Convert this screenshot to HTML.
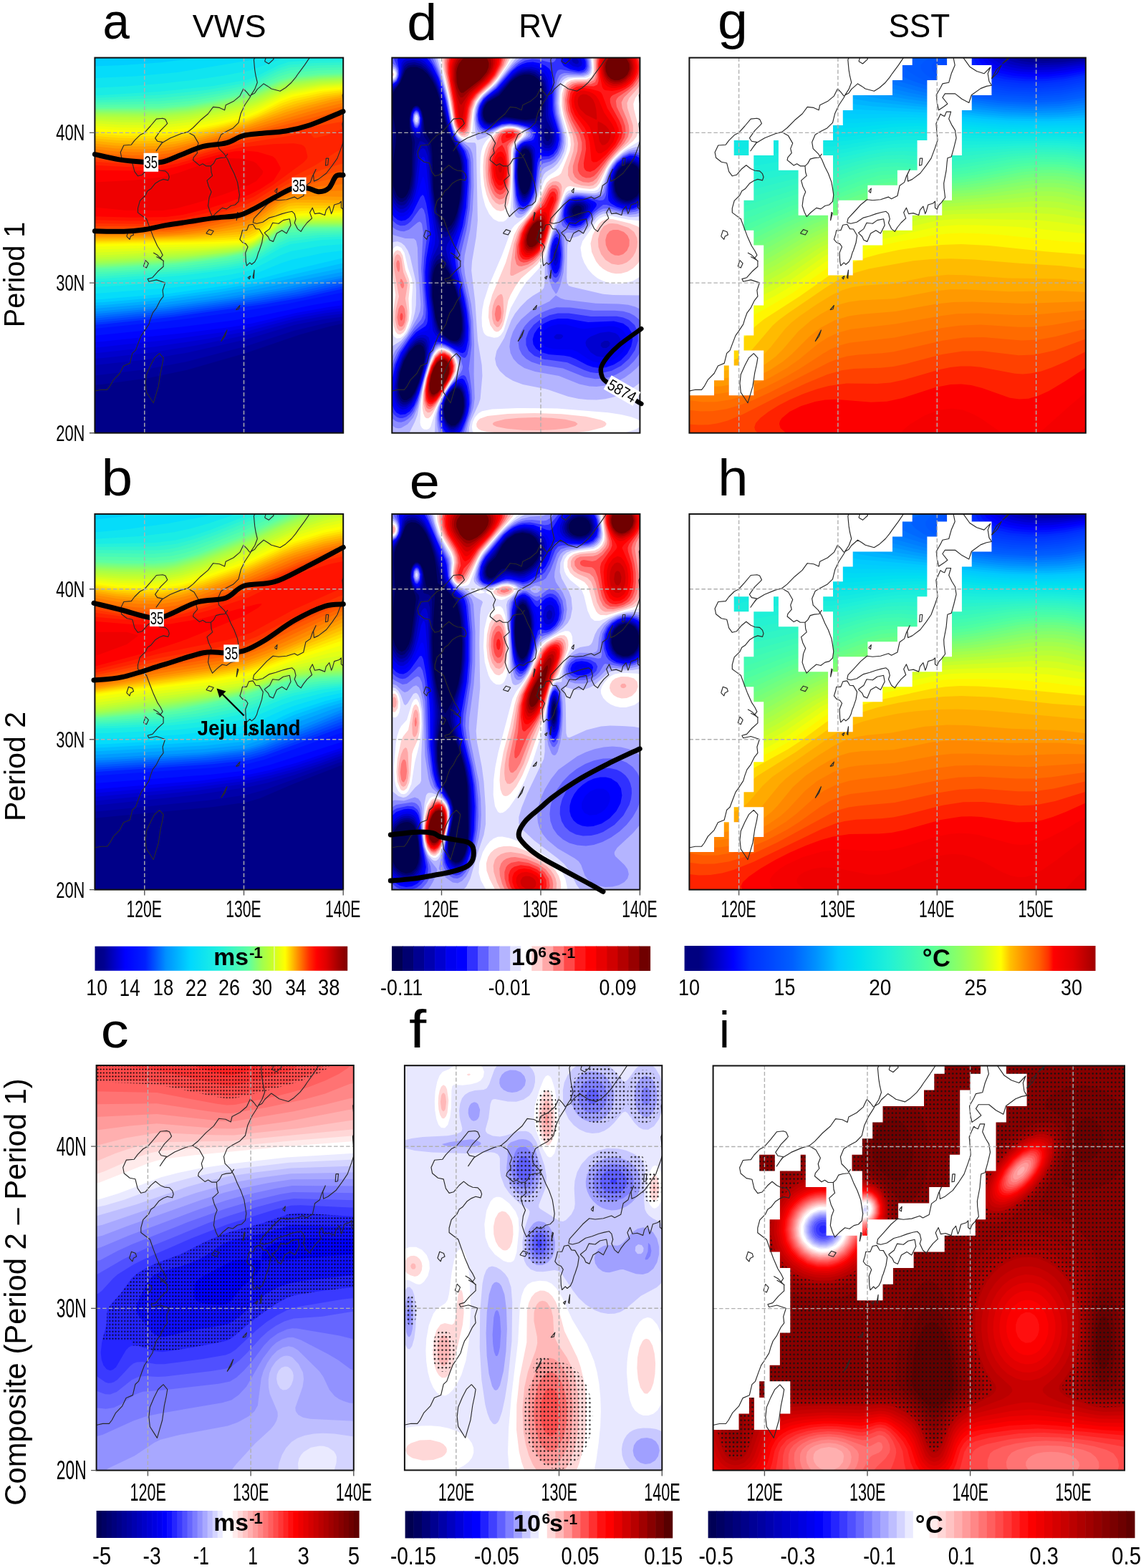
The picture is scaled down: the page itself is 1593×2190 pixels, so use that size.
<!DOCTYPE html>
<html><head><meta charset="utf-8"><title>VWS RV SST composite</title>
<style>html,body{margin:0;padding:0;background:#fff;}svg{display:block;}</style></head>
<body>
<svg xmlns="http://www.w3.org/2000/svg" width="1593" height="2190" viewBox="0 0 1593 2190" font-family="'Liberation Sans', Arial, sans-serif">
<defs><pattern id="dotc" width="4.19" height="4.95" patternUnits="userSpaceOnUse" x="0.3" y="1.1"><circle cx="2.1" cy="2.5" r="1.05" fill="#000"/></pattern><pattern id="dotf" width="5.28" height="6.13" patternUnits="userSpaceOnUse" x="2.4" y="0.8"><circle cx="2.64" cy="3.06" r="1.2" fill="#111"/></pattern><clipPath id="clipa"><rect x="132.4" y="80.6" width="346.8" height="524.1"/></clipPath><clipPath id="clipd"><rect x="547.3" y="80.6" width="346.1" height="524.1"/></clipPath><clipPath id="clipg"><rect x="962.4" y="80.6" width="553.4" height="524.1"/></clipPath><clipPath id="clipb"><rect x="132.4" y="717.9" width="346.8" height="524.7"/></clipPath><clipPath id="clipe"><rect x="547.3" y="717.9" width="346.1" height="524.7"/></clipPath><clipPath id="cliph"><rect x="962.4" y="717.9" width="553.4" height="524.7"/></clipPath><clipPath id="clipc"><rect x="134.6" y="1488.0" width="359.2" height="565.6"/></clipPath><clipPath id="clipf"><rect x="564.9" y="1488.2" width="359.4" height="565.2"/></clipPath><clipPath id="clipi"><rect x="995.6" y="1488.5" width="574.4" height="565.1"/></clipPath></defs>
<rect width="1593" height="2190" fill="#fff"/>
<g clip-path="url(#clipa)">
<rect x="132.4" y="80.6" width="346.8" height="524.1" fill="#fff"/>
<rect x="130.0" y="78.0" width="353.0" height="530.0" fill="#000088"/><path fill="#00009a" fill-rule="evenodd" d="M142 537L130 537.9L130 78L482 78L482 451.4L459.8 456L419 467.3L343.7 493L260.1 517L207.5 528L142 537Z"/><path fill="#0000ab" fill-rule="evenodd" d="M137 524.1L130 524.4L130 78L482 78L482 446.5L454 451.4L411 461.7L343 483.8L260 505.3L203 515.9L137 524.1Z"/><path fill="#0000bc" fill-rule="evenodd" d="M132 510L130 510.1L130 78L482 78L482 442L451.4 446L410.8 454L342 474.6L262 492.6L200 502.7L132 510Z"/><path fill="#0000cd" fill-rule="evenodd" d="M144 500L130 501L130 78L482 78L482 437.8L452 441.4L410 449.2L345 467.7L275 482.3L215 491.9L144 500Z"/><path fill="#0000de" fill-rule="evenodd" d="M136 493L130 493.3L130 78L482 78L482 433.8L453 437.4L411 445.1L346 462.5L290 473.3L216 484.3L136 493Z"/><path fill="#0000ef" fill-rule="evenodd" d="M139 485.1L130 485.6L130 78L482 78L482 429.7L454 433.4L412.1 441L349 457L309 464.3L231 475.1L139 485.1Z"/><path fill="#0004ff" fill-rule="evenodd" d="M133 478L130 478.1L130 78L482 78L482 425.8L458.2 429L413.7 437L353 451.5L323 456.7L262 464.6L133 478Z"/><path fill="#0012ff" fill-rule="evenodd" d="M130 469L130 78L482 78L482 418.3L436.6 426L355 442.8L326 447.6L251 456.8L130 469Z"/><path fill="#001fff" fill-rule="evenodd" d="M131 459L130 459L130 78L482 78L482 407.9L403 423.9L331 435.8L228 449.3L131 459Z"/><path fill="#0035ff" fill-rule="evenodd" d="M143 453.1L130 454L130 78L482 78L482 402.5L421.1 416L368 425L243 442.4L143 453.1Z"/><path fill="#0046ff" fill-rule="evenodd" d="M143 450L130 450.9L130 78L482 78L482 399.4L421.4 413L372 421.5L243 439.5L143 450Z"/><path fill="#0057ff" fill-rule="evenodd" d="M141 447.1L130 447.8L130 78L482 78L482 396.2L417 410.7L363 419.9L242 436.7L141 447.1Z"/><path fill="#0068ff" fill-rule="evenodd" d="M140 444L130 444.6L130 78L482 78L482 393.1L413 408.3L350 418.9L239 434.1L140 444Z"/><path fill="#0079ff" fill-rule="evenodd" d="M139 441L130 441.5L130 78L482 78L482 390.1L408 406.1L335 418.2L235 431.7L139 441Z"/><path fill="#008bff" fill-rule="evenodd" d="M138 438L130 438.4L130 78L482 78L482 387.3L401 404.3L326 416.7L230 429.4L138 438Z"/><path fill="#009bff" fill-rule="evenodd" d="M137 435L130 435.3L130 78L482 78L482 384.2L386 403.7L314 415.5L229 426.6L137 435Z"/><path fill="#00acff" fill-rule="evenodd" d="M131 431L130 431L130 78L482 78L482 379.1L360 403.5L298 413.5L219 423.7L131 431Z"/><path fill="#00bdff" fill-rule="evenodd" d="M147 426L130 426.9L130 78L482 78L482 373.6L353 400.3L304 408.6L229 418.7L147 426Z"/><path fill="#00ceff" fill-rule="evenodd" d="M146 422L130 422.8L130 82.1L170 80.3L188.8 78L482 78L482 366.7L356 395.4L313 403.2L233 414.4L146 422Z"/><path fill="#05dcfa" fill-rule="evenodd" d="M141 418.1L130 418.5L130 92.5L172 91L225 87.2L265.2 82L281.4 78L482 78L482 359.6L411 376.5L356.5 391L320.9 398L236.4 410L141 418.1Z"/><path fill="#10e4f0" fill-rule="evenodd" d="M134 410L130 410.1L130 109L189 106.4L248 101L344 85.1L361.5 81L368.1 78L482 78L482 349.6L452 353.2L409 362.3L394 367.1L352 384.3L320 391.2L282.1 397L240 401.8L134 410Z"/><path fill="#1aece5" fill-rule="evenodd" d="M133 401L130 401.1L130 122.8L173 120.7L228 116.4L269 111.9L310 105.9L349 98.4L404 78L482 78L482 340.9L448 343.5L406 351.1L391 356.8L352 376.4L342 379.6L322 383.4L288 388.4L248 392.7L184 398L133 401Z"/><path fill="#26f1da" fill-rule="evenodd" d="M134 393L130 393.1L130 133.7L221.5 128L297.9 120L347 111.1L359.4 106L388 91.6L403 86.5L435 84.3L482 83.4L482 333.6L448 335.2L406 341.1L391 347.1L351 369.7L342 372.7L323 376.3L254 384.8L183 390.4L134 393Z"/><path fill="#32f4ce" fill-rule="evenodd" d="M147 389L130 389.6L130 137.2L224 132.6L288 125.8L346 115.2L359 110.1L389 95.2L404 90.4L439 87.9L482 86.9L482 330.2L445 331.8L405 337L390 343.2L352 365.6L342 369.1L325 372.5L293 377.3L257 381.2L147 389Z"/><path fill="#3ef7c2" fill-rule="evenodd" d="M142 386L130 386.4L130 140.2L222 137.3L274.2 132L311 126L345 118.9L358 114L389 99.1L404 94.3L441 91.4L482 90.4L482 327.2L442 328.6L404 333L389 339.6L351 362.6L341 366.1L322 369.8L290 374.5L252 378.6L142 386Z"/><path fill="#49fab7" fill-rule="evenodd" d="M137 383L130 383.2L130 143.3L222 141.5L268 137L304 131L345 122.2L358 117.4L389 103L404 98.3L442 95L482 93.9L482 324.4L440 325.5L404 328.9L389 335.5L361 353.7L350 359.7L340 363L317 367.4L284 372.1L245 376.1L137 383Z"/><path fill="#55fdab" fill-rule="evenodd" d="M158 379L130 380L130 146.3L222 145.2L264 141.3L300 135.3L344 125.9L358 120.9L389 106.9L404 102.3L443 98.6L482 97.4L482 321.8L436 322.7L403.9 325L389 331.4L361 350.2L350 356.3L341 359.4L319 363.8L254 372.3L158 379Z"/><path fill="#5fffa1" fill-rule="evenodd" d="M154 376L130 376.7L130 149.4L222 148.8L262 145.3L297 139.4L344 129.3L358 124.5L389 110.9L404 106.3L444 102.2L482 100.9L482 319.4L420.2 320L403 321.4L388.2 328L361 346.7L349 353.4L340 356.4L315 361.3L249 369.7L154 376Z"/><path fill="#6cff91" fill-rule="evenodd" d="M152 374L130 374.6L130 151.4L222 151.2L262 147.7L298 141.6L344 131.6L358 126.8L389.9 113L404 108.7L445 104.4L482 103L482 317.8L413 318.1L403 319.2L388 325.9L361 344.7L349 351.4L340 354.5L315 359.3L283 364L246 367.9L152 374Z"/><path fill="#77ff84" fill-rule="evenodd" d="M141 373L130 373.2L130 152.8L222 152.7L261 149.4L296 143.5L345 132.8L358 128.3L390 114.5L405 110.1L446 105.7L482 104.3L482 316.7L413 316.9L403 317.9L389 324.1L361 343.5L349 350.3L339 353.6L313 358.5L281 363L241.7 367L141 373Z"/><path fill="#81ff76" fill-rule="evenodd" d="M156 371L130 371.8L130 154.2L222 154.4L261 151.1L298 144.7L345 134.5L359 129.5L390 116.1L405 111.6L446 107L482 105.7L482 315.6L413 315.7L403 316.8L388.8 323L361 342.4L350 348.8L340 352.2L318 356.4L251 364.8L156 371Z"/><path fill="#8cff69" fill-rule="evenodd" d="M142 370L130 370.3L130 155.7L222 156.1L262 152.7L297 146.7L344 136.5L358 131.6L390 117.7L405 113.1L446 108.4L482 107L482 314.5L413 314.6L403 315.6L388.7 322L361 341.4L350 347.8L340 351.2L317 355.4L284 360.1L246 363.8L142 370Z"/><path fill="#97ff5c" fill-rule="evenodd" d="M154 368L130 368.7L130 157.3L221 157.9L262 154.4L298 148.2L345 137.9L358 133.3L390 119.3L405 114.7L447 109.7L482 108.2L482 313.3L413 313.5L403 314.6L388.6 321L361 340.4L351 346.3L342 349.7L322 353.5L256 361.5L154 368Z"/><path fill="#a2ff4e" fill-rule="evenodd" d="M138 367L130 367.2L130 158.8L221 159.7L262 156.2L298 150L345 139.7L359 134.7L390 121L405 116.3L447 111L482 109.5L482 312.1L413 312.4L403 313.5L388.6 320L362 338.8L351 345.3L341 348.9L321 352.5L251 360.4L138 367Z"/><path fill="#aeff42" fill-rule="evenodd" d="M135 365L130 365.1L130 160.9L220 162.1L263 158.4L299 152.2L345 142L359 137L390 123.2L405 118.4L447 112.8L482 111.1L482 310.5L413 311L403 312.2L389 318.5L362 337.6L351 344.1L342 347.4L325 350.4L293 354.7L255 358.2L135 365Z"/><path fill="#baff36" fill-rule="evenodd" d="M151 362L130 362.7L130 163.3L220 164.8L263 161.1L300 154.7L345 144.7L359 139.7L391 125.3L406 120.6L448 114.6L482 112.9L482 308.7L414 309.4L403 310.6L389 317L353 341.7L344 345.4L334 347.4L268 355L151 362Z"/><path fill="#c6ff2b" fill-rule="evenodd" d="M134 360L130 360.1L130 165.8L171 167.4L219 167.6L241 166.5L265 163.6L300 157.5L345 147.5L359 142.4L391 127.9L406 123L449 116.4L482 114.6L482 306.9L415 307.8L403 309.1L389 315.6L355 339.3L346 343.4L337 345.4L269 352.6L134 360Z"/><path fill="#d4ff21" fill-rule="evenodd" d="M154 356L130 356.8L130 168.7L170 170.7L218 170.9L241 169.7L265 166.8L301 160.3L345 150.5L359 145.3L392 130L407 125.1L450 118.2L482 116.3L482 305.1L417 306.1L403 307.6L389 314.2L355 338.1L347 341.8L339 343.7L281 349.3L154 356Z"/><path fill="#e2ff16" fill-rule="evenodd" d="M155 352L130 352.8L130 172.1L170 174.4L217 174.8L239 173.6L264 170.6L301 163.8L345 153.7L359 148.3L392 132.6L407 127.5L450 120L482 118L482 303.3L427 304.2L404 305.8L389 312.8L356 336.2L348 340.1L340 342.1L287 346.3L155 352Z"/><path fill="#efff0c" fill-rule="evenodd" d="M152 348L130 348.6L130 175.5L169 178.2L215 178.7L238 177.6L264 174.3L301 167.3L345 157L359 151.6L392.5 135L407 129.9L449.8 122L482 119.8L482 301.5L423 302.6L403 304.4L389 311.2L355.7 335L348 338.6L341 340.4L294 343.4L152 348Z"/><path fill="#fcff02" fill-rule="evenodd" d="M153 344L130 344.6L130 179.1L170 182.1L213 182.7L237 181.6L264 178.2L303 170.6L345 160.6L360 154.5L392.2 138L408 132.3L451 124L482 121.8L482 299.3L427 300.3L403 302.4L389 309.2L356.1 333L348 336.9L342 338.4L300 340.6L153 344Z"/><path fill="#fff100" fill-rule="evenodd" d="M150 341L130 341.4L130 182.7L168 185.9L211 186.6L236 185.5L264 181.7L304 173.7L346 163.4L361 157.2L392.8 141L409 135.1L448.1 127L482 124L482 296.7L432 297.5L404 299.5L389 306.7L355.7 331L349 334.3L342 336.1L298 338L150 341Z"/><path fill="#ffe000" fill-rule="evenodd" d="M151 339L130 339.3L130 186L167 189.2L205 189.9L231 189L259 185.4L299 177.3L345 166.1L360 160.2L393.3 144L409 138.4L451.8 129L482 125.9L482 293.9L427 294.6L404 296.2L389 303.6L356.2 328L349 331.6L342 333.4L277 336.5L151 339Z"/><path fill="#ffce00" fill-rule="evenodd" d="M161 337L130 337.4L130 189.5L165 192.6L201 193.4L228 192.7L255 189.1L295 180.8L345 168.4L360 162.9L395 146.9L411 141.6L452 132.1L482 128.2L482 290.6L414 291L403 292.3L389 299.4L356 324.4L348 328.4L341 330.2L268 334.8L161 337Z"/><path fill="#ffbd00" fill-rule="evenodd" d="M178 335L130 335.4L130 193L164 196.1L198 197L226 196.3L252 192.8L290 184.7L345 170.8L397 149.9L415 144.2L454 134.8L482 130.6L482 287.1L413 287L403 288.1L389 295.2L355.1 321L347 325L340 326.7L266 332.9L178 335Z"/><path fill="#ffac00" fill-rule="evenodd" d="M202 333L130 333.5L130 196.6L162 199.7L194 200.7L224 200L248 196.9L282 189.4L346 172.9L399 152.9L422.1 146L458.5 137L482 133L482 283.7L414 282.8L403 284L388 291.6L355 316.9L347 320.9L340 322.9L272 330.5L202 333Z"/><path fill="#ff9b00" fill-rule="evenodd" d="M224 331L130 331.5L130 200.2L161 203.5L190 204.5L221 204L244 201.1L273 194.6L346 175.3L401 156L428.2 148L463.4 139L482 135.6L482 280.1L438 278.8L405 279.4L391 285.5L358 310.6L343 318.1L284.5 327L224 331Z"/><path fill="#ff8a00" fill-rule="evenodd" d="M229 329L130 329.4L130 204L160 207.3L188 208.5L220 208L241 205.3L266 199.5L347 177.8L417.7 155L461.6 143L482 138.8L482 275.1L442 274L406 275.5L399 277.7L391 281.9L358 306.2L343 313.8L286 324.1L258 327.2L229 329Z"/><path fill="#ff7900" fill-rule="evenodd" d="M224 327L130 327.1L130 207.8L159 211.3L186 212.6L218 212.3L238 209.8L353 179.3L441.2 153L482 143.1L482 266.1L448 266.9L407 271.9L392 278.3L358 301.8L342 309.4L310 316.5L279.1 322L251 325.4L224 327Z"/><path fill="#ff6800" fill-rule="evenodd" d="M237 324L130 324.8L130 211.7L159 215.4L185 216.9L217 216.6L236 214.3L256 209.6L310 193.7L361 180.6L448 156L482 147.7L482 256.7L447 260L405 269.3L390 276.5L356 298.6L340 305.3L283.6 318L237 324Z"/><path fill="#ff5700" fill-rule="evenodd" d="M227 322L130 322.2L130 215.5L158 219.2L184 220.8L216 220.7L234 218.8L254.3 214L320 194.3L482 152.7L482 247.3L469 248.8L449 252.8L406 265.4L391 272.7L357 293.6L340 300.6L276.6 316L251.2 320L227 322Z"/><path fill="#ff4600" fill-rule="evenodd" d="M231 319L130 319.3L130 218.9L158 222.5L183.7 224L217 224L235 222L256.2 217L325 196.2L482 160.1L482 237.8L472 239.2L451 244.7L409 259.3L393 267.3L359 288L342 295.5L279.6 312L254 316.6L231 319Z"/><path fill="#ff3400" fill-rule="evenodd" d="M229 316L130 315.9L130 222.1L157 225.2L181 226.5L216 226.6L233 225L255.9 220L303 205.4L329 198.6L429 178.5L482 169.2L482 228.1L473 229.7L451 236.5L410 252.8L395 260.8L360 282.9L342.5 291L308 301.3L278 308.8L252 313.6L229 316Z"/><path fill="#ff2300" fill-rule="evenodd" d="M235 312.1L213 313L130 312.1L130 225.6L179 229.2L214 229.3L230 228.1L254 223.3L304 208.3L331 201.8L429 185.5L433 186.4L438 192.3L441 192.6L457 188.7L477 180.3L482 179.2L482 205.9L476 207.9L439.8 231L404 249.4L356 280.1L340 287.2L293 301.3L262 308.3L235 312.1Z"/><path fill="#ff1200" fill-rule="evenodd" d="M229 308L181 308.4L130 307.2L130 230.6L176 233.1L223 232.5L248 228.4L307 211.6L339 205.4L382 201.3L410 200.3L421 202L424.3 204L426.6 207L429.5 219L428.3 222L423.7 227L381 258.4L354 275.1L329 284.9L286 298L256 304.7L229 308Z"/><path fill="#fe0000" fill-rule="evenodd" d="M232 303.1L184 303.7L130 302.1L130 237.8L191 238.4L227 236.9L248 232.5L309 214.9L327 211.6L342 210.4L359.3 212L381 218.5L385 222.1L391.6 234L391.5 237L382 252L363.4 264L347.8 272L317.3 283L284.5 293L255 299.9L232 303.1Z"/><path fill="#ef0000" fill-rule="evenodd" d="M227 294L174 293.8L130 289.3L130 254.7L186 251.7L226 247.4L249 241.6L294.8 225L317 220.9L335 221.5L354 225.8L358 228.2L367.3 239L366.4 243L357.9 253L348 258.3L311 271.9L272.9 284L247 290.9L227 294Z"/>
<path d="M262.0 184.4L252.8 186.7L237.8 192.8L225.6 200.1L221.2 206.4L218.1 210.8L221.9 205.3L227.1 198.6L219.7 197.2L216.6 192.8L224.1 182.3L231.7 174.7L233.7 172.4L230.9 166.6L227.1 165.3L218.4 166.1L210.1 176.0L201.5 185.6L195.5 188.6L187.9 196.1L183.3 202.2L172.8 203.0L168.2 212.7L169.7 220.2L177.3 226.3L184.8 227.8L187.9 239.7L192.5 245.8L198.4 244.3L205.9 235.7L212.0 230.7L218.4 235.7L224.1 238.2L230.9 238.9L234.8 242.7L236.3 247.3L234.8 251.9L228.1 250.4L222.6 252.5L216.6 256.3L210.5 263.8L205.9 266.8L203.0 272.8L195.4 280.4L192.5 290.9L192.5 296.9L198.4 301.4L204.5 305.8L209.0 317.9L213.6 329.9L219.7 343.5L224.1 350.2L227.1 356.3L224.0 360.5L228.1 364.7L228.1 372.2L220.2 379.3L212.9 387.7L206.1 389.6L207.9 393.2L218.4 390.9L230.6 394.9L227.1 405.5L228.1 413.9L223.7 419.6L218.4 430.1L213.1 437.2L210.1 445.4L207.9 452.9L200.8 463.6L197.2 468.6L193.7 477.4L189.3 489.4L184.8 493.4L181.4 507.4L172.5 511.0L167.2 521.5L158.5 530.3L153.2 539.7L149.6 544.3L140.9 544.3L132.0 546.2M262.0 184.4L271.0 189.6L277.1 200.1L274.0 207.6L275.6 213.7L270.3 219.8L269.5 223.6L274.0 227.3L278.6 231.1L283.0 228.8L287.6 231.8L294.4 231.8L295.1 240.8L296.6 245.4L289.0 252.1L291.4 260.5L295.1 268.0L292.1 275.6L290.5 287.5L293.6 296.5L296.6 302.6L302.7 296.5L310.2 290.4L316.3 291.9L322.3 287.5L328.4 286.0L333.0 281.4L334.4 272.4L333.0 263.4L331.5 254.4L326.9 242.2L322.3 233.2L317.9 222.7L313.3 215.2L305.7 207.6L304.1 198.6L308.7 188.1L316.3 183.5L325.4 178.9L333.0 171.4L336.3 158.2L341.7 146.8L348.8 136.2L350.5 132.8L355.7 129.9L359.3 124.6L368.1 116.9L373.8 120.4L378.8 124.0L391.1 127.3L398.7 122.5L406.9 115.2L412.8 108.1L416.4 102.8L425.1 91.1L432.2 80.6L440.4 68.0M369.6 85.8L375.2 89.0L382.1 82.7L379.3 74.3L372.4 76.4L369.6 85.8M353.2 311.0L358.5 312.3L366.8 310.2L376.1 304.1L384.9 301.8L393.6 298.6L401.5 296.5L407.8 295.3L411.2 298.6L413.0 305.8L411.2 311.2L415.4 319.6L420.1 323.4L423.7 317.5L428.8 311.0L435.5 304.9L432.5 296.9L436.2 290.2L439.4 298.6L445.9 297.6L453.5 300.5L455.3 293.4L459.8 288.1L462.6 298.6L464.1 295.3L466.7 286.0L473.7 284.0L476.4 281.2L476.4 290.2L479.2 292.3L481.7 286.5L485.3 282.9L490.6 276.0L488.9 263.0L488.6 255.9L492.1 238.2L493.1 227.3L493.9 220.8L499.2 219.0L502.6 206.6L506.1 192.8L504.4 182.1L500.0 174.9L495.7 166.1L498.6 156.1L492.4 156.1L489.6 162.4L486.8 161.3L484.1 159.2L481.6 164.5L477.8 172.8L479.9 195.9L476.4 206.4L470.9 221.1L463.9 231.1L455.6 242.0L444.5 250.4L438.4 253.1L437.6 244.1L441.1 236.4L436.2 246.2L433.4 254.6L426.9 259.2L423.7 273.5L415.4 277.7L411.1 275.1L400.1 278.7L389.0 279.8L381.1 278.7L372.4 286.0L362.7 296.5L354.6 305.1L353.2 311.0M353.2 313.3L347.4 314.3L344.4 321.7L338.4 321.7L337.3 326.9L334.9 334.3L338.4 338.5L343.3 340.6L346.0 344.7L342.7 353.1L343.3 365.7L344.4 371.2L348.8 366.8L351.4 369.3L355.7 365.7L358.5 360.5L360.6 353.1L362.0 350.0L365.6 339.3L367.3 328.8L362.0 320.0L357.1 319.6L353.2 313.3M369.1 325.2L376.5 319.6L380.7 311.2L389.0 312.3L395.4 307.6L404.3 305.8L406.0 314.6L400.1 325.9L393.6 321.7L386.3 325.9L381.4 337.4L376.5 335.3L374.3 330.5L369.1 325.2M505.6 70.1L502.1 80.6L504.2 91.1L499.2 102.8L495.7 115.2L486.8 116.9L484.1 122.5L478.1 132.8L479.2 143.5L481.6 153.8L488.9 148.7L493.9 145.0L486.8 136.2L490.3 130.9L497.2 130.9L504.4 130.9L513.9 138.3L523.9 143.5L527.3 132.8L540.2 123.6L548.6 120.4L555.5 119.2L552.0 113.5L550.4 102.8L553.8 94.0L545.0 102.8L534.7 99.5L525.0 93.2L516.8 81.9L509.7 72.2L505.6 70.1M214.2 353.1L219.8 356.3L227.1 363.6M218.4 358.4L224.0 361.5L228.8 364.7M262.0 184.4L269.5 178.5L280.0 167.8L290.5 159.0L297.6 149.4L306.5 150.4L313.6 153.8L315.2 146.8L325.9 141.6L334.9 134.1L339.9 124.0L344.6 128.8L348.8 134.1M349.5 134.1L355.7 124.6L359.3 115.2L357.1 105.8L355.7 97.6L354.4 83.5L358.5 74.3M294.4 231.8L298.2 228.4L301.6 222.1L307.2 220.6L314.1 220.0L317.9 214.8M455.2 221.1L458.7 221.1L457.7 230.5L454.5 231.1L455.2 221.1M383.5 267.2L387.0 263.0L386.3 269.3L383.5 267.2M330.1 308.1L332.9 297.6L331.5 296.5L330.1 308.1M287.8 325.9L291.9 320.6L298.2 322.7L294.7 328.0L287.8 325.9M353.0 387.7L355.0 377.2L354.4 388.8L353.0 387.7M346.0 387.7L349.5 385.6L348.1 389.8L346.0 387.7M329.4 432.8L334.9 426.5L333.5 431.7L329.4 432.8M308.6 476.8L316.9 461.1L314.1 469.5L308.6 476.8M222.6 493.6L228.1 499.9L226.7 508.3L224.0 520.8L221.2 539.7L214.2 562.8L210.1 556.5L204.5 548.1L203.1 535.5L204.5 522.9L210.1 510.4L215.6 499.9L222.6 493.6M176.8 330.1L179.6 321.7L185.1 323.8L186.5 328.0L182.3 330.1L181.0 334.3L176.8 330.1M200.4 372.0L203.1 363.6L207.3 367.8L204.5 374.1L200.4 372.0M555.5 109.9L562.4 97.4L569.4 91.1L563.8 101.6L555.5 109.9M570.8 89.0L579.1 80.6L584.6 76.4L576.3 84.8L570.8 89.0" stroke="#2a2a2a" stroke-width="1.15" fill="none" stroke-linejoin="round"/>
<path d="M201.8 80.6V604.7M340.5 80.6V604.7M132.4 395.1H479.2M132.4 185.4H479.2" stroke="#b0b0b0" stroke-width="1.4" stroke-dasharray="5.5 3" fill="none"/>
</g>
<rect x="132.4" y="80.6" width="346.8" height="524.1" fill="none" stroke="#111" stroke-width="2"/>
<path d="M132.4 215.6C138.1 216.8 155.1 221.1 166.3 222.9C177.5 224.7 189.6 225.6 199.6 226.2C209.6 226.8 217.3 227.9 226.2 226.2C235.1 224.5 243.4 219.8 252.8 216.2C262.2 212.6 272.3 207.4 282.8 204.6C293.3 201.8 306.6 202.1 316.0 199.6C325.4 197.1 331.0 191.8 339.3 189.6C347.6 187.4 356.0 187.4 366.0 186.3C376.0 185.2 388.1 184.9 399.2 183.0C410.3 181.1 419.2 179.2 432.5 174.7C445.8 170.1 471.2 158.9 479.0 155.7" stroke="#000" stroke-width="7.0" fill="none" stroke-linecap="round" stroke-linejoin="round"/><path d="M132.4 322.7C139.2 322.8 161.8 323.6 173.0 323.3C184.2 323.0 189.6 322.5 199.6 321.0C209.6 319.5 221.8 316.3 232.9 314.4C244.0 312.5 255.0 311.1 266.1 309.4C277.2 307.7 288.3 305.8 299.4 304.4C310.5 303.0 323.8 302.9 332.7 301.0C341.6 299.1 344.3 296.8 352.6 292.7C360.9 288.6 373.2 281.1 382.6 276.1C392.0 271.1 401.4 265.0 409.2 262.8C416.9 260.6 423.0 262.0 429.1 262.8C435.2 263.6 440.8 267.8 445.8 267.8C450.8 267.8 455.2 266.4 459.1 262.8C463.0 259.2 465.7 249.2 469.0 246.2C472.3 243.1 477.3 244.8 479.0 244.5" stroke="#000" stroke-width="7.0" fill="none" stroke-linecap="round" stroke-linejoin="round"/><g transform="translate(210.8,226.8) rotate(0)"><rect x="-10.2" y="-13.1" width="20.5" height="26.1" fill="#fff"/><text x="0" y="8.5" font-size="23.5" text-anchor="middle" textLength="18.5" lengthAdjust="spacingAndGlyphs">35</text></g><g transform="translate(417.5,259.5) rotate(0)"><rect x="-10.0" y="-11.7" width="20.0" height="23.3" fill="#fff"/><text x="0" y="8.5" font-size="23.5" text-anchor="middle" textLength="18.5" lengthAdjust="spacingAndGlyphs">35</text></g>
<g clip-path="url(#clipd)">
<rect x="547.3" y="80.6" width="346.1" height="524.1" fill="#fff"/>
<rect x="545.0" y="78.0" width="352.0" height="530.0" fill="#000050"/><path fill="#000070" fill-rule="evenodd" d="M896 607L545 607L545 78L896 78L896 247L893.1 238L888.7 232L883 228.7L876 228.5L869 232L863 238.8L859.3 247L857.9 257L859.4 267L863 274L868 278.2L875 280.2L882 279L889 274L893.5 267L896 258.5L896 607ZM625.4 318L630 314.5L634.4 307L638 297L641.2 283L643.3 266L644.2 248L643.8 233L642 221L638.6 211L624.4 182L612.9 136L609 124.4L604.1 114L597 103.4L590 97L582 93.4L573 93.5L569 95.2L566 98.2L559.1 115L549.1 129L546.7 136L546.9 152L552.1 181L553 191L552.4 201L547.4 235L547.5 248L549.1 260L554 272.5L557 275.8L560 277.1L563 276.7L566.4 274L569.1 270L571.8 263L574.8 244L575.6 199L571.7 177L571.6 165L573.2 157L575.9 151L579 147.9L583 147.6L586 150L589.1 156L591.2 165L593.2 184L600 195.3L602.3 203L603.5 215L605.1 263L607.2 280L610.2 295L613.5 306L617 313.4L621 317.6L625.4 318ZM687.4 171L700 164.4L705 163L734 167.2L746 165.6L752 162.6L754.9 158L757 151L758.8 133L756.7 120L754.5 115L751 110.3L745.3 106L739 103.9L732 103.9L725 106L719 109.4L713 114.6L697 133.5L681 142.8L677.6 147L675.4 152L674.5 157L675 162.6L676.8 167L679.6 170L683 171.3L687.4 171ZM733.4 271L737 267.3L739.8 260L741.7 250L742.5 237L742 224L740.4 215L737.8 210L734 207.8L731 208.5L729.1 210L726 215.8L724.2 225L723.4 238L724 251.6L726 262.6L729 269.2L731 270.9L733.4 271ZM805.9 301L810.1 298L812.4 293L811.4 289L808 287.2L805 287.3L802 288.6L799.8 291L798.8 294L799 297.2L800.7 300L803 301.2L805.9 301ZM637.1 476L640 474.4L642.3 471L644.7 460L644.4 444L641.5 425L635.2 402L627 381.5L620 370.2L617 367.8L614 367.2L610 369.6L607 374.8L604.9 382L603.7 391L603.9 414L608.1 443L612.6 458L618.2 467L628 474.4L633 476.1L637.1 476ZM567.8 559L574 554.7L579 547.3L585 532.5L590 515L592.5 502L593 491.8L591 484.5L587 481.3L583 481.4L579 483.5L571 491.9L563.7 505L558.6 520L556.2 536L557.1 549L561 557.1L564 559L567.8 559ZM635.4 594L639.9 590L643.4 584L646.2 576L647.6 567L647.2 557L645.2 549L642 543.7L638 541.9L632 544.5L626 551.8L621.5 562L619.7 572L620.8 582L624.5 590L630 594.5L635.4 594Z"/><path fill="#000090" fill-rule="evenodd" d="M896 607L545 607L545 154.5L549.3 180L550.1 191L545.7 231L545.7 251L549.3 269L552 275.2L556 280.3L559 282L562 282.1L567 278.9L572 270.2L575.3 258L576.9 245L577.5 217L579.3 199L578.5 194L573.2 179L572.2 167L574.6 155L577 150.8L580 148.6L582 148.4L584.8 150L588.4 156L590.6 167L591.1 188L592.2 191L598 199L600.1 205L601.8 218L603.5 261L606.6 286L613.1 312L617 320L621 323.8L625 323.8L630 319.7L634.2 313L638.1 303L643.5 277L645.5 246L644.7 229L642.2 217L626.4 184L613.5 133L608.8 120L603 108.6L595 98.1L587 92.2L578 89.9L570 91.4L565 95.8L558.1 115L555 119.7L547.3 128L545 133L545 78L896 78L896 240.6L891.9 233L886.1 228L880 226.4L873 227.9L866 232.9L861 239.8L857.6 249L856.6 258L857.8 267L861 274.4L866 279.3L873 281.9L880 281.6L887 278.2L892 272.9L896 264.9L896 607ZM688.6 172L700 166.3L706 164.8L733 168.8L753 168.6L756 167.5L757.7 163L760 148L760.8 130L758.2 117L755.7 112L752 107.4L746 103.3L739 101.3L732 101.5L725 103.8L719 107.3L713 112.3L696 131.9L680 142.1L676.3 147L674.3 152L673.4 158L674.1 164L676.4 169L679.9 172L684 172.9L688.6 172ZM765.9 197L768.3 193L768.1 187L766 182L762 178.9L760.8 180L760.1 183L760.3 192L763 197L765.9 197ZM732.8 274L737 270.4L740.2 263L742.5 251L743.4 237L743 223L741.7 214L738.5 208L734 205.9L729 208L725.5 214L723.6 223L722.7 237L723.2 252L725.2 264L729 272.3L732.8 274ZM805.8 304L811.6 300L815.4 293L814.9 288L810 284.9L805 284.8L801 286.3L798.2 289L796.5 293L796.5 298L798.6 302L802 304.1L805.8 304ZM638.7 478L641.7 476L643.5 473L646.1 461L645.6 444L642.2 423L635.2 398L626 375.1L619 363.9L616 361.8L613 361.8L609 365L606 370.5L603.6 379L602.2 390L602.8 415L607.6 447L611.7 460L618 469L629 476.5L635 478.3L638.7 478ZM567.1 562L571 560.1L574 557.3L579.4 549L585 535L591 514.1L594 499L594.4 489L592.5 482L591 479.9L588 478.2L584 478.3L580 480.2L571 489.4L562.7 504L557.3 520L554.7 537L555.7 551L557.3 556L560 560L563 561.9L567.1 562ZM635.6 596L640 592.1L644.2 585L647.3 576L648.6 567L648.3 557L646.2 548L643 542.3L639 540.2L633 542.4L626 550.5L621.1 561L618.9 572L620 583L624 591.8L627 595L630 596.6L635.6 596Z"/><path fill="#0000b0" fill-rule="evenodd" d="M896 607L545 607L545 261.2L548.8 275L554 283.7L557 286.1L560 287.1L564 286.4L567 284.3L572.9 275L577.1 261L579 246L580.4 217L583 204.3L586 197.2L589 197.4L593 199.8L597 205.5L599.2 214L602.4 267L607.7 301L615 325L618 329.9L622 331.6L627 328.8L632 322.7L636 315L639.8 304L644.9 278L646.8 246L646 229L643.6 217L627.5 184L614.9 133L609.6 118L603.5 106L596 95.9L588 89.6L579 86.8L570 88L566.5 90L564 93L559.7 109L556.5 116L553 120.4L545 127.4L545 78L896 78L896 236.3L891.7 230L886 225.9L879 224.7L872 226.7L865.1 232L860.1 239L856.6 248L855.3 258L856.4 268L859.1 275L863.6 280L870 283.2L878 283.9L885 281.7L891 277L896 269.3L896 607ZM766 203L768.8 201L770.7 198L771.9 190L770 181.3L763.8 169L762.3 164L761.8 157L762.9 131L762 122L760.1 115L755 106.4L747 100.6L738 98.6L728 100.3L722 103.1L716 107.5L696 129.6L683 138L678 142.6L674.6 148L672.7 154L672.3 161L673.7 167L677.1 172L683 174.3L689 173.2L701 167.5L707 166.5L749 172.4L752.8 175L755 179L757.2 195L759 199.9L762 202.7L766 203ZM585 193.2L581 191L577 185.6L574.3 179L573.1 172L573.1 164L574.6 157L577.1 152L581 149.5L584 150.5L586.7 154L589.8 166L589 181.9L587 189.9L585 193.2ZM545 218L545 169.1L547.5 192L545 218ZM734.6 276L739 269.9L742.1 260L743.9 247L744.4 230L743.8 217L742.1 210L739 205.8L734 204.1L731 204.8L728.1 207L724.7 213L722.6 224L721.9 241L723 257.4L725.9 270L730 276.2L732 276.9L734.6 276ZM807.3 306L811 303.7L814.3 300L817.2 295L818.6 290L817.8 287L815.9 285L812 283.2L808 282.6L803 283.2L798.1 286L795.4 290L794.2 295L795 300.6L798 304.8L802 306.7L807.3 306ZM640.7 480L643.1 478L645.3 474L647.5 462L646.9 444L643.6 424L636.6 398L627 372.1L620 357.9L617 354.8L614 354.3L609 358.3L605.3 365L602.6 374L600.9 386L601.4 413L606.4 449L610.6 462L616.6 470L623.2 475L631 479L637 480.6L640.7 480ZM566.8 565L570 563.5L574 559.9L580 550.3L586 534.4L592 513L595.3 497L595.9 486L594 478.8L592 476.5L589 475L585 475.1L580 477.5L571 486.8L562.1 502L556 520L553.2 539L554.4 554L556.2 559L559 563L563 565.2L566.8 565ZM633.4 599L639 595.6L643.5 589L647.5 579L649.5 569L649.5 558L647.6 548L644.2 541L640 538.4L634 540.4L626.9 548L621.1 559L618.1 571L618.4 581L622 591.2L627 597.3L630 598.9L633.4 599Z"/><path fill="#0000d0" fill-rule="evenodd" d="M896 607L545 607L545 271.2L550 283.8L556 290.6L559 291.9L563 291.8L567 289.6L570.3 286L575.4 276L579.3 262L584.1 216L587 209L590 207L592 207.5L594 209.5L597 218.3L602.2 280L612.9 336L612.2 343L605 357.7L602.2 366L599.3 385L600.1 414L605.8 455L609 464L615.1 471L628 479.3L639 483.1L643 481.9L646.4 477L648.4 469L649 458L647.6 439L643.6 418L637.5 396L624.7 358L622.7 348L624.3 341L633 327.3L637.8 317L641.6 305L644.4 292L647.1 271L648.2 250L647.8 232L645.7 219L642.3 210L633 193.9L628.5 184L615 128.8L608.5 112L601 98.7L594 90.6L586 85.3L577 83.4L568 85.2L564.2 88L562.3 91L559.3 107L556.1 115L552 119.8L545 124.1L545 78L896 78L896 232.6L891 226.7L884 223.2L877 223.3L870 226.2L863.4 232L858.2 240L855.1 249L854 259L854.9 269L857.4 276L861.5 281L868 284.6L876 285.9L884 284.3L890.6 280L896 273.2L896 607ZM807.2 89L808.2 86L806 82.2L802 80.3L799 81.4L798.3 84L800 87.3L804 89.5L807.2 89ZM766.8 207L770 204.8L772.5 201L774 196L774.4 190L772.9 182L766.4 166L765 160L764.9 128L762.2 113L757 104L749 98.3L739 95.9L729 97.5L723 100.3L716 105.3L695.4 128L682 137.2L677.1 142L673.4 148L671.6 154L671.2 161L672.3 167L676 173.1L682 175.8L687 175.2L700 169.4L707 168L716 168.8L746 174.2L750 177L752.4 181L754.7 198L756.6 203L761 206.9L766.8 207ZM583 187.2L580 186.2L577 182.5L574.8 177L573.7 170L573.9 163L575.3 157L578 152.2L581 150.6L584 151.7L586.4 155L588.2 160L589.2 167L587.6 181L585.8 185L583 187.2ZM734.4 279L739 273.2L742.7 262L744.8 248L745.5 229L745.3 216L743.9 209L740 204L735 202.4L729 204.4L724.3 211L722.2 221L721.2 238L722.1 257L724.8 271L729 278.5L732 279.8L734.4 279ZM805 309L809 307.6L813.5 304L817.9 298L820.9 292L821.5 289L820.7 286L815.1 282L808 280.7L802 281.6L797 284.6L793.5 290L792.3 297L794.3 304L799 308.2L805 309ZM776.2 364L777.8 360L778.2 355L777.5 349L776 346.7L774 349.5L773.2 356L774 362.4L775 364.2L776.2 364ZM566.8 568L574 562.7L580 553.1L586 536.9L593 512L596.8 495L597.7 483L596 475.8L594 473.3L591 471.7L587 471.5L582 473.3L577 477.2L572 482.9L561.5 500L554.8 519L551.6 539L551.6 548L552.8 556L555 562.2L558 566.2L562 568.3L566.8 568ZM846.7 486L850.9 483L851.8 479L849 476.1L844 476L839.4 479L838.6 483L841.7 486L846.7 486ZM634.8 601L640 597L644.4 590L648.7 579L650.6 569L650.7 558L648.8 547L645.7 540L641 536.5L638 536.8L634 539L626 548.1L620 560L617.2 572L617.8 583L622 594.1L628 600.4L631 601.5L634.8 601Z"/><path fill="#0000f0" fill-rule="evenodd" d="M896 607L545 607L545 279.5L550.1 290L553 293.5L557 296.4L560 297.2L564 296.7L568 294.2L571 290.9L576.1 282L580.4 269L583.4 254L586.6 226L588 221.3L590 218.9L592 219.5L593 221.1L595 229L599.4 274L607.8 329L607 341L599.2 368L597.4 387L598.5 413L604.4 462L607.8 468L614.4 473L632 482.8L641 485.8L645 484.3L648 479.4L649.9 471L650.5 460L649.5 443L646.3 424L641.4 404L630.2 367L627.8 353L629.3 343L637.4 325L641.6 313L646.7 289L648.9 269L649.8 248L649.2 231L647.3 219L643.8 210L634 193.7L629.5 184L626.2 173L620 142.3L615 124.6L608 107.1L600.2 94L593 86.1L585 81.3L576 79.8L566.5 82L563 84.4L560.7 88L558.9 105L556.2 113L552 118.3L545 121.7L545 78L793.6 78L792.5 83L795 88.7L800 92.4L807 94L811.6 92L812.8 88L811 82.3L807.2 78L896 78L896 229.1L890.7 224L884 221.3L877 221.5L869 225.2L862 231.8L856.9 240L853.6 250L852.5 260L853.3 270L855.3 277L859.2 282L866 286L875 287.9L883 286.8L890 283.1L896 276.7L896 607ZM766 211L770 209L773.9 204L776 198L776.6 192L775 181.2L767.4 158L766.9 126L764.6 111L760 102.2L752 96.1L742 93.2L731 94.3L724 97.4L716 103.1L695 126.3L681 136.5L676.5 141L672.7 147L670.7 153L670 160L671 167.3L675 174.4L681 177.2L687 176.5L701 170.5L708 169.4L721 170.8L744 175.9L748.2 179L750.8 184L751.6 201L752.8 205L759 210.2L766 211ZM583 184L580 183.5L577.1 180L575.2 175L574.3 169L574.5 163L576 157L578 153.5L581 151.7L584 152.9L586 155.8L588.4 166L587.2 178L585 182.5L583 184ZM734.2 282L737 279.4L740 274.5L744.1 261L746.1 244L747.3 214L746.8 208L745.2 205L741.2 202L736 200.7L729 202.8L724 209L721.7 218L720.5 235L721.2 257L724 272.7L728.2 281L731 282.7L734.2 282ZM806.2 311L811 308.8L815 305.1L824 291L824.6 288L823.7 285L818 280.9L810 279.1L802 279.8L796 283.1L792.1 289L790.7 298L793 305.8L795.9 309L799 310.7L806.2 311ZM776.4 371L779 365.7L780.1 354L779 344.3L778 341.7L776 340.2L774 342.2L772.6 346L771.3 358L773 368.6L775 371.3L776.4 371ZM841.9 499L849 497.7L855 495L860 491L864.4 485L866.4 479L866 473L863 468L859 465.2L850 463.2L838 464.7L824.7 470L820.5 473L818.1 476L817.5 479L818.3 483L824.5 492L833 497.5L841.9 499ZM783.6 473L786.3 470L785.4 468L783 466.7L777 466.7L773.5 470L773.9 472L776 473.5L780 473.9L783.6 473ZM567.1 571L574 565.7L580 555.9L586 539.5L594.1 511L598.7 491L600 478L598.4 471L594 468L589 467.6L583 469.6L578 473.4L573 478.9L561.3 497L553.5 518L549.9 541L550 551L551.3 559L554 566L557.5 570L562 571.9L567.1 571ZM633.6 604L639 600.9L644 593.7L649.2 581L651.7 570L652 558L650.1 546L646.8 538L645 535.9L642 534.4L639 534.7L635 536.9L626 546.9L619.7 559L616.3 572L616.8 584L620.7 595L627 602.5L630 603.9L633.6 604Z"/><path fill="#0000ff" fill-rule="evenodd" d="M548 119L545 119.6L545 78L565.8 78L561 81.1L558.5 85L558.3 103L556.3 111L553 116L548 119ZM896 607L633.4 607L639 604L644 597L650.2 582L653.1 569L653.3 556L650.7 542L647 534.2L645 532.5L642 531.9L638 533.3L634 536.3L626 545.8L619.4 558L615.6 571L615.3 582L618.5 594L624 603L627 605.6L630.7 607L545 607L545 287.2L550 296.1L556 301.5L559 302.5L563 302.5L569 299.2L574.1 293L579.1 283L590 247.3L591 247.1L592 248.8L594 257.2L602 307L604 325L603.5 337L597.5 364L595.7 383L596.1 402L599.8 441L600 454.1L599 458.8L597.3 461L584 465.6L575 473.6L562.7 491L555.6 506L549.8 527L547.9 546L549.5 562L551.8 568L555 572.5L561 575.5L567 574.4L573 570L579 561.2L586 542.2L602.6 480L605 474.6L608 473.5L612 474.4L638 487.6L644 488.9L647 487.3L649 484L651.9 470L651.8 452L649.2 431L644.4 409L633.7 371L631.5 356L632.9 345L644 313L648.4 290L651.3 254L651.3 237L650.1 224L646.6 212L634.7 193L629.7 182L619.3 135L610 107.6L605 97.6L599 88.5L593 82.2L586.5 78L788.4 78L788.1 84L791 90L798 94.7L807 96.9L813 95.4L815.6 91L815 84.8L811.2 78L896 78L896 225.7L889 220.5L882 219.1L874 220.7L866.9 225L860.3 232L855.1 241L851.9 252L851 263L851.6 273L853.2 279L857.7 284L865 287.9L874 289.9L882 289.3L889.7 286L896 280.2L896 607ZM733.9 285L737 282.4L739.9 278L744.2 266L746.6 252L748.9 222L750.7 215L752 213.4L754 213L765 214.8L771 212L776.1 205L778.6 194L777.3 182L771.3 164L769.5 156L768.9 121L766.6 106L763.4 100L758 95.2L750 91.4L742 90L735 90.5L728 92.8L721 96.8L714 102.6L694.3 125L681 135L675.9 140L670.7 149L668.8 159L669.3 166L671 171.4L674 175.8L678 178.3L685 178.4L702 171.5L712 170.8L724 172.5L740 176.4L744.9 179L747.9 183L749.2 191L747 198.6L744 199.6L735 199L729 201.3L723.8 207L720.9 217L719.8 245L722 269.6L724 277.3L727 283.2L730 285.5L733.9 285ZM583 181.5L580 181.2L578 179.1L576 174.6L575 169L576.3 158L578 154.8L581 152.8L583 153.4L585.3 156L587.7 165L586.7 176L585 179.7L583 181.5ZM807.1 313L812 310.5L815.8 307L827 291L828.2 288L827.9 285L823.4 281L814 277.9L804 277.6L797 280.1L791.8 286L789.9 291L789 297L789.4 302L791.2 307L794 310.4L798 312.8L803 313.7L807.1 313ZM777.3 376L780.4 368L781.7 354L780.2 341L779 337.5L777 335.4L774 337.4L772 342.2L770.4 350L769.8 359L772.1 373L775 376.9L777.3 376ZM846.9 506L855.3 503L863 498L869.6 491L873.9 483L875.4 475L874.2 468L870.4 462L864 457.8L857 455.8L849 455.4L815 459.2L808 458.2L790 453.3L779 452.9L771 454.7L764.3 458L759 462.5L755.5 468L754.4 473L755.3 478L758.3 482L763 485L773 487.4L799 488.6L806 491.3L820.3 501L828 504.9L837 506.8L846.9 506Z"/><path fill="#3030ff" fill-rule="evenodd" d="M549 117.3L545 117.7L545 78L558 78L555.8 81L555 84L557.4 99L556.8 107L554 113.4L549 117.3ZM896 607L639.7 607L644.5 600L649.5 588L653.5 575L654.9 565L654.5 552L652 539L648.4 531L646 529.1L644 528.7L640 530.1L636 533.1L627 543.2L620.1 555L615.4 568L614 579L615.3 589L619 599.3L624.3 607L545 607L545 295L550 302.7L555 307L560 308.6L566 307.5L571 303.9L575.7 298L587 275.1L590 272.1L592 274L595 283.8L598.8 305L600.4 321L600 334L595.2 361L593.6 380L594.1 401L597.4 437L597.1 448L596 452.5L594 455.6L581 463.9L572 474.3L559.5 493L552.6 509L547.4 530L545.7 550L547.8 566L550 571.6L553.1 576L559 579.3L566 578.5L572 574.5L578 566.6L584.6 550L602 488.6L606.5 479L610 477.2L616 478.2L627 483.2L642 492.3L646 493.2L649 491.4L650.8 488L653.5 475L653.8 456L651.4 434L647.4 414L636.9 374L634.9 359L636.1 348L645.6 317L650.6 290L653.2 254L652 224L648.1 211L636 193.3L630.3 181L621 136.9L612 108.4L603 89.9L593.4 78L783.6 78L783.3 86L786.9 92L796.4 97L808 99.3L814.2 98L816.5 96L817.8 93L817.7 86L814.2 78L896 78L896 222.3L888 217.7L880 217.2L871 220.5L862 227.9L855.7 237L851.4 248L849.6 258L849 275L849.6 280L852.8 284L861 288.7L870 291.5L877 292.2L884 291.2L890 288.6L896 283.8L896 607ZM733.7 288L737 285.2L740 281L744.8 269L747.5 255L750 228.2L752 221L755 218.4L766 218.2L772.1 215L778 206.6L780.6 195L779.5 183L773.4 163L771.6 154L771.2 112L769.8 101L766.9 96L761 91.5L753 88.2L744 86.5L736 87.2L729 89.5L722 93.6L715 99.3L694 123.3L680 134.3L674.5 140L669.6 149L667.6 159L668.1 167L669.9 173L673 177.5L677 180L684 180.1L701 173L712 171.9L724 173.6L737 177.1L742.6 180L745.8 184L746.8 190L745 194.7L742 196.4L732 198.3L727 201.3L722.1 208L720 217L719.1 248L721.4 273L723.6 281L726.1 286L730 288.8L733.7 288ZM583 179.3L580 179.1L578.1 177L575.7 169L576.7 159L579 155L581 154L583 154.6L585 157.1L587 165L586.2 174L583 179.3ZM803.5 316L811 313.7L818.3 307L832.5 288L833 285L830.7 282L820 277.5L808 275.7L799 277.1L793 281.5L790 286.4L788 293L787.4 300L788.3 306L790.4 310L794 313.4L799 315.6L803.5 316ZM776.6 382L779 379.2L781.2 373L783.1 355L781.2 337L779.1 332L777 330.8L774 333.3L771 340.6L769.1 350L768.5 359L769.2 369L771 376.8L774 381.8L776.6 382ZM846.4 513L857 509.3L867 502.9L875.6 494L881.1 484L883.3 474L882.1 465L877.3 457L870 451.8L857 448.6L821 450.1L792 445L779 444.9L769 447.2L759 452L751 458.6L745.9 466L743.7 474L744.6 481L748.4 487L755.7 492L766.3 495L788 496.7L796 498.2L804 501.4L819.9 510L828 512.8L837 514L846.4 513Z"/><path fill="#6060ff" fill-rule="evenodd" d="M548 116.1L545 115.8L545 78L551.3 78L550.2 83L555.6 95L556.5 104L553.8 112L551 114.9L548 116.1ZM896 607L643.2 607L647 599.1L653.7 580L656.8 563L656.4 550L653.9 536L650.7 527L649 524.8L647 523.9L644 524.7L640 527.7L629 539.4L620.9 552L615.4 565L613 576L613.2 586L616.2 598L620.6 607L545 607L545 567.9L547.1 574L550 578.9L554 582.5L558 584L562 584L567 582.2L572 578.5L576 573.8L582.6 560L599.6 500L603.8 488L607 482.4L612 479.7L621 481.7L632.3 488L645 498.5L648 499.9L650.2 499L652.5 495L655.4 481L656 461L654.2 439L650.4 418L640.1 376L638.4 361L639.9 349L649.4 313L653.1 289L655.4 253L654.3 224L650.6 211L637 192.9L632 183L628.6 171L622.9 140L616.6 117L608 94.7L598.3 78L778 78L775 84.9L772 87.2L767 86.9L751 83L743 82.5L733 84.5L724 89.3L712 99.9L692.3 123L675 137.6L670 145L667.2 153L666.3 162L667.4 171L670.6 178L675 181.6L679 182.4L683 182L701 174.2L712 173L723 174.5L734.8 178L740.5 181L743.5 185L744 189.4L742 193L730 197.8L723.7 203L720.9 208L719.3 215L718.3 245L719.8 271L721.5 280L723.9 287L727 291L730 292.1L734 290.7L738 286.9L744.4 275L747.6 263L751.2 234L753.5 226L756 223.5L767 221.7L773 218.3L778.1 212L781.6 203L782.7 195L782.1 186L774.9 160L773.3 147L774.2 114L775.8 104L778 99L780 97.4L783 97.1L806 101.3L812 101.2L815.8 100L818.9 97L820.2 92L819.5 85L816.8 78L896 78L896 218.6L888 215.1L879 215.3L870 219.2L861 227L855.4 235L851.2 244L848.6 254L846 272.7L844 277.5L842 279.6L837 279.9L812 274.2L804 274.1L798 275.5L793 279L789.1 285L786.5 293L785.6 302L786.7 309L790.1 314L797 317.9L804 318.5L810 316.8L815 313.6L829 296.6L842 286L847 286L865 292.6L876 294.5L887 292.8L896 287.5L896 607ZM583 177.2L581 177.6L579 176.2L576.3 168L577.1 160L579 156.4L581 155.3L584 157.1L586.2 164L585.8 172L583 177.2ZM545 530.9L545 303.5L549 309L554 313.3L559 315.2L565 314.9L569 313L573.7 309L586 291.8L589 290L591.7 293L593.9 300L596.4 320L596 331.7L592.3 359L591.2 377L591.7 397L594.7 432L594.1 444L591 451L578 462.9L557.7 492L550.3 509L545 530.9ZM776 388L779 385.5L781.7 379L783.6 370L784.6 358L784.3 346L782.8 335L781 329L778 326.1L776 326.9L774 329.4L771 336.2L768.4 347L767.2 359L767.6 370L769.7 380L773 386.7L776 388ZM840 521L854 517.7L867 511L878.3 501L886.6 489L890.8 476L890.6 464L886.1 454L878 446.8L870 443.4L861 441.7L825 442.1L794 437.5L779 437.4L767 440.3L754.9 446L745 453.8L737.9 463L734.3 473L734.5 482L738.1 490L746.1 497L759 501.7L792 506.3L816 517.1L824 519.8L832 521.1L840 521Z"/><path fill="#8c8cff" fill-rule="evenodd" d="M896 607L646.6 607L657.2 574L659.2 560L658.5 545L654.5 515L658.4 482L657.7 449L653.8 422L644 379L642.5 365L643.6 353L651.5 320L655.7 293L657.9 260L657.4 227L655.9 217L653.2 210L639 193.9L632.2 181L629.2 170L624.2 141L619 120.7L611 96.8L602.5 78L740.5 78L730 81.9L720 89.3L710 99.6L692.3 121L675 136L667.9 147L665 160L665.3 169L667 176L670 181.2L674 184.1L678 184.8L682 184.1L700 175.8L711 174.1L721 175.2L730.9 178L737 181L740.6 185L741.1 188L739.7 191L728 197.6L722.3 203L719.7 208L718.3 215L717.5 249L719.1 276L720.8 285L723 291L726 294.7L729 295.6L733 294.3L737 290.8L741.3 285L745.3 277L748.8 265L752.9 238L755 231.3L758 228.3L768 225.6L774 221.8L779.5 215L783.3 206L784.8 197L784.4 188L776.7 158L775.3 144L776.6 118L778.2 111L781 105.6L784 103.2L788 102L810 103.4L818 101.5L821 98L822.1 93L821.6 86L819.2 78L896 78L896 214.7L888 212.2L879 213.2L870 217.4L861 225L855.7 232L850.9 241L847.7 251L844 269L840 274.4L833 275.6L806 272.1L799 273.1L794 275.6L790 280.1L786.5 288L784.4 297L783.6 307L784.4 314L786.7 317L796 320.9L804 321.5L810 319.8L815 316.7L831 298.1L836 294.3L842 291.4L850 290.9L868 295.8L878 297.1L888 295.5L896 291.5L896 451.5L892 446L886 440.9L879 437.3L870 434.8L858 433.7L829 433.7L796 429.4L777 429.3L768 431.7L756 436.7L747 441.9L739.4 448L732.9 455L727.8 463L724.8 471L723.7 479L724.8 487L728.7 495L734.5 501L742 505.6L755 509.7L786 514.4L816 526.6L831 529.3L841 528.8L850 526.9L860 523.2L869 518.3L877.4 512L885 504.5L891.4 496L896 487.3L896 607ZM765 78.1L757.2 78L765.8 78L765 78.1ZM550 114.1L545 114L545 88.4L549 89.2L552 91.7L555.3 99L554.8 108L553 111.5L550 114.1ZM583 175.1L581 175.6L579 174L577.1 168L578 160L581 156.7L584 158.8L585.5 164L585.1 171L583 175.1ZM545 517.9L545 313.3L549 317.9L553 320.7L559 322.8L564 323.2L571 320.8L583 310.8L586 309.6L588 310.9L589.1 313L590.8 324L588.1 375L591.5 427L590.9 439L588 446.2L579 456.9L554.7 492L549.6 503L545 517.9ZM776 395L779.5 392L782.5 385L784.8 375L786.1 362L786.1 347L784.5 331L782.5 322L780 320.1L777 321.6L775 324L771 332.3L767.4 346L765.7 360L766.1 373L768.2 384L772 392.7L774 394.6L776 395ZM617 607L545 607L545 580L548 584.5L552 588L556 589.6L560 589.7L565 588.3L570 585.1L574.1 581L578.3 575L583 563.3L593.7 522L602.3 495L608 484.4L611 482.3L614 481.7L619 482.5L625 485L636.2 493L643.6 503L646.1 512L645.4 516L642.9 521L629 538.2L622 548.9L613.6 568L611.7 577L611.6 586L613.6 597L617 607Z"/><path fill="#b4b4ff" fill-rule="evenodd" d="M896 607L650.1 607L653.5 592L661.1 569L662.8 556L661.6 523L662.1 480L660.6 448L657.8 425L649.3 384L647.7 369L648.7 357L656.3 321L659.8 294L661.4 260L660.7 223L659.3 214L656.9 208L654.3 205L641 194.4L636.4 188L633.1 181L630.3 171L626.1 145L621.7 126L615 102.9L606.2 78L728.8 78L715 91.1L692 119.4L677 132.3L671.8 138L667.9 144L665.5 150L663.5 164L664.2 173L666 180.4L669 185.5L673 187.7L681 186.8L699 177.4L709 175.2L718 175.7L727 177.9L733.7 181L737.6 185L737.8 188L736.7 190L726 197.6L720.9 203L718.5 208L717.3 215L716.6 253L717.9 280L719.4 289L721.3 295L724 298.5L727 299.5L731 298.4L736 294.6L741 288.4L745.3 281L749.7 269L754.8 243L757 237L760 233.9L770 229.6L776 224.9L781.7 217L785.5 208L787.1 199L786.8 189L778.9 158L777.4 144L778.6 122L780.4 115L783 109.9L786 107L791 105L813 105.2L820 102.9L822.9 99L823.9 94L823.4 86L821.4 78L896 78L896 210.1L888 209L879 210.8L870 215.4L861 223L855.4 230L850.7 238L846.8 248L842.1 266L838 271.1L830 272.6L811 270.4L802 270.3L796 271.8L791 275.7L788 280.5L785.1 288L779.9 311L773 323.6L769 334.8L765.2 352L763.7 369L764.6 381L767.3 393L771 403.1L776 410.6L778 408.4L782 399.3L786.5 381L788.4 360L787.8 331L789.3 326L792 324.9L804 325.2L812 322.3L819 316.7L832 300.7L837 297.2L842 295.1L851 294.4L870 298.9L879 299.9L888 299L896 296.1L896 433.1L887 428.5L877 425.8L864 424.5L832 423.7L789 418.5L783 416.8L776 412.6L767 421L750 429L741 434.3L727.6 446L721 454.4L716 463.7L712.6 474L711.3 484L712.7 493L716.6 501L723 508.1L732 514L747 519.1L780.3 525L809 536.4L823 539.5L833 539.9L843 538.8L852 536.6L862 532.8L872 527.5L881 521.1L889 514L896 506.1L896 607ZM548 113.1L545 112L545 104L545 93.3L548 92.4L551 93.7L552.9 96L554.7 103L552.8 110L551 112L548 113.1ZM582 173.5L580 173L579 171.6L577.9 167L578.6 161L581 158.3L583.4 160L584.8 165L584 171L582 173.5ZM545 504.5L545 325.6L550 328.5L566 333.1L578 333.3L581 336.3L582.9 346L583.8 375L587.3 425L586.6 434L583.7 442L568 470L551.6 490L545 504.5ZM613 607L545 607L545 592.2L552 597.5L556 598.2L560 597.7L569 592.6L577 583.2L583 569.5L592.7 528L602 498.5L608.1 487L612 484.1L616 483.6L626 487L635.1 494L640.5 502L642.6 512L641.8 517L639.7 522L621.8 548L616.6 558L612.3 569L610.4 577L609.8 585L610.6 595L613 607Z"/><path fill="#e0e0ff" fill-rule="evenodd" d="M896 607L654.6 607L655 597L657 588.5L668.3 564L670.6 557L673.4 525L672.7 510L667 476L663.3 421L658.2 378L659 365L664.8 331L666.9 308L664.9 205L664.3 201L663 199.3L652 198.9L644 195.1L639 190L634.9 183L631.2 171L624 130.7L609.7 78L722.7 78L693 116.2L675 132.6L669.5 139L666.1 145L663.6 152L662 167L664.3 190L665.2 194L667 195.8L678 191.6L698 179.1L706 176.6L715 176.4L723.7 178L730.6 181L734.6 185L734.7 188L733.5 190L723.8 198L719.4 203L717.5 207L716.4 213L715.7 259L716.4 289L718.9 301L721 303.6L724 304.5L728 303.4L733 300L742.5 289L749.7 275L756.3 251L759 244.1L762 240.5L773 233.6L778 228.8L783.3 221L787.7 211L789.7 201L789.5 191L781.2 158L779.6 144L780.7 125L782.4 118L785 113L788 109.9L793 107.7L815 107L822 104.3L824.3 101L825.6 95L825.3 87L823.7 78L896 78L896 204.3L887 205.4L877 209.1L868 214.7L860 221.9L854.3 229L849.6 237L840.3 263L836.3 268L833 269.4L828 269.9L800 268L794 269.9L790 273.7L785 284L778.8 306L771 324.9L765.8 343L760.8 371L760.4 396L759.3 402L756 406L744 412.9L736 419L727 428L719 438L714 446.7L704 471.9L693.4 490L691.1 501L692.9 510L697.7 518L706 525.8L716 531.8L730 536.9L764.7 544L793 553.7L808 557.1L820 558.3L833 558.4L845 557.2L856 554.8L866 551.4L876 546.5L886 540.3L896 532.6L896 607ZM550 111L547 111.1L545 109.6L545 97L548 95.2L551.6 97L553.6 102L553 107.2L550 111ZM582 171L580 170.3L578.9 167L579.1 163L581 160.3L583 161.8L583.7 165L583.3 169L582 171ZM896 412.5L856 411.9L842 410.8L798 400.6L794 398.9L791.8 395L791.2 388L792.1 342L794 334.4L796.1 333L807 329.9L814 325.8L821 319.2L832.7 304L837 300.8L842 298.6L852 297.8L880 303.2L888 303.1L896 301.6L896 412.5ZM545 485.4L545 340.2L550 337.8L555 337.2L560 338.9L564.8 343L569.4 350L572.5 358L580.3 392L581.1 405L580.8 426L579.4 436L576.8 446L572.7 457L568.1 466L560 475.8L545 485.4ZM607 607L570.2 607L579 589.6L582.7 580L591.8 534L601.5 502L605.1 494L609 488.3L613 485.7L617 485.3L626 488.4L634.1 495L639.3 504L640.4 513L637.5 523L620.6 549L611.3 569L607.8 583L607 607Z"/><path fill="#ffffff" fill-rule="evenodd" d="M651 195.1L646 194L641 190.4L637 184.9L634 178L631.5 168L626.7 138L613 78L718 78L693.9 113L687.6 120L672.9 133L666.1 142L663 149L661.1 157L659.2 187L656 192.9L651 195.1ZM695 471.1L690 471.7L680 469.2L677 467.1L675 463.7L673 455.4L672.5 444L673.4 432L675.8 420L682.6 399L701 355.9L714.3 320L718.3 315L733 302.9L742.3 292L750.6 278L758 256.9L761 250.8L765 246.1L775.5 239L779.5 235L785 226.1L789.9 215L792.7 204L792.7 193L790.7 183L783.7 159L781.8 145L782.5 129L785.6 118L789.3 113L795 110L801 109.1L817 108.8L821 107.7L824 105.6L826.2 102L827.2 96L825.8 78L896 78L896 195.1L872 209.4L858 221.9L848.9 235L838.9 259L834.3 265L830 266.7L825 267.1L798 264.9L793 266.6L790 269.5L785 279.9L771 320.9L761 356.6L757 367.9L752 375.6L734.7 394L726 407L713 430.2L703.1 462L699 468.3L695 471.1ZM550 109.1L547 108.9L545 105.3L545.3 101L548 98L550.8 99L552.2 102L552.1 106L550 109.1ZM581 167.3L581 163.8L582.1 166L581 167.3ZM703 309.4L696 309.6L689 305.9L683 299L677.6 288L673.8 274L671.4 258L670.3 238L670.8 220L672.1 211L674.3 204L677.8 198L684.1 191L692.2 184L699 179.9L706 177.7L715 177.4L722 178.7L727.7 181L731.3 184L732.2 187L730 191L719.2 201L715.8 208L714.2 270L712.7 290L711.1 299L709.1 304L706.9 307L703 309.4ZM870 396.1L860 396.6L851 395.4L842 392.6L834 388.4L827 382.8L821 376L815.7 367L812.3 358L810.5 346L813.2 337L833 308.9L837.2 305L843 302.2L853 301.5L877 306.7L896 308.8L896 385L884 392.3L870 396.1ZM559 472L554 472.7L550 470L547 464L545 454.9L545 430.6L547.1 412L545 390.8L545 355.1L549 346.9L552 344.3L555 343.5L560.3 346L564.6 353L569.4 374L574.8 389L576.2 399L574.8 419L574.8 437L573.1 448L570.6 456L567 463.6L563 468.9L559 472ZM596 600.1L592 599.7L589 597.5L587.2 594L586.5 590L588 561L591.6 538L598.4 513L605.8 495L609 490.4L612 488L616 486.8L620 487.2L629 491.8L635.4 499L638.6 508L638.2 517L634.6 526L621.1 547L612.7 563L607.3 576L601.1 596L599 598.7L596 600.1ZM858 607L662.6 607L659.6 602L658.8 596L660 589.5L663 583.1L668 577.2L673 574.2L687 571.5L723 569.9L778 570.5L849 576.2L867 578.9L881 582.2L890.9 586L896 590.5L896 593.5L895.1 595L888 599.5L875 603.7L858 607Z"/><path fill="#ffd0d0" fill-rule="evenodd" d="M649 192L644 190.7L640 187.2L636.7 182L634 175L628.2 140L618 94L616.1 78L714 78L706.7 92L694 110.6L686.6 119L671.2 133L664.6 142L660 155L656.8 184L653.3 190L649 192ZM696 463.1L693 463.4L690 462L684.4 454L681.9 443L682.6 429L687.1 412L706 367.1L717.7 328L724.1 316L740 297.4L749.7 284L763.3 255L769 249.7L780 244.9L783.3 242L795.5 211L796.9 202L796.2 193L786.6 161L784.3 148L784.5 132L787.8 120L791.7 115L797 112.2L803 111.1L819 110.7L825.1 108L827.7 104L828.7 99L828 78L896 78L896 124.2L887 137L884.3 145L885 152L891.1 176L890.9 184L888.6 191L883.9 197L865 212.5L854.2 224L846.3 236L837 255.9L833 261.1L829 263.2L824 263.9L814 263.1L796 260L793 260.4L790 262.7L787 269.2L772 313.5L762 347.8L758 358.2L750 369.3L727.3 389L719.5 400L712.8 412L709.5 420L705.1 445L702.7 454L700 459.5L696 463.1ZM549 106.4L547.9 106L547.2 104L547.9 102L549 101.5L550.4 104L549 106.4ZM699 295.1L693 293.6L688 289.3L683.3 282L679.3 272L676.4 260L674.7 246L674.4 231L675.5 218L677.7 209L681.1 201L686.7 192L692.2 186L697.7 182L704 179.4L711 178.4L718 178.9L726.5 182L728.7 184L729.7 187L727.7 191L717.5 201L714.8 206L713.9 213L713.4 256L711.4 277L709.8 284L707 290.1L703 293.9L699 295.1ZM867 382.1L860 382.3L854 381.3L848 379.1L842 375.6L836.8 371L832.1 365L826.1 352L824.5 340L827.5 328L836 312.8L840 309L845 306.6L850 305.8L856 306.2L879.3 312L890 316L896 321L896 359.4L890.7 368L884 374.8L876 379.5L867 382.1ZM559 467.3L555 466.5L552 462.7L549.6 455L548.6 446L549 435L552.3 412L547.3 377L546.9 366L549.7 354L552 350.7L555 349.2L559 351L562.3 357L566 376.9L571 390.1L572.4 398L570.4 417L571.6 437L570.6 448L566 460.7L563 464.7L559 467.3ZM598 584.3L595 584L592.9 582L591 577.6L589.7 570L590 553L593.4 533L599.4 512L606 496.6L612 489.8L616 488.4L620 488.6L628 492.5L634.5 500L637.3 509L636.7 518L633.5 526L618.7 550L604 577.8L601 582.1L598 584.3ZM760 607L717 606.4L680 603.1L672 601.3L668 599.3L665.5 596L665.1 592L666.8 588L670 584.7L680.7 581L709 578.1L746 577L784 578.2L818 581.7L839 586.4L844.6 589L846.8 592L845 595L841.4 597L822.1 602L794 605.4L760 607Z"/><path fill="#ffa8a8" fill-rule="evenodd" d="M649 189L645 188.9L641 186.2L637 180.2L634.4 173L629.5 141L620.4 97L619.2 78L710.4 78L704.4 92L694 108.2L686 117.7L669.4 133L662.9 142L658.7 154L655.1 181L652.8 186L649 189ZM822 260L812 258.9L802 255.4L796.1 251L793 245L793.2 234L800.5 211L801.6 201L799.8 190L790.5 165L787.2 152L786.5 137L789 124L792.8 118L798 114.6L805 113.2L821 112.7L827 109.8L829.3 106L830.3 101L830.2 78L896 78L896 114.9L890.5 123L878.3 137L875.4 144L876.1 151L883.7 175L884 183L882.4 190L877.3 198L860 214.8L851.3 225L833 255.3L828 258.9L822 260ZM702 285L697 285.8L692 283.3L687 277.4L683 269L680.1 259L678.3 247L677.7 234L678.5 222L682.4 207L688.7 194L692.8 188L697.2 184L703 181L709 179.7L716 179.7L724 182.2L726.2 184L727.4 187L725.6 191L715.4 201L713 206L712.8 243L711.1 265L708 277.7L705 282.7L702 285ZM716 385L713.1 385L712.2 383L713.2 367L717.4 341L723.4 323L729.4 313L752.7 283L761.6 264L765 258.7L768 255.7L772 253.6L776 253L779.9 254L783 256.8L784.5 261L783.6 273L780 286L772 308.5L763 340.5L758.6 352L753 360.9L744 369.5L735 375.3L716 385ZM863 370L854 368.4L845.3 363L839.2 355L835.5 345L834.9 334L837.6 324L842.8 316L850 312.3L855 311.9L862 312.8L877.4 318L885.3 324L889.3 332L890 338L889.4 345L887.2 352L883.9 358L880 362.6L875 366.5L869 369.1L863 370ZM560 462.1L557 461.7L554.2 458L551.6 446L552.3 434L557 414L550.4 377L549.7 368L551.4 359L553 356.3L555 355.1L558 356.4L560.3 361L563.1 380L567.8 392L568.9 398L565.8 417L568.8 435L568.5 446L565.1 457L563 460.1L560 462.1ZM697 456.1L695 456.9L693 456.4L689.3 452L687.3 445L686.8 436L688.2 427L691 419.1L695 413.2L699 410.7L701 411.6L702.4 416L703.3 435L701.2 449L697 456.1ZM600 576.1L597 576.2L594 573.6L591.2 564L591.3 549L595 529L600.8 510L607 496.9L613 490.9L617 489.8L621 490.2L628 494L633.6 501L636 509L635.5 518L631.4 528L608 567.4L604 573L600 576.1ZM754 601L730 600.7L708 598.8L693.7 596L689.1 594L687.7 592L689.2 590L692 588.7L705 585.6L724 583.7L747 583L770 583.7L789 585.7L802.9 589L806.6 592L803.4 595L792 598L775.4 600L754 601Z"/><path fill="#ff7878" fill-rule="evenodd" d="M648 186.3L644 186.1L640.2 183L637 177.5L635 171.3L630.8 142L622.5 100L621.5 88L622.2 78L706.9 78L702.6 91L693.1 107L685 116.7L668.4 132L661.7 141L657.3 153L653.5 179L651 184L648 186.3ZM822 255L814 254.2L807 251.1L802.6 247L799.9 241L799.8 232L806.1 211L807 200L804.7 190L794 166.3L790.2 154L788.9 139L791.2 126L795 120L800 116.7L807 115.3L823 114.9L829 111.9L830.7 109L831.8 104L832.5 78L894.7 78L896 81.2L896 106L895.3 108L888.8 119L871.2 136L867.6 143L868.7 151L875.4 167L877.8 175L878.5 183L876.9 191L871.3 200L848.8 225L833 248.9L828 253.2L822 255ZM701 278L697 278.4L692 275.5L688 270.2L684.8 263L682.4 254L680.9 243L681.5 222L685 209.2L695.5 188L700 184L704.2 182L710 180.8L716 181L723 183.6L724.9 186L725 188L722.6 192L713 201L711 205L710.5 210L711.7 237L710.3 258L707 271.2L704 275.9L701 278ZM728 372L724 371.4L721.1 369L718.8 360L720.3 341L725.4 324L733.7 310L755.5 283L765.6 263L771 258.6L776 258.4L779 260.4L781 264L781.8 269L781.1 276L778.1 287L771.4 305L764.7 331L760 345.1L754.5 355L747 363.1L737 369.6L728 372ZM864 357.1L858 356.5L853 353.8L848.7 349L845.8 342L845.3 335L847.2 328L851 323.1L856 320.9L863.1 321L871 324.1L876.2 329L878.7 335L878.5 343L875.4 350L870.1 355L864 357.1ZM557 380.3L555 377.9L553.4 372L553.4 367L555 363.3L557 364.2L558.1 368L558.2 376L557 380.3ZM563 402.4L561 402.6L559.2 399L558.5 394L559 389.4L561 390.1L563.7 395L564.2 399L563 402.4ZM561 456.2L558 455.9L556 453L554.4 443L556.5 431L559 426.7L561 425.9L563 427.4L565 431.6L566.3 441L565 450.2L563 454.4L561 456.2ZM696 449.3L694 449.2L692.3 447L690.8 439L692.3 430L694 427.1L696 426L698 427.4L699 429.7L699.9 437L699 444.4L696 449.3ZM601 571.3L598 571.3L595.3 569L592.4 560L592.5 546L595.9 528L601.5 510L608 497.2L614 492L621 491.6L628 495.5L632.8 502L635 510L634.2 519L629.4 530L611 560.5L606 567.5L601 571.3Z"/><path fill="#ff4848" fill-rule="evenodd" d="M648 183.2L645 183.9L641 181.5L638 176.8L635.6 169L632.1 143L624.3 101L623.7 88L625.1 78L703.6 78L700.3 91L691.9 106L683.6 116L666.4 132L659.9 141L655.8 152L652.3 176L650.1 181L648 183.2ZM824 248.3L818 248.4L813 246.5L809.1 243L806.8 238L806.8 230L812.3 209L812.4 199L809.3 188L798 167.4L793.3 155L791.5 140L793.5 128L797.3 122L803 118.6L810 117.4L825 117.5L831 114.8L833.5 108L833.6 86L834.7 78L891.3 78L894 85L895.1 93L894.3 101L891.5 109L883.7 120L877 125.8L863.7 135L861.1 138L859.9 141L860.9 149L869.7 167L872.8 176L873.6 184L872 192L866.7 201L848.4 222L834 241.1L829 245.9L824 248.3ZM698 272L694 270.3L691 267.2L685.7 255L683.2 238L684.5 221L687.2 212L693 201L696 192L698.3 188L701.7 185L706 183L716 182.4L721 184.5L722.6 188L720.2 192L710.6 200L708.3 204L710.5 232L709.1 254L707.3 262L705 267.4L702 270.8L698 272ZM736 366.1L731 366.8L727 365.6L724.4 363L722.8 359L721.9 352L722.3 344L726.3 327L730.4 318L736.2 309L757.8 284L767 266.1L771 263L775 263L777.4 265L779 268.7L778.8 278L770.5 302L765 326L761 339.1L756.9 348L751 356.1L744 362.2L736 366.1ZM561 447.5L560 447.7L559 446.7L558.4 444L558.6 440L560 437.1L561.7 438L562.5 441L562.2 445L561 447.5ZM603 567.2L600 567.9L597 566.4L593.8 559L593.4 546L596.2 529L601.9 511L608 498.9L614 493.4L617 492.6L621 492.9L627 496.2L632 503L633.9 511L633.2 519L628.6 530L614 554.1L608 562.8L603 567.2Z"/><path fill="#ff1818" fill-rule="evenodd" d="M645 181L642 179.8L639.7 177L636 165.3L633.5 144L626 102L625.8 89L628.1 78L700.4 78L700 84L698.4 90L690.7 105L682.5 115L664.2 132L657.9 141L654.3 151L650.5 175L648 179.6L645 181ZM824 240L818.9 239L816.7 237L815.2 234L814.9 228L818.2 208L817.4 196L813.7 185L801.5 166L796.9 156L794.4 142L796.1 130L799.9 124L805 121L812 119.9L829 120.6L834 118.3L835.7 113L835.1 89L837.1 78L888.3 78L891.5 86L892.4 94L891 103L887.3 111L883 116.7L878 121.2L870 126.3L855.4 133L853.1 135L851.7 138L851.9 143L853.9 149L864.5 168L867.7 176L869 185L867.4 193L860 205L836 232.1L830 237.5L824 240ZM703 200.1L701 199.7L699.6 194L700.4 190L702.7 187L706 185L711 183.8L716 184.3L719.1 186L719.6 189L717.3 192L703 200.1ZM701 265.1L699 265.8L696 265.2L693 262.7L690.6 259L687 248.2L685.7 235L686.8 223L689.7 214L695 206.4L701 202.2L704 207.3L707 215.9L709 235L707 254.3L704.6 261L701 265.1ZM738 362.2L734 362.8L730 361.9L727 359.1L725.2 355L724.6 342L728.4 326L733.3 316L740.9 305L747 298L759.9 286L768 270L771 267.6L774 267.8L776.6 272L776.5 279L769.3 299L764.7 323L760.6 337L756.3 346L751 353.3L745 358.6L738 362.2ZM604 564.1L601 564.8L598 563.5L596 560.5L594.7 556L594.4 544L597.1 528L602 512.4L608 500.6L614 494.9L617 493.9L621 494.2L627 497.7L631 503.4L632.9 511L632.2 519L628.3 529L617 548L609 559.7L604 564.1Z"/><path fill="#ff0000" fill-rule="evenodd" d="M646 177.4L644 177.7L641.4 176L638 168.6L634.7 143L628.9 113L627.6 93L628.7 85L631.2 78L697.1 78L697.3 84L696.1 90L689.3 104L681.3 114L662.8 131L656.3 140L652.7 150L649.6 171L648 175.2L646 177.4ZM855 127L844.6 126L842.1 124L840.7 121L838 108L836.6 94L837.2 85L839.4 78L885.4 78L888.7 85L890 93L889.1 101L885.7 109L880.1 116L873 121.4L864 125.3L855 127ZM833 226.2L828 226.6L825.6 224L823.3 199L820.5 187L815.9 178L803 160.6L798.5 149L797.6 140L799 132L803 126.1L809 123.2L815 122.9L823.3 124L835.1 127L839 129.1L841 132.4L847.9 151L860 170.7L863.7 180L864.4 186L863.7 191L859.1 201L846 216L838 223.1L833 226.2ZM711 192.4L708 192.8L706 192L705.9 189L710 186.6L714.5 187L715.4 188L714.8 190L711 192.4ZM700 259.1L696 258.7L692 253.7L689.5 246L688.3 236L688.9 227L691 219L695 213L699 211.4L702 213L705 218.5L707.2 233L706.9 242L705.3 251L703 256.3L700 259.1ZM738 359.2L734 359.3L731 358L728.5 355L727.1 351L726.8 339L730.4 325L735.4 315L742 305.7L750 297.5L762.6 289L768.8 276L770 274.6L772 274.2L773.3 277L773 280.9L767.5 294L764.4 319L759.7 336L755.2 345L750 351.7L744 356.7L738 359.2ZM603 562.1L600 561.7L598 559.9L595.4 552L595.6 540L598.5 525L603.3 511L609 500.8L615 495.9L621 495.5L626.7 499L630.5 505L632 512L631.1 520L626.5 531L615 549.9L608 558.9L603 562.1Z"/><path fill="#e80000" fill-rule="evenodd" d="M645 173.5L642 172.7L639.1 166L636.4 144L630 111L629.6 93L633 80.5L634.4 78L693.7 78L694.5 83L693.9 89L691.6 96L687.9 103L680 113L660.3 131L654 140L650.6 150L648 168.3L645 173.5ZM859 123L853 122.7L848 120.8L844.8 118L841.9 113L839.3 104L838.2 94L838.8 86L841 79.5L841.9 78L882.6 78L886.3 85L887.7 92L887.2 99L884.8 106L880 112.8L874 117.8L867 121.3L859 123ZM839 214.3L835 214.1L832 210.5L826.9 187L823.5 178L819.2 172L808 159.8L803 150.4L801.4 142L802.2 135L805 130L809.9 127L815 126.4L822 127.7L828 130.4L832.3 134L836.2 140L843.4 157L854.5 173L858 180L859.2 189L856.3 198L848 208.4L839 214.3ZM699 252.2L696 251.2L694 248.4L692 242.4L691.3 236L693 223.9L695 220.2L698 218.2L701 219.4L703 222.6L705 234L703.2 247L701 251L699 252.2ZM740 356L736 356.4L733 355.3L729.4 350L728.5 340L731.2 327L736.9 315L745 304.3L753 297.9L758 296L761 296.1L763 297.9L763.7 300L764.2 309L762.9 321L760 332L756.6 340L752 347L746 352.9L740 356ZM605 559.2L602 559.7L600 558.8L598 556.2L596.6 552L596.3 541L598.9 526L603.6 512L609 502.3L615 497.2L621 496.9L626.1 500L629.8 506L631 513L630.2 520L626.3 530L618 544L611 554L605 559.2Z"/><path fill="#d00000" fill-rule="evenodd" d="M644 167.5L642 166.3L640.8 163L638.5 145L631.6 111L631.4 95L632.8 88L635 82.4L637.9 78L690.2 78L691.5 83L691.5 88L688 99L679.6 111L660.4 128L653.8 136L649.1 146L646 164L644 167.5ZM860 120L855 119.7L850 117.8L846 114.4L843.3 110L840.9 103L839.9 95L840.2 88L842 82L844.5 78L879.8 78L883.6 84L885.3 90L885.4 97L883.3 104L879.5 110L874 115.1L867 118.6L860 120ZM832 167L818 160.3L810 152.6L807.3 147L806.5 141L807.6 136L810.1 133L814 131.5L819 132.1L824 134.7L827.9 139L830.6 145L832.4 153L833.4 165L833 166.9L832 167ZM845 202.1L842 202.8L840 202.2L836.8 197L834.7 183L834.3 172L835 169.6L840 171.7L846 176L850 180.7L851.9 185L852.4 190L851.1 195L848.6 199L845 202.1ZM699 241.2L697 240.3L695.8 236L696 232L698 228.5L700 229.7L701 234L700.4 239L699 241.2ZM741 353.2L735 352.9L731.2 348L730.2 339L732.3 328L737.1 317L744 307.4L751 301.4L755 299.7L758 299.7L761 302L762.6 309L762 319L759.5 330L756.2 338L752 344.6L747 349.8L741 353.2ZM605 557.2L602 557.3L600 555.9L597.3 549L597.3 538L599.8 525L604 512.9L609.7 503L615 498.6L621 498.3L626 501.6L629.1 507L630.1 514L629.1 521L625 531L617 544.4L610 553.6L605 557.2Z"/><path fill="#b40000" fill-rule="evenodd" d="M644 146.6L642 145.1L638 133.9L633.2 111L633.5 95L635 88.8L637.7 83L641.7 78L686.3 78L688.4 83L688.7 89L687.3 95L684 102.1L676 112L655.5 130L644 146.6ZM863 117.1L857 117.2L851 115L847 111.5L843.9 106L841.8 98L841.7 90L843.7 83L847.3 78L876.9 78L882 85.7L883.3 91L883.4 96L880 105.7L873 113.1L868 115.8L863 117.1ZM743 350.1L737 350.5L734.7 349L733 346.2L731.9 338L733.7 328L738 318L745 308.3L751 303.6L754 302.6L757 302.9L759.9 306L761 311L760.8 319L758.9 328L756 335.6L752.2 342L748 346.7L743 350.1ZM605 555.2L600.9 554L598.2 547L598.3 536L601 523.1L605 512.3L610 504.1L615 500L621 499.6L625.7 503L628.3 508L629.2 515L628 522L623.7 532L616 544.6L610 552.1L605 555.2Z"/><path fill="#980000" fill-rule="evenodd" d="M646 136L643 136.2L640 131.8L637 122.7L635.2 113L635.3 97L637 90.5L639.7 85L646.3 78L681.8 78L684.9 83L685.9 89L684.8 95L681.6 102L674.2 111L657 125L646 136ZM866 114L859 114.8L853 113.2L848 109L845.2 104L843.3 96L843.7 89L846 83L850.5 78L873.6 78L877 81.2L879.9 86L881.4 95L879.1 103L873.5 110L866 114ZM742 348L737 347.3L734.2 343L733.6 336L735.1 328L738.9 319L744 311.5L750 306.4L755 305.5L758 307.8L759.5 313L759.4 320L757.7 328L754.9 335L751 341.2L747 345.3L742 348ZM606 553.1L604 553.2L601.7 552L599.1 546L599 536.4L601.1 525L605 514.1L610 505.5L615 501.4L620 500.8L624 503L627.2 508L628.3 515L627.2 522L623.5 531L617 541.9L611 549.6L606 553.1Z"/><path fill="#700000" fill-rule="evenodd" d="M647 129.4L644 129.7L642 128L639.2 122L637.6 115L637.1 101L638.2 95L640.6 89L646 82.2L652.5 78L675.8 78L680.3 82L682.6 88L682.2 94L679.4 101L671 110.9L647 129.4ZM864 112.1L858 112.2L853 110.3L848.6 106L845.9 100L845.1 93L846.3 87L849.3 82L854.6 78L869.5 78L875 82.2L878.6 89L879 97L876.1 104L871 109.1L864 112.1ZM743 345.2L739 345.1L736 341.3L735.3 335L736.5 328L739.8 320L744.6 313L750 308.8L754 308.3L756.9 311L758 315L756.6 327L751 338.7L747 343L743 345.2ZM606 551.2L604 551.1L602 549.6L599.9 544L599.9 535L602.1 524L605.8 514L610 507L615 502.8L620 502.2L624 504.7L626.4 509L627.4 515L626.4 522L622.8 531L616 542.1L611 548.2L606 551.2Z"/>
<path d="M676.6 184.4L667.5 186.7L652.5 192.8L640.3 200.1L635.9 206.4L632.9 210.8L636.6 205.3L641.9 198.6L634.4 197.2L631.3 192.8L638.8 182.3L646.4 174.7L648.4 172.4L645.6 166.6L641.9 165.3L633.1 166.1L624.8 176.0L616.2 185.6L610.3 188.6L602.7 196.1L598.1 202.2L587.6 203.0L583.0 212.7L584.5 220.2L592.2 226.3L599.6 227.8L602.7 239.7L607.2 245.8L613.2 244.3L620.7 235.7L626.8 230.7L633.1 235.7L638.8 238.2L645.6 238.9L649.5 242.7L651.0 247.3L649.5 251.9L642.8 250.4L637.3 252.5L631.3 256.3L625.2 263.8L620.7 266.8L617.8 272.8L610.2 280.4L607.2 290.9L607.2 296.9L613.2 301.4L619.3 305.8L623.7 317.9L628.3 329.9L634.4 343.5L638.8 350.2L641.9 356.3L638.7 360.5L642.8 364.7L642.8 372.2L634.9 379.3L627.6 387.7L620.8 389.6L622.6 393.2L633.1 390.9L645.3 394.9L641.9 405.5L642.8 413.9L638.4 419.6L633.1 430.1L627.9 437.2L624.8 445.4L622.6 452.9L615.6 463.6L612.0 468.6L608.5 477.4L604.1 489.4L599.6 493.4L596.2 507.4L587.3 511.0L582.0 521.5L573.3 530.3L568.1 539.7L564.5 544.3L555.7 544.3L546.9 546.2M676.6 184.4L685.6 189.6L691.7 200.1L688.6 207.6L690.2 213.7L684.9 219.8L684.1 223.6L688.6 227.3L693.2 231.1L697.6 228.8L702.2 231.8L709.0 231.8L709.7 240.8L711.2 245.4L703.6 252.1L706.0 260.5L709.7 268.0L706.6 275.6L705.1 287.5L708.2 296.5L711.2 302.6L717.3 296.5L724.8 290.4L730.9 291.9L736.8 287.5L742.9 286.0L747.5 281.4L748.9 272.4L747.5 263.4L746.0 254.4L741.4 242.2L736.8 233.2L732.4 222.7L727.8 215.2L720.2 207.6L718.7 198.6L723.3 188.1L730.9 183.5L739.9 178.9L747.5 171.4L750.8 158.2L756.2 146.8L763.3 136.2L764.9 132.8L770.2 129.9L773.8 124.6L782.5 116.9L788.2 120.4L793.2 124.0L805.5 127.3L813.1 122.5L821.3 115.2L827.1 108.1L830.7 102.8L839.4 91.1L846.5 80.6L854.6 68.0M784.0 85.8L789.6 89.0L796.5 82.7L793.7 74.3L786.8 76.4L784.0 85.8M767.7 311.0L773.0 312.3L781.3 310.2L790.5 304.1L799.3 301.8L808.0 298.6L815.9 296.5L822.1 295.3L825.6 298.6L827.4 305.8L825.6 311.2L829.7 319.6L834.4 323.4L838.0 317.5L843.1 311.0L849.8 304.9L846.7 296.9L850.5 290.2L853.7 298.6L860.2 297.6L867.8 300.5L869.6 293.4L874.0 288.1L876.8 298.6L878.3 295.3L880.9 286.0L887.9 284.0L890.6 281.2L890.6 290.2L893.4 292.3L895.9 286.5L899.5 282.9L904.8 276.0L903.1 263.0L902.8 255.9L906.3 238.2L907.2 227.3L908.1 220.8L913.3 219.0L916.8 206.6L920.3 192.8L918.6 182.1L914.2 174.9L909.9 166.1L912.8 156.1L906.6 156.1L903.8 162.4L901.0 161.3L898.2 159.2L895.8 164.5L892.0 172.8L894.1 195.9L890.6 206.4L885.1 221.1L878.2 231.1L869.9 242.0L858.8 250.4L852.7 253.1L851.9 244.1L855.3 236.4L850.5 246.2L847.7 254.6L841.2 259.2L838.0 273.5L829.7 277.7L825.4 275.1L814.5 278.7L803.4 279.8L795.5 278.7L786.8 286.0L777.1 296.5L769.1 305.1L767.7 311.0M767.7 313.3L761.9 314.3L758.8 321.7L752.9 321.7L751.8 326.9L749.4 334.3L752.9 338.5L757.7 340.6L760.5 344.7L757.2 353.1L757.7 365.7L758.8 371.2L763.3 366.8L765.9 369.3L770.2 365.7L773.0 360.5L775.0 353.1L776.4 350.0L780.0 339.3L781.7 328.8L776.4 320.0L771.6 319.6L767.7 313.3M783.5 325.2L791.0 319.6L795.1 311.2L803.4 312.3L809.8 307.6L818.6 305.8L820.3 314.6L814.5 325.9L808.0 321.7L800.6 325.9L795.8 337.4L791.0 335.3L788.7 330.5L783.5 325.2M919.7 70.1L916.2 80.6L918.3 91.1L913.3 102.8L909.9 115.2L901.0 116.9L898.2 122.5L892.3 132.8L893.4 143.5L895.8 153.8L903.1 148.7L908.1 145.0L901.0 136.2L904.5 130.9L911.4 130.9L918.6 130.9L928.0 138.3L938.0 143.5L941.4 132.8L954.3 123.6L962.6 120.4L969.5 119.2L966.1 113.5L964.4 102.8L967.9 94.0L959.0 102.8L948.8 99.5L939.1 93.2L930.9 81.9L923.9 72.2L919.7 70.1M629.0 353.1L634.5 356.3L641.9 363.6M633.1 358.4L638.7 361.5L643.5 364.7M676.6 184.4L684.1 178.5L694.6 167.8L705.1 159.0L712.2 149.4L721.0 150.4L728.1 153.8L729.8 146.8L740.4 141.6L749.4 134.1L754.4 124.0L759.1 128.8L763.3 134.1M764.0 134.1L770.2 124.6L773.8 115.2L771.6 105.8L770.2 97.6L768.8 83.5L773.0 74.3M709.0 231.8L712.7 228.4L716.2 222.1L721.7 220.6L728.7 220.0L732.4 214.8M869.4 221.1L872.9 221.1L871.9 230.5L868.8 231.1L869.4 221.1M797.9 267.2L801.3 263.0L800.6 269.3L797.9 267.2M744.6 308.1L747.3 297.6L746.0 296.5L744.6 308.1M702.4 325.9L706.5 320.6L712.7 322.7L709.3 328.0L702.4 325.9M767.4 387.7L769.5 377.2L768.8 388.8L767.4 387.7M760.5 387.7L764.0 385.6L762.6 389.8L760.5 387.7M743.9 432.8L749.4 426.5L748.0 431.7L743.9 432.8M723.1 476.8L731.4 461.1L728.7 469.5L723.1 476.8M637.3 493.6L642.8 499.9L641.4 508.3L638.7 520.8L635.9 539.7L629.0 562.8L624.8 556.5L619.3 548.1L617.9 535.5L619.3 522.9L624.8 510.4L630.4 499.9L637.3 493.6M591.6 330.1L594.4 321.7L599.9 323.8L601.3 328.0L597.1 330.1L595.8 334.3L591.6 330.1M615.1 372.0L617.9 363.6L622.1 367.8L619.3 374.1L615.1 372.0M969.5 109.9L976.5 97.4L983.4 91.1L977.8 101.6L969.5 109.9M984.8 89.0L993.1 80.6L998.6 76.4L990.3 84.8L984.8 89.0" stroke="#2a2a2a" stroke-width="1.15" fill="none" stroke-linejoin="round"/>
<path d="M616.5 80.6V604.7M755.0 80.6V604.7M547.3 395.1H893.4M547.3 185.4H893.4" stroke="#b0b0b0" stroke-width="1.4" stroke-dasharray="5.5 3" fill="none"/>
</g>
<rect x="547.3" y="80.6" width="346.1" height="524.1" fill="none" stroke="#111" stroke-width="2"/>
<path d="M895.4 459.2C890.3 462.9 872.6 475.2 864.8 481.6C857.0 488.0 853.1 492.2 848.8 497.5C844.5 502.8 840.5 508.5 839.2 513.5C837.9 518.5 839.7 524.2 841.1 527.6C842.5 531.0 846.4 532.9 847.5 534.0" stroke="#000" stroke-width="6.4" fill="none" stroke-linecap="round"/><path d="M889 560.2L895.4 564" stroke="#000" stroke-width="6.4" stroke-linecap="round"/><g transform="translate(868.6,545.6) rotate(30)"><rect x="-23.5" y="-11.0" width="47.0" height="22.0" fill="#fff"/><text x="0" y="7.9" font-size="22" text-anchor="middle" textLength="42" lengthAdjust="spacingAndGlyphs">5874</text></g>
<g clip-path="url(#clipg)">
<rect x="962.4" y="80.6" width="553.4" height="524.1" fill="#fff"/>
<rect x="960.0" y="78.0" width="559.0" height="530.0" fill="#000080"/><path fill="#000080" fill-rule="evenodd" d="M1518 607L960 607L960 78L1518 78L1518 607Z"/><path fill="#000080" fill-rule="evenodd" d="M1518 607L960 607L960 78L1518 78L1518 607Z"/><path fill="#000089" fill-rule="evenodd" d="M1518 607L960 607L960 78L1446.6 78L1446.6 80L1450 80.7L1465 81.4L1484 80.3L1485.8 80L1485.8 78L1518 78L1518 607Z"/><path fill="#00009a" fill-rule="evenodd" d="M1518 607L960 607L960 78L1424.2 78L1424.2 80L1425.8 81L1432 82.4L1446 84.1L1461 84.7L1501 82L1512 80L1512 78L1518 78L1518 607Z"/><path fill="#0000ac" fill-rule="evenodd" d="M1518 607L960 607L960 78L1410.9 78L1410.9 80L1411.8 81L1425 85L1439 87.1L1456 88L1481 86.9L1518 82.6L1518 607Z"/><path fill="#0000be" fill-rule="evenodd" d="M1518 607L960 607L960 78L1400.5 78L1400.5 80L1402 81.4L1417 87.2L1433 90.1L1452 91.3L1479 90.1L1518 85.1L1518 607Z"/><path fill="#0000cf" fill-rule="evenodd" d="M1518 607L960 607L960 78L1391.9 78L1392.3 81L1395.1 83L1410 89.5L1427 93L1448 94.6L1478 93.3L1518 87.7L1518 607Z"/><path fill="#0000e1" fill-rule="evenodd" d="M1518 607L960 607L960 78L1384.3 78L1384.6 81L1387 83.3L1398.6 90L1413 94.3L1431 97L1449 97.9L1469 97.1L1518 90.3L1518 607Z"/><path fill="#0000f3" fill-rule="evenodd" d="M1518 607L960 607L960 78L1377.5 78L1377.7 81L1381.1 85L1392 92L1407 96.9L1425.7 100L1446 101.1L1467 100.4L1488 98L1518 93L1518 607Z"/><path fill="#0004ff" fill-rule="evenodd" d="M1518 607L960 607L960 78L1371.2 78L1371.4 81L1374.7 86L1379.1 90L1385 93.6L1400 99.1L1420 102.8L1442 104.3L1465 103.7L1487 101.2L1518 95.7L1518 607Z"/><path fill="#0011ff" fill-rule="evenodd" d="M1518 607L960 607L960 78L1365.3 78L1365.8 82L1369 87.6L1373.4 92L1379 95.6L1394 101.5L1415 105.7L1438 107.4L1463 106.9L1486 104.3L1518 98.4L1518 607Z"/><path fill="#001fff" fill-rule="evenodd" d="M1518 607L960 607L960 78L1359.7 78L1360.2 83L1362.4 88L1366.6 93L1372.1 97L1388 103.8L1409 108.3L1434 110.5L1461 110.1L1486 107.4L1518 101.3L1518 607Z"/><path fill="#002cff" fill-rule="evenodd" d="M1518 607L960 607L960 78L1354.2 78L1354.5 84L1356.2 89L1359.9 94L1365 98.2L1372 102.1L1381 105.7L1403 110.8L1430 113.5L1459 113.3L1485 110.6L1518 104.1L1518 607Z"/><path fill="#0034ff" fill-rule="evenodd" d="M1518 607L960 607L960 78L1348.7 78L1348.6 85L1349.9 90L1353.2 95L1358 99.4L1365 103.6L1374 107.5L1397 113.2L1426 116.4L1457 116.5L1485 113.6L1518 107.1L1518 607Z"/><path fill="#0039ff" fill-rule="evenodd" d="M1518 607L960 607L960 78L1343.1 78L1342.5 86L1343.4 91L1346.3 96L1351.4 101L1359 105.7L1368 109.5L1392 115.8L1423 119.4L1455 119.6L1484 116.8L1518 110L1518 607Z"/><path fill="#003fff" fill-rule="evenodd" d="M1518 607L960 607L960 78L1337.5 78L1336 87L1336.6 92L1339.1 97L1343.9 102L1351 106.7L1360.3 111L1385.5 118L1418 122.2L1453 122.7L1484 119.9L1518 113.1L1518 607Z"/><path fill="#0044ff" fill-rule="evenodd" d="M1518 607L960 607L960 78L1331.5 78L1329.2 87L1329.1 92L1331.5 98L1336 103L1343.3 108L1353 112.6L1379 120.1L1413 124.9L1450 125.8L1483 123.1L1518 116.1L1518 607Z"/><path fill="#004aff" fill-rule="evenodd" d="M1518 607L960 607L960 78L1325.3 78L1325 81L1321.6 88L1321.1 93L1322.7 98L1327 103.4L1334.8 109L1345.1 114L1358 118.5L1373 122.3L1409 127.6L1448 128.8L1482 126.3L1518 119.3L1518 607Z"/><path fill="#004fff" fill-rule="evenodd" d="M1518 607L960 607L960 78L1318.3 78L1318 81L1313.7 87L1312 93L1313.5 99L1317.5 104L1325.8 110L1335.9 115L1349.8 120L1366 124.3L1384 127.7L1404 130.2L1445 131.9L1481 129.5L1518 122.5L1518 607Z"/><path fill="#0055ff" fill-rule="evenodd" d="M1518 607L960 607L960 78L1310.2 78L1309.7 81L1303.5 87L1300.9 92L1301.2 97L1305.1 103L1314.3 110L1326.3 116L1341 121.3L1359 126.2L1378.5 130L1399 132.7L1442 134.8L1480 132.6L1518 125.7L1518 607Z"/><path fill="#005aff" fill-rule="evenodd" d="M1518 607L960 607L960 78L1299 78L1298.3 81L1290 86L1285.7 91L1285.6 96L1289.9 102L1299.5 109L1313.6 116L1331 122.4L1351.5 128L1372 132.1L1393 135.1L1438 137.7L1479 135.8L1518 129L1518 607Z"/><path fill="#005fff" fill-rule="evenodd" d="M1518 607L960 607L960 78L1274.5 78L1274.5 80L1261 83.6L1257.7 86L1257.9 89L1259.8 92L1268.7 100L1283.6 109L1301.8 117L1324 124.6L1348 130.8L1391 137.9L1437 140.6L1479 138.8L1518 132.3L1518 607Z"/><path fill="#0069ff" fill-rule="evenodd" d="M1518 607L960 607L960 78L1203 78L1203 80L1204.1 81L1220 87.5L1257.6 106L1276.8 114L1317.6 127L1357 135.9L1399 141.6L1443 143.5L1482 141.6L1518 135.7L1518 607Z"/><path fill="#0073ff" fill-rule="evenodd" d="M1518 607L960 607L960 78L1175.3 78L1175.3 80L1176.5 81L1197 88.4L1235.7 106L1259.5 115L1304.8 128L1353 138.5L1396 144.3L1441 146.4L1481 144.8L1518 139.1L1518 607Z"/><path fill="#007dff" fill-rule="evenodd" d="M1518 607L960 607L960 78L1148.1 78L1148.1 80L1149.5 81L1180.6 91L1224.8 110L1245 117.3L1285.5 128L1348 140.9L1393 147L1438 149.3L1480 147.9L1518 142.6L1518 607Z"/><path fill="#0087ff" fill-rule="evenodd" d="M1518 607L960 607L960 78L1122.4 78L1122.4 80L1123.6 81L1170 95.7L1214.5 114L1234.9 121L1271 129.7L1340 142.8L1387 149.3L1434 152.1L1478 151.1L1518 146.1L1518 607Z"/><path fill="#0091ff" fill-rule="evenodd" d="M1518 607L960 607L960 78L1100.8 78L1101.6 81L1114 86.1L1162 101.6L1205 118.4L1227 125.4L1266 133.7L1368 150.1L1408 153.9L1448 155.1L1484 153.7L1518 149.6L1518 607Z"/><path fill="#009dff" fill-rule="evenodd" d="M1518 607L960 607L960 78L1082.5 78L1083.2 81L1107 92.2L1213 128.4L1248 135.6L1360 152.1L1401 156.4L1443 158L1482 156.9L1518 153.2L1518 607Z"/><path fill="#00a8ff" fill-rule="evenodd" d="M1518 607L960 607L960 78L1065.7 78L1066.4 81L1078.6 88L1094 95.6L1109 101.6L1193 130.2L1213 135.2L1236 139.1L1366 156L1404 159.5L1435 160.7L1465 160.7L1491 159.4L1518 156.8L1518 607Z"/><path fill="#00b4ff" fill-rule="evenodd" d="M1518 607L960 607L960 78L1049.1 78L1049.8 81L1066.7 91L1083 99.6L1099 106.5L1178.3 134L1195 138.4L1213 141.7L1301 150.6L1372 159.7L1403 162.4L1463 163.7L1490 162.7L1518 160.4L1518 607Z"/><path fill="#00c0ff" fill-rule="evenodd" d="M1518 607L960 607L960 78L1031.6 78L1032.3 81L1055 94.4L1072 103.6L1088 110.9L1167 139L1181.1 143L1196 145.9L1219 148.4L1295 153.7L1370 162.6L1405 165.4L1463 166.6L1518 164L1518 607Z"/><path fill="#00cafe" fill-rule="evenodd" d="M1518 607L960 607L960 78L1011.1 78L1011.9 81L1056 105.5L1075.9 115L1158 144.8L1183 151.2L1207 153.6L1293 157.2L1373 166L1408 168.5L1463 169.5L1518 167.6L1518 607Z"/><path fill="#00cffb" fill-rule="evenodd" d="M1518 607L960 607L960 78L973.1 78L973.1 80L996 86.2L1013 93.7L1050 113.5L1068 121.5L1153.7 152L1175 157.5L1198 159.5L1255 159.4L1290 160.7L1376 169.4L1412 171.7L1463 172.5L1518 171.2L1518 607Z"/><path fill="#00d5f7" fill-rule="evenodd" d="M1518 607L960 607L960 102.4L970 99.3L976 98.4L984 98.8L993 100.7L1005 105.1L1036.9 120L1057 128L1109 144.4L1152 160L1173 164.8L1194 165.8L1246 163.9L1278 164L1309 165.7L1371 172.1L1404 174.3L1454 175.4L1518 174.7L1518 607Z"/><path fill="#00daf4" fill-rule="evenodd" d="M1518 607L960 607L960 133L963 132.6L973 126.9L981 124.2L989 123.5L999 124.5L1097 149.5L1152 168.2L1173 172L1191 172.2L1244 168.5L1280 167.9L1310 169.4L1370 175.3L1401 177.3L1444 178.3L1518 178.3L1518 607Z"/><path fill="#00dff0" fill-rule="evenodd" d="M1518 607L960 607L960 163.6L969.3 162L1004 151.5L1017 149.8L1033 149.6L1060 151.8L1087 156.3L1106 161.3L1146 174.6L1169 178.7L1190 178.4L1247 172.8L1280 171.9L1310 173.1L1396 180.2L1518 181.9L1518 607Z"/><path fill="#05e2ec" fill-rule="evenodd" d="M1518 607L960 607L960 185.4L981 182L1028.5 167L1043 164.7L1058 163.9L1075 164.7L1092 167.2L1106 170.6L1143 181.9L1166 185.3L1187 184.6L1245 177.4L1280 176L1310 177L1391 183.3L1518 185.4L1518 607Z"/><path fill="#0ae5e8" fill-rule="evenodd" d="M1518 607L960 607L960 201.5L971 199.9L990 195.5L1042 179.6L1056 177L1069 176L1094 177.8L1139 189L1162 191.8L1184 190.7L1244 182.1L1279 180.3L1309 181.1L1385 186.5L1481 187.5L1518 188.9L1518 607Z"/><path fill="#0fe8e4" fill-rule="evenodd" d="M1518 607L960 607L960 214.9L996.3 207L1051 191.7L1076 188.2L1095 189L1135 196.4L1158 198.3L1181 196.7L1241 187.1L1277 184.8L1307 185.4L1378 189.8L1476 190.5L1518 192.4L1518 607Z"/><path fill="#15eae0" fill-rule="evenodd" d="M1518 607L960 607L960 226.9L1053 205.3L1073 201.7L1094 200.7L1137 204.6L1161 204.6L1181 202.3L1233 192.9L1261 190.1L1297 189.8L1377 193.6L1476 193.5L1518 195.9L1518 607Z"/><path fill="#1aeddc" fill-rule="evenodd" d="M1518 607L960 607L960 237.8L1076 214.8L1097 212.7L1138 212.4L1161 210.8L1179 208.1L1228 198.5L1254 195.5L1287 194.8L1367 197.6L1468 196.4L1493 197.2L1518 199.4L1518 607Z"/><path fill="#1ff0d8" fill-rule="evenodd" d="M1518 607L960 607L960 248.2L1088 225.5L1164 216.5L1221 204.5L1247 200.9L1275 200L1351 202.2L1463 199.3L1491 200.2L1518 202.8L1518 607Z"/><path fill="#25f2d2" fill-rule="evenodd" d="M1518 607L960 607L960 258.1L988 254.8L1035 246.6L1158 223.7L1216 210.4L1242 206.4L1268 205.4L1312 207.6L1334 207.8L1424 203.2L1459 202.4L1490 203.3L1518 206.3L1518 607Z"/><path fill="#2bf3cb" fill-rule="evenodd" d="M1518 607L960 607L960 268L988 266.3L1021 260.8L1152 231.4L1211 216.5L1238 211.8L1263 210.9L1307 213.8L1326 214L1416 207.1L1457 205.5L1489 206.5L1518 209.9L1518 607Z"/><path fill="#31f5c5" fill-rule="evenodd" d="M1518 607L960 607L960 277.9L988 277.8L1016 273.3L1112 248.9L1205 223L1235 217.2L1260 216.3L1304 220L1323 220.2L1411 211.1L1455 208.7L1488 209.6L1518 213.4L1518 607Z"/><path fill="#36f7be" fill-rule="evenodd" d="M1518 607L960 607L960 288.1L987 289.2L1014 284.9L1130 251.4L1200 229.6L1218 225.1L1233 222.5L1257 221.6L1302 225.9L1322 226.1L1343 224.1L1410 214.9L1455 212L1488 212.9L1518 217L1518 607Z"/><path fill="#3cf9b7" fill-rule="evenodd" d="M1518 607L960 607L960 298.9L975 300.4L986 300.3L999 298.8L1013 295.8L1144 254L1198 235.7L1215 231L1231 228L1254 226.9L1301 231.4L1322 231.5L1345 229L1410 218.7L1454 215.3L1487 216.1L1518 220.7L1518 607Z"/><path fill="#42fbb1" fill-rule="evenodd" d="M1518 607L960 607L960 310.1L974 311.4L986 311.1L999 309.3L1014 305.7L1082.2 281L1149 259.1L1197 241.8L1214 236.7L1229 233.6L1252 232.2L1300 236.6L1323 236.4L1347 233.6L1413 222.2L1454 218.7L1487 219.5L1518 224.4L1518 607Z"/><path fill="#47fcaa" fill-rule="evenodd" d="M1518 607L960 607L960 321.4L974 322.1L986 321.3L1000 319L1014.9 315L1034 308.3L1096 283.6L1154 263.9L1203 245.7L1229 239L1251 237.6L1299 241.3L1324 240.9L1350 237.7L1415 225.8L1454 222.2L1487 222.9L1518 228.2L1518 607Z"/><path fill="#4dfea3" fill-rule="evenodd" d="M1518 607L960 607L960 332.3L974 332.3L987 330.9L1001 328.1L1016 323.8L1036 316.3L1101 288.8L1160 268.2L1205 251.2L1229 244.7L1250 242.9L1301 245.8L1327 244.9L1355 241.3L1418 229.3L1454 225.7L1487 226.5L1518 232.1L1518 607Z"/><path fill="#55ff9b" fill-rule="evenodd" d="M1518 607L960 607L960 342.5L973 341.9L987 339.9L1017 332.1L1039 323.5L1084 302.8L1107 293.3L1164.3 273L1207 256.7L1230 250.3L1251 248.2L1302 250L1330 248.7L1359 244.8L1421 232.9L1454 229.4L1471 229.2L1487 230.2L1518 236.2L1518 607Z"/><path fill="#5eff92" fill-rule="evenodd" d="M1518 607L960 607L960 352L989 348L1020 339.3L1043 329.9L1089 307.8L1112 297.9L1210 262L1232 255.8L1253 253.4L1305 253.9L1334 252.2L1364 248L1423 236.7L1454 233.3L1471 233L1487 234.1L1500 236.1L1518 240.4L1518 607Z"/><path fill="#68ff88" fill-rule="evenodd" d="M1518 607L960 607L960 361L992 355.3L1023 346L1046 336.5L1095 312L1119 301.5L1213 267.3L1235 261L1256 258.5L1309 257.7L1339 255.5L1368 251.4L1426 240.4L1454 237.3L1471 237L1487 238.1L1500 240.3L1518 244.8L1518 607Z"/><path fill="#71ff7f" fill-rule="evenodd" d="M1518 607L960 607L960 369.7L994 362.5L1026 352.5L1050.7 342L1100 316.5L1125 305.2L1215 272.9L1238 266.3L1261 263.2L1314 261.3L1345 258.7L1373 254.6L1428 244.4L1454 241.5L1471 241.2L1486 242.3L1499 244.5L1518 249.4L1518 607Z"/><path fill="#7aff76" fill-rule="evenodd" d="M1518 607L960 607L960 378.1L997 369.2L1029 358.8L1055 347.5L1105 320.7L1130.5 309L1218 278.1L1241 271.4L1266 267.7L1321 264.6L1352 261.7L1378 258L1429 248.8L1454 246L1471 245.7L1486 246.8L1499 249.1L1518 254.2L1518 607Z"/><path fill="#84ff6c" fill-rule="evenodd" d="M1518 607L960 607L960 386.3L963 386.1L1001 375.4L1032 364.9L1060 352.4L1110 324.8L1136 312.6L1160 303.5L1221 283.1L1245.5 276L1274 271.6L1360 264.7L1430 253.4L1454 250.7L1471 250.5L1486 251.7L1499 254.1L1518 259.3L1518 607Z"/><path fill="#8dff63" fill-rule="evenodd" d="M1518 607L960 607L960 394.4L963 394.2L1011 379.5L1044.6 367L1070 354.7L1120.3 326L1148 313.5L1226 287.4L1251 280.3L1282 275.3L1368 267.8L1431 258.2L1454 255.8L1471 255.6L1486 257L1498 259.3L1518 264.7L1518 607Z"/><path fill="#98ff58" fill-rule="evenodd" d="M1518 607L960 607L960 402.5L963 402.3L1016 385L1049 372.4L1075 359.4L1125 330L1152 317.5L1183 306.6L1256 284.5L1287.9 279L1370 271.9L1432 263.3L1453 261.3L1470 261.2L1485 262.5L1498 265L1518 270.5L1518 607Z"/><path fill="#a3ff4d" fill-rule="evenodd" d="M1518 607L960 607L960 410.6L963 410.4L1021 390.6L1054 377.5L1081 363.6L1128 334.9L1156 321.5L1187 310.7L1262 288.4L1280 284.7L1300 282L1374 276L1432 269L1453 267.2L1469 267.2L1484 268.6L1518 276.6L1518 607Z"/><path fill="#adff43" fill-rule="evenodd" d="M1518 607L960 607L960 418.8L963 418.6L1026 396.2L1059 382.7L1086 368.4L1132.5 339L1160 325.6L1191 314.8L1268 292.4L1288 288.3L1310 285.3L1378 280.5L1451 273.7L1468 273.8L1483 275.2L1518 283.2L1518 607Z"/><path fill="#b8ff38" fill-rule="evenodd" d="M1518 607L960 607L960 427.4L963 427.2L1030 402.4L1063 388.5L1091 373.3L1137.4 343L1163.6 330L1195 319.1L1274 296.5L1295.8 292L1319 289.1L1448 280.8L1465 281L1481 282.5L1518 290.2L1518 607Z"/><path fill="#c5ff2c" fill-rule="evenodd" d="M1518 607L960 607L960 436.3L963 436.1L1034 408.8L1068 394.1L1095 379.1L1142.7 347L1167 334.7L1198 323.8L1279 301.1L1302 296.4L1326 293.7L1442 288.6L1477 290.3L1518 297.9L1518 607Z"/><path fill="#d4ff20" fill-rule="evenodd" d="M1518 607L960 607L960 445.9L963 445.7L1036 416.4L1073 399.9L1100 384.4L1146.9 352L1170 339.8L1202 328.5L1281.1 307L1305 302L1330 299.2L1429 297.1L1471 298.9L1518 306.4L1518 607Z"/><path fill="#e4ff14" fill-rule="evenodd" d="M1518 607L960 607L960 456.5L965 455.7L986 447.3L1050 419.5L1078 406.1L1104 390.9L1151.9 357L1174.2 345L1207 333.5L1278 315L1299.7 310L1317 307.3L1336 305.8L1360 305.4L1448 307.4L1475 309.9L1518 315.8L1518 607Z"/><path fill="#f4ff08" fill-rule="evenodd" d="M1518 607L960 607L960 468.1L974 465.2L992 458.4L1082 413.3L1106 399.1L1151 366.7L1172.3 354L1195 344.5L1223.8 336L1300 318.4L1319 315.6L1338 314.3L1368 314.4L1423 317.1L1518 326.6L1518 607Z"/><path fill="#fff600" fill-rule="evenodd" d="M1518 607L960 607L960 480.4L972 479.7L985 477.6L996 474.5L1006 470.2L1046.1 444L1106 409.4L1154 375L1169 365.4L1194 353.8L1225.6 344L1257.3 337L1300 329.1L1321 326.5L1341 325.5L1365 325.9L1396.9 328L1484 337.1L1518 339.5L1518 607Z"/><path fill="#ffd600" fill-rule="evenodd" d="M1518 607L960 607L960 492.6L980 493.8L995 493.2L1008 490.8L1020 486.1L1032 478L1054.3 456L1066.4 446L1117 413.4L1164.5 380L1178 372.3L1192 366L1208.8 360L1226.8 355L1255 349.1L1283 345L1315 342L1342 341.1L1381 342.9L1459 351.2L1518 355.8L1518 607Z"/><path fill="#ffbb00" fill-rule="evenodd" d="M1518 607L960 607L960 504.1L984 507.1L1002 507.1L1020 504.2L1036 498.1L1050.3 488L1078.3 455L1087.3 447L1100.9 437L1153 401.5L1170 391L1190 382L1213 375.4L1275 364.3L1300 362.1L1328 361.3L1360 362.4L1423 367.8L1481 371.3L1518 375.4L1518 607Z"/><path fill="#ffaa00" fill-rule="evenodd" d="M1518 607L960 607L960 514.9L985 518.7L1006 518.7L1028 514.8L1048 507.1L1059 500.6L1068.4 493L1076 484.7L1096.3 459L1105 450.5L1115.6 442L1140.4 425L1162 411.8L1176 405.2L1190 401L1206 398.7L1245 396.6L1295 386.4L1323 383.8L1346 384.3L1407 388.4L1480 389.6L1518 393.6L1518 607Z"/><path fill="#ff9900" fill-rule="evenodd" d="M1518 607L960 607L960 525.3L985 529.3L1007 529.3L1030 525.2L1053 516.9L1069.5 508L1083 498L1093 488L1114.3 463L1132 447.7L1146 438.5L1161 430.3L1173 425.1L1185 421.7L1201 419.6L1248 417.3L1303 406.8L1327 404.3L1349 404.3L1408 407.2L1482 406.3L1518 408.2L1518 607Z"/><path fill="#ff8800" fill-rule="evenodd" d="M1518 607L960 607L960 535.8L985 539.7L1007 539.5L1030 535.4L1054 527.2L1074.6 517L1093.1 505L1105 495L1130 469.9L1145 458.2L1165 447.6L1185 441.4L1202 438.9L1250 435L1307 424.6L1331 421.9L1357 421.5L1429 423.9L1518 420.9L1518 607Z"/><path fill="#ff7a00" fill-rule="evenodd" d="M1518 607L960 607L960 546.7L982 550.1L1003 550.1L1026 546.4L1049 539.2L1074.1 528L1098.7 514L1115.7 502L1142 480.3L1155 471.7L1170 464.7L1187 460L1250 452.6L1311 441.5L1336 438.3L1365 437.5L1417 439.9L1440 440L1518 433.1L1518 607Z"/><path fill="#ff6b00" fill-rule="evenodd" d="M1518 607L960 607L960 558.6L981 561.5L1000 561.3L1021 557.9L1043 551.4L1067 541.6L1095.9 527L1116.6 515L1148 494.5L1160 487.6L1172 482.5L1186 478.7L1249 471.5L1314 458.3L1339 454.7L1369 453.5L1421 456.8L1444 456.7L1469 454L1518 445.4L1518 607Z"/><path fill="#ff5900" fill-rule="evenodd" d="M1518 607L960 607L960 572.4L978 574.6L995 574.3L1013 571.6L1032 566.3L1051 559.1L1074 548.6L1158 505.8L1171 500.7L1183 497.5L1198 495.4L1232 493.3L1248 491.3L1316 475.8L1345 471.5L1373 471L1426 475.4L1450 474.4L1474 470.1L1518 458.6L1518 607Z"/><path fill="#ff4100" fill-rule="evenodd" d="M1518 607L960 607L960 592.2L975 593.6L989 593.2L1002 591.3L1016 587.4L1038 578.2L1093.6 550L1125 535.4L1155 523.1L1175 517.2L1192 514.9L1229 513.8L1247 511.9L1265 508.2L1315 494.9L1344 490.4L1372 490.3L1422 496.2L1445 495.4L1472 489.5L1515 473.8L1518 473.5L1518 607Z"/><path fill="#ff2200" fill-rule="evenodd" d="M1518 607L1058.2 607L1058.2 605L1054.4 601L1053.2 597L1055.1 591L1061.3 584L1072.9 575L1087.4 566L1103 558L1121.7 550L1141 543.2L1157 538.9L1182 535.4L1224 535.9L1243 534.4L1263 530.2L1312.3 516L1327 513.1L1341 511.6L1355 511.5L1369 512.7L1417 521.8L1428 522.4L1439 521.6L1453 518.7L1468 513.6L1489 504.5L1515 491.4L1518 490.9L1518 607Z"/><path fill="#fd0000" fill-rule="evenodd" d="M1518 607L1097.6 607L1097.6 605L1089.6 598L1087.9 592L1089 588L1091.6 584L1102.4 575L1118.6 567L1138 561L1152 558.6L1167 557.7L1216 561.7L1238 560.8L1260 556L1306 541.1L1327 537.1L1342 536.5L1356 538.1L1371.3 542L1410 555.7L1423 557.6L1436 556.7L1449 553.1L1464 546.2L1487 532.6L1515 514.3L1518 513.6L1518 607Z"/><path fill="#f50000" fill-rule="evenodd" d="M1518 607L1450.7 607L1450.7 605L1493.2 567L1515 548.8L1518 548L1518 607ZM1398 607L1258.1 607L1258.1 605L1261.6 600L1269.7 593L1291.3 580L1311 572.7L1329 570.5L1345 572.8L1360.1 579L1372 586.1L1397.7 604L1398.7 605L1398.7 607L1398 607Z"/><path fill="#ee0000" fill-rule="evenodd" d="M1518 607L1503.8 607L1503.8 605L1515 594.5L1518 593.6L1518 607Z"/><path fill="#fff" d="M948.6 78.6H1273.7V91.1H948.6ZM1322.1 78.6H1356.7V91.1H1322.1ZM948.6 91.1H1259.9V112.0H948.6ZM1308.3 91.1H1384.4V112.0H1308.3ZM948.6 112.0H1246.0V133.0H948.6ZM1294.4 112.0H1384.4V133.0H1294.4ZM948.6 133.0H1190.7V154.0H948.6ZM1294.4 133.0H1356.7V154.0H1294.4ZM948.6 154.0H1176.8V174.9H948.6ZM1294.4 154.0H1342.9V174.9H1294.4ZM948.6 174.9H1163.0V195.9H948.6ZM1294.4 174.9H1342.9V195.9H1294.4ZM948.6 195.9H1024.7V216.9H948.6ZM1045.4 195.9H1080.0V216.9H1045.4ZM1086.9 195.9H1149.2V216.9H1086.9ZM1280.6 195.9H1342.9V216.9H1280.6ZM948.6 216.9H1052.3V237.8H948.6ZM1086.9 216.9H1163.0V237.8H1086.9ZM1280.6 216.9H1329.0V237.8H1280.6ZM948.6 237.8H1052.3V258.8H948.6ZM1114.6 237.8H1163.0V258.8H1114.6ZM1252.9 237.8H1329.0V258.8H1252.9ZM948.6 258.8H1052.3V279.8H948.6ZM1114.6 258.8H1163.0V279.8H1114.6ZM1211.4 258.8H1329.0V279.8H1211.4ZM948.6 279.8H1038.5V300.7H948.6ZM1114.6 279.8H1163.0V300.7H1114.6ZM1169.9 279.8H1315.2V300.7H1169.9ZM948.6 300.7H1038.5V321.7H948.6ZM1156.1 300.7H1273.7V321.7H1156.1ZM948.6 321.7H1052.3V342.6H948.6ZM1156.1 321.7H1232.2V342.6H1156.1ZM948.6 342.6H1066.2V363.6H948.6ZM1156.1 342.6H1204.5V363.6H1156.1ZM948.6 363.6H1066.2V384.6H948.6ZM1156.1 363.6H1190.7V384.6H1156.1ZM948.6 384.6H1066.2V405.5H948.6ZM948.6 405.5H1066.2V426.5H948.6ZM948.6 426.5H1052.3V447.5H948.6ZM948.6 447.5H1052.3V468.4H948.6ZM948.6 468.4H1038.5V489.4H948.6ZM948.6 489.4H1024.7V510.4H948.6ZM1031.6 489.4H1066.2V510.4H1031.6ZM948.6 510.4H1010.8V531.3H948.6ZM1017.7 510.4H1066.2V531.3H1017.7ZM948.6 531.3H997.0V552.3H948.6ZM1017.7 531.3H1052.3V552.3H1017.7Z"/>
<path d="M1091.6 184.4L1082.5 186.7L1067.5 192.8L1055.4 200.1L1050.9 206.4L1047.9 210.8L1051.6 205.3L1056.9 198.6L1049.4 197.2L1046.4 192.8L1053.8 182.3L1061.5 174.7L1063.4 172.4L1060.6 166.6L1056.9 165.3L1048.2 166.1L1039.9 176.0L1031.3 185.6L1025.3 188.6L1017.7 196.1L1013.2 202.2L1002.7 203.0L998.1 212.7L999.6 220.2L1007.2 226.3L1014.7 227.8L1017.7 239.7L1022.3 245.8L1028.3 244.3L1035.7 235.7L1041.8 230.7L1048.2 235.7L1053.8 238.2L1060.6 238.9L1064.5 242.7L1066.0 247.3L1064.5 251.9L1057.9 250.4L1052.3 252.5L1046.4 256.3L1040.3 263.8L1035.7 266.8L1032.8 272.8L1025.2 280.4L1022.3 290.9L1022.3 296.9L1028.3 301.4L1034.3 305.8L1038.8 317.9L1043.3 329.9L1049.4 343.5L1053.8 350.2L1056.9 356.3L1053.7 360.5L1057.9 364.7L1057.9 372.2L1050.0 379.3L1042.6 387.7L1035.9 389.6L1037.7 393.2L1048.2 390.9L1060.4 394.9L1056.9 405.5L1057.9 413.9L1053.4 419.6L1048.2 430.1L1042.9 437.2L1039.9 445.4L1037.7 452.9L1030.6 463.6L1027.0 468.6L1023.6 477.4L1019.1 489.4L1014.7 493.4L1011.2 507.4L1002.4 511.0L997.1 521.5L988.4 530.3L983.2 539.7L979.6 544.3L970.8 544.3L962.0 546.2M1091.6 184.4L1100.6 189.6L1106.7 200.1L1103.7 207.6L1105.2 213.7L1099.9 219.8L1099.1 223.6L1103.7 227.3L1108.2 231.1L1112.6 228.8L1117.2 231.8L1124.0 231.8L1124.7 240.8L1126.2 245.4L1118.6 252.1L1120.9 260.5L1124.7 268.0L1121.6 275.6L1120.1 287.5L1123.2 296.5L1126.2 302.6L1132.3 296.5L1139.8 290.4L1145.9 291.9L1151.8 287.5L1157.9 286.0L1162.5 281.4L1163.8 272.4L1162.5 263.4L1160.9 254.4L1156.4 242.2L1151.8 233.2L1147.4 222.7L1142.8 215.2L1135.2 207.6L1133.7 198.6L1138.2 188.1L1145.9 183.5L1154.8 178.9L1162.5 171.4L1165.8 158.2L1171.2 146.8L1178.2 136.2L1179.9 132.8L1185.1 129.9L1188.7 124.6L1197.5 116.9L1203.1 120.4L1208.1 124.0L1220.4 127.3L1228.0 122.5L1236.2 115.2L1242.0 108.1L1245.6 102.8L1254.3 91.1L1261.4 80.6L1269.5 68.0M1199.0 85.8L1204.5 89.0L1211.4 82.7L1208.7 74.3L1201.7 76.4L1199.0 85.8M1182.7 311.0L1187.9 312.3L1196.2 310.2L1205.5 304.1L1214.2 301.8L1222.9 298.6L1230.8 296.5L1237.0 295.3L1240.5 298.6L1242.3 305.8L1240.5 311.2L1244.6 319.6L1249.3 323.4L1252.9 317.5L1258.1 311.0L1264.7 304.9L1261.7 296.9L1265.4 290.2L1268.6 298.6L1275.1 297.6L1282.7 300.5L1284.5 293.4L1288.9 288.1L1291.7 298.6L1293.2 295.3L1295.8 286.0L1302.7 284.0L1305.5 281.2L1305.5 290.2L1308.3 292.3L1310.8 286.5L1314.4 282.9L1319.6 276.0L1318.0 263.0L1317.7 255.9L1321.1 238.2L1322.1 227.3L1322.9 220.8L1328.2 219.0L1331.7 206.6L1335.1 192.8L1333.5 182.1L1329.0 174.9L1324.7 166.1L1327.6 156.1L1321.4 156.1L1318.7 162.4L1315.9 161.3L1313.1 159.2L1310.6 164.5L1306.9 172.8L1309.0 195.9L1305.5 206.4L1300.0 221.1L1293.1 231.1L1284.8 242.0L1273.7 250.4L1267.6 253.1L1266.8 244.1L1270.2 236.4L1265.4 246.2L1262.6 254.6L1256.1 259.2L1252.9 273.5L1244.6 277.7L1240.3 275.1L1229.4 278.7L1218.3 279.8L1210.5 278.7L1201.7 286.0L1192.1 296.5L1184.0 305.1L1182.7 311.0M1182.7 313.3L1176.8 314.3L1173.8 321.7L1167.8 321.7L1166.7 326.9L1164.4 334.3L1167.8 338.5L1172.7 340.6L1175.5 344.7L1172.1 353.1L1172.7 365.7L1173.8 371.2L1178.2 366.8L1180.9 369.3L1185.1 365.7L1187.9 360.5L1190.0 353.1L1191.4 350.0L1195.0 339.3L1196.6 328.8L1191.4 320.0L1186.5 319.6L1182.7 313.3M1198.4 325.2L1205.9 319.6L1210.0 311.2L1218.3 312.3L1224.7 307.6L1233.6 305.8L1235.2 314.6L1229.4 325.9L1222.9 321.7L1215.6 325.9L1210.7 337.4L1205.9 335.3L1203.7 330.5L1198.4 325.2M1334.6 70.1L1331.1 80.6L1333.2 91.1L1328.2 102.8L1324.7 115.2L1315.9 116.9L1313.1 122.5L1307.2 132.8L1308.3 143.5L1310.6 153.8L1318.0 148.7L1322.9 145.0L1315.9 136.2L1319.3 130.9L1326.3 130.9L1333.5 130.9L1342.9 138.3L1352.8 143.5L1356.3 132.8L1369.1 123.6L1377.4 120.4L1384.4 119.2L1380.9 113.5L1379.2 102.8L1382.7 94.0L1373.9 102.8L1363.6 99.5L1353.9 93.2L1345.8 81.9L1338.7 72.2L1334.6 70.1M1044.0 353.1L1049.6 356.3L1056.9 363.6M1048.2 358.4L1053.7 361.5L1058.6 364.7M1091.6 184.4L1099.1 178.5L1109.6 167.8L1120.1 159.0L1127.2 149.4L1136.0 150.4L1143.1 153.8L1144.7 146.8L1155.4 141.6L1164.4 134.1L1169.4 124.0L1174.1 128.8L1178.2 134.1M1178.9 134.1L1185.1 124.6L1188.7 115.2L1186.5 105.8L1185.1 97.6L1183.8 83.5L1187.9 74.3M1124.0 231.8L1127.7 228.4L1131.2 222.1L1136.7 220.6L1143.6 220.0L1147.4 214.8M1284.3 221.1L1287.8 221.1L1286.8 230.5L1283.6 231.1L1284.3 221.1M1212.8 267.2L1216.3 263.0L1215.6 269.3L1212.8 267.2M1159.5 308.1L1162.3 297.6L1160.9 296.5L1159.5 308.1M1117.4 325.9L1121.5 320.6L1127.7 322.7L1124.3 328.0L1117.4 325.9M1182.4 387.7L1184.5 377.2L1183.8 388.8L1182.4 387.7M1175.5 387.7L1178.9 385.6L1177.5 389.8L1175.5 387.7M1158.9 432.8L1164.4 426.5L1163.0 431.7L1158.9 432.8M1138.1 476.8L1146.4 461.1L1143.6 469.5L1138.1 476.8M1052.3 493.6L1057.9 499.9L1056.5 508.3L1053.7 520.8L1050.9 539.7L1044.0 562.8L1039.9 556.5L1034.3 548.1L1033.0 535.5L1034.3 522.9L1039.9 510.4L1045.4 499.9L1052.3 493.6M1006.7 330.1L1009.4 321.7L1015.0 323.8L1016.4 328.0L1012.2 330.1L1010.8 334.3L1006.7 330.1M1030.2 372.0L1033.0 363.6L1037.1 367.8L1034.3 374.1L1030.2 372.0M1384.4 109.9L1391.3 97.4L1398.2 91.1L1392.7 101.6L1384.4 109.9M1399.6 89.0L1407.9 80.6L1413.4 76.4L1405.1 84.8L1399.6 89.0" stroke="#2a2a2a" stroke-width="1.15" fill="none" stroke-linejoin="round"/>
<path d="M1031.6 80.6V604.7M1169.9 80.6V604.7M1308.3 80.6V604.7M1446.6 80.6V604.7M962.4 395.1H1515.8M962.4 185.4H1515.8" stroke="#b0b0b0" stroke-width="1.4" stroke-dasharray="5.5 3" fill="none"/>
</g>
<rect x="962.4" y="80.6" width="553.4" height="524.1" fill="none" stroke="#111" stroke-width="2"/>
<g clip-path="url(#clipb)">
<rect x="132.4" y="717.9" width="346.8" height="524.7" fill="#fff"/>
<rect x="130.0" y="715.0" width="353.0" height="531.0" fill="#000088"/><path fill="#00009a" fill-rule="evenodd" d="M139 1142.1L130 1142.7L130 715L482 715L482 1068L475 1069.6L408 1095.6L363 1114.9L344 1120.6L298.2 1127L139 1142.1Z"/><path fill="#0000ab" fill-rule="evenodd" d="M140 1133L130 1133.7L130 715L482 715L482 1063.1L476 1064.3L372 1102.4L345 1110.1L291 1117.8L140 1133Z"/><path fill="#0000bc" fill-rule="evenodd" d="M142 1124L130 1124.9L130 715L482 715L482 1058.4L477 1059.3L411 1082.4L373 1093.4L346 1099.6L278 1109.6L142 1124Z"/><path fill="#0000cd" fill-rule="evenodd" d="M139 1118L130 1118.5L130 715L482 715L482 1054.4L477 1055.3L443 1067.8L413 1077.3L375 1087.7L345 1094.2L273 1104.4L139 1118Z"/><path fill="#0000de" fill-rule="evenodd" d="M132 1113L130 1113.1L130 715L482 715L482 1050.8L477 1051.7L443 1064L413 1073.4L374 1083.9L345 1090.2L272 1099.9L132 1113Z"/><path fill="#0000ef" fill-rule="evenodd" d="M141 1107L130 1107.6L130 715L482 715L482 1047.2L477 1048.1L413 1069.5L374 1080.1L346 1086L279 1094.7L141 1107Z"/><path fill="#0004ff" fill-rule="evenodd" d="M137 1102.1L130 1102.4L130 715L482 715L482 1043.7L477 1044.5L413 1065.7L373 1076.6L346 1082.3L278 1090.5L137 1102.1Z"/><path fill="#0012ff" fill-rule="evenodd" d="M146 1093L130 1094L130 715L482 715L482 1035.7L476 1036.8L377 1068.3L346 1075.9L293 1081.9L146 1093Z"/><path fill="#001fff" fill-rule="evenodd" d="M140 1083L130 1083.6L130 715L482 715L482 1022.6L475 1024.1L369 1060.9L345.8 1067L298 1072.2L140 1083Z"/><path fill="#0035ff" fill-rule="evenodd" d="M136 1078L130 1078.2L130 715L482 715L482 1015.5L475 1017L368.1 1056L346 1062L297 1067.3L136 1078Z"/><path fill="#0046ff" fill-rule="evenodd" d="M134 1075L130 1075.1L130 715L482 715L482 1011.3L475 1012.9L369 1052.3L345 1058.9L292 1064.6L134 1075Z"/><path fill="#0057ff" fill-rule="evenodd" d="M149 1071L130 1071.9L130 715L482 715L482 1007.1L476 1008.3L370 1048.5L346 1055.3L290 1061.7L149 1071Z"/><path fill="#0068ff" fill-rule="evenodd" d="M147 1068L130 1068.8L130 715L482 715L482 1002.8L476 1004.1L369 1045.4L345 1052.2L283 1059.2L147 1068Z"/><path fill="#0079ff" fill-rule="evenodd" d="M145 1065L130 1065.6L130 715L482 715L482 998.5L475 1000.2L369 1042.4L345 1049.5L282 1056.5L145 1065Z"/><path fill="#008bff" fill-rule="evenodd" d="M143 1062L130 1062.5L130 715L482 715L482 994.3L474.9 996L367 1040.4L345 1047L283 1053.8L143 1062Z"/><path fill="#009bff" fill-rule="evenodd" d="M136 1059L130 1059.2L130 715L482 715L482 990.3L474.8 992L408 1018.7L364 1038.5L345 1044.4L283 1050.9L136 1059Z"/><path fill="#00acff" fill-rule="evenodd" d="M138 1054L130 1054.2L130 715L482 715L482 985.5L465.9 990L412 1010.1L364 1033.6L344 1040.2L285 1046.2L138 1054Z"/><path fill="#00bdff" fill-rule="evenodd" d="M141 1049L130 1049.4L130 715L482 715L482 981.1L475.8 982L455.9 988L410.9 1004L397.7 1010L362.7 1029L344 1035.5L287 1041.3L141 1049Z"/><path fill="#00ceff" fill-rule="evenodd" d="M146 1044L130 1044.6L130 715L482 715L482 976.7L475 977.7L453 984L410 998.8L396.3 1005L362 1023.3L343 1029.9L281 1036.5L146 1044Z"/><path fill="#05dcfa" fill-rule="evenodd" d="M153 1039L130 1039.7L130 726L192.7 719L213.1 715L482 715L482 972.4L454.4 979L411 993.3L397 999.2L361 1017.6L342 1023.8L311 1028.2L274 1031.9L153 1039Z"/><path fill="#10e4f0" fill-rule="evenodd" d="M135 1032L130 1032L130 743.8L175 739.6L235.5 731L287 721.1L299.1 718L305.5 715L482 715L482 966.9L453.3 973L412.7 985L396.7 991L358 1008.5L336 1014.7L294 1021.4L249 1026.3L187 1030.2L135 1032Z"/><path fill="#1aece5" fill-rule="evenodd" d="M149 1024L130 1024.2L130 752.8L195 749L243 743.2L267 737.9L293 730.5L326 719.2L333.3 715L482 715L482 962.7L453 967.5L412 978L396 983.5L353 1001.8L323 1008.7L283 1015.2L244 1019.6L149 1024Z"/><path fill="#26f1da" fill-rule="evenodd" d="M161 1017L130 1017.5L130 759.7L217 758L245 754.5L267 749L293.8 740L343 720.7L350 717.1L352 715L482 715L482 958.9L450 963L409.1 972L393.8 977L350 994.9L309 1003.6L273 1009.4L240 1013.1L161 1017Z"/><path fill="#32f4ce" fill-rule="evenodd" d="M160 1014L130 1014.6L130 763.9L218 763.3L247 759.5L271 753.1L300 742.7L347 723.8L358.5 718L361.6 715L482 715L482 956.6L450 960L409 968.1L393.1 973L348 990.6L298 1001.1L236 1009.7L160 1014Z"/><path fill="#3ef7c2" fill-rule="evenodd" d="M134 1012L130 1012L130 768L218 768.4L233 767.2L248 764.5L274 757.2L307 744.8L352 726.3L366.2 719L370.8 715L482 715L482 954.2L450 957L408 964.5L392 969.2L345 986.7L278 1000.3L221 1007.5L134 1012Z"/><path fill="#49fab7" fill-rule="evenodd" d="M149 1009L130 1009.5L130 772.4L215 773.6L238 771.6L265 765.1L297 753.7L353 730.7L375.7 719L380.4 715L482 715L482 951.8L449 954.2L406 961.1L390 965.7L345 982L273 997L222 1003.9L149 1009Z"/><path fill="#55fdab" fill-rule="evenodd" d="M155 1006L130 1007L130 777.1L215 778.7L240 776.4L257 772.5L277 766.2L344 739.5L378.4 723L387.5 718L390.6 715L482 715L482 949.2L448 951.3L405 957.4L389 961.9L344 977.5L265 994.3L220 1000.7L155 1006Z"/><path fill="#5fffa1" fill-rule="evenodd" d="M140 1004L130 1004.3L130 782L215 783.8L241 781.3L258 777.3L277 771.1L346 743.6L395 720L402 715L482 715L482 946.4L447 948.2L404 953.8L388 958L342 973.3L291 985L251 992.7L200 999.3L140 1004Z"/><path fill="#6cff91" fill-rule="evenodd" d="M143 1002.1L130 1002.6L130 785L169 786.7L215 787L242 784.3L277 774.2L347 746.3L404.4 719L410 715L482 715L482 944.4L446 946.2L403 951.6L387 955.8L342 970.6L288 983L246.2 991L201.2 997L143 1002.1Z"/><path fill="#77ff84" fill-rule="evenodd" d="M140 1001L130 1001.4L130 786.9L169 788.6L216 789L243 786L278 775.8L347 748.4L409.4 719L415.2 715L482 715L482 943L448 944.6L404 950L388.3 954L341 969.4L289 981.2L248.1 989L196.4 996L140 1001Z"/><path fill="#81ff76" fill-rule="evenodd" d="M135 1000L130 1000.2L130 788.9L169 790.5L216 790.9L230 790.1L244 787.8L279 777.4L348 750L416.7 718L420.6 715L482 715L482 941.3L447 943.1L404 948.6L388 952.7L342 967.8L293 978.7L249.2 987L190.3 995L135 1000Z"/><path fill="#8cff69" fill-rule="evenodd" d="M143 998L130 998.8L130 790.8L169 792.5L216 792.9L230 792L245 789.5L279 779.5L348 752.2L422.2 718L426.2 715L482 715L482 939.5L449 941.2L407 946.6L389.3 951L345 965.7L287 978.3L222 989.2L143 998Z"/><path fill="#97ff5c" fill-rule="evenodd" d="M137 997.1L130 997.4L130 792.7L169 794.4L217 794.8L232 793.7L247 791.1L280 781.2L348 754.4L400 729.9L428.1 718L432.2 715L482 715L482 937.5L449 939.4L405 945.6L389 949.8L344 964.8L271 979.5L205 989.4L137 997.1Z"/><path fill="#a2ff4e" fill-rule="evenodd" d="M142 995L130 996L130 794.6L169 796.4L217 796.8L232 795.7L248 792.9L281 782.9L347 757L401 731.6L434.3 718L438.6 715L482 715L482 935.5L449 937.6L406 944L390 948.2L345 963.4L289 974.7L214 986.2L142 995Z"/><path fill="#aeff42" fill-rule="evenodd" d="M141 993L130 994L130 797.1L169 799L217 799.4L232 798.4L249 795.3L281 785.6L346 760.3L400 734.9L443.3 718L448 715L482 715L482 932.9L449 935.3L406 942.2L390 946.6L347 961.4L305 970L243 979.5L141 993Z"/><path fill="#baff36" fill-rule="evenodd" d="M137 991.1L130 991.6L130 799.8L169 802L217 802.5L233 801.3L251 797.9L282 788.4L345 764L403 736.9L455.3 718L460.6 715L482 715L482 929.9L450 932.5L407 939.8L391 944.3L349.3 959L316.1 966L137 991.1Z"/><path fill="#c6ff2b" fill-rule="evenodd" d="M131 989L130 989L130 802.5L169 805.1L217 805.6L234 804.3L253 800.6L283 791.3L345 767.4L411 737.2L470.3 718L477 715L482 715L482 926.6L450 929.5L407 937.3L392 941.7L349.4 957L320.9 963L131 989Z"/><path fill="#d4ff21" fill-rule="evenodd" d="M138 985.1L130 985.9L130 805.1L169 808.1L216 808.7L234 807.4L253 803.8L283 794.6L346 770.6L410.5 741L453 727.1L482 720.5L482 921.6L450 925.5L407 934.4L354.1 953L333.6 958L302.7 963L223 972.7L138 985.1Z"/><path fill="#e2ff16" fill-rule="evenodd" d="M132 982.1L130 982.1L130 807.6L168 811L214 811.9L232 810.8L252 807.3L283.3 798L345 774.9L394 751.7L411 744.7L453 731.4L482 725L482 914.7L453 919.6L410 929.9L356 948.9L336 953.9L304 959.1L223 968.8L132 982.1Z"/><path fill="#efff0c" fill-rule="evenodd" d="M139 977L130 978L130 810.1L167 814L208 815L230 814.2L253 810.3L284 801.3L345 778.9L394 755.6L411 748.7L452 735.9L482 729.4L482 907.7L458 912.8L412 925.3L360 943.8L340 949.2L304 955.2L222 965L139 977Z"/><path fill="#fcff02" fill-rule="evenodd" d="M135 973.1L130 973.5L130 812.7L164 816.8L201 818.2L228 817.7L253 813.7L285 804.6L345 782.9L394 759.6L410.2 753L452 740.1L482 733.9L482 900.7L474 902.2L424 917.5L362 939.2L341 945L301 951.7L223.1 961L135 973.1Z"/><path fill="#fff100" fill-rule="evenodd" d="M132 970L130 970.1L130 815.3L163 819.7L198 821.3L227 821L252 817.2L284 808.3L345 786.5L394.7 763L410 756.9L452 744L482 738L482 894.3L475 895.7L409 918.3L363 935.3L342 941.2L298 948.6L132 970Z"/><path fill="#ffe000" fill-rule="evenodd" d="M133 968L130 968.2L130 817.5L164 822.2L197 823.9L227 823.6L252 819.8L285 810.5L345 789.2L394 766.2L411 759.5L452 747.1L482 741L482 889.4L475 890.9L365 931.8L342 938.6L299 946L133 968Z"/><path fill="#ffce00" fill-rule="evenodd" d="M136 966L130 966.5L130 819.9L164 824.8L197 826.6L226 826.4L252 822.5L284 813.6L345 792L394 769.2L411 762.5L452 750.2L482 744.1L482 884.4L475 886L367.6 928L343 935.6L300 943.4L136 966Z"/><path fill="#ffbd00" fill-rule="evenodd" d="M138 964.1L130 964.9L130 822.3L163 827.3L195 829.4L225 829.3L251 825.6L283 816.7L345 794.7L394 772.3L411 765.6L452 753.3L482 747.2L482 879.3L476 880.7L370.3 924L344 932.6L301 940.7L223 951.2L138 964.1Z"/><path fill="#ffac00" fill-rule="evenodd" d="M135 963L130 963.4L130 824.8L164 830.1L195 832.2L225 832.2L250 828.6L283 819.5L345 797.5L394 775.3L411 768.7L452 756.4L482 750.3L482 874.2L476 875.6L373 919.9L344 929.8L302 938L222 949.2L135 963Z"/><path fill="#ff9b00" fill-rule="evenodd" d="M137 961L130 961.8L130 827.4L163 832.8L195 835.2L225 835.1L250 831.6L283 822.4L345 800.4L395 778L410.7 772L452 759.6L482 753.4L482 868.9L476 870.5L434.9 890L377.3 915L344 926.8L304 935L224 946.6L137 961Z"/><path fill="#ff8a00" fill-rule="evenodd" d="M136 959.1L130 959.7L130 830.5L164 836.3L194 838.7L224 838.8L249 835.3L281 826.5L345 803.6L393.7 782L412 775L454 762.3L482 756.4L482 863.7L476 865.3L433.7 886L377.7 911L345.2 923L302.8 932L221 944.3L136 959.1Z"/><path fill="#ff7900" fill-rule="evenodd" d="M137 956.1L130 956.9L130 834.3L163 840.6L193 843.5L223 843.8L248 840.3L280 831.2L345 807.4L411.7 779L454 765.7L482 759.3L482 858.4L476 860L372 908.5L344 918.9L304 927.7L222 940.5L137 956.1Z"/><path fill="#ff6800" fill-rule="evenodd" d="M134 953.1L130 953.4L130 838.4L163 845.4L192 848.6L222 849.1L247 845.7L268 840L294 830.9L351 809.1L413 782.6L456 768.6L482 762.3L482 853.1L475 855L367 905.6L343 914.5L305 923L222 936.3L134 953.1Z"/><path fill="#ff5700" fill-rule="evenodd" d="M137 949.1L130 950L130 842.5L163.5 850L190 853.3L221 854.1L245 850.9L267 845L289.6 837L351 813.2L416 785.5L458 771.4L482 765.4L482 847.8L475 849.7L410 879.4L364 901.8L343 909.8L306 918.3L222 932.2L137 949.1Z"/><path fill="#ff4600" fill-rule="evenodd" d="M135 946.1L130 946.6L130 846.7L165 853.9L194 856.9L224 857.1L249 853.4L280.8 844L346 819.3L397 796.4L417 788.6L459 774.4L482 768.7L482 842.3L470 846.3L407 875L363 897.3L342 905.4L307 913.7L221 928.2L135 946.1Z"/><path fill="#ff3400" fill-rule="evenodd" d="M134 943.1L130 943.4L130 850.9L164 856.9L196 859.4L226 859.4L252 855.4L284.3 846L345 823.8L398 799.2L419 791L458 778.1L482 772.2L482 836.6L475 838.4L434 856.9L404 870.9L363 892.4L342 900.7L303 909.9L217 924.7L134 943.1Z"/><path fill="#ff2300" fill-rule="evenodd" d="M136 939.1L130 940L130 855.5L167 860.4L204 862.1L230 861.5L256 857.3L288 848.3L345 828.3L397.6 803L420.3 794L457 782L482 776.2L482 830.4L473 833L411 861.3L359 888.9L342 895.6L317.5 902L221 919.3L136 939.1Z"/><path fill="#ff1200" fill-rule="evenodd" d="M134 935.1L130 935.5L130 861.4L172 865.2L216 866L238 864.6L262 860.4L295 851.5L347 834.4L401 808L424.6 799L459.6 788L482 783.2L482 821L477 821.8L468 825.4L410 851.4L350 884L316.7 894L224 912.6L134 935.1Z"/><path fill="#fe0000" fill-rule="evenodd" d="M135 930.1L130 930.7L130 867.5L186 872.3L218 872.6L238 871.4L281.5 864L358.1 844L365.2 843L364.8 845L360.1 849L342 859.8L260.1 893L209.6 910L135 930.1Z"/><path fill="#ef0000" fill-rule="evenodd" d="M133 916.2L130 916.6L130 882.8L177 882.8L192 886.9L192.8 888L177 899.9L133 916.2Z"/>
<path d="M262.0 821.8L252.8 824.1L237.8 830.2L225.6 837.5L221.2 843.8L218.1 848.2L221.9 842.8L227.1 836.1L219.7 834.6L216.6 830.2L224.1 819.7L231.7 812.1L233.7 809.8L230.9 804.0L227.1 802.7L218.4 803.5L210.1 813.4L201.5 823.0L195.5 826.0L187.9 833.5L183.3 839.6L172.8 840.5L168.2 850.1L169.7 857.7L177.3 863.8L184.8 865.2L187.9 877.2L192.5 883.3L198.4 881.8L205.9 873.2L212.0 868.2L218.4 873.2L224.1 875.7L230.9 876.4L234.8 880.1L236.3 884.8L234.8 889.4L228.1 887.9L222.6 890.0L216.6 893.8L210.5 901.3L205.9 904.3L203.0 910.4L195.4 917.9L192.5 928.4L192.5 934.5L198.4 938.9L204.5 943.3L209.0 955.5L213.6 967.4L219.7 981.1L224.1 987.8L227.1 993.9L224.0 998.1L228.1 1002.3L228.1 1009.8L220.2 1017.0L212.9 1025.4L206.1 1027.3L207.9 1030.8L218.4 1028.5L230.6 1032.5L227.1 1043.2L228.1 1051.6L223.7 1057.3L218.4 1067.8L213.1 1074.9L210.1 1083.1L207.9 1090.6L200.8 1101.4L197.2 1106.4L193.7 1115.2L189.3 1127.2L184.8 1131.2L181.4 1145.2L172.5 1148.8L167.2 1159.3L158.5 1168.1L153.2 1177.5L149.6 1182.2L140.9 1182.2L132.0 1184.0M262.0 821.8L271.0 827.0L277.1 837.5L274.0 845.1L275.6 851.2L270.3 857.3L269.5 861.0L274.0 864.8L278.6 868.6L283.0 866.3L287.6 869.2L294.4 869.2L295.1 878.2L296.6 882.9L289.0 889.6L291.4 898.0L295.1 905.5L292.1 913.1L290.5 925.1L293.6 934.1L296.6 940.2L302.7 934.1L310.2 928.0L316.3 929.5L322.3 925.1L328.4 923.6L333.0 919.0L334.4 909.9L333.0 900.9L331.5 891.9L326.9 879.7L322.3 870.7L317.9 860.2L313.3 852.6L305.7 845.1L304.1 836.1L308.7 825.6L316.3 821.0L325.4 816.3L333.0 808.8L336.3 795.6L341.7 784.2L348.8 773.5L350.5 770.2L355.7 767.2L359.3 762.0L368.1 754.2L373.8 757.8L378.8 761.3L391.1 764.7L398.7 759.9L406.9 752.5L412.8 745.4L416.4 740.1L425.1 728.4L432.2 717.9L440.4 705.3M369.6 723.1L375.2 726.3L382.1 720.0L379.3 711.6L372.4 713.7L369.6 723.1M353.2 948.6L358.5 949.8L366.8 947.7L376.1 941.6L384.9 939.3L393.6 936.2L401.5 934.1L407.8 932.8L411.2 936.2L413.0 943.3L411.2 948.8L415.4 957.2L420.1 960.9L423.7 955.1L428.8 948.6L435.5 942.5L432.5 934.5L436.2 927.8L439.4 936.2L445.9 935.1L453.5 938.1L455.3 930.9L459.8 925.7L462.6 936.2L464.1 932.8L466.7 923.6L473.7 921.5L476.4 918.8L476.4 927.8L479.2 929.9L481.7 924.0L485.3 920.4L490.6 913.5L488.9 900.5L488.6 893.4L492.1 875.7L493.1 864.8L493.9 858.3L499.2 856.4L502.6 844.0L506.1 830.2L504.4 819.5L500.0 812.3L495.7 803.5L498.6 793.5L492.4 793.5L489.6 799.8L486.8 798.7L484.1 796.6L481.6 801.9L477.8 810.2L479.9 833.3L476.4 843.8L470.9 858.5L463.9 868.6L455.6 879.5L444.5 887.9L438.4 890.6L437.6 881.6L441.1 873.8L436.2 883.7L433.4 892.1L426.9 896.7L423.7 911.0L415.4 915.2L411.1 912.7L400.1 916.2L389.0 917.3L381.1 916.2L372.4 923.6L362.7 934.1L354.6 942.7L353.2 948.6M353.2 950.9L347.4 951.9L344.4 959.3L338.4 959.3L337.3 964.5L334.9 971.9L338.4 976.1L343.3 978.2L346.0 982.3L342.7 990.7L343.3 1003.3L344.4 1008.8L348.8 1004.4L351.4 1006.9L355.7 1003.3L358.5 998.1L360.6 990.7L362.0 987.6L365.6 976.9L367.3 966.4L362.0 957.6L357.1 957.2L353.2 950.9M369.1 962.8L376.5 957.2L380.7 948.8L389.0 949.8L395.4 945.2L404.3 943.3L406.0 952.1L400.1 963.5L393.6 959.3L386.3 963.5L381.4 975.0L376.5 972.9L374.3 968.1L369.1 962.8M505.6 707.4L502.1 717.9L504.2 728.4L499.2 740.1L495.7 752.5L486.8 754.2L484.1 759.9L478.1 770.2L479.2 780.9L481.6 791.1L488.9 786.1L493.9 782.3L486.8 773.5L490.3 768.3L497.2 768.3L504.4 768.3L513.9 775.6L523.9 780.9L527.3 770.2L540.2 760.9L548.6 757.8L555.5 756.5L552.0 750.9L550.4 740.1L553.8 731.3L545.0 740.1L534.7 736.8L525.0 730.5L516.8 719.2L509.7 709.5L505.6 707.4M214.2 990.7L219.8 993.9L227.1 1001.2M218.4 996.0L224.0 999.1L228.8 1002.3M262.0 821.8L269.5 815.9L280.0 805.2L290.5 796.4L297.6 786.7L306.5 787.8L313.6 791.1L315.2 784.2L325.9 779.0L334.9 771.4L339.9 761.3L344.6 766.2L348.8 771.4M349.5 771.4L355.7 762.0L359.3 752.5L357.1 743.1L355.7 734.9L354.4 720.8L358.5 711.6M294.4 869.2L298.2 865.9L301.6 859.6L307.2 858.1L314.1 857.5L317.9 852.2M455.2 858.5L458.7 858.5L457.7 868.0L454.5 868.6L455.2 858.5M383.5 904.7L387.0 900.5L386.3 906.8L383.5 904.7M330.1 945.6L332.9 935.1L331.5 934.1L330.1 945.6M287.8 963.5L291.9 958.2L298.2 960.3L294.7 965.6L287.8 963.5M353.0 1025.4L355.0 1014.9L354.4 1026.4L353.0 1025.4M346.0 1025.4L349.5 1023.3L348.1 1027.5L346.0 1025.4M329.4 1070.5L334.9 1064.2L333.5 1069.4L329.4 1070.5M308.6 1114.6L316.9 1098.8L314.1 1107.2L308.6 1114.6M222.6 1131.4L228.1 1137.7L226.7 1146.1L224.0 1158.6L221.2 1177.5L214.2 1200.6L210.1 1194.3L204.5 1185.9L203.1 1173.3L204.5 1160.7L210.1 1148.2L215.6 1137.7L222.6 1131.4M176.8 967.7L179.6 959.3L185.1 961.4L186.5 965.6L182.3 967.7L181.0 971.9L176.8 967.7M200.4 1009.6L203.1 1001.2L207.3 1005.4L204.5 1011.7L200.4 1009.6M555.5 747.3L562.4 734.7L569.4 728.4L563.8 738.9L555.5 747.3M570.8 726.3L579.1 717.9L584.6 713.7L576.3 722.1L570.8 726.3" stroke="#2a2a2a" stroke-width="1.15" fill="none" stroke-linejoin="round"/>
<path d="M201.8 717.9V1242.6M340.5 717.9V1242.6M132.4 1032.7H479.2M132.4 822.8H479.2" stroke="#b0b0b0" stroke-width="1.4" stroke-dasharray="5.5 3" fill="none"/>
</g>
<rect x="132.4" y="717.9" width="346.8" height="524.7" fill="none" stroke="#111" stroke-width="2"/>
<path d="M131.0 842.4C137.5 844.0 157.2 848.7 170.0 852.0C182.8 855.3 197.6 860.7 207.6 862.2C217.6 863.7 218.7 864.3 230.0 860.8C241.3 857.3 261.3 845.2 275.5 841.0C289.7 836.8 304.1 839.1 315.0 835.3C325.9 831.5 329.3 822.1 340.6 818.3C351.9 814.5 368.9 817.0 383.0 812.7C397.1 808.5 409.4 800.8 425.5 792.8C441.6 784.8 470.3 769.2 479.3 764.5" stroke="#000" stroke-width="7.0" fill="none" stroke-linecap="round" stroke-linejoin="round"/><path d="M131.0 950.0C137.6 949.3 154.7 949.2 170.8 945.7C186.9 942.2 208.5 934.4 227.4 928.7C246.3 923.0 269.4 914.5 284.0 911.7C298.6 908.9 305.6 912.2 315.0 911.7C324.4 911.2 331.6 911.7 340.6 908.9C349.6 906.1 357.1 901.8 368.9 894.7C380.7 887.6 397.1 874.4 411.3 866.4C425.5 858.4 442.5 850.4 453.8 846.6C465.1 842.8 475.1 844.3 479.3 843.8" stroke="#000" stroke-width="7.0" fill="none" stroke-linecap="round" stroke-linejoin="round"/><g transform="translate(218.9,863.0) rotate(0)"><rect x="-9.9" y="-12.1" width="19.8" height="24.1" fill="#fff"/><text x="0" y="8.5" font-size="23.5" text-anchor="middle" textLength="18.5" lengthAdjust="spacingAndGlyphs">35</text></g><g transform="translate(322.9,912.5) rotate(0)"><rect x="-10.6" y="-12.1" width="21.2" height="24.1" fill="#fff"/><text x="0" y="8.5" font-size="23.5" text-anchor="middle" textLength="18.5" lengthAdjust="spacingAndGlyphs">35</text></g><path d="M340.6 999.5L306 965" stroke="#000" stroke-width="2.4"/><path d="M302.5 961.5L315.5 965.5L306.5 974.5Z" fill="#000"/><text x="275.5" y="1026.6" font-size="29" font-weight="bold" textLength="144" lengthAdjust="spacingAndGlyphs">Jeju Island</text>
<g clip-path="url(#clipe)">
<rect x="547.3" y="717.9" width="346.1" height="524.7" fill="#fff"/>
<rect x="545.0" y="715.0" width="352.0" height="531.0" fill="#000050"/><path fill="#000070" fill-rule="evenodd" d="M896 1245L545 1245L545 1191.7L548 1202.9L553 1211.7L560 1217.8L567 1219.9L574 1218.5L580.4 1213L584 1205L585.1 1194L583.9 1176L581.3 1161L578 1153.3L573 1148.9L569 1147.9L564 1148.4L559 1150.6L555 1153.8L548.8 1163L545 1176.1L545 715L896 715L896 1245ZM811.7 749L818 747.3L822 744.1L824.2 740L824.5 734L822.1 728L818 724.1L813 722.2L807 722.2L801 724.5L796.9 728L794.1 733L793.8 738L795.8 743L800 746.7L806 748.8L811.7 749ZM622.1 996L630 982.3L635.7 969L639.8 955L642.7 939L644.6 919L645.1 898L644 877L641.4 858L638.3 845L634 836L625 826.1L611 814L608.4 789L606.2 777L601.1 760L595 745.8L590 737.8L585 732.6L580 729.7L574 729.2L569 731.5L566 735.3L560 751L552.8 765L550.8 772L550.1 787L551.6 823L547.1 867L547.2 879L548.4 890L551.6 901L556 908L561 910.2L566 907.7L570.7 900L574 889L580.7 838L580.1 832L573.4 815L572.4 808L572.7 800L574.1 794L576.4 789L580 785.6L583 785.4L587 788.3L590.4 795L595 819.6L598 821.4L605 821.7L606.9 825L607 837L603.5 890L604.7 925L607.2 946L611.3 966L618 988.6L621 995.9L622.1 996ZM686.9 807L691 804.7L698 796.5L701 794.5L706 794.1L720 797.1L727 797.5L735 795.1L743 789.5L750 781L753.4 771L752.8 761L747.8 752L744 748.6L739 745.8L729 744L719 746.1L709 752.4L701.6 761L692 778L683 786.8L679.9 792L678.5 798L679.6 804L683 807L686.9 807ZM730.5 920L735 915L738.2 906L740.6 893L741.4 878L740.5 865L738 853.8L734 845.5L730 843L726 845.1L722 853.5L719.6 866L718.8 881L719.7 897L722.2 910L726 918.3L728 920L730.5 920ZM877.9 916L884.8 912L889.4 906L892.1 898L892.3 889L889.7 881L885.1 875L879 871.7L872 871.2L864 874.2L858 880.1L854.3 889L854 898L857 907L862 913L870 916.5L877.9 916ZM774 1006L775.7 1000L776.1 991L775 984.3L774 982.6L773 982.7L771 987.7L770.4 997L772 1005.7L773 1006.6L774 1006ZM640.9 1204L645 1200.1L648.8 1193L651.5 1184L653.2 1173L653.8 1157L652.3 1096L648.8 1074L642.8 1052L631 1021.4L623 1002.7L621 1000.5L615 1014.2L611.8 1028L610.5 1045L611.3 1063L613.4 1078L616.7 1091L620.6 1100L630.5 1118L633.4 1129L633 1141L626.2 1175L625.8 1184L626.5 1191L628.9 1198L632 1202.5L636 1204.8L640.9 1204Z"/><path fill="#000090" fill-rule="evenodd" d="M896 1245L545 1245L545 1200.1L549.3 1210L555 1217.2L562 1221.6L569 1222.6L576 1220.4L582 1214.5L585.2 1207L586.3 1197L585 1178.1L582.5 1161L579.4 1152L575 1147.2L571 1145.5L567 1145.2L562 1146.3L558 1148.3L550.4 1156L545 1167.7L545 715L896 715L896 1245ZM811.6 751L818 749.5L823.2 746L826.1 741L826.6 734L824 727L820 722.7L814 720L807 719.9L800 722.3L794.4 727L791.2 733L791 739L793.1 744L797.5 748L804 750.5L811.6 751ZM640.9 1206L645 1202.4L649 1195.3L651.7 1187L653.8 1176L654.9 1158L654.2 1105L652.4 1087L648.6 1068L643.1 1049L631.2 1015L628.8 1001L630.3 991L640.4 960L644.8 934L646.4 898L643.8 863L640.8 847L637.4 838L621.7 819L615.7 809L606.4 771L601.6 757L596 744.3L591 735.9L585 729.4L580 726.6L574 726L569 727.9L566 731.2L559.5 750L551.5 764L549.2 771L548.3 785L549.4 822L545.3 865L546 888L549 901.3L553.8 911L559 914.9L562 915.1L565 913.8L570.5 907L575 895L577.5 882L580.8 854L585.4 835L584.6 831L579 825L576 819.8L573.1 807L573.5 799L575.6 792L579 787.4L583 786.5L585.4 788L587.7 791L590.5 799L591.6 809L590.9 827L592 828.6L598 830.3L600.5 832L602.2 835L603.2 840L601.9 894L602.8 920L605.8 947L614.2 995L613.9 1003L609.4 1034L609.9 1062L612.2 1078L615.5 1091L619.4 1100L629.5 1118L632.7 1131L632.1 1142L625.8 1174L625.5 1190L627.6 1198L631 1203.7L636 1206.8L640.9 1206ZM686.7 809L691.1 807L699 799.4L703 797.1L708 796.9L722 799.7L729 799.6L737 796.4L745 790.5L752.4 781L755.7 771L754.9 760L749.9 751L741 744.5L730 742.2L719 744.5L708 751.5L700.6 760L691 775.5L681.3 786L678.1 792L676.8 799L678 805L682 808.8L686.7 809ZM731.8 922L736 915.9L739.4 905L741.8 890L742.4 875L741.4 863L738.4 851L734.4 843L730 840.4L727 841.4L725 843.4L721 853L718.6 867L718.1 884L719.6 902L722.6 915L727 922.2L729 923L731.8 922ZM876.3 918L883.5 915L889.3 909L892.9 901L893.8 891L891.8 882L887.2 875L881 870.9L873 869.7L865 872.1L857.9 878L853.7 886L852.5 896L854.9 906L860 913.3L868 917.7L876.3 918ZM773.7 1011L776 1006L777.2 994L776.3 983L774 978.5L772 979.9L771 982.4L769.3 996L770.7 1008L772 1010.7L773.7 1011Z"/><path fill="#0000b0" fill-rule="evenodd" d="M896 1245L545 1245L545 1206L550 1215L556 1221.2L563 1224.8L571 1225.2L578 1222.2L583.7 1216L586.8 1208L587.6 1199L583.2 1159L580.8 1151L577 1145.6L573 1143.2L569 1142.4L564 1142.9L559 1144.8L551 1151.5L545 1161.8L545 894.5L549 908.4L555 917.6L558 919.5L561 920.1L565 918.8L568 916.3L573 908.4L576.9 897L582.8 859L585 850L589 841.7L593 838.8L596 839.1L598 840.9L600.3 849L600.2 897L601.3 921L603.8 945L610.8 991L610.8 1002L607.6 1037L608.9 1064L611.4 1080L614.6 1092L618.6 1101L628 1117L631.4 1127L631.7 1140L625.5 1172L624.4 1188L625.7 1196L628 1201.9L632 1206.9L636 1208.9L641 1208.1L646 1203.4L649.9 1196L653 1186L655.8 1165L656.1 1123L655.1 1099L651.6 1076L646.4 1055L634.5 1018L632.2 1005L633.4 992L640.3 968L643.7 953L647.3 922L647.8 901L647.1 881L645.1 861L642.1 845L637.7 835L625.7 821L620.3 812L606.9 767L600.8 751L595 738.8L590 731.1L585 726L580 723.2L575 722.5L569 724.2L565 728.4L559 749L549.7 764L547.8 769L546.5 783L547.3 823L545 847.2L545 715L896 715L896 1245ZM816.7 752L824 748.1L827.8 742L828.4 734L825.7 726L821 720.7L814 717.7L806 717.7L798 720.7L792 725.9L788.7 732L787.9 738L789.7 744L794.5 749L801 751.9L809 752.9L816.7 752ZM688.8 810L701 801L705 799.5L710 799.5L725 802.4L732 801.5L740 797.2L747.7 791L755 781L758.2 769L756.9 758L751.4 749L746.5 745L741 742.2L735 740.7L729 740.5L723 741.5L717 743.7L706 751.6L699.6 759L690 773.6L680.1 785L676.3 793L675.4 801L677.1 807L682 810.6L688.8 810ZM586 824L583 824.8L579 822.1L576 817L574.1 810L573.8 802L575.1 795L578 789.5L581 787.6L584 788.2L586.7 791L588.9 796L590.2 802L589.7 816L588 821.3L586 824ZM731.4 925L736 918.9L740 907L742.7 891L743.5 874L742.3 861L738.9 848L735 840.8L733 839L730 838L727 838.9L725 840.6L720.9 849L718.1 864L717.3 882L718.6 901L721.7 916L726 924.3L729 925.8L731.4 925ZM878.8 919L886.1 915L891.7 908L894.8 899L895.1 889L892.5 880L887.3 873L880 869L872 868.5L863 871.8L855.6 879L851.8 888L851.4 899L854.7 909L861 916.2L870 919.7L878.8 919ZM774.1 1015L777 1007.3L778.2 993L777 980.5L775.9 977L774 975.1L772 976.6L770 981.9L768.4 997L770 1010.9L772 1015L774.1 1015Z"/><path fill="#0000d0" fill-rule="evenodd" d="M896 1245L545 1245L545 1211.2L550.1 1219L557 1225.1L564 1228L572 1228L579 1224.8L584.6 1219L588.1 1211L589 1202L584 1157.1L581.8 1149L578 1143.1L574 1140.5L570 1139.6L565 1139.8L560 1141.3L551.8 1147L545 1156.6L545 904.2L550 916.7L556 923.5L559 924.8L563 924.7L569 920.7L573.5 914L577.6 904L581.3 889L586 860.4L589 852.4L592 849.4L594 849.4L595.4 851L597.4 858L599.5 921L607.8 988L608.1 1001L606 1037L607.5 1064L610.3 1081L613.6 1093L617.3 1101L627 1117L630.5 1127L630.9 1141L624.7 1174L623.6 1189L624.8 1197L627 1203L631 1208.5L635 1210.9L640 1210.8L645.1 1207L649.5 1200L653.4 1189L656.8 1166L657.6 1126L656.7 1102L653.5 1079L648.6 1058L637.4 1021L635 1006L636 993L645.4 953L648.8 922L649.3 901L648.6 880L646.6 860L643.7 844L639.9 835L628.4 822L623.4 814L620.4 806L615.1 785L601.2 748L592.5 731L588 725.2L584 721.7L579 719.4L574 719L569 720.4L565 723.6L562.6 729L558.5 748L555 754.6L547.2 765L545 773.8L545 715L896 715L896 885.5L892.6 877L887 870.7L880 867.4L871 867.2L862 870.8L855.3 877L851.1 885L849.6 895L851.2 905L855.3 913L862 918.8L870 921.4L879 920.7L886.2 917L892.4 910L896 900.8L896 1245ZM816 754L824 750.6L829 744.3L830.3 736L827.8 726L823 719.6L816 715.9L808 715.2L799 717.6L792 722.2L787 729L784.8 737L786.2 744L790.2 749L797.5 753L807 754.7L816 754ZM687 812L692.1 810L702 803.3L706 802L712 802.2L725 805L732 804.3L740 800L748.9 793L756.6 783L759.1 777L760.7 770L760.9 764L759.9 758L757.8 753L754 748L749 743.8L743 740.7L737 739L730 738.6L718 741.6L712 745L705.8 750L680 782.5L675.2 792L673.9 801L675.8 808L681 811.9L687 812ZM585 821.2L582 821.8L579 819.8L576 814.3L574.6 808L574.5 801L575.8 795L578 790.8L581 788.7L584 789.4L586.3 792L589.4 802L588.7 814L587 818.8L585 821.2ZM545 824.7L545 803.5L545 824.7ZM731 928L736 921.9L740.5 909L743.7 891L744.8 873L743.4 859L739.7 846L735 838L730 835.9L727 836.6L724.1 839L720.2 847L717.4 862L716.5 881L717.9 902L721 918L723 923.2L726 927.4L728 928.5L731 928ZM768.4 865L770.4 862L771.1 857L770 853.6L767 851.9L763.7 855L762.7 861L765 865.6L768.4 865ZM774 1019L776 1016L777.6 1010L779.1 993L777.6 978L776 973.6L774 972.1L772 973.7L769.6 980L767.6 998L768.1 1007L769.8 1015L772 1019L774 1019Z"/><path fill="#0000f0" fill-rule="evenodd" d="M896 1245L545 1245L545 1216.1L550.2 1223L557 1228.5L564 1231.2L571 1231.4L578 1229L584 1224.1L588 1218L590.4 1210L590.4 1200L585 1156.6L583 1147.5L580 1141.6L577 1138.8L573 1137L568 1136.5L562 1137.5L553 1142.2L545 1151.7L545 912.4L550 922.7L556 928.8L559 930L563 929.9L569 926.3L574.4 919L579.3 908L583.5 894L588 873.2L591 866.6L593 868.3L594 872.9L597.7 923L605.1 985L605.5 1000L604.3 1038L606.2 1065L609.1 1082L612.6 1094L616.4 1102L626.1 1117L629.9 1128L630.2 1142L623.8 1176L622.8 1191L623.8 1198L626.3 1205L630 1210.1L635 1213.3L640 1213.2L645.6 1209L650 1202L653.7 1192L657.9 1168L659.2 1127L658.3 1104L655.3 1081L650.6 1060L640 1023L637.6 1008L638.6 994L647.6 951L650.5 920L650.2 879L648.3 859L645.5 843L641.5 834L630.2 822L625.1 814L622.3 806L618 785.9L602.4 747L593 727.9L585 718.6L580 715.9L574 715.1L568 716.8L564 719.9L561.4 725L559.8 740L557.7 748L554 754.4L545 764.7L545 715L798.9 715L791 719.8L785.5 726L782 734L781.8 742L784.7 748L790 752.3L798 755.3L808 756.5L816 755.8L823 753.5L828 749.5L831 744L831.8 736L830 727L826 719.7L820.1 715L896 715L896 880L891.8 873L885 867.6L877 865.5L868 866.6L860 870.5L853.6 877L849.6 885L848 895L849.4 905L853.1 913L859 919.1L867 922.6L876 923L884 920.5L891 914.8L896 906.4L896 1245ZM688.2 813L706 804.5L712 804.5L726 807.8L732 807.3L740 803.1L751 794.5L755.8 789L759.4 783L762.1 776L763.5 769L763.8 762L762.7 756L760.4 751L757.2 747L752 742.6L745.2 739L739 737.1L732 736.5L725 737.4L718 739.9L711 744L705 749L679 781.4L673.6 793L672.6 803L675 809.6L677.6 812L681 813.4L688.2 813ZM584 819.2L581 819.2L578.5 817L576.5 813L575.2 807L576.2 796L578 792.2L581 789.9L584 790.7L586 793L588.6 802L587.8 813L586 817.2L584 819.2ZM730.7 931L736 924.9L740.8 912L744.7 892L746.5 871L745.3 859L740.4 843L736 836.3L733 834.4L730 833.9L727 834.6L723.7 837L719.4 845L716.6 860L715.7 879L717.1 903L720.3 920L725 929.7L728 931.5L730.7 931ZM766.9 872L770 870.2L772.7 867L775.3 858L773.5 849L771 845.7L768 844.5L764 845.7L761.1 849L758.9 854L757.9 860L758.6 866L760.6 870L763.4 872L766.9 872ZM773.9 1023L776 1020.3L778 1014L780 994L778.3 976L776.4 971L774 969.4L771 972.8L769 978.7L766.8 999L767.4 1009L769 1017.3L771 1021.9L773.9 1023Z"/><path fill="#0000ff" fill-rule="evenodd" d="M545 760.7L545 715L563.8 715L561 718.3L559.6 722L559.2 738L557 747.5L553 754L545 760.7ZM896 1245L545 1245L545 1221L551 1227.9L558 1232.7L565 1234.9L572 1234.8L579 1232.2L585.4 1227L590 1220L592.3 1212L592.2 1203L588.4 1179L585.3 1151L583.6 1144L581 1138.7L578 1135.7L574 1133.8L569 1133.2L563 1134L553 1138.3L545 1146.8L545 920.1L550 929L555 933.8L560 935.6L566 934.2L571 930.2L575.6 924L587 899.6L589 897.1L591 898.8L593 907L602 978L603 996L602.6 1042L606.2 1075L608.8 1087L611.8 1096L625.6 1118L629.5 1130L629.5 1143L623.1 1177L621.9 1193L623 1200.5L625.5 1207L629 1212.1L633 1215.2L638 1216.2L642 1214.9L646 1211.5L650.2 1205L656.3 1187L659.8 1163L660.9 1124L658.8 1094L653.7 1066L642.2 1023L640.2 1009L641.1 995L649.5 952L652.1 923L652.3 885L648.8 849L647.1 841L644.5 835L631.1 821L626.6 814L623.9 806L621.5 790L618.7 781L597 730.9L591.3 721L585.9 715L793.2 715L786 720.8L780.9 728L777.6 737L777.6 745L780.6 750L788 754.7L797 757.3L807 758.2L816 757.5L823 755.5L828.3 752L832 746.4L833.4 739L832.2 729L829 720.8L824.3 715L896 715L896 875.8L890.4 869L883.1 865L875 864L866 865.8L858 870.3L851.7 877L847.5 886L846.3 895L847.5 905L851.3 914L856.7 920L864 923.7L874 925L883 923L890.6 918L896 910.8L896 1245ZM689.1 814L702 807.9L707 806.6L713 806.9L727 810.4L733 810L740 806.5L751.4 798L760.5 787L765.6 774L767.5 758L766.6 753L763.7 748L758.2 743L750 738.2L743 735.6L735 734.4L727 735.1L720 737.3L713 741L706 746.4L698.7 754L679 779.1L675 785.6L672.3 793L671.2 804L674 810.9L677 813.4L681 814.8L689.1 814ZM583 817.4L580 816.7L578 814.2L575.7 805L577.3 795L579.4 792L582 791L584 792L586.1 795L587.9 804L586.6 813L585 816L583 817.4ZM730.5 934L736 927.8L741.4 914L745.3 896L749.9 866L748.5 859L741.1 840L736.2 834L731 832L727 832.8L724 834.6L720.9 838L718.9 842L715.9 857L714.8 875L716 901L719.2 921L724 932.2L727 934.5L730.5 934ZM767.1 876L771.7 873L775 868.9L777.5 863L778.4 857L777.7 850L775.3 844L772 840.3L768 838.9L763 840.4L758.7 845L754.5 854L752.5 863L753.7 868L758 874.3L762 876.5L767.1 876ZM814.2 939L818 937.6L820.9 935L821.3 932L819 929.3L815 927.6L810 927.3L806 928.3L802.6 931L801.8 934L804 937.4L808 939L814.2 939ZM774.1 1027L776.4 1024L778.6 1017L780.8 996L779.5 976L777.8 970L775 966.8L772 968.6L769 975.6L767 986L766.1 998L766.5 1010L768.3 1020L771 1026.1L773 1027.3L774.1 1027ZM832.5 1138L839 1135.1L844.2 1131L848.9 1125L851.3 1119L851.8 1113L850.3 1108L847 1104L842 1101.5L833 1101.4L824 1105.2L816.7 1112L812.2 1121L812.1 1129L816 1135.5L823 1138.7L832.5 1138Z"/><path fill="#3030ff" fill-rule="evenodd" d="M546 757.4L545 757.9L545 715L558.5 715L557 720L558.4 736L557.1 745L553 752.5L546 757.4ZM896 1245L545 1245L545 1226.2L551.7 1233L559 1237.2L567 1239L575 1238L582.9 1234L589 1227.9L593.3 1220L594.9 1211L589.1 1179L585.8 1146L584 1139.1L582 1135.2L579 1132.1L575 1130.2L570 1129.7L564 1130.3L553.2 1134L545 1141.6L545 927.9L549 934.3L553 938.4L558 941.1L563 941.4L568 939.2L572.7 935L586 916.6L588 915.9L589 916.6L591 920.8L595 941.9L599.3 977L600.3 995L600.7 1042L604.6 1076L607.5 1089L610.4 1097L625 1118.7L627.6 1125L629.1 1132L628.5 1146L621.5 1184L621.2 1199L622.6 1205L625.4 1211L629 1215.5L633 1218.3L638 1219.2L643 1217.3L647 1213.5L651.1 1207L657.5 1188L661.6 1161L662.9 1126L660.8 1096L656.3 1070L644.9 1025L643 1010L643.9 996L651.6 953L654.2 923L654.2 884L650.8 847L648.9 839L646.5 834L632.7 821L627.5 813L625.1 805L623.4 789L621.5 782L597.4 727L590.5 715L788.1 715L780.9 722L771 738.5L768 740.7L763 740.1L745 733.2L732 732.2L725 733.5L718 736.3L711 740.6L704 746.5L678 778.1L674.4 784L671.5 791L669.7 801L670.8 809L672.8 812L676 814.5L683 816.2L689.7 815L706 808.7L713 809L730 813.2L735.7 812L743 808L754.1 800L761.8 791L766.7 781L772.8 761L776 757L780 756.5L796 759.4L809 759.8L820 758.4L827.7 755L833 748.6L834.9 739L832.6 725L827.5 715L896 715L896 872L890 866.2L882 862.9L873 862.6L863 865.5L854.8 871L849.1 878L845.7 886L844.4 896L845.6 906L849 915L854 920.9L861 924.9L871 926.9L881 925.8L889 922L896 914.8L896 1245ZM583 815.4L581 815.4L579 813.7L576.5 806L577.3 797L579 793.8L581 792.4L583 792.6L585 794.7L587.1 802L586.2 811L583 815.4ZM730.5 937L735.2 932L740 922L751 880.7L754 878.8L762 880.5L768 878.9L775 873.3L779.3 866L781.2 857L780.2 847L776.6 839L771 834.4L767 834L762 835.8L758 839.2L752 846.8L750 847.9L747 845.5L739.2 834L733 830.3L729 830.3L724 832.7L720 836.7L717.6 841L715.2 852L714 870L714.4 891L716.3 912L718.8 925L722 933.4L726 937.6L730.5 937ZM815.3 943L822 940.8L826.7 937L828.2 932L826 927.8L820 924.4L812 923.2L804 924.5L799 927.9L796.5 934L797 937L799 939.8L806 942.9L815.3 943ZM774.7 1031L777.2 1027L779.7 1018L781.8 994L780 972.7L778 966.8L775 964.2L773 965.1L771 967.8L768.4 975L766.1 987L765.2 1001L765.9 1014L768 1024.4L771 1030.6L773 1031.7L774.7 1031ZM828.2 1154L840 1150.2L851.1 1143L860.4 1133L866.3 1122L868.4 1111L866.9 1101L861.9 1093L853 1087.2L846 1085.5L838 1085.6L829 1087.6L821 1091.1L813.6 1096L807 1102.1L801.7 1109L797.7 1117L795.5 1125L795.3 1133L797.1 1140L800.8 1146L806 1150.4L813 1153.5L820 1154.6L828.2 1154Z"/><path fill="#6060ff" fill-rule="evenodd" d="M547 755.1L545 755.6L545 715L553.8 715L553.8 720L557.3 733L557.1 742L555.5 747L553.1 751L547 755.1ZM896 1245L545 1245L545 1232L554 1239.6L563 1243.1L573 1243.2L582 1239.7L588 1235L593.6 1228L596.7 1221L597.8 1214L597 1207L590.4 1182L586.6 1142L585 1135L583 1130.9L577 1126.3L569 1125.8L554 1129L550 1131.3L545 1135.8L545 936.3L549 941.6L553 945L558 947.6L562 948.3L566 947.4L570 945L584 931.2L587 931.2L590 936.6L593 950.2L596.2 975L598.5 1043L603.3 1080L608.7 1098L624 1118.7L626.8 1125L628.3 1131L628.1 1145L620.8 1183L619.6 1198L620.5 1205L623.2 1212L627 1217.4L632 1221.4L637 1222.8L642 1221.5L647 1217.4L651.8 1210L655.9 1200L659.5 1187L663.9 1159L665.2 1128L663.3 1099L658.6 1071L648 1027.5L646 1012L646.9 997L654.3 952L656.5 923L656.6 883L653.3 846L651.7 839L648.8 833L645.1 829L634 820.5L628.8 813L626.3 805L625.1 788L623.4 781L611 755.5L594.3 715L782.8 715L770 729.8L766 732.8L760 733.4L740 729.4L729 730.2L722 732.5L715 736.1L702 746.7L677 777.1L672.9 784L669.9 792L668.1 803L669.3 810L674 815.1L682 817.5L688 816.7L701 811.7L707 810.4L715 811.2L730 815.8L737 814.5L753.2 806L760.9 799L767.5 788L775 768.5L779 763.5L785 761.7L816 761L823 759.4L829 756.5L834.4 750L836.3 741L834.6 727L830.2 715L896 715L896 868.3L889 863.2L881 860.9L871 861.4L861 864.9L853.4 870L847.4 877L843.5 886L842.1 896L843.2 907L846.4 917L850.2 922L857 926L868 928.7L879 928.4L888.5 925L896 918.8L896 1245ZM583 813.4L581 813.5L579 811.6L577.1 805L578 797.4L581 793.7L584 795L586.3 802L585.7 809L583 813.4ZM728.9 941L734 936.6L739.4 927L743.2 916L749 893.5L752 886.8L755 884.7L764 883.4L771 880L777.5 874L782.1 866L784.1 855L782.8 844L778.7 835L776 832L772 829.6L768 828.9L764 829.9L750 839.4L747 838.3L737 829.7L733 828.1L730 828.1L726 829.6L721.4 833L717.9 837L715.9 841L713.7 853L712.9 870L713.6 893L715.6 915L717.9 928L721 936.7L725 941L728.9 941ZM818.3 946L827 942.4L832.5 937L834.3 931L831.9 926L824 921.6L813 919.7L804 920.8L797.3 925L794.4 929L793 934L793.6 939L796 942.5L800 945L805 946.4L812 946.8L818.3 946ZM775 1036L778 1031L780.6 1021L782.4 1007L782.9 993L782.4 980L780.8 970L778 963.3L775 961.7L771 965.6L767.6 975L765.2 989L764.4 1004L765.2 1018L767.9 1030L771 1035.8L773 1036.9L775 1036ZM825.3 1167L834 1165L842 1161.9L857.9 1152L870.3 1139L878.6 1124L881 1116L882 1108L881.7 1101L880 1094L877.1 1088L873 1082.8L867 1078L861 1075L851 1072.7L840 1072.8L828 1075.5L817 1080.3L806.9 1087L797.3 1096L789.8 1106L784.9 1116L782 1127L781.7 1137L784.1 1147L788.8 1155L795.2 1161L804 1165.4L814 1167.4L825.3 1167Z"/><path fill="#8c8cff" fill-rule="evenodd" d="M548 753.2L545 753.5L545 715L548.2 715L549.1 719L555 728.9L556.6 736L556.3 742L554.7 747L552 750.7L548 753.2ZM896 1245L583.5 1245L590.1 1240L596 1233L600.2 1225L601.9 1217L601 1210L594 1192.6L590.8 1180L589.2 1166L588 1139L586.4 1130L584.6 1126L582 1123L579 1121.3L575 1120.6L553 1124L545 1128.9L545 945.5L550.6 950L562 956.1L568 955L579 946.4L583 944.6L586 946.2L589 952.9L593.5 980L595.9 1045L598.3 1066L601.5 1084L606.4 1099L623 1118.7L626 1125L627.8 1133L627.1 1149L618.4 1193L618.2 1207L620.2 1213L623.8 1219L628 1223.4L633 1226.5L639 1227L645 1224L650 1218.3L654.8 1209L659.7 1194L664.3 1174L666.7 1158L667.9 1140L667.5 1116L664.8 1091L660.5 1068L651.8 1031L649.6 1014L650.3 1000L657.3 953L659.4 924L659.5 883L656.5 845L654.3 837L650.6 831L647 827.6L635 819.7L629.6 812L627.4 804L627 788L625.6 781L610.4 750L597.6 715L776.7 715L768 723.7L763 726.7L758 727.5L743 726L734 726.5L724 729.3L714 734.8L705 741.9L696.4 751L677 774.8L671.1 785L667.5 796L666.3 806L668.2 812L673 816.4L678 818.4L684 818.7L702 812.8L709 812L717 813.4L732 819.2L758 810.4L762 807.7L768.3 797L777.8 773L783 767.1L791 764.6L821 761.9L828 759.5L832.7 756L836.4 750L837.8 741L836.2 728L832.6 715L896 715L896 864.4L888 860.2L877 859L865 861.5L855 866.5L846.1 875L841.1 885L839.4 895L840.2 914L839 919.1L835 919.7L815 916.1L808 916.3L803 917.6L798 920.5L793.8 925L790.9 931L790.1 937L792 943.7L797 948L806 950.3L816 950.1L825 947.7L832 943.7L836.8 939L843 928.4L845 927.1L865 930.7L876 931.1L887 928.6L896 923L896 1098.4L893.9 1088L889.7 1079L883.2 1071L874.8 1065L865 1061L854 1059.2L842 1059.5L829 1062.3L817 1067.1L805 1074L794.8 1082L785.2 1092L777.5 1103L772.1 1114L768.5 1126L767.4 1137L768.5 1147L772.1 1157L778 1165.6L786 1172.6L795 1177.4L806 1180.6L818 1181.4L829 1179.9L841 1175.9L853 1169.7L865 1161.2L874.8 1152L883.5 1141L889.7 1130L893.8 1119L896 1107.2L896 1245ZM583 811.3L580 810.8L578 805.9L578.4 799L581 795.2L584 796.9L585.3 801L585.2 807L583 811.3ZM727.6 945L733 940.8L739 930.9L743.2 920L749.2 899L752.5 892L756 889L767 884.9L774.7 880L781.3 873L785.4 865L787.4 852L785.3 839L780 829.2L776 825.4L772 823.1L768 822.5L765 823.3L753 832.2L749 833.5L745 832.2L735 825.7L730 825.4L719.3 833L713.8 841L712.2 851L711.8 870L715.2 922L717.2 933L720 940.9L723.8 945L727.6 945ZM774.6 1043L778.2 1038L781.3 1027L783.4 1013L784.2 997L783.8 981L782.4 970L779.7 962L778 959.8L776 959L772 961.7L767.7 972L764.6 988L763.4 1005L764.2 1021L766.8 1034L770.6 1042L773 1043.5L774.6 1043ZM552 1245L545 1245L545 1239L552.8 1245L552 1245Z"/><path fill="#b4b4ff" fill-rule="evenodd" d="M896 1245L595.1 1245L600.8 1238L604.9 1231L608.8 1222L610.4 1215L609.7 1213L598 1198.2L592.3 1183L589.7 1164L589.3 1129L587.4 1120L584 1115.4L579 1113.4L564 1118.5L551 1117.4L545 1119.7L545 954.3L553 957L562 965.2L565 966.9L569 965.8L577 958.8L581 957.3L584.8 960L587.4 966L590.1 978L591.7 993L593.3 1055L598.4 1088L600.8 1096L603.5 1101L618 1114L622.7 1120L625.9 1127L627.3 1134L627.4 1142L625.9 1153L612.7 1213L614.8 1217L622.8 1226L632 1232.6L639 1233.4L645 1230.6L650.9 1224L655.5 1215L661.5 1197L668.7 1169L670.9 1155L671.8 1138L671.1 1116L668.6 1092L656.4 1033L654.6 1017L655.2 1003L661.4 957L663.3 929L663.5 882L661 844L658.8 837L652.9 829L648 825.1L637 819.7L633.3 816L630.8 812L628.5 803L628.7 787L627.4 780L611 747.2L600.7 715L767.9 715L763 718.5L758 720.4L740 721.8L729 724.4L719 729.3L709 736.5L697 748.3L675 775.2L669.2 786L664.9 801L664.3 808L665.4 812L669 816L676 819.6L685 820L701 814.5L709 813.5L719 815.9L726.4 821L726.8 823L725.7 825L716.1 834L712.2 839L710.6 844L710.2 851L711.3 887L714.7 932L718.4 946L721 949.3L724 950.1L727 949.2L731 946L738 935.9L742.7 925L750 902.2L753.1 896L757 892.4L770 885.7L779.4 879L785.6 872L789.6 864L791.6 851L790 838L785.9 828L775.9 813L774 806L774.4 799L776.9 788L779.4 780L782.5 774L786 770.4L791 767.9L824 763.2L830 760.8L834.6 757L838.1 751L839.2 743L838.1 731L834.7 715L896 715L896 860.2L886 857.2L874 857.6L862 860.9L850.9 867L843.5 874L838.7 882L836.1 891L834.6 906L833 910L828 912L809 911.8L800 915.1L795 919.5L791 925.4L788.4 932L787.5 939L789 946.2L794 951.7L803 954.6L815 954.7L824 952.7L831 949.4L837 944.9L846 935.9L850 933.5L855 932.8L871 933.7L880 933.3L889 931.2L896 927.8L896 1056.7L888 1050.9L878 1046.3L867 1043.5L855 1042.5L843 1043.4L830 1046.2L818 1050.4L806 1056.3L779.6 1075L769.3 1088L760.8 1102L755.3 1114L751.5 1127L750.1 1140L751 1149L753.4 1157L757.7 1165L764.2 1173L778.6 1185L802.7 1199L807.9 1203L811.3 1208L816.6 1223L823.1 1231L833 1236.5L845 1238.9L855 1238.6L864 1236.3L871.7 1232L876.1 1227L877.9 1221L876.2 1214L871.9 1208L859.2 1196L857.8 1193L857.9 1190L861.7 1184L884 1163.3L896 1148.9L896 1245ZM549 751.3L545 751.6L545 723.3L549 724.5L552 727L554.4 731L555.7 736L555.7 741L554.2 746L552 749.3L549 751.3ZM582 809.5L579.8 808L578.7 803L580 798L582 797L584 799.6L584.5 803L584 807.1L582 809.5ZM750 828.1L746 828.2L742.1 826L739.9 823L740.7 821L747 818.1L753.5 819L755 821L754.9 823L753 826L750 828.1ZM774.4 1055L776.1 1054L778.5 1050L782.2 1037L784.8 1020L786 1000L785.7 981L783.8 967L781 959L779 956.8L777 956.1L774 957.3L772 959.5L767.2 971L763.7 989L762.2 1008L762.8 1025L765.5 1041L770 1052.2L772 1054.4L774.4 1055Z"/><path fill="#e0e0ff" fill-rule="evenodd" d="M811 1245L644.6 1245L651 1238.6L656.6 1227L667 1191.1L675.5 1166L678.1 1151L677.9 1127L675.5 1092L672.7 1071L666 1036.5L664.7 1021L670.3 960L669.2 899L670.1 859L671.3 849L674.1 841L672.5 839L663 833.5L652 823.5L638 818.6L632.1 812L629.6 803L630.4 786L629.2 779L612 745.2L607.2 731L603.7 715L741.9 715L729 720.4L718 727.2L707 736.1L695.6 748L677 770.2L671.6 778L665.6 792L661.5 808L661.7 812L664 815.5L670 819.4L676 821.8L684 821.9L700 816.1L708 814.9L717.5 817L721 819L723.3 822L723.2 824L721.3 827L708.7 839L707 845L710.4 890L713.1 945L715.3 954L717 956.2L720 957L724 955.6L728 952.5L737 940.6L742.9 928L751 904.6L754.9 898L759 894.4L776.6 884L786.1 877L792.7 870L796.5 863L799 850L797.6 835L794.3 826L784.2 808L781.6 799L782.3 786L786.4 776L791 771.8L797.6 769L828 764.2L833 761.6L836.7 758L839.8 752L840.7 745L836.7 715L896 715L896 855.3L885 854.5L872 856.1L860 859.8L849.6 865L841.5 871L834.4 879L830.6 886L827 896.7L825 900.1L822 902L810 903.9L804 906.7L797 913L791 921.3L785.9 934L784.3 952L783 952.8L777 953L773 956L769 963.2L765.5 975L760.7 1009L760.6 1050L759.2 1060L736 1108.5L728 1128.5L724.4 1141L724.4 1150L728.7 1158L745.9 1174L778.8 1199L787.9 1207L794.9 1216L805 1235.8L811.8 1245L811 1245ZM548 750.1L545 749.6L545 727.7L547 727.2L550 728L552.2 730L554 733.2L555 738L554.6 742L553 746.4L551 748.7L548 750.1ZM582 806.5L580.8 806L580 803L580.8 800L582 799.7L583.2 803L582 806.5ZM795 1030.2L792 1029.5L790.4 1024L789.8 986L788 959.2L802 963.3L810 963.5L817 962.4L823 960.4L830 956.7L848 941L853 938L860 936.6L883 936.1L896 933.6L896 1017L885 1015.1L869 1013.9L852 1013.6L839 1014.5L819 1019.5L795 1030.2ZM563 1114.1L556.2 1112L545 1102.8L545 961.4L548 960.3L552 961.1L556.3 965L559.6 971L564 983.4L566 985.1L569 982.5L577 969.3L580 967.7L582 968.2L584 970.4L586.4 976L589.3 992L590.1 1013L588.1 1056L588 1090.6L586.4 1094L580 1099.4L571 1110L567 1113L563 1114.1ZM609 1202.3L606 1202.2L603 1200.6L597 1193.2L593.1 1183L591 1171L590.4 1149L592.6 1122L595 1110.5L597 1108L599 1107.3L603 1107.6L609 1109.6L618 1115.7L623.9 1124L626.7 1134L625.8 1151L619 1181.2L614 1196.8L612 1200.1L609 1202.3ZM896 1245L889.3 1245L896 1239.8L896 1245ZM626 1245L614.5 1245L619 1242.8L626 1245Z"/><path fill="#ffffff" fill-rule="evenodd" d="M650 818.2L644 818.8L639 817.4L635 814.2L632.4 810L630.8 802L632.1 786L631.2 779L628.5 772L618 754.1L613 743L608.8 729L606.7 715L727.8 715L702 739L674.5 771L667.5 783L655.4 815L653.4 817L650 818.2ZM837 867L830 867.1L825 863L820.4 853L815.3 832L812.5 825L808.4 820L796 810L790.5 803L788.2 798L787 792L787.1 786L788.5 781L792 775.7L798 771.8L806 769.6L828 766.8L833.9 764L838.2 760L841.3 754L842.3 747L838.6 715L896 715L896 849.1L865 856.1L837 867ZM549 748.3L545 747.5L545 730.9L548 729.9L552 732.2L554 738L553 744.3L551 747.1L549 748.3ZM704 837L700 837.9L696 837.3L678.4 828L678.2 827L695.6 819L703 816.7L712 816.8L719 820L720.7 823L718.9 827L712 832.8L704 837ZM675 828.2L670 828.9L665.9 828L662 825L661.5 822L666.2 822L677.2 827L675 828.2ZM698 956.3L693 955.9L689 953.5L685 948.9L681.9 943L676.8 925L674.9 903L676.2 879L680.4 861L683.5 855L686.8 851L692 847.5L696 846.4L699 847.1L702 850.3L705.4 860L708.5 882L710 910L709.6 930L707.5 944L704 952L701 955L698 956.3ZM702 1135L698 1135.5L695.2 1134L691 1126L688.7 1110L689.2 1089L691.5 1071L695.6 1051L715.4 976L720.6 966L732 951.2L738 941.6L743.4 930L751.5 908L756 900.4L763 894.5L781 884.3L789 881.2L794 881.4L796.9 884L798.9 889L799.4 896L798.4 902L786.8 926L781 945.1L772 955.1L767.8 964L763.5 981L755.7 1026L744.3 1062L733.3 1089L722 1111.4L711 1127.6L706 1132.6L702 1135ZM874 988L866 988L859 986.5L852.9 984L847 980L842.3 975L839.3 969L838.8 964L840.3 959L844 953L849.2 947L853 943.9L858 941.5L865 940.3L875 940.1L889 940.7L896 942.1L896 977.4L886 984.6L874 988ZM552 1002.3L548 1001.4L545 997.9L545 967.5L549 964.5L552 965.2L555.4 969L557.5 974L558.7 981L558.7 988L557.4 995L555 1000.1L552 1002.3ZM564 1109.3L560 1108.7L556 1104.8L552.8 1098L550.9 1090L549.9 1071L552.6 1039L554.5 1028L557.4 1019L560.2 1014L568 1005.6L575.2 982L578 977.3L581 976.1L583 977.7L585 981.8L587.5 994L588.2 1011L586.9 1030L584.6 1043L579 1065.2L574.3 1095L569.8 1105L567 1107.9L564 1109.3ZM608 1198.3L605 1198.1L602 1196.6L599 1193.5L596 1188.4L592.4 1176L591 1161L592 1141L595.3 1124L600 1115L603 1112.9L606 1112.2L614 1114.4L620.4 1120L624.7 1128L626.3 1138L624.6 1155L618 1181.9L613 1194.2L611 1196.6L608 1198.3ZM791 1245L679.9 1245L671.5 1230L668.4 1219L669.3 1205L674 1190.3L679 1181.5L684 1175.3L689 1171.2L695 1168.8L701 1168.6L711 1170.4L731 1177.5L761 1195.3L771.4 1203L779 1210.2L785.4 1219L789.4 1228L791.8 1239L791.8 1245L791 1245Z"/><path fill="#ffd0d0" fill-rule="evenodd" d="M646 816.1L642 816.4L638 814.9L635 812L633 808.1L632 801L633.9 786L633 778.1L630.3 771L619.5 753L614.6 742L610.8 728L609.6 715L720.6 715L715.4 722L672.7 771L667.8 779L654.3 808L650.8 813L646 816.1ZM847 859.2L838.4 859L835 857L832.4 854L828.3 845L821 819L816 813.1L802 805.5L796 800L792.2 792L792.4 783L795.1 778L801 773.7L809 771.5L830 769L836 765.9L840.7 761L843.4 755L844 749L840.4 715L896 715L896 839.5L892 844.2L885.3 848L847 859.2ZM550 746.1L547 746.5L545 745L545 734.3L548 732.3L551 733.6L552.9 738L552.3 743L550 746.1ZM706 833.1L700 833.5L694.3 832L689.5 829L688.6 826L692.9 822L702 818.3L710 818L716 820.3L718 823L716.4 827L712 830.6L706 833.1ZM697 943.2L693 942.6L690 940.5L684.5 932L680.7 919L679.1 903L679.9 886L683.4 871L688.9 861L692 858.4L695 857.4L698 857.9L700 859.4L704 867.2L707 882.7L708.4 903L708 920L706 932L702 940.1L697 943.2ZM706 1112L703 1111.2L701 1109L698.5 1102L697.5 1090L698.4 1075L702.6 1051L712 1015.2L718.4 984L721.3 974L725.4 965L740.3 940L752 910.9L756.6 903L763 897L774 890.4L782 887.2L788 887.3L791.2 890L793.2 895L793.6 901L792.4 908L779.5 942L772 952.8L767.7 962L756.6 1009L737.7 1063L729.3 1083L721 1098.2L713 1108.3L709 1111.2L706 1112ZM875 975.1L868 975.6L862 974.1L856.7 971L852.5 966L851 961L851.7 956L854.6 951L859 947.4L867 945L877 945.2L885 947.5L889.6 952L890.7 959L888.1 966L882.2 972L875 975.1ZM552 994.3L550 994.7L548 993.6L545 987.7L545 974.7L547 970.3L550 968.5L552 969.2L554 971.7L556.2 980L555.3 989L552 994.3ZM564 1104.3L561 1103.9L558.9 1102L554.8 1092L553.5 1078L554.8 1060L560 1035L563 1028.3L570 1019.4L576 990L578 985.3L581 983.5L584 987.7L586 997.6L586.5 1010L585.5 1023L583 1034.1L577.1 1047L575.3 1053L573.2 1082L571.4 1093L568.1 1101L564 1104.3ZM608 1195.2L605 1195.3L601 1193.2L596 1185.8L592.7 1174L591.7 1158L593.2 1140L596.9 1126L602 1117.8L605 1115.7L609 1114.9L616 1117.3L621.4 1123L624.8 1131L625.8 1141L623.7 1157L618 1179.4L613 1191L608 1195.2ZM782 1245L692.4 1245L683.7 1228L679.4 1216L678.8 1206L681.3 1197L685 1191.1L690 1186.5L696 1183.4L703 1181.9L712 1181.8L721 1183.3L741 1190.7L762.2 1203L770 1209.5L775.7 1216L779.9 1223L782.6 1231L783.3 1239L782 1245Z"/><path fill="#ffa8a8" fill-rule="evenodd" d="M644 814L641 814.2L638 812.9L634 807L633.4 800L635.8 785L635 778L632 770L621 751.8L616.2 741L613 728L612.7 715L715.1 715L712.2 721L707.1 728L671 770.7L651.5 807L648 811.6L644 814ZM856 854.1L845 854.6L841.2 853L838 850L833.4 841L828 819.3L825 812L820 807.1L807 801.6L801 797.4L797.1 791L796.9 784L799.6 779L804 775.8L811 773.8L831 772L837 769L842.7 763L845.4 757L846 751L842.3 726L842.1 715L896 715L896 751.1L892.7 759L891.5 766L896 803.4L895.5 819L893.4 831L889.7 839L883.2 845L874.2 849L856 854.1ZM549 744.4L546.9 744L545.4 741L545.9 737L548 735L550.5 736L551.6 739L551 742.5L549 744.4ZM708 830.1L703 830.8L697.9 830L694.3 828L693.6 825L696.8 822L701.7 820L707 819.4L711 820L714.3 822L714.9 825L712.2 828L708 830.1ZM697 934.3L692 932.8L687 925.7L683.8 915L682.4 901L683.4 887L686.3 876L691 868.2L696 866L700 868.3L703.6 876L705.9 888L706.8 902L706.3 915L704.4 925L701 931.7L697 934.3ZM712 1095L708 1094.4L705.1 1089L704.1 1080L704.7 1068L707.5 1051L716 1017L721.2 986L724.6 973L728.5 964L742 939.3L752.4 914L757 905.7L763 899.4L771 894.1L778 891.2L784 891L787.9 894L789.8 899L789.9 906L787.7 915L778.3 940L768 959L757 1000.8L744.3 1030L731 1067.3L721 1086.4L716 1092.4L712 1095ZM871 961.2L868 960.7L866.4 959L866.4 957L868.3 955L872 954.8L874.4 957L874 959.4L871 961.2ZM551 988.7L548.1 987L546.8 982L547.5 976L550 973.1L552.5 975L553.8 980L553.1 986L551 988.7ZM579 1029.4L577 1028.5L575.8 1025L575.3 1011L577.4 996L579 992.1L581 991L583 994L584 998.1L584.6 1011L583 1022.5L581 1027.5L579 1029.4ZM563 1099L560 1097L557.5 1091L556.3 1083L556.2 1074L557.4 1064L560 1053.6L563 1046.7L566 1043.9L568 1045.2L569.5 1051L570.7 1079L569.9 1087L568 1094L566 1097.5L563 1099ZM609 1192.2L606 1193L603 1192.3L600 1190L597 1185.6L593.5 1174L592.3 1159L593.8 1143L597.6 1129L603 1120.2L606 1118L610 1117.1L616 1119L621 1124L624.3 1132L625.2 1141L623.5 1156L618.4 1176L614 1186.8L609 1192.2ZM775 1245L700.1 1245L693.8 1232L689.4 1218L688.7 1209L690.9 1201L694 1196.8L699.3 1193L706 1190.7L713 1190L729 1192.5L749 1200.5L763.5 1210L768.6 1215L772.9 1221L775.7 1227L777.2 1234L776.7 1242L775.9 1245L775 1245Z"/><path fill="#ff7878" fill-rule="evenodd" d="M644 811.3L641 811.9L639 811.2L637 809.5L635.3 806L635 799L637.8 786L637.3 779L633.8 769L622.8 751L617.9 740L615.1 727L615.8 715L710.3 715L708.5 721L704.4 728L690.3 746L669.5 770L649.1 806L644 811.3ZM856 851.1L848 850.5L841.8 846L837 836.3L831.7 814L828.5 806L823.1 801L811 797.4L806 794.5L802.5 790L802.1 784L804.9 780L810 777.4L828 776.7L834 775.1L840 771L845.1 765L847.5 760L848.2 754L843.7 728L843.7 715L896 715L896 743.4L888.3 758L886.4 766L891.6 802L891.3 817L889.3 829L885.8 837L879.9 843L869.3 848L856 851.1ZM704 828L699.7 827L698.7 826L699 824L705 821.6L710.6 823L710.9 825L710 826.1L704 828ZM698 926.2L694 926.2L690 921.9L687 914L685.5 903L685.9 892L688 882.7L692 875.5L696 873.6L699 875.2L702 880.5L704 888.9L704.9 899L704.7 909L703.4 917L701 923.1L698 926.2ZM716 1079.3L713 1078.9L711 1075.2L710.2 1069L710.7 1060L719.6 1018L723.9 985L727.6 971L743.9 938L754 914.1L758 907.3L763 901.8L770 896.9L777 894.1L782 894.4L785.8 898L787.3 904L786.7 911L783.8 921L777.8 937L767.1 959L759 989.2L755 1000.8L741 1028L726 1066.7L721 1074.9L716 1079.3ZM580 1015.1L579 1012.9L578.8 1007L580 1002.2L581 1002.1L582 1009L581 1014.2L580 1015.1ZM564 1092.4L562 1092.1L560.2 1089L558.7 1079L560.1 1067L562 1062.1L564 1060.4L566 1062.1L567 1065.1L568.2 1077L567 1087.2L564 1092.4ZM608 1190.4L605 1190.8L602 1189.6L596.9 1183L593.8 1172L593.1 1157L594.9 1142L599 1129.3L605 1121.2L611 1119L617 1121.2L621.2 1126L624 1133.7L624.6 1143L622.8 1157L618 1175.2L613 1186.1L608 1190.4ZM770 1245L706.2 1245L701.2 1235L697.9 1223L697.3 1213L699.5 1206L702.7 1202L707 1199.3L713 1197.5L719 1197.1L735 1199.7L751 1206.3L762 1214.3L769.4 1224L771.3 1229L772.3 1235L771.7 1241L770 1245Z"/><path fill="#ff4848" fill-rule="evenodd" d="M642 809L640 808.9L638 807.2L636.6 803L640.1 786L638.4 775L634.5 766L623 747.1L618.9 736L617.5 725L619 715L706.1 715L704.3 723L699.2 732L687 747.8L668.1 769L646.6 805L644.1 808L642 809ZM862 847.2L852 847.2L845.5 843L842.4 838L840 832L834.4 806L831 797.1L829 794.3L826 792.2L816 791.4L812.1 790L810.1 788L809.9 785L811.7 783L815 782L827 783.9L832 782.7L842 774.6L849.2 765L850.6 761L850.9 756L845.1 730L844.5 722L845.3 715L894.6 715L896 718.6L896 736.3L892.2 745L883.5 759L881.6 765L882 771L886 788L887.7 800L887.8 814L886 826L882.9 834L878.1 840L871 844.4L862 847.2ZM698 918.1L695 918.7L692 915.9L690 911L688.7 903L688.8 895L690.3 888L693 882.9L696 881.4L698 882.4L700.3 886L702.6 898L701.8 910L700 915.5L698 918.1ZM721 1059.1L719 1058.7L718.3 1057L718.2 1050L723.2 1022L725.6 987L729.8 970L758.2 910L763 904.3L769 899.7L775 897.2L780 897.3L783 899.7L784.4 903L785 908L783.9 915L777.4 934L766.9 957L757 991.3L751.6 1003L736.3 1028L725 1054.2L721 1059.1ZM608 1188.4L605 1188.8L602 1187.7L597 1180.9L594.2 1170L593.8 1156L595.8 1142L600 1130.3L605.6 1123L609 1121.1L612 1120.8L617 1122.7L621.3 1128L623.7 1136L624 1145L621.7 1160L617 1176L613 1184L608 1188.4ZM765 1245L711.6 1245L707.2 1237L704.5 1227L704.3 1218L706.6 1211L709 1208L713.5 1205L724 1203.1L738 1205.2L751 1210.8L760.2 1218L766.1 1227L767.7 1237L765 1245Z"/><path fill="#ff1818" fill-rule="evenodd" d="M642 804.5L640.2 804L639.4 802L640 798.3L643.4 790L641.4 777L637 766L624.8 746L620.9 735L620.1 724L622.3 715L702 715L701.2 723L695.6 734L685 747.8L666.6 768L656 785L647.5 794L644.3 802L642 804.5ZM860 844.1L855 843.6L851.4 842L848.1 839L845.6 835L841.4 822L838 799L837.8 792L839.5 786L852.3 768L854.6 762L854.1 756L846.6 732L845.8 723L846.7 716L847 715L892.1 715L895.1 725L893.8 736L889.4 745L878.2 760L876.4 765L876.8 770L882 787L884 799L884.4 812L882.7 824L879.7 832L875 838L868 842.2L860 844.1ZM696 908.1L693.9 906L692.8 900L693.9 894L696 892.1L698 894.4L698.9 900L698 906.1L696 908.1ZM733 1021.2L731 1021.4L729 1018.7L726.9 1001L727.9 984L731.8 969L759 911.8L763.8 906L768.9 902L774 899.9L778 900.1L780.7 902L782.4 906L781.7 917L777.1 931L766.3 956L757 987.4L753 996.4L747 1006.1L739 1016L733 1021.2ZM606 1187L601 1185L596.5 1177L594.5 1166L594.7 1153L597.3 1140L601.6 1130L607 1124L613 1122.5L618 1125.1L621.7 1131L623.4 1139L623.1 1149L620.2 1164L616 1176.6L611 1184.6L606 1187ZM760 1245L716.9 1245L712.5 1238L710.1 1230L710 1222L712.1 1216L714.4 1213L718 1210.4L727 1208.3L739 1209.8L750 1214.5L757.8 1221L762.5 1229L763.2 1238L760 1245Z"/><path fill="#ff0000" fill-rule="evenodd" d="M650 784L648 783.3L646 780.6L639.5 766L628.8 749L624.6 740L622.9 733L622.6 727L623.4 721L625.8 715L698 715L698.6 720L697.7 725L690.7 738L682 748.9L665.6 766L655 781L650 784ZM865 839.3L857 839.5L851 835.4L846.6 827L843.8 815L842.7 799L844.2 789L849 780L860.3 767L861.6 764L860.4 760L853 747.3L849.2 738L847.2 728L847.5 719L848.6 715L889.8 715L892.1 720L893.1 726L892.7 732L890.9 738L885 747.4L870.9 761L868.4 765L878.6 789L880.6 800L881 811L879.4 822L876.4 830L871.4 836L865 839.3ZM737 1011.5L734 1011.6L732 1009.8L730.2 1005L729.2 998L729.8 983L733.7 968L760 913.2L768 905L773 902.8L776.5 903L779 904.9L780.3 908L780.6 913L779.6 919L766.1 954L757 983.8L753 992.8L748 1000.9L742 1007.9L737 1011.5ZM607 1185.2L601.9 1184L597.3 1177L595.2 1167L595.3 1154L597.6 1142L601.8 1132L607 1125.8L610 1124.3L613 1124L618 1126.7L621 1131.3L622.8 1139L622.7 1148L620.2 1162L616 1174.8L612 1181.7L607 1185.2ZM754 1245L722.4 1245L717.8 1239L715.3 1232L715.3 1225L717.7 1219L724 1214.3L732 1213L741 1214.5L750 1219L755.9 1225L758.8 1232L758.1 1240L755.8 1244L754 1245Z"/><path fill="#e80000" fill-rule="evenodd" d="M652 777.1L649 776.4L647 774.1L630.8 748L627.1 740L625.4 733L625.3 727L626.5 721L629.6 715L694.1 715L695.3 720L694.9 725L692.7 731L688.6 738L679 749.8L664.5 764L656 774.3L652 777.1ZM871 755.1L866 755.9L862 754.5L857 749.9L853 743.6L849.9 736L848.4 728L848.5 721L850.2 715L887.7 715L888.9 717L890.7 722L891.3 727L890.6 733L888.8 738L885.8 743L881 748.5L871 755.1ZM866 834L862 835L859 834.6L856 833.2L853 830.2L849 821.3L847 809L847.3 797L849.9 788L855.9 780L862 776.8L867 778.2L872 784.2L875.6 793L877.3 804L877.1 814L875 823.3L871.3 830L866 834ZM740 1005.1L737 1005.8L734.9 1005L733 1002.4L731.5 997L731.4 983L734.8 969L760 916.3L764 911L768 907.5L772 905.8L775 906L777 907.6L778.3 911L777.6 920L765.4 953L757 980.2L749 996L744 1002L740 1005.1ZM608 1183.2L603 1183L600 1180.2L598.3 1177L595.9 1167L595.9 1155L598 1143.5L602 1133.7L607 1127.6L610 1125.9L613 1125.5L617.7 1128L620.8 1133L622.3 1140L622.2 1148L620 1160.8L616.5 1172L612.1 1180L608 1183.2ZM748 1245L729.5 1245L726 1242.5L722.5 1238L720.4 1232L720.9 1226L723.2 1222L728 1218.7L735 1217.8L743 1219.7L749.6 1224L753.2 1229L754.4 1235L752.3 1241L748 1245Z"/><path fill="#d00000" fill-rule="evenodd" d="M653 770.4L650 770L647 767.2L634.8 750L630 741L628.2 734L628 728L629.3 722L632 717L633.6 715L689.9 715L691.9 720L692 725L690.2 731L686.3 738L675.4 751L657 767.9L653 770.4ZM869 752.2L864 751.7L860 749.5L856 745.3L852.8 740L850.4 733L849.4 726L850 720L851.9 715L885.6 715L887.9 719L889.3 724L889.5 729L886.3 739L882.6 744L878 748.2L869 752.2ZM864 828.2L859 827.7L855 823.5L852.4 817L851.1 808L851.7 799L854 792.1L858 787L862 785.4L866 786.7L870 791.7L872.3 798L873.4 806L872.9 814L871 820.9L868 825.6L864 828.2ZM741 1000.4L738 1000.9L736 999.7L733.3 993L733.2 982L736.2 969L740.9 958L761 918L767 911.1L770 909.4L773 909.3L775 910.8L776 913.4L775.3 922L757 976.7L750 991.3L745 997.5L741 1000.4ZM606 1182.1L601.4 1180L598 1173.8L596.3 1164L596.8 1153L599 1143L603 1134.1L608 1128.5L613 1127L617 1128.9L620.3 1134L621.8 1142L621.4 1151L619 1162.7L615 1173.6L611 1179.6L606 1182.1ZM742 1242L738 1242.5L734 1241.6L728.2 1237L726.9 1234L726.6 1230L729.8 1225L734 1223.4L739 1223.7L744 1225.9L747 1229L748.6 1233L748 1237L745.8 1240L742 1242Z"/><path fill="#b40000" fill-rule="evenodd" d="M655 764L651 764.2L647 761.4L639 751.7L633.7 743L631.5 737L630.7 731L631.6 725L633.8 720L638 715L685.5 715L688.4 720L689 725L687.6 731L684.6 737L679.5 744L673 750.6L661 760.3L655 764ZM871 749.1L866 749.4L862 748L858 744.9L854 739.2L851.6 733L850.7 726L851.4 720L853.6 715L883.5 715L886 718.9L887.9 728L885.4 737L879 744.9L871 749.1ZM864 817.3L862 817.8L860 816.7L858 813.2L857.2 809L858.2 801L860 798.2L862 797.2L864 797.8L865.9 800L867.5 806L866.8 813L864 817.3ZM742 996.1L739 996.4L737.1 995L735 989L735.2 979L738 968L761 921.5L766 915.2L771 913.2L773.3 916L773 923L757 972.9L750 988L746 993.1L742 996.1ZM608 1180.1L605 1180.5L603 1179.7L599.4 1175L597.3 1167L597.1 1156L599.2 1145L603 1136L608 1130.1L613 1128.5L617 1130.5L619.8 1135L621.1 1141L621.1 1149L619.2 1160L616 1169.8L612 1176.9L608 1180.1Z"/><path fill="#980000" fill-rule="evenodd" d="M656 759.1L652 759.3L648 757.2L642 751.1L637.2 744L634.6 738L633.8 733L634.1 728L636 722.6L639 718.5L643.2 715L680.4 715L684 719L685.8 724L685.2 730L682.7 736L678 742.7L671.7 749L663 755.5L656 759.1ZM869 747.1L864 746.5L860 744.2L856.9 741L854 736L852.3 730L852 724L853.2 719L855.5 715L881.4 715L884.7 720L886.2 728L883.5 737L877 744L869 747.1ZM742 992.1L738.8 991L736.8 985L737.2 977L739.9 967L761 925.9L765 920.4L767 919L769 918.8L770.3 922L769.4 928L756 971.7L749 986.1L745 990.6L742 992.1ZM606 1179L602 1177.1L599 1171.5L597.6 1163L598.1 1153L600.3 1144L604 1136.2L608 1131.7L613 1130L617 1132.1L619.6 1137L620.7 1144L620 1153L617.8 1163L614 1172.3L610 1177.4L606 1179Z"/><path fill="#700000" fill-rule="evenodd" d="M659 754.1L655 755L651 754.3L647 751.7L642 746.2L637.3 736L637 731L638.1 726L643 719.2L649.9 715L673.7 715L678.4 718L681.5 722L682.5 727L681.3 733L678 739L672.8 745L666 750.4L659 754.1ZM873 744L868 745L864 744.3L860 741.9L856 736.9L853.8 731L853.3 725L854.8 719L857.6 715L879 715L882.9 720L884.6 727L883.2 734L879 740.1L873 744ZM744 987.3L741 987.2L739.1 983L739.1 977L741 968.8L746 957.7L759 935.2L762 930.6L764.5 929L765.1 932L764 937.9L755 970L750 980.9L747 985L744 987.3ZM608 1177.1L604 1177L600.1 1172L598.4 1164L598.6 1155L600.5 1146L604 1138L608 1133.3L613 1131.5L616.2 1133L619 1137.8L620 1144L619.8 1151L618 1160.2L615 1168.7L612 1173.9L608 1177.1Z"/>
<path d="M676.6 821.8L667.5 824.1L652.5 830.2L640.3 837.5L635.9 843.8L632.9 848.2L636.6 842.8L641.9 836.1L634.4 834.6L631.3 830.2L638.8 819.7L646.4 812.1L648.4 809.8L645.6 804.0L641.9 802.7L633.1 803.5L624.8 813.4L616.2 823.0L610.3 826.0L602.7 833.5L598.1 839.6L587.6 840.5L583.0 850.1L584.5 857.7L592.2 863.8L599.6 865.2L602.7 877.2L607.2 883.3L613.2 881.8L620.7 873.2L626.8 868.2L633.1 873.2L638.8 875.7L645.6 876.4L649.5 880.1L651.0 884.8L649.5 889.4L642.8 887.9L637.3 890.0L631.3 893.8L625.2 901.3L620.7 904.3L617.8 910.4L610.2 917.9L607.2 928.4L607.2 934.5L613.2 938.9L619.3 943.3L623.7 955.5L628.3 967.4L634.4 981.1L638.8 987.8L641.9 993.9L638.7 998.1L642.8 1002.3L642.8 1009.8L634.9 1017.0L627.6 1025.4L620.8 1027.3L622.6 1030.8L633.1 1028.5L645.3 1032.5L641.9 1043.2L642.8 1051.6L638.4 1057.3L633.1 1067.8L627.9 1074.9L624.8 1083.1L622.6 1090.6L615.6 1101.4L612.0 1106.4L608.5 1115.2L604.1 1127.2L599.6 1131.2L596.2 1145.2L587.3 1148.8L582.0 1159.3L573.3 1168.1L568.1 1177.5L564.5 1182.2L555.7 1182.2L546.9 1184.0M676.6 821.8L685.6 827.0L691.7 837.5L688.6 845.1L690.2 851.2L684.9 857.3L684.1 861.0L688.6 864.8L693.2 868.6L697.6 866.3L702.2 869.2L709.0 869.2L709.7 878.2L711.2 882.9L703.6 889.6L706.0 898.0L709.7 905.5L706.6 913.1L705.1 925.1L708.2 934.1L711.2 940.2L717.3 934.1L724.8 928.0L730.9 929.5L736.8 925.1L742.9 923.6L747.5 919.0L748.9 909.9L747.5 900.9L746.0 891.9L741.4 879.7L736.8 870.7L732.4 860.2L727.8 852.6L720.2 845.1L718.7 836.1L723.3 825.6L730.9 821.0L739.9 816.3L747.5 808.8L750.8 795.6L756.2 784.2L763.3 773.5L764.9 770.2L770.2 767.2L773.8 762.0L782.5 754.2L788.2 757.8L793.2 761.3L805.5 764.7L813.1 759.9L821.3 752.5L827.1 745.4L830.7 740.1L839.4 728.4L846.5 717.9L854.6 705.3M784.0 723.1L789.6 726.3L796.5 720.0L793.7 711.6L786.8 713.7L784.0 723.1M767.7 948.6L773.0 949.8L781.3 947.7L790.5 941.6L799.3 939.3L808.0 936.2L815.9 934.1L822.1 932.8L825.6 936.2L827.4 943.3L825.6 948.8L829.7 957.2L834.4 960.9L838.0 955.1L843.1 948.6L849.8 942.5L846.7 934.5L850.5 927.8L853.7 936.2L860.2 935.1L867.8 938.1L869.6 930.9L874.0 925.7L876.8 936.2L878.3 932.8L880.9 923.6L887.9 921.5L890.6 918.8L890.6 927.8L893.4 929.9L895.9 924.0L899.5 920.4L904.8 913.5L903.1 900.5L902.8 893.4L906.3 875.7L907.2 864.8L908.1 858.3L913.3 856.4L916.8 844.0L920.3 830.2L918.6 819.5L914.2 812.3L909.9 803.5L912.8 793.5L906.6 793.5L903.8 799.8L901.0 798.7L898.2 796.6L895.8 801.9L892.0 810.2L894.1 833.3L890.6 843.8L885.1 858.5L878.2 868.6L869.9 879.5L858.8 887.9L852.7 890.6L851.9 881.6L855.3 873.8L850.5 883.7L847.7 892.1L841.2 896.7L838.0 911.0L829.7 915.2L825.4 912.7L814.5 916.2L803.4 917.3L795.5 916.2L786.8 923.6L777.1 934.1L769.1 942.7L767.7 948.6M767.7 950.9L761.9 951.9L758.8 959.3L752.9 959.3L751.8 964.5L749.4 971.9L752.9 976.1L757.7 978.2L760.5 982.3L757.2 990.7L757.7 1003.3L758.8 1008.8L763.3 1004.4L765.9 1006.9L770.2 1003.3L773.0 998.1L775.0 990.7L776.4 987.6L780.0 976.9L781.7 966.4L776.4 957.6L771.6 957.2L767.7 950.9M783.5 962.8L791.0 957.2L795.1 948.8L803.4 949.8L809.8 945.2L818.6 943.3L820.3 952.1L814.5 963.5L808.0 959.3L800.6 963.5L795.8 975.0L791.0 972.9L788.7 968.1L783.5 962.8M919.7 707.4L916.2 717.9L918.3 728.4L913.3 740.1L909.9 752.5L901.0 754.2L898.2 759.9L892.3 770.2L893.4 780.9L895.8 791.1L903.1 786.1L908.1 782.3L901.0 773.5L904.5 768.3L911.4 768.3L918.6 768.3L928.0 775.6L938.0 780.9L941.4 770.2L954.3 760.9L962.6 757.8L969.5 756.5L966.1 750.9L964.4 740.1L967.9 731.3L959.0 740.1L948.8 736.8L939.1 730.5L930.9 719.2L923.9 709.5L919.7 707.4M629.0 990.7L634.5 993.9L641.9 1001.2M633.1 996.0L638.7 999.1L643.5 1002.3M676.6 821.8L684.1 815.9L694.6 805.2L705.1 796.4L712.2 786.7L721.0 787.8L728.1 791.1L729.8 784.2L740.4 779.0L749.4 771.4L754.4 761.3L759.1 766.2L763.3 771.4M764.0 771.4L770.2 762.0L773.8 752.5L771.6 743.1L770.2 734.9L768.8 720.8L773.0 711.6M709.0 869.2L712.7 865.9L716.2 859.6L721.7 858.1L728.7 857.5L732.4 852.2M869.4 858.5L872.9 858.5L871.9 868.0L868.8 868.6L869.4 858.5M797.9 904.7L801.3 900.5L800.6 906.8L797.9 904.7M744.6 945.6L747.3 935.1L746.0 934.1L744.6 945.6M702.4 963.5L706.5 958.2L712.7 960.3L709.3 965.6L702.4 963.5M767.4 1025.4L769.5 1014.9L768.8 1026.4L767.4 1025.4M760.5 1025.4L764.0 1023.3L762.6 1027.5L760.5 1025.4M743.9 1070.5L749.4 1064.2L748.0 1069.4L743.9 1070.5M723.1 1114.6L731.4 1098.8L728.7 1107.2L723.1 1114.6M637.3 1131.4L642.8 1137.7L641.4 1146.1L638.7 1158.6L635.9 1177.5L629.0 1200.6L624.8 1194.3L619.3 1185.9L617.9 1173.3L619.3 1160.7L624.8 1148.2L630.4 1137.7L637.3 1131.4M591.6 967.7L594.4 959.3L599.9 961.4L601.3 965.6L597.1 967.7L595.8 971.9L591.6 967.7M615.1 1009.6L617.9 1001.2L622.1 1005.4L619.3 1011.7L615.1 1009.6M969.5 747.3L976.5 734.7L983.4 728.4L977.8 738.9L969.5 747.3M984.8 726.3L993.1 717.9L998.6 713.7L990.3 722.1L984.8 726.3" stroke="#2a2a2a" stroke-width="1.15" fill="none" stroke-linejoin="round"/>
<path d="M616.5 717.9V1242.6M755.0 717.9V1242.6M547.3 1032.7H893.4M547.3 822.8H893.4" stroke="#b0b0b0" stroke-width="1.4" stroke-dasharray="5.5 3" fill="none"/>
</g>
<rect x="547.3" y="717.9" width="346.1" height="524.7" fill="none" stroke="#111" stroke-width="2"/>
<path d="M545.3 1166.0C551.3 1165.4 571.4 1162.6 581.2 1162.2C591.0 1161.8 598.7 1162.4 604.2 1163.5C609.7 1164.6 609.7 1167.1 614.4 1168.6C619.1 1170.1 625.9 1171.1 632.3 1172.4C638.7 1173.7 648.1 1174.4 652.8 1176.3C657.5 1178.2 659.1 1180.1 660.4 1183.9C661.7 1187.7 661.7 1195.0 660.4 1199.3C659.1 1203.6 657.5 1206.5 652.8 1209.5C648.1 1212.5 640.0 1215.1 632.3 1217.2C624.6 1219.3 616.1 1220.6 606.7 1222.3C597.3 1224.0 586.2 1226.1 576.0 1227.4C565.8 1228.7 550.4 1229.6 545.3 1230.0" stroke="#000" stroke-width="7" fill="none" stroke-linecap="round" stroke-linejoin="round"/><path d="M893.2 1045.8C886.0 1049.2 863.4 1059.5 849.7 1066.3C836.1 1073.1 824.1 1079.1 811.3 1086.8C798.5 1094.5 782.4 1105.5 773.0 1112.3C763.6 1119.1 761.5 1122.2 755.1 1127.7C748.7 1133.2 739.7 1139.6 734.6 1145.6C729.5 1151.6 725.2 1158.4 724.4 1163.5C723.5 1168.6 725.2 1171.2 729.5 1176.3C733.8 1181.4 740.6 1187.8 750.0 1194.2C759.4 1200.6 773.4 1207.8 785.8 1214.6C798.1 1221.4 814.7 1230.0 824.1 1235.1C833.5 1240.2 839.0 1243.6 842.0 1245.3" stroke="#000" stroke-width="7" fill="none" stroke-linecap="round" stroke-linejoin="round"/>
<g clip-path="url(#cliph)">
<rect x="962.4" y="717.9" width="553.4" height="524.7" fill="#fff"/>
<rect x="960.0" y="715.0" width="559.0" height="531.0" fill="#000080"/><path fill="#000080" fill-rule="evenodd" d="M1518 1245L960 1245L960 715L1518 715L1518 1245Z"/><path fill="#000080" fill-rule="evenodd" d="M1518 1245L960 1245L960 715L1518 715L1518 1245Z"/><path fill="#000089" fill-rule="evenodd" d="M1518 1245L960 1245L960 715L1518 715L1518 1245Z"/><path fill="#00009a" fill-rule="evenodd" d="M1518 1245L960 1245L960 715L1518 715L1518 1245Z"/><path fill="#0000ac" fill-rule="evenodd" d="M1518 1245L960 1245L960 715L1431.2 715L1431.7 718L1434 718.4L1447 720.1L1462 720.7L1502.6 718L1503.5 715L1518 715L1518 1245Z"/><path fill="#0000be" fill-rule="evenodd" d="M1518 1245L960 1245L960 715L1415.7 715L1416 718L1426.7 721L1441 723.2L1457 724L1481 723L1518 718.9L1518 1245Z"/><path fill="#0000cf" fill-rule="evenodd" d="M1518 1245L960 1245L960 715L1404.4 715L1404.6 718L1419 723.3L1435 726.2L1453 727.3L1480 726.1L1518 721.4L1518 1245Z"/><path fill="#0000e1" fill-rule="evenodd" d="M1518 1245L960 1245L960 715L1395.2 715L1395.3 718L1398 719.8L1413 725.9L1430 729.2L1450 730.6L1479 729.3L1518 723.9L1518 1245Z"/><path fill="#0000f3" fill-rule="evenodd" d="M1518 1245L960 1245L960 715L1387.2 715L1387.3 718L1389.5 720L1401 726.4L1415 730.5L1433 733.1L1451 733.9L1470 733.1L1518 726.5L1518 1245Z"/><path fill="#0004ff" fill-rule="evenodd" d="M1518 1245L960 1245L960 715L1380.1 715L1380.2 718L1382.8 721L1394 728.2L1408.5 733L1427 736.1L1447 737.1L1468 736.4L1488 734.2L1518 729.2L1518 1245Z"/><path fill="#0011ff" fill-rule="evenodd" d="M1518 1245L960 1245L960 715L1373.7 715L1373.7 718L1377 722.7L1387.2 730L1402 735.4L1422 739L1443 740.4L1466 739.7L1487 737.3L1518 731.9L1518 1245Z"/><path fill="#001fff" fill-rule="evenodd" d="M1518 1245L960 1245L960 715L1367.7 715L1368 718.8L1371 724L1375 728L1381 731.9L1396 737.8L1416 741.7L1439 743.5L1464 742.9L1487 740.3L1518 734.6L1518 1245Z"/><path fill="#002cff" fill-rule="evenodd" d="M1518 1245L960 1245L960 715L1361.9 715L1362.5 720L1364.9 725L1368.3 729L1374 733.3L1389.8 740L1411 744.5L1436 746.6L1462 746.2L1486 743.5L1518 737.4L1518 1245Z"/><path fill="#0034ff" fill-rule="evenodd" d="M1518 1245L960 1245L960 715L1356.4 715L1356.8 721L1358.8 726L1362.7 731L1367.8 735L1383 742L1405 747.1L1432 749.7L1460 749.4L1486 746.5L1518 740.3L1518 1245Z"/><path fill="#0039ff" fill-rule="evenodd" d="M1518 1245L960 1245L960 715L1350.9 715L1351 722L1352.5 727L1356 732L1361 736.4L1368 740.5L1377 744.2L1400 749.7L1428 752.6L1458 752.5L1485 749.7L1518 743.2L1518 1245Z"/><path fill="#003fff" fill-rule="evenodd" d="M1518 1245L960 1245L960 715L1345.3 715L1345 723L1346.1 728L1349.1 733L1354 737.6L1361 742L1370.3 746L1393.3 752L1423 755.5L1455 755.7L1484 752.9L1518 746.2L1518 1245Z"/><path fill="#0044ff" fill-rule="evenodd" d="M1518 1245L960 1245L960 715L1339.7 715L1338.7 724L1339.4 729L1342.1 734L1347 739L1354.9 744L1364 748L1388 754.5L1419 758.3L1453 758.9L1484 756L1518 749.2L1518 1245Z"/><path fill="#004aff" fill-rule="evenodd" d="M1518 1245L960 1245L960 715L1333.9 715L1332 724L1332.1 729L1334.6 735L1339.3 740L1346.7 745L1356 749.3L1382 756.7L1415 761.1L1451 761.9L1483 759.2L1518 752.2L1518 1245Z"/><path fill="#004fff" fill-rule="evenodd" d="M1518 1245L960 1245L960 715L1327.8 715L1327.8 718L1324.7 725L1324.4 730L1326.7 736L1331 740.8L1338.3 746L1348.8 751L1361 755.2L1376 758.9L1411 763.9L1449 765L1483 762.3L1518 755.4L1518 1245Z"/><path fill="#0055ff" fill-rule="evenodd" d="M1518 1245L960 1245L960 715L1321.2 715L1321.1 718L1317.2 724L1315.8 730L1317.4 736L1321.4 741L1329.6 747L1339.7 752L1353.9 757L1369 760.9L1406 766.5L1446 768L1482 765.5L1518 758.5L1518 1245Z"/><path fill="#005aff" fill-rule="evenodd" d="M1518 1245L960 1245L960 715L1313.6 715L1313.5 718L1308.2 724L1305.6 730L1306.3 735L1310.6 741L1318.5 747L1330.4 753L1345 758.3L1362 762.8L1381 766.5L1401 769L1443 771L1481 768.6L1518 761.8L1518 1245Z"/><path fill="#005fff" fill-rule="evenodd" d="M1518 1245L960 1245L960 715L1304.1 715L1303.9 718L1295.9 724L1292.4 729L1292.6 734L1296.7 740L1306.2 747L1319 753.4L1335 759.3L1354 764.5L1374 768.5L1395 771.4L1439 773.9L1479 771.9L1518 765L1518 1245Z"/><path fill="#0069ff" fill-rule="evenodd" d="M1518 1245L960 1245L960 715L1288.4 715L1288.1 718L1275.9 723L1272 727L1272.7 732L1277.9 738L1289.7 746L1306.9 754L1326.7 761L1348 766.7L1369.6 771L1391 774L1437 776.8L1479 775L1518 768.4L1518 1245Z"/><path fill="#0073ff" fill-rule="evenodd" d="M1518 1245L960 1245L960 715L1216.6 715L1216.9 718L1231 724.3L1265.5 743L1283.4 751L1318.9 763L1357 772L1399 777.8L1443 779.8L1482 777.7L1518 771.7L1518 1245Z"/><path fill="#007dff" fill-rule="evenodd" d="M1518 1245L960 1245L960 715L1185.9 715L1186.3 718L1204 724.6L1241.3 742L1264 751L1306.5 764L1354 774.7L1397 780.6L1441 782.7L1481 780.9L1518 775.1L1518 1245Z"/><path fill="#0087ff" fill-rule="evenodd" d="M1518 1245L960 1245L960 715L1159 715L1159.4 718L1187 727.2L1228 745.3L1248.6 753L1292.2 765L1349 777.1L1394 783.3L1439 785.5L1480 784.1L1518 778.6L1518 1245Z"/><path fill="#0091ff" fill-rule="evenodd" d="M1518 1245L960 1245L960 715L1132.3 715L1132.6 718L1173 730.7L1219 749.9L1239.4 757L1275.2 766L1343 779.3L1390 785.8L1436 788.4L1479 787.2L1518 782.1L1518 1245Z"/><path fill="#009dff" fill-rule="evenodd" d="M1518 1245L960 1245L960 715L1108.9 715L1109.2 718L1116 720.7L1165 736.5L1208.9 754L1232 761.5L1276.4 771L1371 786.7L1410 790.3L1449 791.3L1485 789.8L1518 785.6L1518 1245Z"/><path fill="#00a8ff" fill-rule="evenodd" d="M1518 1245L960 1245L960 715L1089.5 715L1089.7 718L1109.5 727L1158 742.8L1198 758L1219 764.6L1254.3 772L1363 788.7L1403 792.7L1445 794.2L1483 793L1518 789.1L1518 1245Z"/><path fill="#00b4ff" fill-rule="evenodd" d="M1518 1245L960 1245L960 715L1072.3 715L1072.5 718L1082 723.4L1097 730.7L1113 736.9L1200 766.5L1221 771.6L1247.5 776L1364.8 792L1405 795.8L1435 797L1465 796.9L1491 795.6L1518 792.7L1518 1245Z"/><path fill="#00c0ff" fill-rule="evenodd" d="M1518 1245L960 1245L960 715L1055.8 715L1056 718L1069 725.7L1086 734.7L1102 741.5L1184 769.7L1201 774.2L1221 777.8L1302 786.7L1370 795.7L1403 798.6L1433 799.8L1464 799.9L1491 798.7L1518 796.3L1518 1245Z"/><path fill="#00cafe" fill-rule="evenodd" d="M1518 1245L960 1245L960 715L1038.8 715L1039 718L1057 728.7L1075 738.6L1092 746.3L1171 774.2L1186 778.4L1202 781.4L1296 789.7L1369 798.6L1404 801.6L1463 802.8L1518 799.9L1518 1245Z"/><path fill="#00cffb" fill-rule="evenodd" d="M1518 1245L960 1245L960 715L1019.9 715L1020.1 718L1059 740.2L1080 750.3L1161 779.7L1175 783.8L1188 786.4L1211 788.8L1294 793.2L1372 802L1406 804.6L1463 805.8L1518 803.5L1518 1245Z"/><path fill="#00d5f7" fill-rule="evenodd" d="M1518 1245L960 1245L960 715L994.6 715L994.9 718L1013 725.8L1049.5 746L1069 755.2L1155 786.4L1178 792.3L1201 794.5L1257 795.1L1291 796.6L1375 805.4L1410 807.8L1463 808.7L1518 807.1L1518 1245Z"/><path fill="#00daf4" fill-rule="evenodd" d="M1518 1245L960 1245L960 730L976 727.9L993 731.2L1006 736.3L1041 753.9L1062 762.8L1113 779.7L1152.1 794L1174 799.3L1195 800.7L1251 799.4L1287 800.2L1314 802.1L1378 808.9L1417 811L1464 811.7L1518 810.7L1518 1245Z"/><path fill="#00dff0" fill-rule="evenodd" d="M1518 1245L960 1245L960 757.2L962 757.2L970 752.5L978 750L986 749.7L995 751.1L1046.3 769L1106 786.1L1149 801.4L1161 804.6L1173 806.6L1192 807.1L1244 804L1279 803.7L1309 805.2L1371 811.5L1402 813.5L1449 814.6L1518 814.3L1518 1245Z"/><path fill="#05e2ec" fill-rule="evenodd" d="M1518 1245L960 1245L960 789.8L963 789.6L981 782.5L991 779.7L1001 778.4L1013 778.4L1046 782.3L1084 789.2L1106 795L1148 809.4L1170 813.4L1191 813.3L1248 808.4L1280 807.7L1310 809L1369 814.6L1398 816.4L1518 817.9L1518 1245Z"/><path fill="#0ae5e8" fill-rule="evenodd" d="M1518 1245L960 1245L960 815L978 812.1L1008 802.2L1021 798.8L1035 796.7L1051 796.1L1071 797.3L1091 800.4L1106 804.2L1144 816.4L1167 820.1L1188 819.5L1246 813L1280 811.8L1310 812.8L1393 819.5L1518 821.4L1518 1245Z"/><path fill="#0fe8e4" fill-rule="evenodd" d="M1518 1245L960 1245L960 832.9L971 831.5L986.5 828L1038 811.9L1052 809.5L1066 808.6L1080 809.2L1094 811.1L1140 823.4L1164 826.6L1186 825.6L1244 817.7L1280 816L1310 816.9L1387 822.6L1518 824.9L1518 1245Z"/><path fill="#15eae0" fill-rule="evenodd" d="M1518 1245L960 1245L960 847.2L993.9 840L1048 824.2L1061 821.8L1074 820.7L1095 821.9L1137 830.9L1160 833.1L1183 831.6L1242 822.5L1278 820.4L1308 821L1381 825.9L1478 826.7L1518 828.4L1518 1245Z"/><path fill="#1aeddc" fill-rule="evenodd" d="M1518 1245L960 1245L960 859.7L1001 850.6L1055 836.7L1080 833.2L1099 833.7L1139 839.1L1161 839.5L1181 837.5L1240 827.5L1260 825.7L1282 825L1373 829.4L1473 829.6L1518 831.9L1518 1245Z"/><path fill="#1ff0d8" fill-rule="evenodd" d="M1518 1245L960 1245L960 871L1054 850.8L1075 847L1096 845.5L1137 846.7L1161 845.8L1180 843.2L1230 833.6L1256 830.8L1291 830.2L1372 833.4L1471 832.6L1518 835.4L1518 1245Z"/><path fill="#25f2d2" fill-rule="evenodd" d="M1518 1245L960 1245L960 881.6L1079 859.5L1100 856.9L1161 852L1224 839.5L1250 836.1L1280 835.3L1358 837.7L1465 835.6L1492 836.5L1518 838.9L1518 1245Z"/><path fill="#2bf3cb" fill-rule="evenodd" d="M1518 1245L960 1245L960 891.7L992 887L1102 867.3L1158 858.7L1218 845.5L1244 841.6L1271 840.7L1340 842.9L1460 838.6L1490 839.5L1518 842.4L1518 1245Z"/><path fill="#31f5c5" fill-rule="evenodd" d="M1518 1245L960 1245L960 901.6L989 899.1L1025 892.9L1157 865.2L1215 851.1L1240 847L1265 846.1L1308 848.7L1328 848.9L1419 843L1458 841.7L1489 842.6L1518 845.9L1518 1245Z"/><path fill="#36f7be" fill-rule="evenodd" d="M1518 1245L960 1245L960 911.4L988 910.7L1018 905.8L1108.7 884L1207 857.9L1237 852.4L1261 851.5L1305 855L1324 855.2L1413 846.9L1456 844.9L1489 845.8L1518 849.4L1518 1245Z"/><path fill="#3cf9b7" fill-rule="evenodd" d="M1518 1245L960 1245L960 921.5L987 922.2L1015 917.8L1123 888L1202 864.4L1234 857.8L1258 856.9L1303 861L1322 861.2L1343 859.4L1410 850.9L1455 848.1L1488 849L1518 853L1518 1245Z"/><path fill="#42fbb1" fill-rule="evenodd" d="M1518 1245L960 1245L960 932.1L975 933.5L987 933.4L1000 931.9L1014 928.9L1140 890L1198 871L1216 866.1L1231 863.3L1255 862.2L1301 866.7L1322 866.8L1344 864.6L1410 854.6L1454 851.4L1487 852.2L1518 856.7L1518 1245Z"/><path fill="#47fcaa" fill-rule="evenodd" d="M1518 1245L960 1245L960 943.1L974 944.5L986 944.4L999 942.7L1014 939.2L1197 876.9L1214 872L1230 868.8L1253 867.6L1300 872L1322 872L1346 869.3L1412 858.2L1454 854.8L1487 855.6L1518 860.4L1518 1245Z"/><path fill="#4dfea3" fill-rule="evenodd" d="M1518 1245L960 1245L960 954.4L974 955.4L986 954.9L999 952.9L1014 949.1L1033 942.6L1086 921.8L1153 899.1L1198 882.5L1214 877.6L1229 874.3L1251 872.9L1300 876.9L1324 876.6L1349 873.6L1414 861.9L1454 858.2L1487 859L1518 864.1L1518 1245Z"/><path fill="#55ff9b" fill-rule="evenodd" d="M1518 1245L960 1245L960 965.6L973 965.9L986 964.8L1000 962.2L1015 958.1L1035 950.8L1099 924.3L1157.6 904L1204 886.5L1229 879.9L1250 878.2L1300 881.5L1326 880.8L1354 877.2L1417 865.4L1454 861.8L1487 862.5L1518 868L1518 1245Z"/><path fill="#5eff92" fill-rule="evenodd" d="M1518 1245L960 1245L960 976.1L973 975.7L987 974L1002 970.7L1017 966.2L1038 958.2L1082 938.3L1104.7 929L1163 908.5L1206 892.1L1230 885.5L1251 883.6L1301 885.8L1328 884.8L1357 880.9L1420 868.9L1454 865.4L1471 865.2L1487 866.2L1518 872L1518 1245Z"/><path fill="#68ff88" fill-rule="evenodd" d="M1518 1245L960 1245L960 985.9L973 984.9L989 982.3L1018.9 974L1041.4 965L1087 943.4L1110 933.6L1208 897.7L1231 891.1L1252 888.9L1304 889.9L1332 888.4L1362 884.2L1423 872.5L1454 869.2L1471 868.9L1487 870L1518 876.2L1518 1245Z"/><path fill="#71ff7f" fill-rule="evenodd" d="M1518 1245L960 1245L960 995.1L991 990L1021.7 981L1044 971.8L1092.4 948L1116 937.7L1211 903L1233 896.6L1255 894L1307 893.7L1337 891.7L1366 887.6L1425 876.3L1454 873.1L1471 872.8L1487 873.9L1500 876.1L1518 880.5L1518 1245Z"/><path fill="#7aff76" fill-rule="evenodd" d="M1518 1245L960 1245L960 1003.9L993 997.3L1025 987.5L1049 977.3L1098 952.3L1122 941.5L1214 908.2L1236 901.9L1259 898.8L1311 897.4L1342 895L1371 890.8L1427 880.3L1454 877.3L1471 877L1486 878L1499 880.2L1518 885L1518 1245Z"/><path fill="#84ff6c" fill-rule="evenodd" d="M1518 1245L960 1245L960 1012.4L996 1004.1L1027.6 994L1053 983L1103 956.6L1128 945.2L1217 913.5L1240 906.8L1264 903.4L1318 900.8L1349 898L1376 894.1L1428 884.6L1454 881.7L1471 881.3L1486 882.5L1499 884.7L1518 889.8L1518 1245Z"/><path fill="#8dff63" fill-rule="evenodd" d="M1518 1245L960 1245L960 1020.6L963 1020.5L999 1010.7L1031 1000L1058 988.1L1108 960.8L1134 948.6L1156 940.3L1220 918.6L1244 911.6L1271 907.5L1326 904L1356 901.1L1430 889L1454 886.3L1471 886L1486 887.2L1499 889.6L1518 894.8L1518 1245Z"/><path fill="#98ff58" fill-rule="evenodd" d="M1518 1245L960 1245L960 1028.8L963 1028.6L1009 1014.9L1043 1002.4L1068 990.4L1118.4 962L1147 949.2L1226 922.6L1249 916.1L1279 911.3L1364 904.2L1431 893.7L1454 891.3L1470 891L1485 892.2L1498 894.6L1518 900.1L1518 1245Z"/><path fill="#a3ff4d" fill-rule="evenodd" d="M1518 1245L960 1245L960 1036.9L963 1036.7L1014 1020.5L1047 1008L1073 995.1L1123.1 966L1151 953.2L1182 942.4L1254 920.4L1284 915.2L1367 908L1432 898.7L1454 896.6L1470 896.4L1485 897.7L1498 900.2L1518 905.7L1518 1245Z"/><path fill="#adff43" fill-rule="evenodd" d="M1518 1245L960 1245L960 1045L963 1044.8L1019 1026L1052 1013.1L1079 999.3L1127 970.4L1155 957.3L1186 946.4L1260 924.3L1295 918.3L1373 911.8L1433 904.1L1453 902.3L1469 902.2L1484 903.5L1497 906L1518 911.6L1518 1245Z"/><path fill="#b8ff38" fill-rule="evenodd" d="M1518 1245L960 1245L960 1053.2L963 1053L1024 1031.6L1057 1018.3L1084 1004.1L1130.6 975L1158 961.7L1189 950.8L1266 928.2L1285 924.3L1306 921.5L1376 916.2L1452 908.6L1468 908.6L1483 909.9L1518 918L1518 1245Z"/><path fill="#c5ff2c" fill-rule="evenodd" d="M1518 1245L960 1245L960 1061.6L963 1061.4L1029 1037.3L1062 1023.6L1089 1009L1135.4 979L1162 965.9L1193 955L1272 932.2L1293 928L1316 925L1449 915.5L1466 915.5L1481.8 917L1518 924.9L1518 1245Z"/><path fill="#d4ff20" fill-rule="evenodd" d="M1518 1245L960 1245L960 1070.4L963 1070.2L1033 1043.6L1066 1029.5L1093 1014.6L1140.5 983L1165 970.6L1196 959.7L1276 937L1300 932.1L1323 929.3L1444 923L1462 923.2L1478 924.5L1518 932.3L1518 1245Z"/><path fill="#e4ff14" fill-rule="evenodd" d="M1518 1245L960 1245L960 1079.7L963 1079.5L1036 1050.7L1071 1035.2L1098 1019.9L1145 987.7L1169 975.2L1201 964L1280.8 942L1305 937L1329 934.4L1436 931.2L1474 932.9L1518 940.4L1518 1245Z"/><path fill="#f4ff08" fill-rule="evenodd" d="M1518 1245L960 1245L960 1089.9L963 1089.7L971 1086.6L1032 1061.2L1076 1041.2L1103 1025.5L1149.2 993L1173 980.2L1205 969L1280.2 949L1305 943.6L1328 940.9L1353 939.9L1409 939.9L1462 941.7L1518 949.4L1518 1245Z"/><path fill="#fff600" fill-rule="evenodd" d="M1518 1245L960 1245L960 1101.1L971 1098.6L989 1091.5L1080 1048.2L1104 1034.2L1149 1001.9L1171 988.8L1195 979L1226.3 970L1300 952.4L1318 949.6L1338 948.2L1371 948.2L1433 950.6L1463 953.2L1518 959.7L1518 1245Z"/><path fill="#ffd600" fill-rule="evenodd" d="M1518 1245L960 1245L960 1113.2L969 1112.3L982 1109.5L1002 1101.8L1039.3 1080L1100 1046.6L1118 1034.7L1153 1009L1169 999L1194 987.6L1225 978.2L1300.6 962L1320 959.3L1340 958.1L1366 958.5L1407 961L1518 971.7L1518 1245Z"/><path fill="#ffbb00" fill-rule="evenodd" d="M1518 1245L960 1245L960 1125.5L977 1125.8L991 1124.7L1003.2 1122L1014 1117.6L1025 1110.4L1056.9 1084L1112 1049.8L1167 1011.1L1179.9 1004L1193.6 998L1226 987.8L1255 981.5L1289.5 976L1317 972.9L1342 971.9L1385 973.8L1470 982.9L1518 986.4L1518 1245Z"/><path fill="#ffaa00" fill-rule="evenodd" d="M1518 1245L960 1245L960 1137.4L982 1139.8L999 1139.8L1015 1137.2L1029.1 1132L1037.3 1127L1044.5 1121L1065.2 1097L1078.2 1085L1158 1030.1L1172.9 1021L1187 1014.3L1204 1008.1L1223 1002.9L1251.7 997L1277 993.4L1306 991.1L1337 990.4L1375 992.1L1518 1005L1518 1245Z"/><path fill="#ff9900" fill-rule="evenodd" d="M1518 1245L960 1245L960 1148.4L985 1152L1005 1152L1025 1148.6L1044 1141.3L1054 1135.2L1062 1128.4L1088.4 1096L1096.5 1088L1107.7 1079L1143 1054.8L1164 1041.7L1180 1034.1L1196 1029.3L1211 1026.8L1243 1023.7L1291 1014.7L1322 1012.4L1349 1013.1L1412 1017.8L1480 1020L1518 1024.5L1518 1245Z"/><path fill="#ff8800" fill-rule="evenodd" d="M1518 1245L960 1245L960 1159L985 1163L1007 1162.9L1030 1158.8L1052 1150.5L1065.5 1143L1077.2 1134L1085.9 1125L1107.2 1099L1125.3 1083L1143 1071L1160 1061.1L1173 1055.2L1186 1051.3L1202 1049.2L1247 1047.3L1301 1036.6L1325 1034.2L1346 1034.4L1408 1037.8L1482 1037.5L1518 1040.3L1518 1245Z"/><path fill="#ff7a00" fill-rule="evenodd" d="M1518 1245L960 1245L960 1169.4L985 1173.4L1007 1173.3L1030 1169.2L1054 1160.8L1073.2 1151L1090 1139.5L1100.4 1130L1124 1104.5L1140.6 1091L1163 1078.4L1174 1074.2L1185 1071.3L1201 1069L1249 1065.8L1306 1055.3L1329 1052.8L1353 1052.5L1421 1055.1L1487 1053.1L1518 1053.6L1518 1245Z"/><path fill="#ff6b00" fill-rule="evenodd" d="M1518 1245L960 1245L960 1180.1L983 1183.7L1005 1183.6L1028 1179.7L1051 1172.3L1075 1161.2L1097 1148L1111.5 1137L1138 1113.3L1151 1104.1L1168 1095.7L1186 1090.4L1202 1087.9L1251 1083.1L1310 1072.4L1334 1069.5L1362 1068.8L1436 1071.3L1518 1065.9L1518 1245Z"/><path fill="#ff5900" fill-rule="evenodd" d="M1518 1245L960 1245L960 1191.5L982 1194.7L1002 1194.4L1023 1191L1046 1184.1L1071 1173.5L1098.4 1159L1116 1148L1145 1127.1L1158 1119.1L1172 1112.9L1187 1108.9L1250 1101.5L1313 1089.2L1338 1085.8L1368 1084.7L1420 1087.6L1443 1087.6L1467 1085.5L1518 1078.1L1518 1245Z"/><path fill="#ff4100" fill-rule="evenodd" d="M1518 1245L960 1245L960 1204.4L979 1206.8L997 1206.6L1017 1203.5L1037 1197.8L1059 1189.1L1086 1176.3L1160 1135.9L1172 1131L1185 1127.6L1199 1125.5L1249 1121L1314 1106.7L1339 1102.8L1369 1101.5L1421 1105.3L1444 1105.2L1471 1101.5L1518 1090.9L1518 1245Z"/><path fill="#ff2200" fill-rule="evenodd" d="M1518 1245L960 1245L960 1220.7L976 1222.4L992 1222L1008 1219.6L1024 1215.1L1052 1203.7L1148 1157.5L1165 1150.8L1179 1147L1195 1144.8L1230 1143.3L1247 1141.5L1265 1137.8L1316 1124.8L1345 1120.3L1373 1120.1L1424 1125.2L1447 1124.3L1473 1119.1L1518 1105.1L1518 1245Z"/><path fill="#fd0000" fill-rule="evenodd" d="M1518 1245L1036.8 1245L1036.8 1243L1034.3 1238L1037.1 1232L1045.8 1224L1061.8 1213L1082.4 1201L1102.1 1191L1125 1181.1L1146 1173.3L1163 1168.4L1186 1164.9L1227 1164.6L1245 1162.9L1264 1158.9L1313.7 1145L1342 1140.6L1356 1140.2L1370 1141L1419 1148.6L1441 1148.1L1455 1145.4L1470 1140.9L1489 1133.4L1515 1121.7L1518 1121.3L1518 1245Z"/><path fill="#f50000" fill-rule="evenodd" d="M1518 1245L1082.3 1245L1082.3 1243L1076.1 1237L1074.4 1232L1075.6 1227L1079.9 1221L1088 1214L1097.2 1208L1121 1197L1148 1189.3L1174 1186.2L1219 1188.5L1240 1187.4L1261 1182.9L1310 1167.9L1325 1165L1339 1163.8L1353 1164.2L1367 1166.2L1414 1179.1L1425 1180.1L1435 1179.5L1448 1176.6L1464 1170.3L1487 1158.5L1515 1141.9L1518 1141.4L1518 1245Z"/><path fill="#ee0000" fill-rule="evenodd" d="M1518 1245L1125.1 1245L1125.1 1243L1114.4 1235L1112.6 1232L1112.3 1229L1115.5 1223L1123 1217.8L1135 1213.5L1148 1211.6L1168 1212.6L1213 1221.4L1225 1221.8L1236 1220.7L1256 1215.4L1304 1197.2L1318 1194L1331 1192.8L1345 1194L1360 1198.2L1373 1204L1399 1218L1411 1222.9L1421 1225.1L1431 1224.9L1443 1221.4L1456 1214.5L1475 1201.3L1515 1170.8L1518 1170L1518 1245Z"/><path fill="#e70000" fill-rule="evenodd" d="M1518 1245L1486.2 1245L1486.2 1243L1503.1 1225L1515 1214.9L1518 1214L1518 1245Z"/><path fill="#fff" d="M948.6 715.9H1273.7V728.4H948.6ZM1322.1 715.9H1356.7V728.4H1322.1ZM948.6 728.4H1259.9V749.4H948.6ZM1308.3 728.4H1384.4V749.4H1308.3ZM948.6 749.4H1246.0V770.4H948.6ZM1294.4 749.4H1384.4V770.4H1294.4ZM948.6 770.4H1190.7V791.4H948.6ZM1294.4 770.4H1356.7V791.4H1294.4ZM948.6 791.4H1176.8V812.3H948.6ZM1294.4 791.4H1342.9V812.3H1294.4ZM948.6 812.3H1163.0V833.3H948.6ZM1294.4 812.3H1342.9V833.3H1294.4ZM948.6 833.3H1024.7V854.3H948.6ZM1045.4 833.3H1080.0V854.3H1045.4ZM1086.9 833.3H1149.2V854.3H1086.9ZM1280.6 833.3H1342.9V854.3H1280.6ZM948.6 854.3H1052.3V875.3H948.6ZM1086.9 854.3H1163.0V875.3H1086.9ZM1280.6 854.3H1329.0V875.3H1280.6ZM948.6 875.3H1052.3V896.3H948.6ZM1114.6 875.3H1163.0V896.3H1114.6ZM1252.9 875.3H1329.0V896.3H1252.9ZM948.6 896.3H1052.3V917.3H948.6ZM1114.6 896.3H1163.0V917.3H1114.6ZM1211.4 896.3H1329.0V917.3H1211.4ZM948.6 917.3H1038.5V938.3H948.6ZM1114.6 917.3H1163.0V938.3H1114.6ZM1169.9 917.3H1315.2V938.3H1169.9ZM948.6 938.3H1038.5V959.3H948.6ZM1156.1 938.3H1273.7V959.3H1156.1ZM948.6 959.3H1052.3V980.2H948.6ZM1156.1 959.3H1232.2V980.2H1156.1ZM948.6 980.2H1066.2V1001.2H948.6ZM1156.1 980.2H1204.5V1001.2H1156.1ZM948.6 1001.2H1066.2V1022.2H948.6ZM1156.1 1001.2H1190.7V1022.2H1156.1ZM948.6 1022.2H1066.2V1043.2H948.6ZM948.6 1043.2H1066.2V1064.2H948.6ZM948.6 1064.2H1052.3V1085.2H948.6ZM948.6 1085.2H1052.3V1106.2H948.6ZM948.6 1106.2H1038.5V1127.2H948.6ZM948.6 1127.2H1024.7V1148.2H948.6ZM1031.6 1127.2H1066.2V1148.2H1031.6ZM948.6 1148.2H1010.8V1169.1H948.6ZM1017.7 1148.2H1066.2V1169.1H1017.7ZM948.6 1169.1H997.0V1190.1H948.6ZM1017.7 1169.1H1052.3V1190.1H1017.7Z"/>
<path d="M1091.6 821.8L1082.5 824.1L1067.5 830.2L1055.4 837.5L1050.9 843.8L1047.9 848.2L1051.6 842.8L1056.9 836.1L1049.4 834.6L1046.4 830.2L1053.8 819.7L1061.5 812.1L1063.4 809.8L1060.6 804.0L1056.9 802.7L1048.2 803.5L1039.9 813.4L1031.3 823.0L1025.3 826.0L1017.7 833.5L1013.2 839.6L1002.7 840.5L998.1 850.1L999.6 857.7L1007.2 863.8L1014.7 865.2L1017.7 877.2L1022.3 883.3L1028.3 881.8L1035.7 873.2L1041.8 868.2L1048.2 873.2L1053.8 875.7L1060.6 876.4L1064.5 880.1L1066.0 884.8L1064.5 889.4L1057.9 887.9L1052.3 890.0L1046.4 893.8L1040.3 901.3L1035.7 904.3L1032.8 910.4L1025.2 917.9L1022.3 928.4L1022.3 934.5L1028.3 938.9L1034.3 943.3L1038.8 955.5L1043.3 967.4L1049.4 981.1L1053.8 987.8L1056.9 993.9L1053.7 998.1L1057.9 1002.3L1057.9 1009.8L1050.0 1017.0L1042.6 1025.4L1035.9 1027.3L1037.7 1030.8L1048.2 1028.5L1060.4 1032.5L1056.9 1043.2L1057.9 1051.6L1053.4 1057.3L1048.2 1067.8L1042.9 1074.9L1039.9 1083.1L1037.7 1090.6L1030.6 1101.4L1027.0 1106.4L1023.6 1115.2L1019.1 1127.2L1014.7 1131.2L1011.2 1145.2L1002.4 1148.8L997.1 1159.3L988.4 1168.1L983.2 1177.5L979.6 1182.2L970.8 1182.2L962.0 1184.0M1091.6 821.8L1100.6 827.0L1106.7 837.5L1103.7 845.1L1105.2 851.2L1099.9 857.3L1099.1 861.0L1103.7 864.8L1108.2 868.6L1112.6 866.3L1117.2 869.2L1124.0 869.2L1124.7 878.2L1126.2 882.9L1118.6 889.6L1120.9 898.0L1124.7 905.5L1121.6 913.1L1120.1 925.1L1123.2 934.1L1126.2 940.2L1132.3 934.1L1139.8 928.0L1145.9 929.5L1151.8 925.1L1157.9 923.6L1162.5 919.0L1163.8 909.9L1162.5 900.9L1160.9 891.9L1156.4 879.7L1151.8 870.7L1147.4 860.2L1142.8 852.6L1135.2 845.1L1133.7 836.1L1138.2 825.6L1145.9 821.0L1154.8 816.3L1162.5 808.8L1165.8 795.6L1171.2 784.2L1178.2 773.5L1179.9 770.2L1185.1 767.2L1188.7 762.0L1197.5 754.2L1203.1 757.8L1208.1 761.3L1220.4 764.7L1228.0 759.9L1236.2 752.5L1242.0 745.4L1245.6 740.1L1254.3 728.4L1261.4 717.9L1269.5 705.3M1199.0 723.1L1204.5 726.3L1211.4 720.0L1208.7 711.6L1201.7 713.7L1199.0 723.1M1182.7 948.6L1187.9 949.8L1196.2 947.7L1205.5 941.6L1214.2 939.3L1222.9 936.2L1230.8 934.1L1237.0 932.8L1240.5 936.2L1242.3 943.3L1240.5 948.8L1244.6 957.2L1249.3 960.9L1252.9 955.1L1258.1 948.6L1264.7 942.5L1261.7 934.5L1265.4 927.8L1268.6 936.2L1275.1 935.1L1282.7 938.1L1284.5 930.9L1288.9 925.7L1291.7 936.2L1293.2 932.8L1295.8 923.6L1302.7 921.5L1305.5 918.8L1305.5 927.8L1308.3 929.9L1310.8 924.0L1314.4 920.4L1319.6 913.5L1318.0 900.5L1317.7 893.4L1321.1 875.7L1322.1 864.8L1322.9 858.3L1328.2 856.4L1331.7 844.0L1335.1 830.2L1333.5 819.5L1329.0 812.3L1324.7 803.5L1327.6 793.5L1321.4 793.5L1318.7 799.8L1315.9 798.7L1313.1 796.6L1310.6 801.9L1306.9 810.2L1309.0 833.3L1305.5 843.8L1300.0 858.5L1293.1 868.6L1284.8 879.5L1273.7 887.9L1267.6 890.6L1266.8 881.6L1270.2 873.8L1265.4 883.7L1262.6 892.1L1256.1 896.7L1252.9 911.0L1244.6 915.2L1240.3 912.7L1229.4 916.2L1218.3 917.3L1210.5 916.2L1201.7 923.6L1192.1 934.1L1184.0 942.7L1182.7 948.6M1182.7 950.9L1176.8 951.9L1173.8 959.3L1167.8 959.3L1166.7 964.5L1164.4 971.9L1167.8 976.1L1172.7 978.2L1175.5 982.3L1172.1 990.7L1172.7 1003.3L1173.8 1008.8L1178.2 1004.4L1180.9 1006.9L1185.1 1003.3L1187.9 998.1L1190.0 990.7L1191.4 987.6L1195.0 976.9L1196.6 966.4L1191.4 957.6L1186.5 957.2L1182.7 950.9M1198.4 962.8L1205.9 957.2L1210.0 948.8L1218.3 949.8L1224.7 945.2L1233.6 943.3L1235.2 952.1L1229.4 963.5L1222.9 959.3L1215.6 963.5L1210.7 975.0L1205.9 972.9L1203.7 968.1L1198.4 962.8M1334.6 707.4L1331.1 717.9L1333.2 728.4L1328.2 740.1L1324.7 752.5L1315.9 754.2L1313.1 759.9L1307.2 770.2L1308.3 780.9L1310.6 791.1L1318.0 786.1L1322.9 782.3L1315.9 773.5L1319.3 768.3L1326.3 768.3L1333.5 768.3L1342.9 775.6L1352.8 780.9L1356.3 770.2L1369.1 760.9L1377.4 757.8L1384.4 756.5L1380.9 750.9L1379.2 740.1L1382.7 731.3L1373.9 740.1L1363.6 736.8L1353.9 730.5L1345.8 719.2L1338.7 709.5L1334.6 707.4M1044.0 990.7L1049.6 993.9L1056.9 1001.2M1048.2 996.0L1053.7 999.1L1058.6 1002.3M1091.6 821.8L1099.1 815.9L1109.6 805.2L1120.1 796.4L1127.2 786.7L1136.0 787.8L1143.1 791.1L1144.7 784.2L1155.4 779.0L1164.4 771.4L1169.4 761.3L1174.1 766.2L1178.2 771.4M1178.9 771.4L1185.1 762.0L1188.7 752.5L1186.5 743.1L1185.1 734.9L1183.8 720.8L1187.9 711.6M1124.0 869.2L1127.7 865.9L1131.2 859.6L1136.7 858.1L1143.6 857.5L1147.4 852.2M1284.3 858.5L1287.8 858.5L1286.8 868.0L1283.6 868.6L1284.3 858.5M1212.8 904.7L1216.3 900.5L1215.6 906.8L1212.8 904.7M1159.5 945.6L1162.3 935.1L1160.9 934.1L1159.5 945.6M1117.4 963.5L1121.5 958.2L1127.7 960.3L1124.3 965.6L1117.4 963.5M1182.4 1025.4L1184.5 1014.9L1183.8 1026.4L1182.4 1025.4M1175.5 1025.4L1178.9 1023.3L1177.5 1027.5L1175.5 1025.4M1158.9 1070.5L1164.4 1064.2L1163.0 1069.4L1158.9 1070.5M1138.1 1114.6L1146.4 1098.8L1143.6 1107.2L1138.1 1114.6M1052.3 1131.4L1057.9 1137.7L1056.5 1146.1L1053.7 1158.6L1050.9 1177.5L1044.0 1200.6L1039.9 1194.3L1034.3 1185.9L1033.0 1173.3L1034.3 1160.7L1039.9 1148.2L1045.4 1137.7L1052.3 1131.4M1006.7 967.7L1009.4 959.3L1015.0 961.4L1016.4 965.6L1012.2 967.7L1010.8 971.9L1006.7 967.7M1030.2 1009.6L1033.0 1001.2L1037.1 1005.4L1034.3 1011.7L1030.2 1009.6M1384.4 747.3L1391.3 734.7L1398.2 728.4L1392.7 738.9L1384.4 747.3M1399.6 726.3L1407.9 717.9L1413.4 713.7L1405.1 722.1L1399.6 726.3" stroke="#2a2a2a" stroke-width="1.15" fill="none" stroke-linejoin="round"/>
<path d="M1031.6 717.9V1242.6M1169.9 717.9V1242.6M1308.3 717.9V1242.6M1446.6 717.9V1242.6M962.4 1032.7H1515.8M962.4 822.8H1515.8" stroke="#b0b0b0" stroke-width="1.4" stroke-dasharray="5.5 3" fill="none"/>
</g>
<rect x="962.4" y="717.9" width="553.4" height="524.7" fill="none" stroke="#111" stroke-width="2"/>
<g clip-path="url(#clipc)">
<rect x="134.6" y="1488.0" width="359.2" height="565.6" fill="#fff"/>
<rect x="132.0" y="1486.0" width="365.0" height="571.0" fill="#000056"/><path fill="#000063" fill-rule="evenodd" d="M496 2056L132 2056L132 1486L496 1486L496 2056Z"/><path fill="#000070" fill-rule="evenodd" d="M496 2056L132 2056L132 1486L496 1486L496 2056Z"/><path fill="#00007c" fill-rule="evenodd" d="M496 2056L132 2056L132 1486L496 1486L496 2056Z"/><path fill="#000089" fill-rule="evenodd" d="M496 2056L132 2056L132 1486L496 1486L496 2056Z"/><path fill="#000096" fill-rule="evenodd" d="M496 2056L132 2056L132 1486L496 1486L496 2056Z"/><path fill="#0000a2" fill-rule="evenodd" d="M496 2056L132 2056L132 1486L496 1486L496 2056Z"/><path fill="#0000af" fill-rule="evenodd" d="M496 2056L132 2056L132 1486L496 1486L496 2056Z"/><path fill="#0000bc" fill-rule="evenodd" d="M496 2056L132 2056L132 1486L496 1486L496 2056Z"/><path fill="#0000c8" fill-rule="evenodd" d="M496 2056L132 2056L132 1486L496 1486L496 2056Z"/><path fill="#0000d5" fill-rule="evenodd" d="M496 2056L132 2056L132 1486L496 1486L496 2056Z"/><path fill="#0000e1" fill-rule="evenodd" d="M496 2056L132 2056L132 1486L496 1486L496 2056Z"/><path fill="#0000ee" fill-rule="evenodd" d="M496 2056L132 2056L132 1486L496 1486L496 2056Z"/><path fill="#0000fb" fill-rule="evenodd" d="M496 2056L132 2056L132 1486L496 1486L496 2056Z"/><path fill="#0f0fff" fill-rule="evenodd" d="M496 2056L132 2056L132 1486L496 1486L496 1730.2L418 1728.7L404 1729.9L384.5 1736L372.1 1742L366.5 1748L364.7 1757L365 1759L367 1759.4L404 1759.3L460 1754.2L496 1752L496 2056ZM314.8 1822L321.7 1818L337.7 1798L359.5 1779L363.5 1771L364 1760L335 1759.6L324 1761.3L282.3 1783L274.6 1789L272 1794L271.1 1803L271.6 1813L274.2 1817L280 1819.5L290 1821.3L307 1822.7L314.8 1822Z"/><path fill="#2525ff" fill-rule="evenodd" d="M496 2056L132 2056L132 1486L496 1486L496 1714.1L410 1710.7L402 1712.2L369 1721.9L320 1733.3L310 1738L288 1753.3L274 1760.7L255 1767.8L224.7 1776L214.6 1781L210 1785L205.7 1791L191.4 1820L189.6 1827L190.5 1832L193.2 1837L213 1861.5L221 1866.7L230 1867.1L267 1858.3L311 1851L320 1848.4L327 1844.3L336.5 1837L370 1807.9L383.8 1800L400 1793.5L420 1789.3L496 1780.6L496 2056Z"/><path fill="#3a3aff" fill-rule="evenodd" d="M496 2056L132 2056L132 1486L496 1486L496 1699.2L418 1694.3L404 1695.4L363 1709.5L323 1719.9L310.8 1724L287.2 1734L253 1751.6L219 1764L204.1 1771L192.5 1778L184.2 1785L169 1806L154.6 1822L151.2 1827L149.4 1833L148.7 1850L142.2 1875L140.7 1889L141.7 1899L144.5 1907L149 1912.6L154 1914.2L158 1912.8L162 1909.4L176 1885.4L180 1881.4L184 1879.4L193 1879.5L216 1887.2L227 1888.3L268 1882.1L312 1873.7L318 1871.7L324 1868.4L348.1 1848L364 1835.8L387 1820L402 1811.9L411 1808.9L424 1806.6L476 1799.3L496 1797.6L496 2056Z"/><path fill="#5050ff" fill-rule="evenodd" d="M133 1808.2L132 1808.3L132 1486L496 1486L496 1686.8L420 1683.3L406 1683.8L385 1689L317 1710.3L268.6 1729L208.9 1755L187 1765.7L164.1 1780L157.5 1786L142 1803.1L137 1806.7L133 1808.2ZM496 2056L132 2056L132 1920.8L135 1921.9L147 1930.6L151 1931.7L155 1931.6L159 1930.3L164 1927.1L182 1907.7L186 1904.6L191 1902.5L199 1902L218 1905.3L229 1905.3L283 1898L315 1892.6L322 1889.7L329 1884.9L357 1858.8L372 1846.6L386 1837.5L401 1829.7L417 1825L478 1814.7L496 1812.8L496 2056Z"/><path fill="#6666ff" fill-rule="evenodd" d="M135 1780.3L132 1780.8L132 1486L496 1486L496 1676.4L410 1674L394 1676.6L360 1685.5L320 1697.9L291 1708.1L203 1744L172 1758.7L135 1780.3ZM496 2056L132 2056L132 1941.7L147 1947.2L154 1947.5L163 1944.1L184 1927.2L194 1922.7L202 1921.9L220 1922.9L231 1922.4L295 1914.9L316 1911.5L324 1908L334 1900.3L345 1889.6L364.7 1868L374 1859.5L385 1851.8L397 1845.5L410 1841.5L450 1838.8L496 1831.2L496 2056Z"/><path fill="#7c7cff" fill-rule="evenodd" d="M132 1762.1L132 1486L496 1486L496 1666.4L409 1665L391 1667.9L352.8 1677L314 1688.4L262 1707.1L184 1738L164.4 1747L140 1759.9L132 1762.1ZM496 2056L132 2056L132 1965.9L148 1967.8L159 1966L169 1961.2L188 1948L199 1943.8L228 1941.5L305 1932.7L321 1929.4L330 1924.1L341 1913.8L351 1902.4L368.7 1879L377 1870.2L388 1862.2L401 1856.5L408 1855.2L415 1855.4L474 1865.6L496 1871.1L496 2056Z"/><path fill="#9292ff" fill-rule="evenodd" d="M134 1744.1L132 1744.3L132 1486L496 1486L496 1656.4L408 1656L384 1659.9L346 1668.2L316 1676.4L276 1689.8L181 1725.2L141 1742.1L134 1744.1ZM496 2056L132 2056L132 2006.8L143 2004.1L186 1984.4L204 1978.3L224 1973.9L310 1959.3L323 1955.4L333 1948.5L344 1936.7L367.2 1897L379.3 1881L386 1875.1L394 1870.5L402 1868L409 1867.8L420 1871.4L458 1891.2L472 1899.6L489 1912.1L496 1914.6L496 2056Z"/><path fill="#a8a8ff" fill-rule="evenodd" d="M133 1728.1L132 1728.1L132 1486L496 1486L496 1646.7L407 1647.3L375.6 1652L337 1659.7L314 1665.5L280 1676.2L177 1712.8L143 1725.7L133 1728.1ZM496 2056L145.8 2056L146.9 2054L150.8 2051L188 2033.3L215.4 2015L224 2010.7L250.8 2004L318 1991.6L332 1986.4L347.3 1978L355.3 1971L359.8 1963L364.7 1925L367.7 1915L372.9 1904L379.6 1894L387 1886.6L395 1881.9L403 1880.3L409 1881.4L416 1885.8L445.7 1915L451.4 1923L459.8 1941L467.4 1950L473.2 1954L480 1957.1L488 1959.4L496 1960.3L496 2056Z"/><path fill="#bebeff" fill-rule="evenodd" d="M133 1713L132 1713.1L132 1486L496 1486L496 1637.4L406 1639.2L363 1645L326 1651.4L274 1666L143 1710.8L133 1713ZM496 2056L323.3 2056L325 2051L329.7 2045L356.3 2016L378.1 1996L382.9 1990L386.2 1984L387.8 1978L387.5 1972L376.8 1947L375 1938L374.7 1927L376.1 1918L379.3 1910L384.7 1902L391 1896.4L396 1894.1L400 1893.5L404 1894L408 1895.8L416.8 1905L423 1917L424.1 1926L422.5 1937L412.3 1966L412.8 1971L416.3 1976L423 1979.7L433 1981.7L496 1984.9L496 2056Z"/><path fill="#d4d4ff" fill-rule="evenodd" d="M136 1698L132 1698.4L132 1486L496 1486L496 1628.4L406 1631.4L356 1637.5L318 1643.3L292.6 1649L263.8 1657L191 1681.9L136 1698ZM400 1941.1L395 1941.5L391 1939L387.5 1933L386.1 1926L386.6 1920L389 1914.4L393 1910.3L398 1908.5L402 1909.1L406 1912L408.6 1916L409.8 1921L409.3 1927L407 1933.7L404 1938.2L400 1941.1ZM496 2056L387.8 2056L389.5 2044L393.7 2032L399.5 2022L406.9 2014L415 2008.8L425 2005.1L438 2002.5L451 2001.7L467 2002.6L496 2006.7L496 2056Z"/><path fill="#eaeaff" fill-rule="evenodd" d="M135 1686L132 1686.2L132 1486L496 1486L496 1619.4L404 1623.8L335 1632L302.8 1637L272 1643.4L242 1651.4L222 1657.7L174 1675.5L147 1683.6L135 1686ZM465 2056L416.8 2056L416 2044L417.6 2037L420.4 2032L423.9 2028L434 2021.8L446 2019.4L452 2019.8L458 2021.4L466.1 2027L468.7 2031L470 2035L469.6 2043L466 2056L465 2056Z"/><path fill="#ffffff" fill-rule="evenodd" d="M138 1675.2L132 1675.8L132 1486L496 1486L496 1610.5L400 1616.5L321 1625.5L278 1632.1L249 1638L225 1644.2L165 1667L138 1675.2Z"/><path fill="#ffffff" fill-rule="evenodd" d="M132 1665L132 1486L496 1486L496 1601.9L398 1609L298 1619.7L254 1626.1L219 1633.7L147 1661.6L139 1664.1L132 1665Z"/><path fill="#ffebeb" fill-rule="evenodd" d="M138 1652L132 1652.8L132 1486L496 1486L496 1593.9L402 1601.1L272 1613.3L231 1618.5L219 1621L207 1624.8L138 1652Z"/><path fill="#ffd7d7" fill-rule="evenodd" d="M137 1639.1L132 1639.7L132 1486L496 1486L496 1586.1L407 1593.3L324 1601.2L259 1604.5L224 1607.4L209 1610.6L188 1617.4L145.8 1636L137 1639.1Z"/><path fill="#ffc3c3" fill-rule="evenodd" d="M137 1621.1L132 1621.9L132 1486L496 1486L496 1577L324 1593.5L219 1595.3L200 1599.1L177 1605.4L160.9 1611L137 1621.1Z"/><path fill="#ffafaf" fill-rule="evenodd" d="M138 1599.2L132 1600L132 1486L496 1486L496 1564L416 1575.9L326 1585.4L298 1585.3L227 1582.3L215 1582.7L175 1589.4L138 1599.2Z"/><path fill="#ff9b9b" fill-rule="evenodd" d="M139 1578.1L132 1578.6L132 1486L496 1486L496 1549.1L487 1550.1L401 1566.6L327 1576.6L305 1576.3L219 1569.3L181 1572.5L139 1578.1Z"/><path fill="#ff8787" fill-rule="evenodd" d="M327 1566.1L308 1565.8L219 1555.9L132 1560.2L132 1486L496 1486L496 1533.2L488 1534.3L453 1543.1L410 1552.2L327 1566.1Z"/><path fill="#ff7373" fill-rule="evenodd" d="M323 1555L312 1554.7L290.1 1552L219 1541.2L132 1542.2L132 1486L496 1486L496 1512.3L488 1514L454 1527.4L425 1535.6L371 1547.1L323 1555Z"/><path fill="#ff5f5f" fill-rule="evenodd" d="M328 1543.1L317 1543.5L303 1541.8L219 1526.1L132 1524.3L132 1486L490 1486L488.5 1489L485.3 1492L473.1 1500L454 1509.2L431.5 1518L412 1524.3L388 1530.5L328 1543.1Z"/><path fill="#ff4b4b" fill-rule="evenodd" d="M325 1531.1L317 1531.1L308 1529.8L220 1511L132 1506.3L132 1486L452.8 1486L449.8 1491L443 1495.7L414 1508.3L356.3 1524L325 1531.1Z"/><path fill="#ff3737" fill-rule="evenodd" d="M328 1516.1L320 1516.8L311 1515.7L223 1495.7L179 1489.4L173.7 1488L170.1 1486L417.2 1486L413.4 1491L402 1496.4L328 1516.1Z"/><path fill="#ff2323" fill-rule="evenodd" d="M327 1501.1L315 1501.2L292.2 1496L276.5 1491L271 1488L269.6 1486L365.7 1486L363.3 1489L355.2 1493L327 1501.1Z"/><path fill="url(#dotc)" fill-rule="evenodd" d="M230 1888L218 1887.7L194 1879.7L185 1879.2L183.9 1873L182 1872.4L142.8 1872L148.5 1851L149.4 1833L151.2 1827L169 1806L182.5 1787L192.5 1778L213 1766.6L252 1752.1L287.2 1734L308.2 1725L323 1719.9L364.6 1709L403 1695.7L418 1694.3L496 1699.2L496 1797.6L443 1803.8L406 1810.4L393 1816.4L376 1827.3L351 1845.7L326 1866.9L318 1871.7L290.7 1878L230 1888ZM327 1534.1L318 1534.5L307 1533L220 1514.8L132 1510.8L132 1486L461.7 1486L458.8 1491L451.8 1496L418 1510.7L370.7 1524L327 1534.1Z"/>
<path d="M268.8 1600.0L259.3 1602.5L243.8 1609.0L231.2 1617.0L226.6 1623.7L223.4 1628.5L227.3 1622.6L232.7 1615.4L225.0 1613.8L221.8 1609.0L229.6 1597.7L237.5 1589.6L239.5 1587.1L236.6 1580.8L232.7 1579.4L223.7 1580.3L215.1 1590.9L206.2 1601.3L200.0 1604.5L192.1 1612.7L187.3 1619.2L176.4 1620.1L171.7 1630.5L173.2 1638.7L181.2 1645.2L188.9 1646.8L192.1 1659.7L196.8 1666.3L203.0 1664.7L210.8 1655.4L217.1 1650.0L223.7 1655.4L229.6 1658.1L236.6 1658.8L240.6 1662.9L242.2 1667.9L240.6 1672.8L233.7 1671.3L228.0 1673.5L221.8 1677.6L215.5 1685.7L210.8 1688.9L207.7 1695.5L199.8 1703.6L196.8 1714.9L196.8 1721.5L203.0 1726.2L209.3 1731.0L213.9 1744.1L218.7 1757.0L225.0 1771.7L229.6 1778.9L232.7 1785.5L229.4 1790.0L233.7 1794.6L233.7 1802.7L225.5 1810.4L217.9 1819.4L210.9 1821.5L212.8 1825.3L223.7 1822.8L236.3 1827.1L232.7 1838.7L233.7 1847.7L229.1 1853.8L223.7 1865.1L218.2 1872.8L215.1 1881.7L212.8 1889.8L205.4 1901.3L201.7 1906.8L198.1 1916.3L193.5 1929.2L188.9 1933.5L185.3 1948.6L176.1 1952.5L170.7 1963.8L161.6 1973.3L156.2 1983.5L152.4 1988.4L143.4 1988.4L134.2 1990.5M268.8 1600.0L278.1 1605.6L284.5 1617.0L281.3 1625.1L282.9 1631.7L277.4 1638.2L276.6 1642.3L281.3 1646.4L286.0 1650.4L290.6 1648.0L295.4 1651.1L302.4 1651.1L303.1 1660.8L304.7 1665.8L296.8 1673.1L299.3 1682.1L303.1 1690.3L300.0 1698.4L298.4 1711.3L301.6 1721.0L304.7 1727.6L311.0 1721.0L318.8 1714.5L325.1 1716.0L331.3 1711.3L337.6 1709.7L342.4 1704.7L343.8 1695.0L342.4 1685.3L340.8 1675.6L336.0 1662.4L331.3 1652.7L326.7 1641.4L322.0 1633.2L314.1 1625.1L312.5 1615.4L317.2 1604.1L325.1 1599.1L334.5 1594.1L342.4 1586.0L345.8 1571.7L351.4 1559.5L358.7 1548.0L360.5 1544.3L365.9 1541.2L369.7 1535.5L378.7 1527.1L384.6 1531.0L389.8 1534.8L402.6 1538.5L410.5 1533.2L418.9 1525.3L425.0 1517.6L428.7 1512.0L437.8 1499.3L445.1 1488.0L453.6 1474.4M380.3 1493.7L386.0 1497.0L393.2 1490.3L390.4 1481.2L383.2 1483.5L380.3 1493.7M363.3 1736.6L368.8 1738.0L377.4 1735.7L387.0 1729.2L396.1 1726.7L405.1 1723.3L413.3 1721.0L419.8 1719.7L423.4 1723.3L425.3 1731.0L423.4 1736.9L427.7 1745.9L432.6 1750.0L436.3 1743.7L441.6 1736.6L448.5 1730.1L445.4 1721.5L449.3 1714.2L452.6 1723.3L459.3 1722.2L467.2 1725.3L469.1 1717.6L473.7 1712.0L476.6 1723.3L478.1 1719.7L480.9 1709.7L488.1 1707.5L490.9 1704.5L490.9 1714.2L493.8 1716.5L496.4 1710.2L500.1 1706.3L505.6 1698.9L503.9 1684.8L503.6 1677.1L507.2 1658.1L508.2 1646.4L509.0 1639.4L514.5 1637.3L518.1 1624.0L521.7 1609.0L519.9 1597.5L515.4 1589.8L510.9 1580.3L513.9 1569.4L507.4 1569.4L504.6 1576.2L501.7 1575.1L498.8 1572.8L496.2 1578.5L492.4 1587.5L494.5 1612.4L490.9 1623.7L485.2 1639.6L478.0 1650.4L469.4 1662.2L457.9 1671.3L451.6 1674.2L450.7 1664.5L454.3 1656.1L449.3 1666.7L446.4 1675.8L439.6 1680.8L436.3 1696.1L427.7 1700.7L423.3 1698.0L411.9 1701.8L400.4 1702.9L392.2 1701.8L383.2 1709.7L373.1 1721.0L364.8 1730.3L363.3 1736.6M363.3 1739.1L357.3 1740.3L354.1 1748.2L348.0 1748.2L346.8 1753.8L344.4 1761.8L348.0 1766.3L353.0 1768.5L355.9 1773.1L352.4 1782.1L353.0 1795.7L354.1 1801.6L358.7 1796.8L361.5 1799.5L365.9 1795.7L368.8 1790.0L371.0 1782.1L372.4 1778.7L376.1 1767.2L377.9 1755.9L372.4 1746.4L367.4 1745.9L363.3 1739.1M379.7 1752.0L387.5 1745.9L391.8 1736.9L400.4 1738.0L407.0 1733.0L416.2 1731.0L417.9 1740.5L411.9 1752.7L405.1 1748.2L397.5 1752.7L392.5 1765.1L387.5 1762.9L385.2 1757.7L379.7 1752.0M521.1 1476.7L517.5 1488.0L519.7 1499.3L514.5 1512.0L510.9 1525.3L501.7 1527.1L498.8 1533.2L492.7 1544.3L493.8 1555.9L496.2 1567.0L503.9 1561.5L509.0 1557.5L501.7 1548.0L505.3 1542.3L512.5 1542.3L519.9 1542.3L529.7 1550.2L540.1 1555.9L543.7 1544.3L557.0 1534.4L565.6 1531.0L572.8 1529.6L569.2 1523.5L567.5 1512.0L571.1 1502.5L561.9 1512.0L551.3 1508.4L541.2 1501.6L532.7 1489.4L525.4 1479.0L521.1 1476.7M219.4 1782.1L225.1 1785.5L232.7 1793.4M223.7 1787.8L229.4 1791.2L234.5 1794.6M268.8 1600.0L276.6 1593.7L287.5 1582.1L298.4 1572.6L305.7 1562.2L314.9 1563.3L322.2 1567.0L324.0 1559.5L335.0 1553.8L344.4 1545.7L349.5 1534.8L354.4 1540.0L358.7 1545.7M359.5 1545.7L365.9 1535.5L369.7 1525.3L367.4 1515.1L365.9 1506.3L364.5 1491.2L368.8 1481.2M302.4 1651.1L306.3 1647.5L309.9 1640.7L315.6 1639.1L322.8 1638.4L326.7 1632.8M468.9 1639.6L472.5 1639.6L471.5 1649.8L468.2 1650.4L468.9 1639.6M394.7 1689.4L398.3 1684.8L397.5 1691.6L394.7 1689.4M339.3 1733.5L342.2 1722.2L340.8 1721.0L339.3 1733.5M295.5 1752.7L299.8 1747.0L306.3 1749.3L302.7 1755.0L295.5 1752.7M363.1 1819.4L365.2 1808.1L364.5 1820.6L363.1 1819.4M355.9 1819.4L359.5 1817.2L358.0 1821.7L355.9 1819.4M338.6 1868.1L344.4 1861.3L342.9 1867.0L338.6 1868.1M317.1 1915.6L325.7 1898.6L322.8 1907.7L317.1 1915.6M228.0 1933.7L233.7 1940.5L232.3 1949.5L229.4 1963.1L226.6 1983.5L219.4 2008.4L215.1 2001.6L209.3 1992.5L207.9 1978.9L209.3 1965.4L215.1 1951.8L220.8 1940.5L228.0 1933.7M180.6 1757.2L183.5 1748.2L189.2 1750.4L190.6 1755.0L186.3 1757.2L184.9 1761.8L180.6 1757.2M205.0 1802.5L207.9 1793.4L212.2 1797.9L209.3 1804.7L205.0 1802.5M572.8 1519.7L580.0 1506.1L587.2 1499.3L581.4 1510.6L572.8 1519.7M588.6 1497.0L597.2 1488.0L603.0 1483.5L594.4 1492.5L588.6 1497.0" stroke="#2a2a2a" stroke-width="1.15" fill="none" stroke-linejoin="round"/>
<path d="M206.4 1488.0V2053.6M350.1 1488.0V2053.6M134.6 1827.4H493.8M134.6 1601.1H493.8" stroke="#b0b0b0" stroke-width="1.4" stroke-dasharray="5.5 3" fill="none"/>
</g>
<rect x="134.6" y="1488.0" width="359.2" height="565.6" fill="none" stroke="#111" stroke-width="2"/>
<g clip-path="url(#clipf)">
<rect x="564.9" y="1488.2" width="359.4" height="565.2" fill="#fff"/>
<rect x="562.0" y="1486.0" width="366.0" height="571.0" fill="#000050"/><path fill="#000060" fill-rule="evenodd" d="M927 2056L562 2056L562 1486L927 1486L927 2056Z"/><path fill="#000078" fill-rule="evenodd" d="M927 2056L562 2056L562 1486L927 1486L927 2056Z"/><path fill="#000090" fill-rule="evenodd" d="M927 2056L562 2056L562 1486L927 1486L927 2056Z"/><path fill="#0000a8" fill-rule="evenodd" d="M927 2056L562 2056L562 1486L927 1486L927 2056Z"/><path fill="#0000c0" fill-rule="evenodd" d="M927 2056L562 2056L562 1486L927 1486L927 2056Z"/><path fill="#0000d8" fill-rule="evenodd" d="M927 2056L562 2056L562 1486L927 1486L927 2056Z"/><path fill="#0000f0" fill-rule="evenodd" d="M927 2056L562 2056L562 1486L927 1486L927 2056Z"/><path fill="#0000ff" fill-rule="evenodd" d="M927 2056L562 2056L562 1486L927 1486L927 2056Z"/><path fill="#2020ff" fill-rule="evenodd" d="M927 2056L562 2056L562 1486L927 1486L927 2056Z"/><path fill="#4040ff" fill-rule="evenodd" d="M927 2056L562 2056L562 1486L927 1486L927 2056Z"/><path fill="#6060ff" fill-rule="evenodd" d="M927 2056L562 2056L562 1486L927 1486L927 2056ZM858.4 1654L861 1651.8L860.9 1648L858 1645.9L854 1646.4L852 1649L852.4 1652L855 1654.1L858.4 1654ZM753.7 1743L756 1741.1L757 1737L755.9 1733L753 1731.1L750 1733.6L749.3 1738L751 1742.1L753.7 1743Z"/><path fill="#8080ff" fill-rule="evenodd" d="M927 2056L562 2056L562 1486L927 1486L927 2056ZM828.8 1542L832 1540.6L834.5 1538L836.2 1534L836.4 1530L835.2 1526L833 1523L830 1521.1L827 1520.7L824 1521.5L820.8 1524L818.8 1528L818.3 1532L819.2 1536L821.9 1540L825 1541.8L828.8 1542ZM732.1 1650L736 1648.5L739.7 1644L741.7 1638L742.1 1632L741 1625.5L738.5 1620L735 1616.2L731 1614.9L727 1616.3L723.8 1620L721.3 1626L720.5 1633L721.5 1640L724 1645.3L728 1649.1L732.1 1650ZM860.9 1667L867.9 1664L873 1658.9L875.5 1652L874.7 1645L870.9 1639L865 1635L858 1633.3L850 1634.3L844 1637.6L839.4 1643L837.7 1649L838.3 1655L841.7 1661L847 1665.1L854 1667.3L860.9 1667ZM756.5 1752L760 1749L762.1 1745L763.3 1740L763.3 1734L762 1729L759 1724.1L756 1721.9L752 1721.4L748 1723.5L745 1728L743.3 1734L743.4 1741L745.3 1747L748.5 1751L752 1752.7L756.5 1752Z"/><path fill="#a0a0ff" fill-rule="evenodd" d="M927 2056L562 2056L562 1486L927 1486L927 2056ZM831.5 1555L838 1552L844 1545.4L847.2 1537L847.6 1528L845 1519.3L840 1512.5L833 1508.3L825 1507.5L817 1510.7L811 1517L807.5 1526L807.2 1535L810 1544L816 1551.4L823 1554.9L831.5 1555ZM903.3 1544L905.8 1542L907.5 1539L908.8 1530L906.6 1522L904 1519.1L902 1518.6L899 1519.8L896.7 1523L895.2 1528L895 1533L896 1538.2L898 1542L901 1544.2L903.3 1544ZM734.9 1660L741 1656.2L745.7 1649L748.1 1640L748.1 1629L745.1 1617L740 1607.1L734 1602L728 1601.2L722.3 1604L718.8 1610L714.5 1625L714.1 1637L716.7 1647L721.6 1655L728 1659.6L734.9 1660ZM858.7 1677L870 1673.8L878.8 1667L883.9 1658L885 1648L883.8 1643L881.4 1638L874 1630.3L864 1625.9L853 1625.3L842 1628.7L834.1 1635L829.4 1643L828.1 1653L831.3 1663L838 1670.8L848 1675.9L858.7 1677ZM754 1760L760 1757.9L764.5 1753L767.6 1746L768.7 1737L767.3 1728L764 1720.7L759 1715.6L753 1713.9L747.1 1716L742.7 1721L739.7 1729L738.7 1738L740 1747L743.3 1754L748 1758.5L754 1760ZM904.3 1759L908 1754.2L909.4 1747L908 1739.1L905 1735.8L904.5 1748L900.5 1758L901 1759.6L904.3 1759ZM572 1850L573.4 1844L573.6 1836L573 1830L571 1826L569 1830.6L568.5 1841L570 1849.9L571 1850.9L572 1850ZM694.2 1894L696 1890.6L698 1881.7L699.4 1860L698 1839.6L696 1832L694 1829.7L692 1831L691 1833L689.3 1840L687.6 1864L688.2 1877L689.8 1888L692 1893.8L694.2 1894Z"/><path fill="#c8c8ff" fill-rule="evenodd" d="M927 2056L562 2056L562 1486L927 1486L927 2056ZM721.7 1525L728 1521.8L732.8 1516L734.1 1509L732.2 1503L727 1497.6L720 1494.7L712 1494.5L705.1 1497L700.6 1501L697.6 1507L697.2 1513L698.9 1518L703 1522.3L708.7 1525L715 1525.9L721.7 1525ZM834.5 1566L840 1563.7L845 1560.3L852.6 1551L855.3 1545L857.2 1538L857.2 1525L853 1512.6L845 1502.6L840 1499.2L834 1496.8L823 1496.3L817 1498.1L811.8 1501L807 1505.3L802.7 1511L799.9 1517L797.9 1524L797.8 1538L799.6 1545L802.3 1551L806 1556.4L811 1561.2L816 1564.3L822 1566.4L828 1567L834.5 1566ZM904.9 1560L910 1556.3L914.3 1549L916.9 1539L917.4 1528L915.7 1518L912 1509.2L907 1503.9L901 1502.4L895 1505.3L889.5 1513L886.3 1523L885.6 1534L887.6 1545L892 1554.2L898 1559.6L901 1560.5L904.9 1560ZM664.5 1565L667 1562.9L669 1559.3L670.2 1550L667.4 1542L665 1540L662 1539.3L658 1541L655.7 1544L653.9 1549L653.7 1555L655 1560L658 1564.2L661 1565.7L664.5 1565ZM738 1670L742 1667.9L746 1664.1L751.7 1654L754.4 1641L753.5 1627L748 1607.4L742.8 1597L739 1593.6L735 1591.8L730 1591L724 1591.4L713 1595.6L710 1598L708.2 1601L708.9 1613L707.2 1631L708 1641L712.4 1654L720 1664.3L724 1667.6L729 1670.1L734 1670.8L738 1670ZM658.1 1602L668.4 1600L671.4 1598L671.3 1596L665 1592.3L657 1591.3L628.6 1595L617 1598L620.5 1600L627 1601.1L658.1 1602ZM860.7 1690L868 1688.1L875 1684.8L882 1679.6L887.1 1674L890.6 1668L893 1661L894.1 1653L893.8 1645L892.4 1639L889.4 1633L885 1627.7L879.1 1623L873 1619.8L866 1617.6L859 1616.6L851 1616.8L844 1618.3L837 1621.2L831 1625.2L825.2 1631L821.3 1637L819 1643L817.8 1650L818.1 1657L819.9 1664L823.2 1671L828 1677.4L834 1682.9L840 1686.7L847 1689.3L854 1690.4L860.7 1690ZM757.4 1767L765 1763.3L771 1756L774.5 1746L775.1 1735L772.5 1723L767 1713.2L760 1707.3L752 1705.6L748 1706.7L744.5 1709L738.6 1717L735 1729L734.6 1743L737.1 1754L742 1762.1L749 1766.7L757.4 1767ZM897.4 1780L905 1777.8L912.2 1772L917.4 1763L920.1 1752L920.1 1741L917.3 1730L912 1721.3L905 1716L898 1714.3L890 1716.2L883 1721.1L870 1735.4L866 1738.5L862 1739.7L850 1738.9L843 1740L836 1744L831.5 1750L829.8 1757L831 1764.8L835 1771.1L841 1775.5L846 1777.1L851 1777.3L866 1773.2L870 1773L888 1779.2L897.4 1780ZM895 1751.3L890 1751.2L886.7 1747L887.3 1741L891 1737.9L896 1738.9L898.6 1743L898.1 1748L895 1751.3ZM692.3 1942L695 1940.4L698 1934.9L703 1915L706.5 1887L707.9 1856L707 1828L704.4 1808L700 1796L697 1792.3L693 1790.4L690 1791.4L687 1795L682.8 1808L679.8 1832L678.6 1862L679.6 1893L682.6 1919L687 1936L690 1941L692.3 1942ZM572 1867L574 1863.8L575.9 1856L577.1 1836L575.1 1817L573 1811.4L571 1809.9L568.7 1812L566.5 1819L564.9 1841L567.2 1861L569.2 1866L571 1867.4L572 1867ZM908 2044L914.6 2040L918.9 2034L920.7 2026L919.4 2019L915.5 2013L910 2009.4L903 2007.9L895 2009.1L889 2012.8L885 2018.6L883.6 2026L885 2033L888.7 2039L894 2043L901 2044.9L908 2044Z"/><path fill="#e8e8ff" fill-rule="evenodd" d="M563 1593.1L562 1593.5L562 1486L697.3 1486L693 1489.8L690.2 1494L683 1514.3L679.5 1520L675.4 1522L663 1523.1L655 1525.2L649 1528.9L645 1534L642.2 1542L641 1551L641.7 1561L645.4 1576L644.9 1579L643.5 1581L637 1584L625 1586.2L590 1588L575 1590.1L563 1593.1ZM927 1714.2L921.2 1707L911 1701.5L906 1697.8L902.8 1694L900.4 1689L899.1 1676L900.7 1635L899.8 1628L897.8 1623L892 1616.2L884 1610.9L874 1606.8L863 1604.2L848 1603.7L835 1607.1L822 1615.1L811.8 1626L805.8 1637L802.5 1649L801.7 1660L802.8 1681L801.8 1688L797.8 1696L790.2 1704L786 1706L781 1705.2L754 1688.3L752.2 1686L752.2 1683L761.3 1660L762.8 1652L763 1643L760.3 1628L749 1594.9L742 1584.1L738 1581.1L734 1579.8L724 1580.1L706 1586L698 1587.5L688 1586.6L680.2 1583L678.1 1580L677.9 1577L682.1 1562L684.6 1542L686.4 1537L688 1535.5L691 1535L709 1538.6L721 1538.7L731 1535.8L739 1530.2L743 1524.4L745.6 1518L747 1511L747 1504L745.9 1499L743.4 1494L739.9 1490L734.2 1486L808.3 1486L799.3 1493L792.4 1502L787.8 1512L785.8 1523L786.1 1538L788.9 1552L793.9 1563L801 1571.6L809 1577.6L818 1581.5L827 1583.1L836 1582.3L844 1579.2L851 1574.5L857.7 1568L869 1554.1L873 1552.5L876 1554.5L886 1568.4L892 1574.5L898 1577.6L905 1577.7L913 1573.1L920.1 1563L924.8 1549L926.7 1533L925.5 1517L921.5 1503L915 1492L911 1488.2L907 1486L927 1486L927 1714.2ZM874 1510L872 1510.5L869 1508.9L856.5 1494L846.4 1486L896.8 1486L892 1488.7L888 1492.3L877 1507.2L874 1510ZM884 2056L562 2056L562 1856.4L563.7 1869L566 1878.2L569 1883.7L572 1884.5L575.3 1880L578.4 1869L580.3 1854L580.8 1838L580.2 1822L578.4 1809L576 1801.9L572 1797.6L568.7 1798L565.7 1802L563.6 1809L562 1820.6L562 1602.9L579 1606.9L603 1609.5L652 1610.9L685 1609.3L690.5 1610L694.7 1612L697 1615L697.9 1618L698 1634L699.2 1643L704.5 1657L710.7 1666L718 1674.1L726 1681.2L737.7 1689L739.5 1692L738.9 1696L732 1717L729.4 1735L730.3 1754L732.1 1761L735 1767L741 1773L749 1776L758 1776.3L774 1773.9L780 1775.3L785.6 1781L800 1802.8L808 1812.9L818 1822.2L830 1829.8L839 1833.3L849 1835.1L858 1834.8L866 1832.6L874 1827.8L894.7 1810L917 1798L922.4 1793L927 1786.4L927 2001.8L922 1998.2L916 1995.9L908 1994.7L898 1994.6L890 1995.5L884 1997.4L879 2000.4L875 2004.4L871.5 2010L869 2017L868 2024L868.5 2032L870.5 2039L874 2045.9L878.1 2051L884 2056ZM692.1 1989L695 1986.4L697 1982.9L701 1971.4L705 1953.1L709 1927.6L714.5 1873L715.2 1819L713.6 1798L709.2 1785L705 1779L699 1773.5L693 1769.9L687 1768.5L682.3 1770L678.9 1774L675.8 1782L673.5 1793L670.2 1832L669.7 1882L672.3 1927L677.4 1962L680.5 1974L684 1983L688 1988.3L690 1989.3L692.1 1989ZM927 2056L920.2 2056L927 2050.2L927 2056Z"/><path fill="#ffffff" fill-rule="evenodd" d="M621 1575.4L616 1575L612.3 1571L609.3 1563L607.3 1551L606.8 1538L607.7 1524L610.3 1511L613.8 1502L618 1497L627 1493.3L637.9 1486L668.8 1486L673.8 1491L675.9 1497L674.8 1504L671 1509.2L666 1512.1L658 1514.3L646 1515.7L634 1514.9L631.4 1517L630.4 1523L629.9 1547L628.4 1560L625.2 1571L621 1575.4ZM770 1616L767 1616.4L764 1614.6L758 1604.6L748.5 1579L745.5 1560L746.6 1545L752.5 1524L759 1507.5L762 1503.1L765 1501.7L768 1503.5L770 1506.6L774.3 1520L777.8 1542L780.3 1570L780.1 1584L777.5 1599L774 1611L770 1616ZM916 1687.3L913 1687.7L911 1686.8L907 1682L904.5 1674L903.6 1664L904.4 1650L907 1637.2L911 1629.4L915 1627.5L919 1629.9L922.4 1636L924.8 1645L925.9 1657L925.4 1667L923.2 1677L920 1683.8L916 1687.3ZM713 1763.1L709 1763L703 1760.9L690.8 1752L682.4 1741L677.7 1728L676.3 1710L679.2 1691L685 1677.8L689 1673.6L693 1671.7L697 1671.8L701 1673.1L711 1680.8L719.8 1692L723.8 1702L724.6 1717L721.3 1749L718 1759.4L716 1761.7L713 1763.1ZM585 1794.1L581 1793.3L571 1788.1L562 1787.6L562 1746.9L567 1743.5L572 1741.7L581 1741.7L589 1745.4L595.8 1753L599.3 1762L599.9 1772L597.4 1782L592 1790L588 1793.2L585 1794.1ZM622 1949.3L616 1949.1L610 1945.2L604.8 1938L600.5 1928L597.3 1916L595.1 1901L594.4 1886L595.3 1870L598.7 1851L604.9 1835L610 1827.9L622 1820.1L625 1815.3L627 1806.9L630.7 1777L633.7 1761L638 1748.8L640 1745.9L643 1744.3L647 1747.2L650.5 1755L653.5 1768L655.6 1785L657.1 1828L654.7 1873L650.5 1900L644.3 1920L639.5 1930L633 1940.3L627 1946.6L622 1949.3ZM829 2056L711.1 2056L709 2029L710.1 1995L714.3 1947L723.2 1874L725.9 1823L728.2 1810L731.9 1800L736.6 1794L743 1790.5L753 1788.7L763 1789.5L770 1792.8L777 1799.6L784.7 1812L799 1843.3L819.4 1877L829.5 1901L833.5 1916L836.5 1933L838.3 1952L838.9 1971L838.2 1991L835.8 2015L832.4 2040L829 2056ZM905 1977.1L898 1976.9L892 1974.6L886.5 1970L882.6 1964L879.6 1956L877.3 1945L875 1917L875.5 1902L877.2 1888L883.3 1864L887.8 1854L893 1846.3L898 1841.9L904 1840L908 1840.8L911 1842.5L917.5 1850L923.3 1863L927 1878.2L927 1944.8L925.6 1952L922.5 1962L918 1969.7L912 1974.8L905 1977.1ZM625 2056L564.6 2056L562 2055.3L562 1995.4L574 1992.8L587 1991.4L601 1991.2L614 1992.3L626 1994.8L637 1998.4L646 2002.7L653.1 2008L658.5 2015L661.1 2022L661.3 2029L658.9 2036L654.2 2042L647 2047.5L637 2052.3L625 2056Z"/><path fill="#ffd8d8" fill-rule="evenodd" d="M655 1502.2L652.9 1502L652.1 1501L652.6 1500L655 1499.4L656.5 1500L656.8 1501L655 1502.2ZM620 1562.3L617 1561.7L614.3 1557L612.5 1550L611.7 1541L612.2 1531L613.8 1523L616 1517.8L619 1515.3L622 1517L624 1521.3L626.3 1537L624.6 1554L622.8 1559L620 1562.3ZM767 1599.1L765 1599.8L762 1598.4L757.3 1591L753.6 1580L751.7 1566L752 1551L754.3 1538L758.1 1528L761 1524L763 1522.9L765 1523.2L767 1525L770.3 1532L773 1544L774.6 1559L774.6 1573L773.4 1584L770.9 1593L767 1599.1ZM914 1677.3L911 1676.2L909 1673L907.4 1667L906.9 1660L909 1646.8L911 1643L914 1641.3L916.6 1643L918.7 1647L920.6 1659L918.9 1671L917 1675L914 1677.3ZM708 1746L705 1746.6L702 1745.9L696 1741L692 1734L689.3 1724L689 1713L691.3 1702L695.9 1694L701 1691.4L706 1692.8L711 1698L714.4 1705L716.2 1713L716.5 1724L715 1734.7L712 1742.3L708 1746ZM583 1782L579 1782.9L572.6 1781L567 1777.4L564.3 1773L563.7 1767L565 1761.9L568.5 1757L573 1754.3L578 1753.7L582 1755.1L586 1758.5L588.5 1763L589.5 1768L588.8 1774L586.4 1779L583 1782ZM621 1924.3L617 1924.2L613 1921.2L609.7 1916L607.1 1909L604.3 1891L605.5 1871L609.3 1858L615 1849.9L621 1848L631 1850.3L634 1847.9L636 1840L639.3 1810L641 1803.3L643 1801L645 1803.3L646 1806.7L647.4 1818L647.6 1834L646 1850L632.5 1908L627 1919.4L624 1922.7L621 1924.3ZM804 2056L733.2 2056L728.2 2042L724.6 2027L721 1997L721.3 1962L725.4 1924L735.3 1875L735.8 1831L738.1 1820L742 1811.6L747 1805.8L754 1802.5L760 1802.7L766 1805.5L771 1810.3L775.8 1818L780.3 1830L788 1859L806.1 1896L810.6 1909L814.5 1925L817.2 1942L818.6 1959L818 1994L816.1 2011L812.9 2028L808.6 2044L804 2056ZM904 1946.4L901 1946.6L899 1945.6L894 1938L890.8 1926L889.4 1911L890 1896L892.8 1882L897 1873.2L899.1 1871L902 1869.7L905 1870.4L907 1872L911 1879.2L913.9 1891L915.1 1904L914.5 1919L912.3 1932L908.9 1941L904 1946.4ZM605 2039.1L590 2039.7L576 2036.4L571 2033.5L567.6 2030L566.1 2026L566.9 2022L570 2018.1L574 2015.4L586 2011.5L601 2011.1L614 2014.3L619 2017.1L622.7 2021L623.9 2024L623.6 2028L620.9 2032L617 2034.9L605 2039.1Z"/><path fill="#ffb8b8" fill-rule="evenodd" d="M619 1552.3L617 1550.6L616 1548.1L614.9 1539L616 1530.6L617 1528L619 1526.2L621 1527.7L622 1530.1L623.1 1539L622 1548.3L621 1550.7L619 1552.3ZM766 1587L763 1587.8L759.7 1584L757 1576L755.9 1567L755.9 1556L757.2 1547L760 1539.3L763 1536.8L766 1538.7L768 1543.2L770.6 1559L770 1576L768.3 1583L766 1587ZM914 1664.6L912.4 1664L911.6 1661L911.8 1657L913 1654.7L914.2 1655L915.3 1658L915.2 1662L914 1664.6ZM579 1772.4L576 1772.7L574 1771L573.2 1768L575 1764.7L578 1764.4L580 1766.2L580.6 1770L579 1772.4ZM786 2056L750.8 2056L744 2045.8L738.4 2033L733.8 2017L730.9 2000L729.4 1969L732.1 1938L737 1915.8L747.9 1886L750.2 1876L749.8 1867L745.4 1845L745.6 1833L747.3 1826L750 1821L753 1818.1L757 1816.7L761 1817.5L764 1819.5L769.4 1828L772.1 1839L773.3 1861L774.8 1869L778.7 1877L791.5 1896L797.4 1908L803.2 1926L807 1947L808.2 1963L808.3 1979L807.2 1995L804.8 2011L801.5 2025L796.9 2038L791.4 2049L786 2056ZM619 1908.1L616 1906.5L613 1901.2L611.2 1894L610.7 1885L611.6 1877L613.8 1870L617 1865.6L620 1864.7L623 1866.3L626 1871L628 1878L628.4 1886L627.4 1895L625.3 1902L622 1906.9L619 1908.1Z"/><path fill="#ff9898" fill-rule="evenodd" d="M763 1571.2L761.5 1568L761 1563L761.5 1558L763 1555.1L765 1558.1L765.5 1564L764.9 1569L764 1571L763 1571.2ZM770 2046.1L764 2045.3L758 2041.8L752.8 2036L747.6 2027L743.3 2016L740.3 2004L738.2 1990L737.3 1976L739 1948L741.5 1935L745.1 1923L750 1912L755.2 1904L761 1898.5L767 1896.4L773 1897.7L779 1901.9L785 1909L790 1918L794 1928.5L797.1 1941L799.2 1955L800 1969L798.2 1997L795.6 2010L791.8 2022L787.1 2032L782 2039.1L776 2044.1L770 2046.1Z"/><path fill="#ff7070" fill-rule="evenodd" d="M771 2027.1L766 2027L762 2025.1L757 2020.1L753.4 2014L747.7 1997L745.2 1976L746.5 1954L751.2 1935L755 1926.9L759 1921.5L763 1918.2L768 1916.6L773 1917.7L777 1920.4L781 1925.1L784.3 1931L789.7 1948L792 1968L791 1988.7L786.8 2007L780 2020.4L776 2024.5L771 2027.1Z"/><path fill="#ff5050" fill-rule="evenodd" d="M771 2005.3L768 2005.7L765 2004.6L760 1998.9L756 1988L754.4 1976L755 1962L757.8 1950L762.1 1942L765 1939.4L768 1938.3L773 1939.9L778 1946.5L781.4 1957L782.9 1969L782.4 1981L780 1992.5L776 2000.9L771 2005.3Z"/><g fill="url(#dotf)"><ellipse cx="763.3" cy="1558.1" rx="16.0" ry="37.4"/><ellipse cx="835.4" cy="1528.7" rx="40.1" ry="40.1"/><ellipse cx="899.5" cy="1531.4" rx="24.0" ry="37.4"/><ellipse cx="733.9" cy="1643.6" rx="24.0" ry="37.4"/><ellipse cx="848.7" cy="1643.6" rx="29.4" ry="37.4"/><ellipse cx="888.8" cy="1638.2" rx="16.0" ry="26.7"/><ellipse cx="910.1" cy="1659.6" rx="13.4" ry="21.4"/><ellipse cx="752.6" cy="1739.7" rx="21.4" ry="26.7"/><ellipse cx="573.7" cy="1830.5" rx="8.0" ry="21.4"/><ellipse cx="619.1" cy="1886.5" rx="16.0" ry="29.4"/><ellipse cx="779.3" cy="1977.3" rx="48.1" ry="74.8"/><ellipse cx="757.9" cy="1910.6" rx="13.4" ry="16.0"/></g>
<path d="M699.2 1600.1L689.7 1602.6L674.2 1609.2L661.5 1617.1L656.9 1623.8L653.7 1628.6L657.6 1622.7L663.1 1615.5L655.3 1613.9L652.2 1609.2L659.9 1597.8L667.8 1589.7L669.8 1587.2L667.0 1580.9L663.1 1579.5L654.0 1580.4L645.4 1591.1L636.5 1601.5L630.3 1604.6L622.4 1612.8L617.7 1619.3L606.7 1620.2L602.0 1630.6L603.6 1638.8L611.5 1645.3L619.2 1646.9L622.4 1659.8L627.1 1666.4L633.3 1664.8L641.1 1655.5L647.4 1650.1L654.0 1655.5L659.9 1658.2L667.0 1658.9L671.0 1663.0L672.6 1667.9L671.0 1672.9L664.1 1671.3L658.3 1673.6L652.2 1677.7L645.8 1685.8L641.1 1689.0L638.1 1695.5L630.2 1703.7L627.1 1715.0L627.1 1721.5L633.3 1726.3L639.7 1731.0L644.3 1744.1L649.0 1757.0L655.3 1771.7L659.9 1778.9L663.1 1785.5L659.8 1790.0L664.1 1794.5L664.1 1802.7L655.9 1810.4L648.3 1819.4L641.2 1821.4L643.1 1825.3L654.0 1822.8L666.7 1827.1L663.1 1838.6L664.1 1847.7L659.5 1853.8L654.0 1865.1L648.6 1872.8L645.4 1881.6L643.1 1889.7L635.8 1901.2L632.0 1906.7L628.4 1916.2L623.8 1929.1L619.2 1933.4L615.6 1948.5L606.4 1952.3L601.0 1963.6L591.9 1973.1L586.5 1983.3L582.7 1988.3L573.7 1988.3L564.5 1990.3M699.2 1600.1L708.5 1605.8L714.8 1617.1L711.7 1625.2L713.3 1631.8L707.8 1638.3L706.9 1642.4L711.7 1646.5L716.4 1650.5L721.0 1648.0L725.8 1651.2L732.8 1651.2L733.5 1660.9L735.1 1665.9L727.2 1673.1L729.6 1682.2L733.5 1690.3L730.4 1698.5L728.8 1711.3L731.9 1721.1L735.1 1727.6L741.4 1721.1L749.2 1714.5L755.5 1716.1L761.7 1711.3L768.0 1709.8L772.8 1704.8L774.2 1695.1L772.8 1685.3L771.2 1675.6L766.5 1662.5L761.7 1652.8L757.1 1641.5L752.4 1633.3L744.5 1625.2L742.9 1615.5L747.6 1604.2L755.5 1599.2L764.9 1594.2L772.8 1586.1L776.2 1571.8L781.8 1559.6L789.2 1548.1L790.9 1544.5L796.4 1541.3L800.1 1535.7L809.1 1527.3L815.0 1531.2L820.2 1535.0L833.0 1538.6L840.9 1533.4L849.4 1525.5L855.4 1517.8L859.2 1512.2L868.2 1499.5L875.6 1488.2L884.0 1474.6M810.7 1493.9L816.5 1497.2L823.7 1490.5L820.8 1481.4L813.6 1483.7L810.7 1493.9M793.8 1736.7L799.2 1738.0L807.9 1735.8L817.5 1729.2L826.5 1726.7L835.6 1723.3L843.8 1721.1L850.3 1719.7L853.9 1723.3L855.7 1731.0L853.9 1736.9L858.2 1745.9L863.1 1750.0L866.8 1743.7L872.1 1736.7L879.0 1730.1L875.9 1721.5L879.7 1714.3L883.0 1723.3L889.8 1722.2L897.7 1725.4L899.6 1717.7L904.2 1712.0L907.0 1723.3L908.6 1719.7L911.4 1709.8L918.5 1707.5L921.4 1704.6L921.4 1714.3L924.3 1716.5L926.9 1710.2L930.6 1706.4L936.1 1698.9L934.4 1684.9L934.1 1677.2L937.7 1658.2L938.7 1646.5L939.5 1639.4L945.0 1637.4L948.6 1624.1L952.2 1609.2L950.5 1597.6L945.9 1589.9L941.4 1580.4L944.4 1569.6L938.0 1569.6L935.1 1576.4L932.2 1575.2L929.3 1573.0L926.7 1578.6L922.9 1587.7L925.0 1612.5L921.4 1623.8L915.7 1639.7L908.5 1650.5L899.9 1662.3L888.4 1671.3L882.0 1674.3L881.2 1664.5L884.8 1656.2L879.7 1666.8L876.9 1675.8L870.1 1680.8L866.8 1696.2L858.2 1700.7L853.7 1698.0L842.4 1701.8L830.9 1703.0L822.7 1701.8L813.6 1709.8L803.5 1721.1L795.2 1730.3L793.8 1736.7M793.8 1739.1L787.7 1740.3L784.6 1748.2L778.4 1748.2L777.2 1753.8L774.8 1761.8L778.4 1766.3L783.4 1768.5L786.3 1773.1L782.8 1782.1L783.4 1795.7L784.6 1801.5L789.2 1796.8L791.9 1799.5L796.4 1795.7L799.2 1790.0L801.4 1782.1L802.8 1778.7L806.6 1767.2L808.3 1755.9L802.8 1746.4L797.8 1745.9L793.8 1739.1M810.2 1752.0L817.9 1745.9L822.2 1736.9L830.9 1738.0L837.5 1733.0L846.7 1731.0L848.4 1740.5L842.4 1752.7L835.6 1748.2L828.0 1752.7L822.9 1765.1L817.9 1762.9L815.6 1757.7L810.2 1752.0M951.6 1476.9L948.0 1488.2L950.2 1499.5L945.0 1512.2L941.4 1525.5L932.2 1527.3L929.3 1533.4L923.1 1544.5L924.3 1556.0L926.7 1567.1L934.4 1561.7L939.5 1557.6L932.2 1548.1L935.8 1542.5L943.0 1542.5L950.5 1542.5L960.2 1550.4L970.6 1556.0L974.2 1544.5L987.6 1534.5L996.2 1531.2L1003.4 1529.8L999.8 1523.7L998.0 1512.2L1001.6 1502.7L992.4 1512.2L981.8 1508.5L971.7 1501.8L963.3 1489.6L955.9 1479.2L951.6 1476.9M649.7 1782.1L655.5 1785.5L663.1 1793.4M654.0 1787.8L659.8 1791.1L664.8 1794.5M699.2 1600.1L706.9 1593.8L717.9 1582.2L728.8 1572.8L736.1 1562.4L745.3 1563.5L752.7 1567.1L754.4 1559.6L765.4 1554.0L774.8 1545.9L780.0 1535.0L784.9 1540.2L789.2 1545.9M789.9 1545.9L796.4 1535.7L800.1 1525.5L797.8 1515.3L796.4 1506.5L794.9 1491.4L799.2 1481.4M732.8 1651.2L736.7 1647.6L740.3 1640.8L746.0 1639.2L753.2 1638.5L757.1 1632.9M899.4 1639.7L903.0 1639.7L902.0 1649.8L898.7 1650.5L899.4 1639.7M825.1 1689.4L828.7 1684.9L828.0 1691.7L825.1 1689.4M769.8 1733.5L772.6 1722.2L771.2 1721.1L769.8 1733.5M725.9 1752.7L730.2 1747.1L736.7 1749.3L733.1 1755.0L725.9 1752.7M793.5 1819.4L795.6 1808.1L794.9 1820.5L793.5 1819.4M786.3 1819.4L789.9 1817.1L788.4 1821.7L786.3 1819.4M769.0 1868.0L774.8 1861.2L773.4 1866.9L769.0 1868.0M747.5 1915.5L756.1 1898.5L753.2 1907.6L747.5 1915.5M658.3 1933.6L664.1 1940.4L662.7 1949.4L659.8 1963.0L656.9 1983.3L649.7 2008.2L645.4 2001.4L639.7 1992.4L638.2 1978.8L639.7 1965.2L645.4 1951.7L651.2 1940.4L658.3 1933.6M610.9 1757.2L613.8 1748.2L619.5 1750.5L621.0 1755.0L616.7 1757.2L615.2 1761.8L610.9 1757.2M635.3 1802.5L638.2 1793.4L642.5 1797.9L639.7 1804.7L635.3 1802.5M1003.4 1519.9L1010.6 1506.3L1017.7 1499.5L1012.0 1510.8L1003.4 1519.9M1019.2 1497.2L1027.8 1488.2L1033.6 1483.7L1024.9 1492.7L1019.2 1497.2" stroke="#2a2a2a" stroke-width="1.15" fill="none" stroke-linejoin="round"/>
<path d="M636.8 1488.2V2053.4M780.5 1488.2V2053.4M564.9 1827.3H924.3M564.9 1601.2H924.3" stroke="#b0b0b0" stroke-width="1.4" stroke-dasharray="5.5 3" fill="none"/>
</g>
<rect x="564.9" y="1488.2" width="359.4" height="565.2" fill="none" stroke="#111" stroke-width="2"/>
<g clip-path="url(#clipi)">
<rect x="995.6" y="1488.5" width="574.4" height="565.1" fill="#fff"/>
<rect x="993.0" y="1486.0" width="580.0" height="571.0" fill="#000056"/><path fill="#000063" fill-rule="evenodd" d="M1572 2056L993 2056L993 1486L1572 1486L1572 2056Z"/><path fill="#000070" fill-rule="evenodd" d="M1572 2056L993 2056L993 1486L1572 1486L1572 2056Z"/><path fill="#00007c" fill-rule="evenodd" d="M1572 2056L993 2056L993 1486L1572 1486L1572 2056Z"/><path fill="#000089" fill-rule="evenodd" d="M1572 2056L993 2056L993 1486L1572 1486L1572 2056Z"/><path fill="#000096" fill-rule="evenodd" d="M1572 2056L993 2056L993 1486L1572 1486L1572 2056Z"/><path fill="#0000a2" fill-rule="evenodd" d="M1572 2056L993 2056L993 1486L1572 1486L1572 2056Z"/><path fill="#0000af" fill-rule="evenodd" d="M1572 2056L993 2056L993 1486L1572 1486L1572 2056Z"/><path fill="#0000bc" fill-rule="evenodd" d="M1572 2056L993 2056L993 1486L1572 1486L1572 2056Z"/><path fill="#0000c8" fill-rule="evenodd" d="M1572 2056L993 2056L993 1486L1572 1486L1572 2056Z"/><path fill="#0000d5" fill-rule="evenodd" d="M1572 2056L993 2056L993 1486L1572 1486L1572 2056Z"/><path fill="#0000e1" fill-rule="evenodd" d="M1572 2056L993 2056L993 1486L1572 1486L1572 2056Z"/><path fill="#0000ee" fill-rule="evenodd" d="M1572 2056L993 2056L993 1486L1572 1486L1572 2056Z"/><path fill="#0000fb" fill-rule="evenodd" d="M1572 2056L993 2056L993 1486L1572 1486L1572 2056Z"/><path fill="#0f0fff" fill-rule="evenodd" d="M1572 2056L993 2056L993 1486L1572 1486L1572 2056Z"/><path fill="#2525ff" fill-rule="evenodd" d="M1572 2056L993 2056L993 1486L1572 1486L1572 2056Z"/><path fill="#3a3aff" fill-rule="evenodd" d="M1572 2056L993 2056L993 1486L1572 1486L1572 2056ZM1152.6 1722L1155.3 1718L1154.5 1714L1151 1711.4L1146 1712.1L1143.5 1716L1144.2 1720L1148 1722.8L1152.6 1722Z"/><path fill="#5050ff" fill-rule="evenodd" d="M1572 2056L993 2056L993 1486L1572 1486L1572 2056ZM1152.2 1727L1156 1725.1L1158.6 1722L1159.8 1718L1159.4 1714L1157.9 1711L1154.5 1708L1151 1706.8L1147 1707L1143 1708.8L1140.2 1712L1138.9 1716L1139.3 1720L1141 1723.3L1144.1 1726L1148 1727.3L1152.2 1727Z"/><path fill="#6666ff" fill-rule="evenodd" d="M1572 2056L993 2056L993 1486L1572 1486L1572 2056ZM1153.1 1730L1157.3 1728L1161.1 1724L1162.9 1719L1162.7 1714L1161 1709.9L1157 1705.9L1152 1703.8L1146 1704L1141 1706.4L1137.7 1710L1135.8 1715L1136 1720L1138.3 1725L1142 1728.4L1147 1730.3L1153.1 1730Z"/><path fill="#7c7cff" fill-rule="evenodd" d="M1572 2056L993 2056L993 1486L1572 1486L1572 2056ZM1151.1 1733L1157 1731.2L1162.2 1727L1165.2 1721L1165.6 1715L1164 1709.7L1160 1704.8L1154 1701.6L1148 1701L1142 1702.7L1136.6 1707L1133.6 1713L1133.2 1719L1135.2 1725L1139 1729.4L1145 1732.5L1151.1 1733Z"/><path fill="#9292ff" fill-rule="evenodd" d="M1572 2056L993 2056L993 1486L1572 1486L1572 2056ZM1153.2 1735L1160 1732.1L1165.1 1727L1167.9 1720L1167.7 1713L1164.4 1706L1159 1701.3L1152 1698.9L1145 1699.2L1138.7 1702L1133.7 1707L1131 1714L1131.1 1721L1134 1727.5L1139 1732.3L1146 1735.1L1153.2 1735Z"/><path fill="#a8a8ff" fill-rule="evenodd" d="M1572 2056L993 2056L993 1486L1572 1486L1572 2056ZM1154 1737L1161 1734L1167 1728L1170.1 1720L1169.8 1712L1166.4 1705L1161 1700L1153 1696.9L1145 1697L1137.8 1700L1131.8 1706L1129 1713L1129 1721.3L1132 1728.3L1138 1734.2L1146 1737.2L1154 1737Z"/><path fill="#bebeff" fill-rule="evenodd" d="M1572 2056L993 2056L993 1486L1572 1486L1572 2056ZM1154.1 1739L1162 1735.7L1168.7 1729L1172 1721L1172 1712L1168.3 1704L1161.6 1698L1153 1694.9L1144 1695.2L1136 1698.8L1130.1 1705L1126.9 1713L1127.1 1722L1130.7 1730L1137 1735.9L1145 1739.1L1154.1 1739Z"/><path fill="#d4d4ff" fill-rule="evenodd" d="M1572 2056L993 2056L993 1486L1572 1486L1572 2056ZM1153.8 1741L1163 1737.4L1169.7 1731L1173.8 1722L1174.1 1712L1170.8 1704L1163.6 1697L1155 1693.3L1145 1693.1L1136 1696.6L1129.1 1703L1125.2 1712L1124.9 1721L1128.4 1730L1135 1736.9L1144 1740.8L1153.8 1741Z"/><path fill="#eaeaff" fill-rule="evenodd" d="M1572 2056L993 2056L993 1486L1572 1486L1572 2056ZM1209.5 1691L1210 1687.7L1209 1686.7L1207 1686.9L1205.6 1689L1205.9 1691L1208 1692L1209.5 1691ZM1152.7 1743L1162.1 1740L1170.5 1733L1175.2 1724L1176.3 1713L1173.2 1704L1166 1696.4L1156 1691.7L1146 1691.1L1136 1694.4L1128.3 1701L1123.7 1710L1122.9 1720L1126.3 1730L1133 1737.7L1142 1742.2L1152.7 1743Z"/><path fill="#ffffff" fill-rule="evenodd" d="M1572 2056L993 2056L993 1486L1572 1486L1572 2056ZM1210 1695L1213 1691L1213.2 1687L1211 1683.6L1207 1683L1203 1686.6L1202.2 1692L1205 1695.5L1210 1695ZM1156.8 1744L1166.9 1739L1174 1731L1178.1 1720L1177.7 1709L1172.8 1700L1164 1692.9L1153 1689.3L1142 1690.1L1132 1694.9L1124.8 1703L1121.3 1713L1121.9 1724L1126.8 1734L1135 1741.1L1146 1744.8L1156.8 1744Z"/><path fill="#ffffff" fill-rule="evenodd" d="M1572 2056L993 2056L993 1486L1572 1486L1572 2056ZM1209 1698L1213.7 1694L1215.2 1688L1213 1682.5L1211 1681.1L1208 1680.6L1205 1681.5L1202 1684.2L1200 1688L1199.5 1692L1200.3 1695L1202 1697.1L1205 1698.4L1209 1698ZM1155.9 1746L1162 1744L1167 1741.1L1171.7 1737L1175.5 1732L1180 1720L1180.5 1714L1179.8 1708L1177.7 1703L1174.7 1699L1164.1 1691L1153 1687.6L1142 1688.3L1136 1690.4L1131 1693.5L1123.4 1702L1119.5 1713L1120 1724L1124.6 1734L1133 1742L1144 1746.2L1155.9 1746Z"/><path fill="#ffebeb" fill-rule="evenodd" d="M1572 2056L993 2056L993 1486L1572 1486L1572 2056ZM1209.2 1700L1212.5 1698L1215 1695L1216.7 1688L1215.9 1684L1214 1681.1L1211 1679.1L1208 1678.7L1204 1680L1200.7 1683L1197.9 1688L1197 1693L1198.1 1697L1201 1699.7L1205 1700.7L1209.2 1700ZM1154.6 1748L1161 1746.3L1167 1743.2L1172 1739.2L1176 1734.4L1179.1 1729L1181.5 1722L1182.7 1714L1182.3 1708L1180.6 1703L1177.7 1699L1167 1690.5L1156 1686.3L1144 1686.1L1138 1687.7L1132 1690.7L1123.3 1699L1118.3 1710L1117.9 1722L1119.5 1728L1122.5 1734L1131 1742.7L1142 1747.6L1148 1748.4L1154.6 1748Z"/><path fill="#ffd7d7" fill-rule="evenodd" d="M1572 2056L993 2056L993 1486L1572 1486L1572 2056ZM1208.8 1702L1212.5 1700L1215.4 1697L1217.3 1693L1218 1688L1217 1683.2L1215 1680L1212 1677.8L1208 1677.1L1203 1678.8L1198.6 1683L1195.4 1689L1194.2 1695L1195.4 1699L1199 1701.8L1204 1702.8L1208.8 1702ZM1152.3 1750L1159 1748.7L1165.6 1746L1171.4 1742L1176.2 1737L1180 1731L1182.8 1724L1184.8 1715L1185.2 1707L1184.2 1703L1181.3 1699L1169 1689.6L1158 1685L1146 1684.1L1139 1685.6L1133.3 1688L1128 1691.5L1123.4 1696L1119.9 1701L1117.3 1707L1116 1713L1115.9 1720L1117.3 1727L1119.9 1733L1128 1742.6L1139 1748.5L1146 1750L1152.3 1750Z"/><path fill="#ffc3c3" fill-rule="evenodd" d="M1572 2056L993 2056L993 1486L1572 1486L1572 2056ZM1157 1751L1169 1746L1178.4 1737L1183.7 1727L1189 1708.2L1191 1704.6L1207 1704.3L1212 1702.2L1215.5 1699L1218.3 1694L1219.2 1688L1218 1682.3L1214.9 1678L1209 1675.6L1205 1676.2L1201.6 1678L1195.9 1684L1190 1695.4L1188 1697.4L1184 1696.5L1164 1685.2L1157 1683.1L1150 1682.3L1142 1683L1134 1685.7L1127 1690.1L1121.2 1696L1116 1705.5L1114 1716L1115.2 1726L1119.7 1736L1127 1744L1136 1749.2L1146 1751.7L1157 1751Z"/><path fill="#ffafaf" fill-rule="evenodd" d="M1572 2056L993 2056L993 1486L1572 1486L1572 2056ZM1155.6 1753L1168 1748.6L1178 1740.3L1183.9 1731L1190 1714.6L1193 1709.7L1196 1708.1L1209 1705.4L1216.3 1700L1219.5 1694L1220.3 1687L1218.7 1681L1215 1676.4L1209 1674.2L1202.2 1676L1197 1680.2L1189 1690.4L1186 1692.2L1181 1691.7L1161 1682.3L1148 1680.6L1140 1681.7L1132 1684.8L1125.7 1689L1119.8 1695L1114.7 1704L1112.3 1715L1113.4 1726L1117.7 1736L1125 1744.5L1134 1750.2L1145 1753.3L1155.6 1753Z"/><path fill="#ff9b9b" fill-rule="evenodd" d="M1572 2056L993 2056L993 1486L1572 1486L1572 2056ZM1423.6 1641L1427 1638.6L1429.7 1635L1430.7 1632L1430 1629.8L1428 1629.6L1425.1 1631L1420.7 1636L1420 1640.8L1421 1641.5L1423.6 1641ZM1153.6 1755L1165 1752L1174.7 1746L1183.2 1736L1191.7 1717L1194.4 1713L1198 1710.6L1211 1706.1L1217.1 1701L1220.4 1695L1221.5 1688L1219.9 1681L1216 1675.6L1210 1673L1203 1674.1L1197.2 1678L1188 1687.5L1184 1689L1179 1688.2L1166 1682.3L1158 1679.8L1150 1678.9L1142 1679.5L1135 1681.6L1129 1684.5L1123 1689L1118.4 1694L1112.9 1704L1110.6 1715L1111.6 1726L1115.7 1736L1122.9 1745L1132 1751.2L1143 1754.7L1153.6 1755ZM1163.6 2053L1171.5 2049L1176.9 2042L1178.2 2034L1177.2 2030L1175 2027.1L1167 2022.5L1157 2020.9L1146 2022.7L1138.7 2027L1136.1 2031L1135.4 2037L1136.7 2042L1140 2047.1L1145 2051L1151 2053.3L1157 2054L1163.6 2053Z"/><path fill="#ff8787" fill-rule="evenodd" d="M1572 2056L1177.9 2056L1183.9 2050L1187.6 2043L1188.8 2035L1187.2 2028L1182.7 2023L1175.8 2019L1167 2016.3L1157 2015.3L1147 2016.2L1138 2018.9L1131.2 2023L1126.9 2028L1125.4 2035L1126.4 2043L1129.9 2050L1135.7 2056L993 2056L993 1486L1572 1486L1572 2056ZM1420.7 1647L1428 1642.3L1433.8 1635L1436.2 1628L1435.9 1626L1434.3 1624L1431 1623.7L1426 1625.9L1421 1630.1L1416.6 1636L1414.5 1641L1414.4 1645L1417 1647.4L1420.7 1647ZM1158.2 1756L1168 1752.5L1177 1746.3L1184.7 1737L1193 1719.6L1196 1715.3L1200 1712.5L1212 1707.2L1218.6 1701L1221.8 1694L1222.4 1686L1220.2 1679L1215.9 1674L1210 1671.7L1203 1672.7L1197.4 1676L1188 1684.4L1183 1686.2L1178 1685.4L1158 1678L1149 1677.1L1141 1678L1134 1680.1L1127 1683.7L1121 1688.5L1116 1694.3L1110.7 1705L1108.8 1717L1110.3 1728L1115.5 1739L1123.7 1748L1134 1754L1146 1756.8L1158.2 1756Z"/><path fill="#ff7373" fill-rule="evenodd" d="M1572 2056L1500.4 2056L1505 2052L1507.2 2047L1506.2 2042L1502 2037.1L1495.4 2033L1487.2 2030L1477 2028.2L1467 2027.7L1457 2028.2L1447.3 2030L1440.5 2033L1435.4 2037L1432.3 2042L1432.2 2047L1435 2052L1440 2056L1190.7 2056L1195.8 2048L1198.5 2040L1199 2031L1196.8 2026L1190.1 2020L1180.4 2015L1169 2011.8L1157 2010.6L1146 2011.5L1135 2014.4L1126 2019L1119.7 2025L1117.1 2031L1116.9 2040L1119 2048.4L1123.4 2056L993 2056L993 1486L1572 1486L1572 2056ZM1419 1651L1428.5 1645L1436.6 1635L1438.9 1630L1439.8 1625L1439.2 1622L1437.1 1620L1432 1619.9L1426 1622.8L1419 1628.9L1413.8 1636L1410.8 1643L1411 1649L1414 1651.5L1419 1651ZM1157.2 1758L1168 1754.5L1178 1747.8L1186.1 1738L1197 1717.9L1201 1714.5L1213 1708.2L1219.3 1702L1222.9 1694L1223.4 1686L1221 1678.3L1216 1672.6L1210 1670.4L1203.8 1671L1197.8 1674L1188 1681.8L1183 1683.6L1178 1683.1L1157 1676L1149 1675.4L1141 1676.2L1133 1678.6L1126 1682.3L1119 1688L1114.1 1694L1108.8 1705L1107 1717L1108.8 1729L1114 1740L1122.2 1749L1133 1755.5L1145 1758.5L1157.2 1758Z"/><path fill="#ff5f5f" fill-rule="evenodd" d="M1572 2056L1531.4 2056L1534.6 2049L1534.1 2042L1529.9 2035L1522.6 2029L1512.3 2025L1498 2021.8L1481 2019.6L1463 2018.9L1447 2019.6L1432 2021.8L1420.2 2025L1412.2 2029L1407.3 2035L1404.8 2042L1405.4 2049L1409.2 2056L1202.7 2056L1214.9 2035L1218 2032.7L1227 2029L1231 2025.6L1232.6 2021L1231 2015.9L1229 2014.4L1226 2014.1L1215 2019.7L1209 2020.5L1178 2009.3L1168 2007.3L1157 2006.5L1144 2007.5L1131 2010.8L1120.3 2016L1113.2 2022L1109.3 2029L1108.5 2037L1109.5 2047L1112.7 2056L993 2056L993 1486L1572 1486L1572 2056ZM1414.8 1655L1420 1653.4L1426 1649.7L1432 1644.3L1437.1 1638L1441 1631L1442.7 1625L1442.4 1620L1440.1 1617L1434 1616.5L1427 1619.6L1419.1 1626L1412.6 1634L1408.5 1642L1407.3 1649L1407.9 1652L1409.6 1654L1414.8 1655ZM1156.2 1760L1168 1756.5L1179 1749.3L1187 1740L1199 1719.1L1214 1709.2L1220 1703L1224 1694L1224.3 1685L1221.5 1677L1216 1671.2L1210 1669.1L1204 1669.6L1198 1672.3L1187 1679.9L1182 1681.3L1177 1680.5L1157 1674.2L1148 1673.6L1140 1674.5L1132 1677.1L1124.6 1681L1118 1686.4L1112.5 1693L1107.2 1704L1105.2 1717L1106.9 1729L1112 1740.3L1120 1749.5L1131 1756.6L1143 1760.1L1156.2 1760Z"/><path fill="#ff4b4b" fill-rule="evenodd" d="M1572 2056L1559.9 2056L1562.2 2047L1560.3 2038L1554.6 2030L1545 2025L1527.6 2020L1506.7 2016L1483 2013.3L1460 2012.3L1439 2013.2L1418.6 2016L1400 2020.6L1387.1 2026L1382.3 2030L1378.9 2039L1378.6 2048L1381.3 2056L1217.9 2056L1224 2048.7L1236 2037.2L1241.7 2029L1242.7 2024L1242 2018L1239.5 2012L1236 2007.5L1232 2004.9L1227 2004.3L1211 2010.7L1204 2011.5L1175 2004.4L1157 2002.7L1142 2003.8L1128.5 2007L1116.7 2012L1108 2018.3L1103.4 2024L1101 2031L1100.5 2044L1102.4 2056L993 2056L993 1486L1572 1486L1572 2056ZM1413.9 1658L1420 1655.8L1427 1651.3L1433.7 1645L1439.2 1638L1443.1 1631L1445.4 1624L1445.3 1618L1443 1614.5L1437 1613.3L1428 1616.7L1419 1623.7L1411 1633.2L1405.9 1643L1404.5 1652L1405.4 1655L1407.1 1657L1410 1658.1L1413.9 1658ZM1155.3 1762L1168 1758.5L1180 1750.9L1188.6 1741L1200.3 1721L1215 1710.2L1221 1703.6L1224.8 1695L1225.3 1685L1222.7 1677L1217 1670.5L1211 1668L1204 1668.3L1198 1670.7L1187 1677.6L1182 1678.9L1177 1678.3L1156 1672.2L1148 1671.7L1140 1672.7L1132 1675.1L1124 1679.2L1116.8 1685L1111 1692L1105.5 1703L1103.3 1716L1104.9 1729L1110.2 1741L1118.8 1751L1130 1758.2L1142 1761.8L1155.3 1762Z"/><path fill="#ff3737" fill-rule="evenodd" d="M1353 2056L1241.5 2056L1246 2047L1249.5 2037L1251.3 2029L1250.7 2023L1246.8 2013L1241.4 2005L1235.1 2000L1229 1998.4L1224 1999.1L1211 2004.3L1205 2005.5L1197 2005L1172 2000L1156 1999L1135.6 2001L1117 2006.5L1104 2014L1098.9 2019L1095.7 2024L1093.3 2033L1092.3 2056L993 2056L993 1486L1572 1486L1572 2021L1520 2011.7L1480 2007.4L1444 2006.7L1411 2010L1378.1 2017L1369 2020.1L1362 2024L1359 2027L1356.9 2031L1354.2 2044L1353 2056ZM1412.1 1661L1419 1658.6L1427 1653.5L1435 1646L1441.2 1638L1445.6 1630L1448 1622L1447.8 1616L1445 1611.7L1442 1610.5L1438 1610.5L1428 1614.5L1418 1622.3L1409.1 1633L1403.3 1644L1401.7 1654L1403 1657.9L1405 1660L1408 1661.1L1412.1 1661ZM1154.6 1764L1169 1760.2L1181.7 1752L1190 1742.4L1201.4 1723L1217 1710.2L1222 1704.3L1225.9 1695L1226.4 1685L1223.4 1676L1217 1669.1L1211 1666.7L1204 1666.9L1198 1669.2L1187 1675.4L1182 1676.6L1177 1676.1L1156 1670.2L1148 1669.8L1140 1670.7L1131 1673.4L1122.3 1678L1115 1684L1109 1691.4L1103.2 1704L1101.3 1717L1103.2 1730L1108.6 1742L1117 1751.9L1128 1759.4L1141 1763.6L1154.6 1764Z"/><path fill="#ff2323" fill-rule="evenodd" d="M1338 2056L1265.5 2056L1262.5 2044L1260.3 2027L1256 2017L1249.2 2007L1242 1999.2L1236 1995.3L1229 1993.7L1223 1994.6L1210 1999.4L1203 2000.5L1167 1995.8L1145 1995.9L1127 1998.8L1111 2003.9L1098 2011.6L1090 2021.2L1087 2029L1082.7 2056L993 2056L993 1486L1572 1486L1572 2011.9L1498 2003.5L1458 2000.9L1423 2002.1L1381.5 2008L1362 2013L1356 2016L1351 2020.2L1346.3 2028L1341.2 2048L1338 2056ZM1409.6 1664L1417 1661.8L1426 1656.4L1435 1648.3L1442.5 1639L1447.5 1630L1450.4 1621L1450.3 1614L1447 1609.1L1443 1607.7L1439 1607.8L1428 1612.4L1417 1621.1L1407.1 1633L1400.9 1645L1399.3 1651L1399.1 1656L1400 1659.5L1402 1662.2L1405 1663.7L1409.6 1664ZM1154.6 1766L1162 1764.7L1170 1761.9L1183 1753.5L1191.4 1744L1203.4 1724L1218 1711.2L1223 1705L1227 1695L1227.3 1684L1223.5 1674L1217 1667.6L1211 1665.4L1204 1665.6L1198 1667.6L1187 1673.2L1182 1674.3L1177 1673.8L1156 1668.2L1147 1667.9L1139 1668.9L1130 1671.6L1121 1676.5L1113.2 1683L1106.9 1691L1101.4 1703L1099.3 1717L1101.4 1731L1106.8 1743L1116 1753.7L1127 1761.1L1140 1765.4L1154.6 1766Z"/><path fill="#ff0f0f" fill-rule="evenodd" d="M1329 2056L1277.4 2056L1271.6 2043L1266.7 2024L1260.6 2013L1252.1 2003L1243.4 1995L1236 1990.8L1229 1989.6L1223 1990.3L1210 1994.6L1203 1995.9L1170 1992.3L1155 1991.8L1136 1993.2L1117 1997L1107 2000.4L1099 2004.3L1092.5 2009L1087 2015L1081.5 2026L1077.8 2044L1073.8 2056L993 2056L993 1486L1572 1486L1572 2005L1482 1996.9L1449 1995.2L1414 1996.9L1371 2003L1355.5 2008L1350 2011.6L1345.7 2016L1341 2024L1334.7 2045L1330.7 2054L1329 2056ZM1412.1 1666L1421 1661.9L1430 1655.4L1438.3 1647L1445.7 1637L1450.7 1627L1453 1618L1452.4 1611L1449 1606.5L1445 1605.1L1440 1605.2L1428 1610.3L1414.9 1621L1403.9 1635L1397.5 1649L1396.4 1655L1396.8 1660L1398.8 1664L1402 1666.2L1407 1666.9L1412.1 1666ZM1155.5 1768L1163 1766.6L1171 1763.7L1178 1759.9L1185 1754.5L1193.2 1745L1205 1725.6L1219 1712.2L1223.8 1706L1228.1 1695L1228.4 1684L1224.8 1674L1218 1666.8L1212 1664.3L1205 1664L1199 1665.6L1187 1671L1181 1672L1156 1666.1L1147 1665.8L1139 1666.8L1129 1669.8L1119.5 1675L1111.3 1682L1105 1690.1L1099.2 1703L1097.2 1718L1099.5 1732L1105.6 1745L1115 1755.6L1127 1763.4L1141 1767.7L1155.5 1768Z"/><path fill="#fc0000" fill-rule="evenodd" d="M1322 2056L1286 2056L1278.9 2045L1271.2 2021L1264 2008.7L1254.5 1999L1244.6 1991L1237 1987.1L1229 1985.7L1223 1986.4L1203 1991.4L1168 1988.5L1151 1988.2L1130 1990.1L1110 1994.4L1100.1 1998L1093 2001.9L1087 2006.6L1082.4 2012L1077.1 2022L1071.7 2043L1065.6 2056L993 2056L993 1486L1572 1486L1572 1998.8L1539 1997.2L1475 1990.9L1444 1989.3L1410 1991.1L1367 1997.4L1359 1999.6L1352 2002.8L1347 2006.4L1342.7 2011L1336.6 2022L1329 2045L1322 2056ZM1410.3 1669L1420 1664.7L1430 1657.5L1439 1648.6L1446.9 1638L1452.6 1627L1455.3 1617L1454.7 1609L1451 1604L1447 1602.5L1441 1602.7L1435 1604.5L1428 1608.2L1414 1619.6L1401.9 1635L1395 1650L1393.8 1657L1394.2 1662L1396 1666.1L1399.8 1669L1405 1669.8L1410.3 1669ZM1157.1 1770L1165 1768.3L1173 1765.2L1180.4 1761L1187 1755.7L1195.2 1746L1206.7 1727L1220 1713.3L1225 1706.5L1229.3 1695L1229.3 1683L1225.5 1673L1222 1668.5L1218 1665.3L1212 1662.9L1205 1662.6L1199 1664L1187 1668.8L1181 1669.6L1156 1663.9L1147 1663.6L1138 1664.7L1128 1667.8L1118 1673.3L1109.2 1681L1102.4 1690L1096.6 1704L1095 1719L1097.8 1734L1104.3 1747L1114.4 1758L1127 1765.8L1142 1770.1L1157.1 1770ZM1439.2 1875L1444.9 1871L1448.8 1865L1450.8 1858L1450.7 1850L1448.2 1842L1444 1836.4L1438 1833L1432 1832.7L1425.4 1836L1420.8 1842L1418.2 1850L1418.3 1859L1421.1 1867L1426 1872.8L1432 1875.7L1439.2 1875Z"/><path fill="#ef0000" fill-rule="evenodd" d="M1313 2056L1295.3 2056L1291 2052.9L1286.6 2048L1283 2042.1L1274 2016.5L1266 2003.6L1256.8 1995L1245 1986.7L1237 1983.1L1229 1981.9L1201 1987.1L1164 1984.5L1141 1985L1121 1987.5L1104 1991.3L1089 1998.1L1083 2003L1078.7 2008L1072.1 2021L1065.3 2044L1057.6 2056L995 2056L993 2053.7L993 1486L1572 1486L1572 1993.1L1536 1991.9L1468 1984.7L1440 1983.1L1408 1985.1L1365 1991.7L1351 1996.9L1346 2000.3L1341 2005.4L1334.3 2017L1327.7 2037L1324.4 2044L1319 2051.4L1313 2056ZM1408.6 1672L1419 1667.6L1430 1659.8L1440 1649.9L1448.9 1638L1455 1626L1457.8 1615L1457 1606.7L1453 1601.4L1448 1599.7L1442 1600L1435 1602.3L1428 1606.1L1413 1618.3L1400.5 1634L1395.6 1643L1392.5 1651L1391.2 1658L1391.5 1664L1393.7 1669L1397 1671.6L1402 1672.8L1408.6 1672ZM1159.4 1772L1175 1766.9L1182 1762.7L1189 1757L1197.4 1747L1208.9 1728L1222 1713.4L1226.8 1706L1230.7 1694L1230.9 1687L1230.1 1681L1228 1675L1225 1670.1L1217 1663.2L1211 1661.2L1205 1661.1L1187 1666.5L1182 1667.2L1155 1661.5L1145 1661.4L1136 1662.8L1125 1666.6L1114.5 1673L1106 1681L1099.1 1691L1093.7 1706L1092.7 1721L1096 1736L1103.5 1750L1114.3 1761L1128 1768.8L1143 1772.5L1159.4 1772ZM1440.6 1892L1446 1889.8L1451 1886.2L1458.8 1876L1463.2 1863L1463.7 1849L1460.1 1835L1453 1824.1L1448 1819.8L1443 1817.2L1438 1815.8L1432 1815.7L1426 1817.1L1420.7 1820L1416 1824L1411.5 1830L1408.1 1837L1406 1844L1405 1852L1405.3 1860L1406.9 1868L1409.6 1875L1413.2 1881L1417.7 1886L1423 1889.8L1429 1892.2L1435 1892.8L1440.6 1892Z"/><path fill="#e20000" fill-rule="evenodd" d="M1049 2056L1004.2 2056L998 2050.3L993 2043.3L993 1486L1572 1486L1572 1987.6L1534 1986.7L1462 1977.9L1439 1976.4L1410 1978.2L1366 1985.5L1351 1990.8L1341 1998.4L1333 2010.8L1324.3 2035L1320.1 2043L1313 2050L1309 2051.9L1304 2052.6L1299 2051.6L1295 2049.5L1288 2042.1L1284.4 2035L1276.3 2012L1268.9 2000L1257 1989.7L1241 1980.6L1235 1978.8L1228 1978.2L1201 1982.8L1157 1980.6L1124 1982.7L1108 1985.4L1096 1988.8L1087 1992.9L1080 1998.3L1074.4 2005L1070.1 2013L1059.8 2043L1055 2050.3L1049 2056ZM1407.4 1675L1418 1670.5L1430 1662.1L1441.2 1651L1450.8 1638L1457.3 1625L1460.1 1614L1459.5 1605L1458 1601.7L1455 1598.7L1450 1597L1443 1597.3L1436 1599.6L1428 1603.9L1412 1617L1404.1 1626L1397.8 1635L1393 1644L1389.7 1653L1388.3 1661L1388.9 1667L1391 1671.6L1395 1674.8L1401 1675.9L1407.4 1675ZM1156.3 1775L1166 1773.1L1175 1769.7L1183 1765.1L1190.6 1759L1198.4 1750L1210.4 1730L1223 1714.8L1227.4 1708L1231.8 1695L1231.5 1682L1229.7 1676L1226.5 1670L1223 1665.9L1218 1662.2L1212 1659.9L1205 1659.5L1188 1663.9L1182 1664.6L1155 1659L1145 1658.8L1136 1660.2L1124 1664.3L1114 1670.2L1104.4 1679L1097.3 1689L1091.5 1704L1090.1 1720L1093.2 1736L1100.4 1750L1111 1761.6L1125 1770.3L1140 1774.7L1156.3 1775ZM1440.5 1905L1447 1902.9L1454 1898.8L1460 1893.2L1465.3 1886L1469.2 1878L1472 1869L1473.5 1859L1473.5 1849L1471.9 1839L1469.1 1830L1465 1821.9L1459.9 1815L1454 1809.6L1447 1805.4L1440 1803.3L1432 1802.8L1424 1804.6L1417 1808.1L1410 1814L1404.5 1821L1400 1829.7L1397 1839L1395.5 1849L1395.5 1860L1397.2 1870L1400.1 1879L1404.9 1888L1410.6 1895L1417 1900.2L1425 1904.1L1433 1905.6L1440.5 1905Z"/><path fill="#d50000" fill-rule="evenodd" d="M1037 2056L1016.1 2056L1009 2052.5L1003.5 2048L998.7 2042L995.5 2036L993 2028.1L993 1486L1572 1486L1572 1982.2L1533 1981.6L1458 1970.3L1438 1968.6L1413 1970.4L1369 1978.7L1352 1984.4L1345 1988.6L1340 1993L1335.2 1999L1331.3 2006L1321.6 2032L1318 2038.9L1311.8 2045L1308 2046.7L1304 2047.2L1297 2045L1290.3 2038L1278.1 2007L1271 1995.8L1259.4 1986L1242 1976.9L1235 1975L1228 1974.4L1201 1978.3L1153 1976.6L1116 1979.3L1102 1981.8L1091 1985L1083 1988.8L1076.3 1994L1071.4 2000L1067 2008L1057.9 2035L1054.5 2042L1047 2050.6L1042 2054L1037 2056ZM1402.4 1679L1415 1674.7L1428 1666.2L1440 1655L1451 1641L1458.6 1627L1462.6 1613L1462 1602.8L1460 1598.7L1457 1595.9L1452 1594.1L1445 1594.3L1437 1596.8L1429 1600.9L1420 1607.3L1412 1614.5L1397.5 1632L1391.7 1642L1387.9 1651L1385.6 1660L1385.5 1667L1387.2 1673L1390.8 1677L1396 1679L1402.4 1679ZM1153.9 1778L1164 1776.4L1174 1773.2L1183.7 1768L1192 1761.5L1201.1 1751L1212.9 1731L1228.2 1710L1231.3 1703L1233 1696L1233.6 1689L1232.8 1682L1230.7 1675L1227.5 1669L1223 1664L1218 1660.5L1212 1658.3L1205 1657.7L1183 1661.9L1155 1656.2L1145 1656.1L1136 1657.4L1123 1661.7L1112 1668.2L1102.4 1677L1094.7 1688L1088.9 1703L1087.3 1719L1090 1735L1097 1750L1107.3 1762L1121 1771.4L1137 1776.9L1153.9 1778ZM1437.4 1917L1446.8 1915L1455.1 1911L1463 1904.8L1470.3 1896L1475.9 1886L1479.7 1875L1482 1863L1482.4 1851L1481 1839L1478 1827.7L1473.2 1817L1467 1807.9L1459 1800.1L1451 1795.1L1442 1792L1433 1791.3L1423.2 1793L1414.4 1797L1406 1803.5L1399 1811.8L1393.3 1822L1389.3 1833L1387.1 1845L1386.6 1857L1387.9 1869L1391.1 1881L1396 1891.7L1402.4 1901L1410 1908.3L1419 1913.8L1428 1916.5L1437.4 1917Z"/><path fill="#c80000" fill-rule="evenodd" d="M1030 2052.1L1023 2052L1017 2050.4L1011 2047.2L1006.2 2043L1000.4 2034L993 2012.1L993 1486L1572 1486L1572 1976.7L1543 1977.2L1530 1976.2L1441 1958.7L1427 1958.9L1408 1962.6L1363 1974.1L1352 1978.6L1343.2 1984L1336 1991L1331 1998.5L1316 2034.6L1310.7 2040L1304 2041.9L1298 2039.8L1292.6 2034L1280.2 2003L1273 1991.6L1261 1981.7L1243 1973L1235 1971L1228 1970.5L1201 1973.7L1150 1972.4L1109 1975.4L1097 1977.6L1087 1980.5L1079 1984.4L1073 1989L1068 1995L1064 2002.3L1053.3 2033L1049.6 2040L1046 2044.3L1041 2048.2L1036 2050.7L1030 2052.1ZM1403.7 1682L1417 1676.4L1431 1666.4L1444 1653.4L1454.5 1639L1462 1624L1465.4 1610L1464.4 1600L1462.4 1596L1459 1592.9L1453 1591L1445 1591.6L1436 1594.7L1427 1599.7L1418 1606.4L1408.8 1615L1400.2 1625L1393.2 1635L1387.4 1646L1383.7 1656L1382.2 1665L1382.7 1672L1385.4 1678L1390 1681.6L1396 1682.9L1403.7 1682ZM1154.8 1781L1165 1779.4L1176 1775.6L1185 1770.8L1194 1763.9L1204.2 1752L1215.7 1732L1229.7 1711L1232.6 1704L1234.6 1696L1235 1688L1234.1 1681L1231.8 1674L1228.5 1668L1224 1662.8L1218 1658.7L1212 1656.5L1206 1655.9L1188 1658.7L1182 1658.8L1163 1654.3L1152 1652.9L1143 1653.2L1134 1654.7L1121 1659.2L1109 1666.6L1099 1676.2L1091.2 1688L1085.5 1704L1084.2 1721L1087.7 1738L1095.3 1753L1107 1765.9L1121 1774.8L1130 1778.3L1138 1780.3L1154.8 1781ZM1439.9 1928L1451 1925.1L1461 1919.7L1470 1911.8L1477.7 1902L1483.9 1890L1488 1877.6L1490.3 1864L1490.7 1849L1489 1835L1485 1821L1479.3 1809L1472 1798.7L1463 1790.2L1453 1784.1L1443 1780.9L1432 1780.1L1421 1782.2L1410 1787.3L1400.4 1795L1392.2 1805L1385.6 1817L1381.2 1830L1378.7 1844L1378.4 1859L1380.3 1874L1384.4 1888L1390.2 1900L1398 1910.8L1407 1919L1418 1925.1L1429 1928L1439.9 1928Z"/><path fill="#bb0000" fill-rule="evenodd" d="M1031 2046.1L1025 2046.4L1018.9 2045L1013 2041.7L1008.4 2037L1004 2028.4L993 1996.9L993 1486L1572 1486L1572 1971.1L1541 1972.1L1523 1969.5L1493 1962.2L1478 1957.5L1463.8 1951L1456.7 1945L1455.6 1941L1457.4 1937L1472.4 1924L1479.7 1916L1487 1905L1492.4 1893L1496.3 1879L1498.4 1864L1498.7 1848L1497.2 1833L1493.8 1819L1488.4 1806L1481 1794L1472 1784L1462 1776.5L1451 1771.3L1440 1768.8L1428 1768.9L1417 1771.6L1407 1776.4L1397 1784L1389 1792.7L1381.6 1804L1376.2 1816L1372.4 1829L1370.4 1843L1370.1 1857L1371.4 1871L1374.1 1884L1378.5 1897L1384 1908L1391 1918L1411.6 1937L1413.4 1941L1412.9 1944L1408.4 1949L1399.9 1954L1357 1970.1L1348 1974.8L1340 1980.7L1334 1986.9L1329 1994.3L1317 2024.3L1313.2 2031L1310 2034.4L1304 2036.2L1301 2035.5L1297.6 2033L1292 2024L1282 1998.3L1276.2 1989L1265 1978.9L1248 1970.2L1238 1967.3L1229 1966.3L1200 1968.9L1162 1967.8L1138 1968.1L1113 1969.8L1095 1972.3L1082 1976L1072.6 1981L1066.2 1987L1061.2 1995L1050 2027L1046 2035.8L1039 2042.9L1031 2046.1ZM1396.3 1687L1403 1685.8L1410 1683.2L1426 1673.5L1441 1659.9L1453.8 1644L1463.1 1627L1467.9 1611L1468.3 1604L1467.3 1598L1465 1593.2L1462 1590.2L1456 1587.9L1448 1588L1439 1590.6L1430 1595.1L1420 1602L1410 1610.8L1401.5 1620L1393.2 1631L1386.6 1642L1381.8 1653L1379.3 1662L1378.5 1671L1380 1678.1L1384 1683.7L1389 1686.3L1396.3 1687ZM1159.4 1784L1170 1781.6L1181 1777.1L1190 1771.7L1198.9 1764L1209 1751L1232.4 1710L1235.1 1702L1236.5 1694L1236.5 1686L1234.9 1678L1232.1 1671L1228 1664.7L1223 1659.8L1217 1656.2L1206 1653.8L1183 1655.5L1163 1650.7L1153 1649.5L1142 1649.8L1132 1651.5L1118 1656.8L1105 1665.3L1094 1676.9L1086.3 1690L1081.3 1707L1080.6 1716L1081 1725L1085.4 1742L1089.3 1750L1094.6 1758L1107 1770.4L1115 1775.7L1123 1779.6L1132 1782.5L1141 1784.2L1150 1784.7L1159.4 1784Z"/><path fill="#ae0000" fill-rule="evenodd" d="M1028 2040.1L1023 2039.6L1019 2038.1L1015 2035.2L1012 2031.5L1006 2018.3L998 1992L993 1982.9L993 1486L1572 1486L1572 1965.2L1543 1966.9L1529 1965.3L1495 1954L1485.6 1949L1480.2 1944L1478.5 1940L1479.1 1935L1490 1919.9L1495.6 1910L1500 1898.3L1503.2 1884L1505.3 1865L1505.8 1845L1504.6 1828L1501.6 1813L1496.7 1800L1490 1788.3L1481.8 1778L1472 1769.2L1461 1762.3L1450 1758.1L1439 1756.1L1427 1756.4L1416 1759L1406 1763.3L1396 1769.9L1387 1778.2L1379.2 1788L1372.7 1799L1367.4 1812L1364 1825L1362.1 1839L1361.7 1854L1362.9 1869L1365.4 1884L1369.3 1898L1374.6 1911L1380.2 1921L1389.7 1934L1390.8 1938L1390.2 1942L1387.5 1946L1382.8 1950L1351 1966.8L1342 1973.1L1335 1979.4L1326 1991.8L1315 2019.5L1309 2027.8L1306 2029.3L1303 2029.2L1300 2027.6L1297 2024.3L1293 2016.8L1284.1 1994L1275.6 1982L1264 1972.8L1249 1965.6L1239 1962.8L1229 1961.7L1200 1963.6L1159 1962.8L1131 1963.3L1106 1965L1089 1967.4L1076.8 1971L1067 1976.4L1061 1982.3L1056.4 1990L1047.7 2018L1041.9 2031L1036 2037.4L1028 2040.1ZM1393.2 1692L1400 1690.9L1407 1688.5L1424 1678.6L1441 1663.6L1455.2 1646L1465.3 1628L1470.8 1610L1471.4 1602L1470.3 1595L1467.8 1590L1464 1586.4L1457 1584.1L1449 1584.4L1439 1587.4L1429 1592.6L1419 1599.5L1408.3 1609L1398.3 1620L1390.1 1631L1383.5 1642L1378.1 1654L1375.2 1664L1374.3 1674L1375.9 1682L1380 1688L1386 1691.3L1393.2 1692ZM1160.7 1788L1172 1785.3L1184 1780.3L1194 1773.9L1202.8 1766L1213.8 1751L1234.5 1711L1237.3 1702L1238.4 1694L1238.2 1685L1236.5 1677L1233.6 1670L1228.9 1663L1223 1657.4L1216 1653.6L1206 1651.4L1184 1651.8L1164 1646.8L1154 1645.4L1142 1645.6L1130 1647.8L1115 1653.7L1101 1663.2L1089.4 1676L1081.7 1690L1078.7 1699L1076.8 1709L1076.4 1719L1077.2 1728L1079.2 1737L1082.5 1746L1086.8 1754L1092.4 1762L1099 1769L1106 1774.8L1114 1779.9L1123 1784L1132 1786.8L1142 1788.5L1160.7 1788Z"/><path fill="#a10000" fill-rule="evenodd" d="M1030 2031L1026 2031.5L1022 2030.2L1018.1 2027L1015 2022.8L1010 2011L1003.4 1984L999.3 1977L993 1971L993 1486L1572 1486L1572 1958.8L1544 1961.4L1532 1960.3L1522.1 1957L1510 1951L1502.4 1946L1497.7 1941L1496.4 1938L1496.2 1934L1502.8 1919L1506.2 1907L1509 1889.3L1510.8 1866L1511.7 1840L1511.2 1821L1509.3 1806L1506 1794L1500.3 1782L1493 1771.5L1484 1761.9L1473 1753.2L1462 1747.2L1450 1743.2L1438 1741.4L1426 1741.8L1416 1743.9L1407 1747.2L1398 1751.9L1389 1758.3L1380.7 1766L1373.3 1775L1367 1784.7L1362 1794.9L1357.3 1809L1354.4 1824L1353.3 1841L1354.1 1860L1356.4 1879L1360.4 1898L1366 1915.7L1373.6 1932L1374.1 1938L1372.5 1942L1368.3 1947L1342 1966.9L1329 1980L1321.5 1992L1312.8 2014L1308 2020.3L1306 2021.3L1303 2021.2L1299 2018L1295.6 2012L1287.1 1991L1277.6 1978L1265 1967.8L1249 1960.1L1239 1957.5L1229 1956.5L1201 1957.8L1158 1957.1L1127 1957.7L1101 1959.2L1084 1961.6L1071 1965.3L1060.6 1971L1054.4 1977L1050.4 1984L1044 2010L1040 2020.6L1035 2027.7L1030 2031ZM1394.7 1698L1410 1692.4L1428 1680.3L1445 1663.8L1459.2 1645L1469.5 1625L1474.4 1607L1474.8 1599L1473.6 1592L1471 1586.5L1467 1582.6L1459 1579.8L1450 1580.2L1439 1583.7L1428 1589.4L1416 1598.1L1404.1 1609L1393.6 1621L1384.4 1634L1376.7 1648L1371.7 1661L1369.4 1672L1369.5 1682L1372.3 1690L1378 1695.9L1386 1698.4L1394.7 1698ZM1152.5 1794L1166 1792.3L1179 1788.3L1191 1782.3L1202.1 1774L1210.6 1765L1217.5 1755L1233.7 1721L1237.6 1711L1240.3 1700L1240.8 1690L1239.5 1680L1236.4 1671L1231.6 1663L1225 1656.3L1217 1651.4L1207 1648.7L1186 1647.4L1167 1642.2L1157 1640.5L1143 1640.3L1130 1642.4L1114 1648.3L1099 1658.1L1086.6 1671L1077.7 1686L1072.2 1704L1071.1 1714L1071.4 1724L1072.8 1733L1075.6 1743L1084.4 1760L1090.7 1768L1097.8 1775L1105 1780.5L1114 1785.8L1123 1789.6L1133 1792.4L1143 1793.8L1152.5 1794Z"/><path fill="#940000" fill-rule="evenodd" d="M1029 2017.4L1026 2017.7L1023 2016.3L1018.8 2010L1016.9 2002L1015.4 1983L1012.4 1975L1005 1966.9L993 1959.9L993 1486L1572 1486L1572 1951.4L1545 1955.5L1534 1954.8L1527 1952.3L1520 1948L1514.5 1943L1510.8 1937L1510 1932L1513.7 1899L1517.8 1805L1517 1792.6L1515 1781.7L1511.6 1772L1506.7 1763L1499 1753L1490 1744.2L1480 1736.6L1469 1730.4L1458 1726L1446 1723.2L1434 1722.1L1422 1722.8L1411 1724.9L1401 1728.4L1392 1733.2L1383 1739.9L1373.3 1749L1364.9 1759L1357.7 1770L1352.4 1781L1348.2 1794L1345.6 1808L1344.5 1823L1344.8 1841L1349.9 1884L1355 1909.5L1361 1931L1361 1937L1359 1942L1355.4 1947L1333 1969.1L1323.7 1980L1317.5 1990L1310 2006.6L1307 2010.3L1304 2011.1L1301 2009L1289.3 1986L1278 1972.3L1263 1960.6L1248 1953.5L1239 1951.2L1228 1950.1L1130 1950.7L1100 1952L1080 1954.4L1064 1958.6L1052 1964.6L1044.5 1971L1040 1978L1038.2 1985L1036 2007L1033 2013.9L1029 2017.4ZM1394.4 1709L1402 1706.4L1411 1701.3L1431 1685L1450 1664.4L1464.5 1643L1474.4 1621L1477.4 1610L1478.6 1601L1478.4 1593L1476.6 1586L1473.7 1581L1469 1577.1L1460 1574.5L1449 1575.6L1436 1580.2L1423 1587.8L1409 1598.7L1396.7 1611L1385.3 1625L1375.6 1640L1368.2 1655L1363.6 1669L1361.9 1682L1363.2 1693L1367.9 1702L1375 1707.5L1384 1709.9L1394.4 1709ZM1157.1 1801L1175 1797.5L1191 1790.7L1206 1780.3L1217.6 1768L1223.7 1759L1228.3 1750L1239.3 1720L1243.4 1703L1243.7 1688L1241.1 1676L1235.9 1665L1228.6 1656L1219 1649.2L1210 1645.8L1189 1642L1164 1634.3L1152 1632.9L1140 1633.3L1124 1636.5L1108 1643.2L1094 1652.7L1082.8 1664L1073.4 1678L1067.2 1693L1064.1 1709L1064.2 1726L1067.5 1742L1073.9 1757L1083.5 1771L1095 1782.2L1109 1791.4L1124 1797.6L1140 1800.8L1157.1 1801Z"/><path fill="#870000" fill-rule="evenodd" d="M1305 1995L1301 1993.1L1284.8 1973L1266 1956.1L1250 1946.3L1235 1941.9L1223 1941L1152 1940.8L1095 1942.4L1067 1946.3L1036 1955.8L1028 1957.1L1018 1955.8L993 1947.8L993 1486L1572 1486L1572 1941.4L1548 1948.5L1538 1949.1L1532 1947.3L1526.6 1944L1522 1939L1519.6 1934L1518.5 1901L1519.4 1863L1522.4 1828L1529.9 1777L1530.4 1766L1529.4 1756L1526.5 1746L1522 1737.2L1515.9 1729L1507.8 1721L1490 1708.5L1477 1701.9L1455.5 1693L1452 1690.6L1450.3 1688L1449.9 1684L1451.8 1678L1468.8 1646L1477.2 1626L1481.9 1609L1483.5 1594L1481.3 1581L1478.7 1576L1475 1572L1470 1569.1L1464 1567.5L1450 1568.3L1437 1572.4L1422 1580.2L1408 1590.2L1394 1603.1L1381.8 1617L1369.6 1634L1359.5 1652L1352.5 1669L1349.1 1681L1347.2 1693L1347 1727L1335.2 1763L1332.9 1776L1332.1 1791L1333 1811L1335.8 1836L1351.4 1930L1351.5 1935L1349.3 1942L1344.1 1950L1322 1975L1309 1992.3L1305 1995ZM1155.6 1815L1176 1811.6L1195 1804.3L1213 1792.6L1227.5 1778L1237.8 1762L1244.7 1744L1248.8 1721L1249.6 1697L1247.3 1683L1242.6 1670L1234.8 1658L1225 1648.9L1216 1643.5L1194.7 1635L1179 1626.4L1170 1622.6L1156 1619.5L1141 1619.3L1122 1622.7L1104 1629.6L1088 1639.6L1073.8 1653L1062.4 1669L1054.7 1686L1050.3 1705L1049.8 1724L1053.1 1743L1060.2 1761L1070.4 1777L1083.8 1791L1100 1802.3L1117 1809.9L1136 1814.3L1155.6 1815Z"/><path fill="#7a0000" fill-rule="evenodd" d="M1517 1662.1L1506 1661.7L1495 1659.5L1487 1656L1483 1651.7L1481.5 1646L1481.8 1639L1487.7 1610L1489.7 1595L1489.9 1585L1488.8 1576L1486 1567.9L1481 1560.6L1475 1555.7L1462.5 1549L1460.1 1547L1458.8 1544L1459.4 1540L1462.3 1535L1472.2 1526L1486 1519.1L1501 1515.6L1512 1515.3L1523 1516.7L1533 1519.7L1543 1524.4L1552 1530.7L1559.8 1538L1566.8 1547L1572 1556.1L1572 1623.9L1571 1626L1561 1640.5L1548 1651.9L1533 1659.1L1517 1662.1ZM1266 1680.1L1261 1679.9L1256 1676.8L1234.5 1651L1207.3 1629L1200.6 1619L1197 1607L1196.3 1595L1198.2 1581L1202.3 1567L1207.9 1555L1215 1544.5L1223 1536.5L1232 1530.9L1241 1528.1L1250 1527.8L1259 1530L1268 1535L1275.8 1542L1282.7 1551L1288.6 1562L1293.4 1575L1296.3 1588L1297.9 1603L1297.7 1618L1295.6 1633L1292.2 1646L1286.8 1659L1280.5 1669L1273 1676.7L1266 1680.1ZM1307 1981.3L1304 1981.7L1301 1980.8L1294 1975.4L1256.4 1939L1251.8 1933L1250.8 1929L1251.4 1904L1253.9 1879L1258.2 1854L1263.7 1833L1270.6 1815L1279 1800.5L1287 1792.2L1292 1789.4L1296 1788.6L1303 1790.2L1310 1796.3L1316 1805.9L1322 1820.7L1328 1841.2L1334 1868.1L1344.1 1931L1342.2 1941L1335.7 1952L1317 1973.3L1311 1978.9L1307 1981.3ZM1546 1941L1540 1941.8L1535 1940.5L1531 1937.9L1527.5 1933L1524.1 1915L1522.4 1890L1523.5 1856L1528 1826.1L1531 1815.6L1535 1806.7L1539 1801.8L1543 1800.1L1547 1801.3L1551 1805.4L1557.6 1820L1562.5 1843L1564.7 1871L1563.6 1902L1559.1 1929L1557.2 1933L1554.6 1936L1546 1941Z"/><path fill="#6d0000" fill-rule="evenodd" d="M1513 1623L1506 1622L1503 1619.9L1501.1 1617L1499.5 1609L1500 1597.4L1502.7 1579L1506 1568.7L1511 1562.8L1515 1561.1L1519 1560.8L1523.9 1562L1528 1564.2L1535.4 1572L1539.6 1582L1540.4 1594L1537.3 1605L1531.2 1614L1523 1620.1L1513 1623ZM1256 1650.1L1251 1650.4L1246 1648.6L1239 1643.8L1231.3 1637L1222.6 1626L1220 1620L1218.4 1613L1217.9 1605L1218.8 1596L1220.7 1588L1224 1579.9L1228 1573.5L1233 1568.3L1238 1565L1244 1563.2L1249 1563.2L1254 1564.6L1259 1567.5L1263.8 1572L1270.9 1584L1274.8 1599L1275.2 1615L1271.8 1631L1265 1643.4L1261 1647.4L1256 1650.1ZM1543 1930.4L1540 1930.9L1537 1929.6L1534 1925.9L1531.3 1920L1527.6 1904L1526 1883L1526.8 1860L1530 1840L1535 1826.4L1538 1822.6L1541 1821.2L1544 1821.8L1547 1824.6L1552 1835.1L1555.7 1852L1557.2 1872L1556.5 1892L1553.6 1910L1549 1923.3L1546 1928L1543 1930.4ZM1308 1972L1304 1972.6L1299 1971.2L1285.9 1961L1269.9 1943L1265.9 1936L1264.4 1930L1265 1910L1266.9 1891L1270.1 1873L1274.3 1857L1279.9 1843L1285.8 1833L1292 1826.8L1299 1824.1L1305 1825.4L1311 1830.2L1317 1839.2L1322 1850.7L1327 1866.8L1331.4 1886L1337.7 1930L1336.2 1940L1330.3 1951L1318 1965.1L1308 1972Z"/><path fill="#600000" fill-rule="evenodd" d="M1542 1912.2L1540 1912.6L1538 1911.8L1534 1905.7L1531.1 1894L1529.9 1879L1530.6 1863L1533 1849.8L1537 1840.6L1541 1838.2L1545 1841.1L1548.1 1848L1550.5 1859L1551.5 1873L1551 1886.5L1549 1898.6L1546 1907.3L1542 1912.2ZM1305 1965L1301 1964.6L1296 1962.4L1285 1953L1276.1 1941L1273.6 1935L1272.8 1930L1275 1898L1277.5 1884L1281 1871.3L1285 1861.4L1290 1853.2L1295 1848.3L1301 1846.3L1306 1847.6L1311 1851.8L1316 1859.3L1320.3 1869L1327.7 1897L1331.9 1930L1329.9 1941L1323.5 1952L1314 1961.4L1309 1964.1L1305 1965Z"/><path fill="url(#dotf)" fill-rule="evenodd" d="M1029 2038.1L1020 2036.6L1013 2029.8L1007.1 2017L999.1 1990L993 1979.8L993 1486L1572 1486L1572 1963.7L1543 1965.5L1529 1963.9L1497 1952.2L1489.7 1948L1484.6 1943L1483.1 1939L1483.4 1935L1498.3 1910L1502.5 1897L1505.2 1882L1507.1 1861L1507.2 1839L1505.7 1822L1502.5 1808L1497.7 1796L1490.5 1784L1482 1773.9L1472 1765.2L1461 1758.7L1450 1754.6L1438 1752.6L1426 1753.1L1415 1755.8L1405 1760.1L1395 1766.7L1385.9 1775L1377.8 1785L1371.2 1796L1366.1 1808L1362.4 1821L1360.2 1835L1359.6 1850L1362.7 1881L1371 1909L1385.6 1934L1386.4 1938L1385.4 1942L1377.8 1950L1349 1966.5L1334 1979L1325.3 1991L1315 2017.1L1309 2025.8L1303 2027.3L1297.6 2023L1284.7 1993L1276 1980.9L1264 1971.4L1249 1964.3L1239 1961.5L1229 1960.5L1200 1962.2L1129 1962L1088 1966L1075 1969.8L1065.7 1975L1059.5 1981L1055.3 1988L1046.6 2017L1041.2 2029L1036 2035.2L1029 2038.1ZM1396.3 1693L1412 1687.3L1428 1676.6L1444 1661.4L1457.3 1644L1467.2 1625L1471.9 1608L1471 1594.1L1468.4 1589L1465 1585.7L1458 1583.1L1449 1583.4L1439 1586.5L1428 1592.3L1417 1600.2L1406 1610.3L1387.3 1634L1380.6 1646L1375.8 1658L1373.4 1669L1373.4 1678L1376 1685.7L1381 1690.9L1388 1693.3L1396.3 1693ZM1151.9 1790L1165 1788.4L1177 1784.8L1189 1778.8L1199.3 1771L1207 1763L1213.4 1754L1232.6 1717L1238.6 1698L1239 1689L1237.8 1680L1234.6 1671L1230.4 1664L1225 1658.4L1218 1653.8L1207 1650.8L1184 1650.7L1156 1644.4L1144 1644.2L1132 1646.1L1116 1651.8L1102 1660.8L1091 1672L1082.2 1686L1076.3 1704L1075.3 1722L1078.9 1740L1087.3 1757L1099.4 1771L1115 1781.7L1133 1788.3L1151.9 1790Z"/><path fill="#fff" d="M981.2 1486.5H1318.7V1499.8H981.2ZM1369.0 1486.5H1404.9V1499.8H1369.0ZM981.2 1499.8H1304.3V1522.4H981.2ZM1354.6 1499.8H1433.6V1522.4H1354.6ZM981.2 1522.4H1290.0V1545.0H981.2ZM1340.2 1522.4H1433.6V1545.0H1340.2ZM981.2 1545.0H1232.5V1567.6H981.2ZM1340.2 1545.0H1404.9V1567.6H1340.2ZM981.2 1567.6H1218.2V1590.2H981.2ZM1340.2 1567.6H1390.5V1590.2H1340.2ZM981.2 1590.2H1203.8V1612.8H981.2ZM1340.2 1590.2H1390.5V1612.8H1340.2ZM981.2 1612.8H1060.2V1635.4H981.2ZM1081.8 1612.8H1117.7V1635.4H1081.8ZM1124.8 1612.8H1189.5V1635.4H1124.8ZM1325.9 1612.8H1390.5V1635.4H1325.9ZM981.2 1635.4H1088.9V1658.0H981.2ZM1124.8 1635.4H1203.8V1658.0H1124.8ZM1325.9 1635.4H1376.1V1658.0H1325.9ZM981.2 1658.0H1088.9V1680.6H981.2ZM1153.6 1658.0H1203.8V1680.6H1153.6ZM1297.2 1658.0H1376.1V1680.6H1297.2ZM981.2 1680.6H1088.9V1703.2H981.2ZM1153.6 1680.6H1203.8V1703.2H1153.6ZM1254.1 1680.6H1376.1V1703.2H1254.1ZM981.2 1703.2H1074.6V1725.8H981.2ZM1153.6 1703.2H1203.8V1725.8H1153.6ZM1211.0 1703.2H1361.8V1725.8H1211.0ZM981.2 1725.8H1074.6V1748.4H981.2ZM1196.6 1725.8H1318.7V1748.4H1196.6ZM981.2 1748.4H1088.9V1771.0H981.2ZM1196.6 1748.4H1275.6V1771.0H1196.6ZM981.2 1771.0H1103.3V1793.7H981.2ZM1196.6 1771.0H1246.9V1793.7H1196.6ZM981.2 1793.7H1103.3V1816.3H981.2ZM1196.6 1793.7H1232.5V1816.3H1196.6ZM981.2 1816.3H1103.3V1838.9H981.2ZM981.2 1838.9H1103.3V1861.5H981.2ZM981.2 1861.5H1088.9V1884.1H981.2ZM981.2 1884.1H1088.9V1906.7H981.2ZM981.2 1906.7H1074.6V1929.3H981.2ZM981.2 1929.3H1060.2V1951.9H981.2ZM1067.4 1929.3H1103.3V1951.9H1067.4ZM981.2 1951.9H1045.9V1974.5H981.2ZM1053.0 1951.9H1103.3V1974.5H1053.0ZM981.2 1974.5H1031.5V1997.1H981.2ZM1053.0 1974.5H1088.9V1997.1H1053.0Z"/>
<path d="M1129.7 1600.4L1120.2 1602.9L1104.7 1609.4L1092.1 1617.3L1087.5 1624.1L1084.3 1628.9L1088.2 1623.0L1093.7 1615.8L1085.9 1614.2L1082.8 1609.4L1090.5 1598.1L1098.4 1590.0L1100.4 1587.5L1097.6 1581.2L1093.7 1579.8L1084.6 1580.7L1076.0 1591.3L1067.1 1601.7L1060.9 1604.9L1053.0 1613.0L1048.3 1619.6L1037.4 1620.5L1032.6 1630.9L1034.2 1639.0L1042.1 1645.6L1049.9 1647.2L1053.0 1660.1L1057.8 1666.6L1064.0 1665.0L1071.7 1655.8L1078.0 1650.3L1084.6 1655.8L1090.5 1658.5L1097.6 1659.2L1101.6 1663.2L1103.2 1668.2L1101.6 1673.2L1094.7 1671.6L1088.9 1673.9L1082.8 1677.9L1076.4 1686.1L1071.7 1689.2L1068.7 1695.8L1060.8 1703.9L1057.8 1715.2L1057.8 1721.8L1064.0 1726.5L1070.3 1731.3L1074.9 1744.4L1079.6 1757.3L1085.9 1772.0L1090.5 1779.2L1093.7 1785.7L1090.4 1790.3L1094.7 1794.8L1094.7 1802.9L1086.5 1810.6L1078.9 1819.6L1071.9 1821.7L1073.7 1825.5L1084.6 1823.0L1097.3 1827.3L1093.7 1838.9L1094.7 1847.9L1090.1 1854.0L1084.6 1865.3L1079.2 1873.0L1076.0 1881.8L1073.7 1889.9L1066.4 1901.5L1062.7 1906.9L1059.1 1916.4L1054.5 1929.3L1049.9 1933.6L1046.3 1948.7L1037.1 1952.6L1031.6 1963.9L1022.6 1973.4L1017.1 1983.5L1013.4 1988.5L1004.4 1988.5L995.2 1990.5M1129.7 1600.4L1139.1 1606.0L1145.4 1617.3L1142.2 1625.5L1143.8 1632.0L1138.3 1638.6L1137.5 1642.7L1142.2 1646.7L1147.0 1650.8L1151.5 1648.3L1156.3 1651.5L1163.3 1651.5L1164.0 1661.2L1165.6 1666.2L1157.7 1673.4L1160.2 1682.4L1164.0 1690.6L1160.9 1698.7L1159.3 1711.6L1162.5 1721.3L1165.6 1727.9L1171.9 1721.3L1179.7 1714.8L1186.0 1716.3L1192.2 1711.6L1198.5 1710.0L1203.2 1705.0L1204.7 1695.3L1203.2 1685.6L1201.7 1675.9L1196.9 1662.8L1192.2 1653.1L1187.6 1641.8L1182.9 1633.6L1175.0 1625.5L1173.4 1615.8L1178.1 1604.5L1186.0 1599.5L1195.3 1594.5L1203.2 1586.4L1206.7 1572.1L1212.3 1559.9L1219.6 1548.4L1221.3 1544.8L1226.8 1541.6L1230.5 1536.0L1239.6 1527.6L1245.5 1531.4L1250.6 1535.3L1263.4 1538.9L1271.3 1533.7L1279.8 1525.8L1285.8 1518.1L1289.5 1512.5L1298.6 1499.8L1305.9 1488.5L1314.4 1474.9M1241.2 1494.2L1246.9 1497.5L1254.1 1490.8L1251.2 1481.7L1244.0 1484.0L1241.2 1494.2M1224.2 1736.9L1229.7 1738.3L1238.3 1736.0L1247.9 1729.5L1257.0 1727.0L1266.0 1723.6L1274.2 1721.3L1280.6 1720.0L1284.2 1723.6L1286.1 1731.3L1284.2 1737.1L1288.5 1746.2L1293.4 1750.3L1297.2 1743.9L1302.5 1736.9L1309.4 1730.4L1306.2 1721.8L1310.1 1714.5L1313.4 1723.6L1320.1 1722.5L1328.0 1725.6L1329.9 1717.9L1334.5 1712.3L1337.4 1723.6L1338.9 1720.0L1341.7 1710.0L1348.9 1707.8L1351.7 1704.8L1351.7 1714.5L1354.6 1716.8L1357.2 1710.5L1360.9 1706.6L1366.4 1699.2L1364.7 1685.2L1364.4 1677.5L1368.0 1658.5L1369.0 1646.7L1369.8 1639.7L1375.3 1637.7L1378.9 1624.4L1382.5 1609.4L1380.7 1597.9L1376.1 1590.2L1371.7 1580.7L1374.7 1569.9L1368.2 1569.9L1365.4 1576.7L1362.5 1575.5L1359.6 1573.3L1357.0 1578.9L1353.2 1588.0L1355.3 1612.8L1351.7 1624.1L1346.0 1639.9L1338.8 1650.8L1330.2 1662.6L1318.7 1671.6L1312.4 1674.5L1311.5 1664.8L1315.1 1656.4L1310.1 1667.1L1307.2 1676.1L1300.5 1681.1L1297.2 1696.5L1288.5 1701.0L1284.1 1698.3L1272.7 1702.1L1261.3 1703.2L1253.1 1702.1L1244.0 1710.0L1234.0 1721.3L1225.6 1730.6L1224.2 1736.9M1224.2 1739.4L1218.2 1740.5L1215.0 1748.4L1208.8 1748.4L1207.7 1754.1L1205.3 1762.0L1208.8 1766.5L1213.9 1768.8L1216.7 1773.3L1213.3 1782.4L1213.9 1795.9L1215.0 1801.8L1219.6 1797.0L1222.3 1799.8L1226.8 1795.9L1229.7 1790.3L1231.8 1782.4L1233.3 1779.0L1237.0 1767.4L1238.7 1756.1L1233.3 1746.6L1228.2 1746.2L1224.2 1739.4M1240.6 1752.3L1248.3 1746.2L1252.6 1737.1L1261.3 1738.3L1267.9 1733.3L1277.1 1731.3L1278.8 1740.8L1272.7 1753.0L1266.0 1748.4L1258.4 1753.0L1253.4 1765.4L1248.3 1763.1L1246.0 1757.9L1240.6 1752.3M1381.9 1477.2L1378.3 1488.5L1380.4 1499.8L1375.3 1512.5L1371.7 1525.8L1362.5 1527.6L1359.6 1533.7L1353.5 1544.8L1354.6 1556.3L1357.0 1567.4L1364.7 1562.0L1369.8 1557.9L1362.5 1548.4L1366.1 1542.7L1373.3 1542.7L1380.7 1542.7L1390.5 1550.7L1400.8 1556.3L1404.4 1544.8L1417.8 1534.8L1426.4 1531.4L1433.6 1530.1L1430.0 1524.0L1428.3 1512.5L1431.9 1503.0L1422.7 1512.5L1412.0 1508.8L1402.0 1502.1L1393.5 1489.9L1386.2 1479.5L1381.9 1477.2M1080.3 1782.4L1086.1 1785.7L1093.7 1793.7M1084.6 1788.0L1090.4 1791.4L1095.4 1794.8M1129.7 1600.4L1137.5 1594.1L1148.4 1582.5L1159.3 1573.0L1166.6 1562.6L1175.8 1563.8L1183.1 1567.4L1184.9 1559.9L1195.9 1554.3L1205.3 1546.1L1210.4 1535.3L1215.3 1540.5L1219.6 1546.1M1220.3 1546.1L1226.8 1536.0L1230.5 1525.8L1228.2 1515.6L1226.8 1506.8L1225.4 1491.7L1229.7 1481.7M1163.3 1651.5L1167.2 1647.9L1170.8 1641.1L1176.5 1639.5L1183.7 1638.8L1187.6 1633.2M1329.8 1639.9L1333.3 1639.9L1332.3 1650.1L1329.0 1650.8L1329.8 1639.9M1255.5 1689.7L1259.1 1685.2L1258.4 1691.9L1255.5 1689.7M1200.2 1733.8L1203.1 1722.5L1201.7 1721.3L1200.2 1733.8M1156.4 1753.0L1160.7 1747.3L1167.2 1749.6L1163.6 1755.2L1156.4 1753.0M1223.9 1819.6L1226.1 1808.3L1225.4 1820.8L1223.9 1819.6M1216.7 1819.6L1220.3 1817.4L1218.9 1821.9L1216.7 1819.6M1199.5 1868.2L1205.3 1861.5L1203.8 1867.1L1199.5 1868.2M1178.0 1915.7L1186.6 1898.8L1183.7 1907.8L1178.0 1915.7M1088.9 1933.8L1094.7 1940.6L1093.2 1949.6L1090.4 1963.2L1087.5 1983.5L1080.3 2008.4L1076.0 2001.6L1070.3 1992.6L1068.8 1979.0L1070.3 1965.4L1076.0 1951.9L1081.8 1940.6L1088.9 1933.8M1041.6 1757.5L1044.4 1748.4L1050.2 1750.7L1051.6 1755.2L1047.3 1757.5L1045.9 1762.0L1041.6 1757.5M1066.0 1802.7L1068.8 1793.7L1073.1 1798.2L1070.3 1805.0L1066.0 1802.7M1433.6 1520.1L1440.8 1506.6L1447.9 1499.8L1442.2 1511.1L1433.6 1520.1M1449.4 1497.5L1458.0 1488.5L1463.7 1484.0L1455.1 1493.0L1449.4 1497.5" stroke="#2a2a2a" stroke-width="1.15" fill="none" stroke-linejoin="round"/>
<path d="M1067.4 1488.5V2053.6M1211.0 1488.5V2053.6M1354.6 1488.5V2053.6M1498.2 1488.5V2053.6M995.6 1827.6H1570.0M995.6 1601.5H1570.0" stroke="#b0b0b0" stroke-width="1.4" stroke-dasharray="5.5 3" fill="none"/>
</g>
<rect x="995.6" y="1488.5" width="574.4" height="565.1" fill="none" stroke="#111" stroke-width="2"/>
<text x="78.2" y="615.6" font-size="32.038353473057825" textLength="40.2" lengthAdjust="spacingAndGlyphs">20N</text>
<text x="78.2" y="406.0" font-size="32.038353473057825" textLength="40.2" lengthAdjust="spacingAndGlyphs">30N</text>
<text x="78.2" y="196.3" font-size="32.038353473057825" textLength="40.2" lengthAdjust="spacingAndGlyphs">40N</text>
<path d="M124.9 604.7H132.4M124.9 395.1H132.4M124.9 185.4H132.4" stroke="#555" stroke-width="1.4"/>
<text x="78.2" y="1253.5" font-size="32.038353473057825" textLength="40.2" lengthAdjust="spacingAndGlyphs">20N</text>
<text x="78.2" y="1043.6" font-size="32.038353473057825" textLength="40.2" lengthAdjust="spacingAndGlyphs">30N</text>
<text x="78.2" y="833.7" font-size="32.038353473057825" textLength="40.2" lengthAdjust="spacingAndGlyphs">40N</text>
<path d="M124.9 1242.6H132.4M124.9 1032.7H132.4M124.9 822.8H132.4" stroke="#555" stroke-width="1.4"/>
<text x="78.8" y="2066.0" font-size="36.471896022629316" textLength="41.8" lengthAdjust="spacingAndGlyphs">20N</text>
<text x="78.8" y="1839.8" font-size="36.471896022629316" textLength="41.8" lengthAdjust="spacingAndGlyphs">30N</text>
<text x="78.8" y="1613.5" font-size="36.471896022629316" textLength="41.8" lengthAdjust="spacingAndGlyphs">40N</text>
<path d="M127.1 2053.6H134.6M127.1 1827.4H134.6M127.1 1601.1H134.6" stroke="#555" stroke-width="1.4"/>
<text x="176.6" y="1281.2" font-size="32.81738507185528" textLength="49.3" lengthAdjust="spacingAndGlyphs">120E</text>
<text x="315.3" y="1281.2" font-size="32.81738507185528" textLength="49.3" lengthAdjust="spacingAndGlyphs">130E</text>
<text x="454.0" y="1281.2" font-size="32.81738507185528" textLength="49.3" lengthAdjust="spacingAndGlyphs">140E</text>
<path d="M201.8 1242.6v8M340.5 1242.6v8M479.2 1242.6v8" stroke="#555" stroke-width="1.4"/>
<text x="591.3" y="1281.2" font-size="32.81738507185528" textLength="49.3" lengthAdjust="spacingAndGlyphs">120E</text>
<text x="729.8" y="1281.2" font-size="32.81738507185528" textLength="49.3" lengthAdjust="spacingAndGlyphs">130E</text>
<text x="868.2" y="1281.2" font-size="32.81738507185528" textLength="49.3" lengthAdjust="spacingAndGlyphs">140E</text>
<path d="M616.5 1242.6v8M755.0 1242.6v8M893.4 1242.6v8" stroke="#555" stroke-width="1.4"/>
<text x="1006.4" y="1281.2" font-size="32.81738507185528" textLength="49.3" lengthAdjust="spacingAndGlyphs">120E</text>
<text x="1144.7" y="1281.2" font-size="32.81738507185528" textLength="49.3" lengthAdjust="spacingAndGlyphs">130E</text>
<text x="1283.1" y="1281.2" font-size="32.81738507185528" textLength="49.3" lengthAdjust="spacingAndGlyphs">140E</text>
<text x="1421.4" y="1281.2" font-size="32.81738507185528" textLength="49.3" lengthAdjust="spacingAndGlyphs">150E</text>
<path d="M1031.6 1242.6v8M1169.9 1242.6v8M1308.3 1242.6v8M1446.6 1242.6v8" stroke="#555" stroke-width="1.4"/>
<text x="181.4" y="2095.8" font-size="34.38704575829477" textLength="50.4" lengthAdjust="spacingAndGlyphs">120E</text>
<text x="325.1" y="2095.8" font-size="34.38704575829477" textLength="50.4" lengthAdjust="spacingAndGlyphs">130E</text>
<text x="468.8" y="2095.8" font-size="34.38704575829477" textLength="50.4" lengthAdjust="spacingAndGlyphs">140E</text>
<path d="M206.4 2053.6v8M350.1 2053.6v8M493.8 2053.6v8" stroke="#555" stroke-width="1.4"/>
<text x="611.8" y="2095.6" font-size="34.38704575829477" textLength="50.4" lengthAdjust="spacingAndGlyphs">120E</text>
<text x="755.5" y="2095.6" font-size="34.38704575829477" textLength="50.4" lengthAdjust="spacingAndGlyphs">130E</text>
<text x="899.3" y="2095.6" font-size="34.38704575829477" textLength="50.4" lengthAdjust="spacingAndGlyphs">140E</text>
<path d="M636.8 2053.4v8M780.5 2053.4v8M924.3 2053.4v8" stroke="#555" stroke-width="1.4"/>
<text x="1042.4" y="2095.8" font-size="34.38704575829477" textLength="50.4" lengthAdjust="spacingAndGlyphs">120E</text>
<text x="1186.0" y="2095.8" font-size="34.38704575829477" textLength="50.4" lengthAdjust="spacingAndGlyphs">130E</text>
<text x="1329.6" y="2095.8" font-size="34.38704575829477" textLength="50.4" lengthAdjust="spacingAndGlyphs">140E</text>
<text x="1473.2" y="2095.8" font-size="34.38704575829477" textLength="50.4" lengthAdjust="spacingAndGlyphs">150E</text>
<path d="M1067.4 2053.6v8M1211.0 2053.6v8M1354.6 2053.6v8M1498.2 2053.6v8" stroke="#555" stroke-width="1.4"/>
<text x="143.6" y="54.1" font-size="70.7499655784268" textLength="37.4" lengthAdjust="spacingAndGlyphs">a</text>
<text x="568.2" y="55.6" font-size="73.06951136231086" textLength="42.0" lengthAdjust="spacingAndGlyphs">d</text>
<text x="1002.1" y="54.1" font-size="73.05555898484657" textLength="41.9" lengthAdjust="spacingAndGlyphs">g</text>
<text x="141.6" y="692.3" font-size="73.06951136231042" textLength="43.6" lengthAdjust="spacingAndGlyphs">b</text>
<text x="571.8" y="695.6" font-size="69.45034846884187" textLength="42.1" lengthAdjust="spacingAndGlyphs">e</text>
<text x="1002.3" y="691.5" font-size="72.8107809534547" textLength="42.2" lengthAdjust="spacingAndGlyphs">h</text>
<text x="140.8" y="1462.5" font-size="67.80289123230847" textLength="38.9" lengthAdjust="spacingAndGlyphs">c</text>
<text x="571.0" y="1463.1" font-size="73.50789863019995" textLength="24.2" lengthAdjust="spacingAndGlyphs">f</text>
<text x="1004.0" y="1462.5" font-size="72.49975711511988" textLength="14.8" lengthAdjust="spacingAndGlyphs">i</text>
<text x="268.8" y="51.9" font-size="45.29099183584843" textLength="102.7" lengthAdjust="spacingAndGlyphs">VWS</text>
<text x="724.2" y="52.3" font-size="45.54258515668869" textLength="60.3" lengthAdjust="spacingAndGlyphs">RV</text>
<text x="1240.4" y="51.6" font-size="47.08205624043561" textLength="85.8" lengthAdjust="spacingAndGlyphs">SST</text>
<text transform="translate(34.30,457.27) rotate(-90)" font-size="40.41" textLength="147.7" lengthAdjust="spacingAndGlyphs">Period 1</text>
<text transform="translate(34.80,1146.99) rotate(-90)" font-size="40.41" textLength="153.1" lengthAdjust="spacingAndGlyphs">Period 2</text>
<text transform="translate(36.32,2102.69) rotate(-90)" font-size="41.82" textLength="596.3" lengthAdjust="spacingAndGlyphs">Composite (Period 2 – Period 1)</text>
<linearGradient id="gVWS" x1="0" x2="1" y1="0" y2="0"><stop offset="0.0000" stop-color="#000080"/><stop offset="0.0350" stop-color="#00008f"/><stop offset="0.1200" stop-color="#0000ff"/><stop offset="0.2000" stop-color="#0020ff"/><stop offset="0.2810" stop-color="#0090ff"/><stop offset="0.3780" stop-color="#00d8ff"/><stop offset="0.4890" stop-color="#20f0e0"/><stop offset="0.6100" stop-color="#60ffa0"/><stop offset="0.6610" stop-color="#a0ff50"/><stop offset="0.6950" stop-color="#c0ff30"/><stop offset="0.7530" stop-color="#ffff00"/><stop offset="0.8030" stop-color="#ff9000"/><stop offset="0.8470" stop-color="#ff3000"/><stop offset="0.8780" stop-color="#ff0000"/><stop offset="0.9150" stop-color="#e00000"/><stop offset="0.9660" stop-color="#a00000"/><stop offset="1.0000" stop-color="#800000"/></linearGradient><rect x="132.5" y="1321.7" width="352.7" height="34.1" fill="url(#gVWS)"/><rect x="382.4" y="1321.7" width="1.1" height="34.1" fill="#f4f4f4" opacity="0.8"/><rect x="547.00" y="1321.5" width="15.62" height="34.5" fill="#000050"/><rect x="562.02" y="1321.5" width="15.62" height="34.5" fill="#000070"/><rect x="577.04" y="1321.5" width="15.62" height="34.5" fill="#000090"/><rect x="592.06" y="1321.5" width="15.62" height="34.5" fill="#0000b0"/><rect x="607.08" y="1321.5" width="15.62" height="34.5" fill="#0000d0"/><rect x="622.10" y="1321.5" width="15.62" height="34.5" fill="#0000f0"/><rect x="637.12" y="1321.5" width="15.62" height="34.5" fill="#0000ff"/><rect x="652.15" y="1321.5" width="15.62" height="34.5" fill="#3030ff"/><rect x="667.17" y="1321.5" width="15.62" height="34.5" fill="#6060ff"/><rect x="682.19" y="1321.5" width="15.62" height="34.5" fill="#8c8cff"/><rect x="697.21" y="1321.5" width="15.62" height="34.5" fill="#b4b4ff"/><rect x="712.23" y="1321.5" width="15.62" height="34.5" fill="#e0e0ff"/><rect x="727.25" y="1321.5" width="15.62" height="34.5" fill="#ffffff"/><rect x="742.27" y="1321.5" width="15.62" height="34.5" fill="#ffd0d0"/><rect x="757.29" y="1321.5" width="15.62" height="34.5" fill="#ffa8a8"/><rect x="772.31" y="1321.5" width="15.62" height="34.5" fill="#ff7878"/><rect x="787.33" y="1321.5" width="15.62" height="34.5" fill="#ff4848"/><rect x="802.35" y="1321.5" width="15.62" height="34.5" fill="#ff1818"/><rect x="817.38" y="1321.5" width="15.62" height="34.5" fill="#ff0000"/><rect x="832.40" y="1321.5" width="15.62" height="34.5" fill="#e80000"/><rect x="847.42" y="1321.5" width="15.62" height="34.5" fill="#d00000"/><rect x="862.44" y="1321.5" width="15.62" height="34.5" fill="#b40000"/><rect x="877.46" y="1321.5" width="15.62" height="34.5" fill="#980000"/><rect x="892.48" y="1321.5" width="15.62" height="34.5" fill="#700000"/><linearGradient id="gSST" x1="0" x2="1" y1="0" y2="0"><stop offset="0.0000" stop-color="#000080"/><stop offset="0.0349" stop-color="#000080"/><stop offset="0.1186" stop-color="#0000ff"/><stop offset="0.1605" stop-color="#0030ff"/><stop offset="0.2628" stop-color="#0060ff"/><stop offset="0.3186" stop-color="#0090ff"/><stop offset="0.3744" stop-color="#00c8ff"/><stop offset="0.4256" stop-color="#00e0f0"/><stop offset="0.4953" stop-color="#20f0d8"/><stop offset="0.5930" stop-color="#50ffa0"/><stop offset="0.6721" stop-color="#90ff60"/><stop offset="0.7233" stop-color="#c0ff30"/><stop offset="0.7698" stop-color="#ffff00"/><stop offset="0.7930" stop-color="#ffc000"/><stop offset="0.8256" stop-color="#ff9000"/><stop offset="0.8628" stop-color="#ff6000"/><stop offset="0.8860" stop-color="#ff3000"/><stop offset="0.8977" stop-color="#ff0000"/><stop offset="0.9465" stop-color="#e00000"/><stop offset="1.0000" stop-color="#a00000"/></linearGradient><rect x="955.6" y="1321" width="573.9" height="35" fill="url(#gSST)"/><rect x="134.60" y="2110.0" width="7.65" height="38.0" fill="#000056"/><rect x="141.65" y="2110.0" width="7.65" height="38.0" fill="#000063"/><rect x="148.69" y="2110.0" width="7.65" height="38.0" fill="#000070"/><rect x="155.74" y="2110.0" width="7.65" height="38.0" fill="#00007c"/><rect x="162.78" y="2110.0" width="7.65" height="38.0" fill="#000089"/><rect x="169.83" y="2110.0" width="7.65" height="38.0" fill="#000096"/><rect x="176.88" y="2110.0" width="7.65" height="38.0" fill="#0000a2"/><rect x="183.92" y="2110.0" width="7.65" height="38.0" fill="#0000af"/><rect x="190.97" y="2110.0" width="7.65" height="38.0" fill="#0000bc"/><rect x="198.02" y="2110.0" width="7.65" height="38.0" fill="#0000c8"/><rect x="205.06" y="2110.0" width="7.65" height="38.0" fill="#0000d5"/><rect x="212.11" y="2110.0" width="7.65" height="38.0" fill="#0000e1"/><rect x="219.15" y="2110.0" width="7.65" height="38.0" fill="#0000ee"/><rect x="226.20" y="2110.0" width="7.65" height="38.0" fill="#0000fb"/><rect x="233.25" y="2110.0" width="7.65" height="38.0" fill="#0f0fff"/><rect x="240.29" y="2110.0" width="7.65" height="38.0" fill="#2525ff"/><rect x="247.34" y="2110.0" width="7.65" height="38.0" fill="#3a3aff"/><rect x="254.38" y="2110.0" width="7.65" height="38.0" fill="#5050ff"/><rect x="261.43" y="2110.0" width="7.65" height="38.0" fill="#6666ff"/><rect x="268.48" y="2110.0" width="7.65" height="38.0" fill="#7c7cff"/><rect x="275.52" y="2110.0" width="7.65" height="38.0" fill="#9292ff"/><rect x="282.57" y="2110.0" width="7.65" height="38.0" fill="#a8a8ff"/><rect x="289.62" y="2110.0" width="7.65" height="38.0" fill="#bebeff"/><rect x="296.66" y="2110.0" width="7.65" height="38.0" fill="#d4d4ff"/><rect x="303.71" y="2110.0" width="7.65" height="38.0" fill="#eaeaff"/><rect x="310.75" y="2110.0" width="7.65" height="38.0" fill="#ffffff"/><rect x="317.80" y="2110.0" width="7.65" height="38.0" fill="#ffffff"/><rect x="324.85" y="2110.0" width="7.65" height="38.0" fill="#ffebeb"/><rect x="331.89" y="2110.0" width="7.65" height="38.0" fill="#ffd7d7"/><rect x="338.94" y="2110.0" width="7.65" height="38.0" fill="#ffc3c3"/><rect x="345.98" y="2110.0" width="7.65" height="38.0" fill="#ffafaf"/><rect x="353.03" y="2110.0" width="7.65" height="38.0" fill="#ff9b9b"/><rect x="360.08" y="2110.0" width="7.65" height="38.0" fill="#ff8787"/><rect x="367.12" y="2110.0" width="7.65" height="38.0" fill="#ff7373"/><rect x="374.17" y="2110.0" width="7.65" height="38.0" fill="#ff5f5f"/><rect x="381.22" y="2110.0" width="7.65" height="38.0" fill="#ff4b4b"/><rect x="388.26" y="2110.0" width="7.65" height="38.0" fill="#ff3737"/><rect x="395.31" y="2110.0" width="7.65" height="38.0" fill="#ff2323"/><rect x="402.35" y="2110.0" width="7.65" height="38.0" fill="#ff0f0f"/><rect x="409.40" y="2110.0" width="7.65" height="38.0" fill="#fc0000"/><rect x="416.45" y="2110.0" width="7.65" height="38.0" fill="#ef0000"/><rect x="423.49" y="2110.0" width="7.65" height="38.0" fill="#e20000"/><rect x="430.54" y="2110.0" width="7.65" height="38.0" fill="#d50000"/><rect x="437.58" y="2110.0" width="7.65" height="38.0" fill="#c80000"/><rect x="444.63" y="2110.0" width="7.65" height="38.0" fill="#bb0000"/><rect x="451.68" y="2110.0" width="7.65" height="38.0" fill="#ae0000"/><rect x="458.72" y="2110.0" width="7.65" height="38.0" fill="#a10000"/><rect x="465.77" y="2110.0" width="7.65" height="38.0" fill="#940000"/><rect x="472.82" y="2110.0" width="7.65" height="38.0" fill="#870000"/><rect x="479.86" y="2110.0" width="7.65" height="38.0" fill="#7a0000"/><rect x="486.91" y="2110.0" width="7.65" height="38.0" fill="#6d0000"/><rect x="493.95" y="2110.0" width="7.65" height="38.0" fill="#600000"/><rect x="565.60" y="2110.4" width="12.26" height="38.0" fill="#000050"/><rect x="577.26" y="2110.4" width="12.26" height="38.0" fill="#000060"/><rect x="588.91" y="2110.4" width="12.26" height="38.0" fill="#000078"/><rect x="600.57" y="2110.4" width="12.26" height="38.0" fill="#000090"/><rect x="612.23" y="2110.4" width="12.26" height="38.0" fill="#0000a8"/><rect x="623.88" y="2110.4" width="12.26" height="38.0" fill="#0000c0"/><rect x="635.54" y="2110.4" width="12.26" height="38.0" fill="#0000d8"/><rect x="647.19" y="2110.4" width="12.26" height="38.0" fill="#0000f0"/><rect x="658.85" y="2110.4" width="12.26" height="38.0" fill="#0000ff"/><rect x="670.51" y="2110.4" width="12.26" height="38.0" fill="#2020ff"/><rect x="682.16" y="2110.4" width="12.26" height="38.0" fill="#4040ff"/><rect x="693.82" y="2110.4" width="12.26" height="38.0" fill="#6060ff"/><rect x="705.48" y="2110.4" width="12.26" height="38.0" fill="#8080ff"/><rect x="717.13" y="2110.4" width="12.26" height="38.0" fill="#a0a0ff"/><rect x="728.79" y="2110.4" width="12.26" height="38.0" fill="#c8c8ff"/><rect x="740.44" y="2110.4" width="12.26" height="38.0" fill="#e8e8ff"/><rect x="752.10" y="2110.4" width="12.26" height="38.0" fill="#ffffff"/><rect x="763.76" y="2110.4" width="12.26" height="38.0" fill="#ffd8d8"/><rect x="775.41" y="2110.4" width="12.26" height="38.0" fill="#ffb8b8"/><rect x="787.07" y="2110.4" width="12.26" height="38.0" fill="#ff9898"/><rect x="798.73" y="2110.4" width="12.26" height="38.0" fill="#ff7070"/><rect x="810.38" y="2110.4" width="12.26" height="38.0" fill="#ff5050"/><rect x="822.04" y="2110.4" width="12.26" height="38.0" fill="#ff3030"/><rect x="833.69" y="2110.4" width="12.26" height="38.0" fill="#ff1010"/><rect x="845.35" y="2110.4" width="12.26" height="38.0" fill="#ff0000"/><rect x="857.01" y="2110.4" width="12.26" height="38.0" fill="#e80000"/><rect x="868.66" y="2110.4" width="12.26" height="38.0" fill="#d00000"/><rect x="880.32" y="2110.4" width="12.26" height="38.0" fill="#b80000"/><rect x="891.98" y="2110.4" width="12.26" height="38.0" fill="#a00000"/><rect x="903.63" y="2110.4" width="12.26" height="38.0" fill="#880000"/><rect x="915.29" y="2110.4" width="12.26" height="38.0" fill="#700000"/><rect x="926.94" y="2110.4" width="12.26" height="38.0" fill="#580000"/><rect x="988.60" y="2110.4" width="12.05" height="37.8" fill="#000056"/><rect x="1000.05" y="2110.4" width="12.05" height="37.8" fill="#000063"/><rect x="1011.50" y="2110.4" width="12.05" height="37.8" fill="#000070"/><rect x="1022.94" y="2110.4" width="12.05" height="37.8" fill="#00007c"/><rect x="1034.39" y="2110.4" width="12.05" height="37.8" fill="#000089"/><rect x="1045.84" y="2110.4" width="12.05" height="37.8" fill="#000096"/><rect x="1057.29" y="2110.4" width="12.05" height="37.8" fill="#0000a2"/><rect x="1068.74" y="2110.4" width="12.05" height="37.8" fill="#0000af"/><rect x="1080.18" y="2110.4" width="12.05" height="37.8" fill="#0000bc"/><rect x="1091.63" y="2110.4" width="12.05" height="37.8" fill="#0000c8"/><rect x="1103.08" y="2110.4" width="12.05" height="37.8" fill="#0000d5"/><rect x="1114.53" y="2110.4" width="12.05" height="37.8" fill="#0000e1"/><rect x="1125.98" y="2110.4" width="12.05" height="37.8" fill="#0000ee"/><rect x="1137.42" y="2110.4" width="12.05" height="37.8" fill="#0000fb"/><rect x="1148.87" y="2110.4" width="12.05" height="37.8" fill="#0f0fff"/><rect x="1160.32" y="2110.4" width="12.05" height="37.8" fill="#2525ff"/><rect x="1171.77" y="2110.4" width="12.05" height="37.8" fill="#3a3aff"/><rect x="1183.22" y="2110.4" width="12.05" height="37.8" fill="#5050ff"/><rect x="1194.67" y="2110.4" width="12.05" height="37.8" fill="#6666ff"/><rect x="1206.11" y="2110.4" width="12.05" height="37.8" fill="#7c7cff"/><rect x="1217.56" y="2110.4" width="12.05" height="37.8" fill="#9292ff"/><rect x="1229.01" y="2110.4" width="12.05" height="37.8" fill="#a8a8ff"/><rect x="1240.46" y="2110.4" width="12.05" height="37.8" fill="#bebeff"/><rect x="1251.91" y="2110.4" width="12.05" height="37.8" fill="#d4d4ff"/><rect x="1263.35" y="2110.4" width="12.05" height="37.8" fill="#eaeaff"/><rect x="1274.80" y="2110.4" width="12.05" height="37.8" fill="#ffffff"/><rect x="1286.25" y="2110.4" width="12.05" height="37.8" fill="#ffffff"/><rect x="1297.70" y="2110.4" width="12.05" height="37.8" fill="#ffebeb"/><rect x="1309.15" y="2110.4" width="12.05" height="37.8" fill="#ffd7d7"/><rect x="1320.59" y="2110.4" width="12.05" height="37.8" fill="#ffc3c3"/><rect x="1332.04" y="2110.4" width="12.05" height="37.8" fill="#ffafaf"/><rect x="1343.49" y="2110.4" width="12.05" height="37.8" fill="#ff9b9b"/><rect x="1354.94" y="2110.4" width="12.05" height="37.8" fill="#ff8787"/><rect x="1366.39" y="2110.4" width="12.05" height="37.8" fill="#ff7373"/><rect x="1377.83" y="2110.4" width="12.05" height="37.8" fill="#ff5f5f"/><rect x="1389.28" y="2110.4" width="12.05" height="37.8" fill="#ff4b4b"/><rect x="1400.73" y="2110.4" width="12.05" height="37.8" fill="#ff3737"/><rect x="1412.18" y="2110.4" width="12.05" height="37.8" fill="#ff2323"/><rect x="1423.63" y="2110.4" width="12.05" height="37.8" fill="#ff0f0f"/><rect x="1435.08" y="2110.4" width="12.05" height="37.8" fill="#fc0000"/><rect x="1446.52" y="2110.4" width="12.05" height="37.8" fill="#ef0000"/><rect x="1457.97" y="2110.4" width="12.05" height="37.8" fill="#e20000"/><rect x="1469.42" y="2110.4" width="12.05" height="37.8" fill="#d50000"/><rect x="1480.87" y="2110.4" width="12.05" height="37.8" fill="#c80000"/><rect x="1492.32" y="2110.4" width="12.05" height="37.8" fill="#bb0000"/><rect x="1503.76" y="2110.4" width="12.05" height="37.8" fill="#ae0000"/><rect x="1515.21" y="2110.4" width="12.05" height="37.8" fill="#a10000"/><rect x="1526.66" y="2110.4" width="12.05" height="37.8" fill="#940000"/><rect x="1538.11" y="2110.4" width="12.05" height="37.8" fill="#870000"/><rect x="1549.56" y="2110.4" width="12.05" height="37.8" fill="#7a0000"/><rect x="1561.00" y="2110.4" width="12.05" height="37.8" fill="#6d0000"/><rect x="1572.45" y="2110.4" width="12.05" height="37.8" fill="#600000"/><text x="120.3" y="1390.4" font-size="31.9" textLength="29.7" lengthAdjust="spacingAndGlyphs">10</text><text x="166.8" y="1390.7" font-size="32.9" textLength="28.7" lengthAdjust="spacingAndGlyphs">14</text><text x="213.7" y="1390.4" font-size="31.9" textLength="28.5" lengthAdjust="spacingAndGlyphs">18</text><text x="258.8" y="1390.7" font-size="32.4" textLength="30.5" lengthAdjust="spacingAndGlyphs">22</text><text x="304.9" y="1390.4" font-size="31.9" textLength="30.0" lengthAdjust="spacingAndGlyphs">26</text><text x="351.7" y="1390.4" font-size="31.9" textLength="28.3" lengthAdjust="spacingAndGlyphs">30</text><text x="398.2" y="1390.4" font-size="31.9" textLength="29.3" lengthAdjust="spacingAndGlyphs">34</text><text x="444.0" y="1390.4" font-size="31.9" textLength="30.5" lengthAdjust="spacingAndGlyphs">38</text><text x="531.1" y="1390.4" font-size="31.9" textLength="59.0" lengthAdjust="spacingAndGlyphs">-0.11</text><text x="681.8" y="1390.4" font-size="31.9" textLength="59.0" lengthAdjust="spacingAndGlyphs">-0.01</text><text x="836.5" y="1390.4" font-size="31.9" textLength="52.1" lengthAdjust="spacingAndGlyphs">0.09</text><text x="947.0" y="1390.4" font-size="31.9" textLength="30.1" lengthAdjust="spacingAndGlyphs">10</text><text x="1080.6" y="1390.4" font-size="32.4" textLength="29.8" lengthAdjust="spacingAndGlyphs">15</text><text x="1213.2" y="1390.4" font-size="31.9" textLength="31.2" lengthAdjust="spacingAndGlyphs">20</text><text x="1346.5" y="1390.4" font-size="31.9" textLength="31.3" lengthAdjust="spacingAndGlyphs">25</text><text x="1481.0" y="1390.4" font-size="31.9" textLength="29.9" lengthAdjust="spacingAndGlyphs">30</text><text x="128.9" y="2184.7" font-size="34.8" textLength="26.3" lengthAdjust="spacingAndGlyphs">-5</text><text x="199.5" y="2184.7" font-size="34.3" textLength="25.1" lengthAdjust="spacingAndGlyphs">-3</text><text x="269.7" y="2185.0" font-size="35.3" textLength="22.1" lengthAdjust="spacingAndGlyphs">-1</text><text x="346.2" y="2185.0" font-size="35.3" textLength="13.6" lengthAdjust="spacingAndGlyphs">1</text><text x="415.5" y="2184.7" font-size="34.3" textLength="16.4" lengthAdjust="spacingAndGlyphs">3</text><text x="485.8" y="2184.7" font-size="34.8" textLength="16.4" lengthAdjust="spacingAndGlyphs">5</text><text x="544.9" y="2184.7" font-size="34.3" textLength="64.0" lengthAdjust="spacingAndGlyphs">-0.15</text><text x="662.0" y="2184.7" font-size="34.3" textLength="62.8" lengthAdjust="spacingAndGlyphs">-0.05</text><text x="783.4" y="2184.7" font-size="34.3" textLength="53.1" lengthAdjust="spacingAndGlyphs">0.05</text><text x="899.2" y="2184.7" font-size="34.3" textLength="53.9" lengthAdjust="spacingAndGlyphs">0.15</text><text x="975.5" y="2184.7" font-size="34.3" textLength="48.5" lengthAdjust="spacingAndGlyphs">-0.5</text><text x="1089.6" y="2184.7" font-size="34.3" textLength="48.6" lengthAdjust="spacingAndGlyphs">-0.3</text><text x="1205.2" y="2184.7" font-size="34.3" textLength="45.4" lengthAdjust="spacingAndGlyphs">-0.1</text><text x="1323.7" y="2184.7" font-size="34.3" textLength="36.8" lengthAdjust="spacingAndGlyphs">0.1</text><text x="1437.6" y="2184.7" font-size="34.3" textLength="40.2" lengthAdjust="spacingAndGlyphs">0.3</text><text x="1552.1" y="2184.7" font-size="34.3" textLength="40.9" lengthAdjust="spacingAndGlyphs">0.5</text><text x="298.3" y="1347.8" font-size="33.7" font-weight="bold">ms</text><text x="348.1" y="1337.6" font-size="22.5" font-weight="bold">-</text><text x="354.2" y="1337.6" font-size="22.5" font-weight="bold">1</text><text x="298.3" y="2138.2" font-size="33.7" font-weight="bold">ms</text><text x="348.1" y="2128.0" font-size="22.5" font-weight="bold">-</text><text x="354.2" y="2128.0" font-size="22.5" font-weight="bold">1</text><text x="714.1" y="1347.8" font-size="34.0" font-weight="bold">10</text><text x="751.2" y="1336.8" font-size="21.0" font-weight="bold">6</text><text x="765.1" y="1347.8" font-size="34.0" font-weight="bold">s</text><text x="784.3" y="1337.5" font-size="21.0" font-weight="bold">-</text><text x="791.4" y="1337.5" font-size="21.0" font-weight="bold">1</text><text x="717.1" y="2138.9" font-size="34.0" font-weight="bold">10</text><text x="756.5" y="2127.6" font-size="21.0" font-weight="bold">6</text><text x="767.0" y="2138.9" font-size="34.0" font-weight="bold">s</text><text x="787.0" y="2129.0" font-size="21.0" font-weight="bold">-</text><text x="794.4" y="2129.0" font-size="21.0" font-weight="bold">1</text><text x="1287.8" y="1349.6" font-size="34.4" font-weight="bold">°</text><text x="1302.0" y="1349.6" font-size="34.4" font-weight="bold">C</text><text x="1277.7" y="2140.5" font-size="34.4" font-weight="bold">°</text><text x="1291.9" y="2140.5" font-size="34.4" font-weight="bold">C</text>
</svg>
</body></html>
